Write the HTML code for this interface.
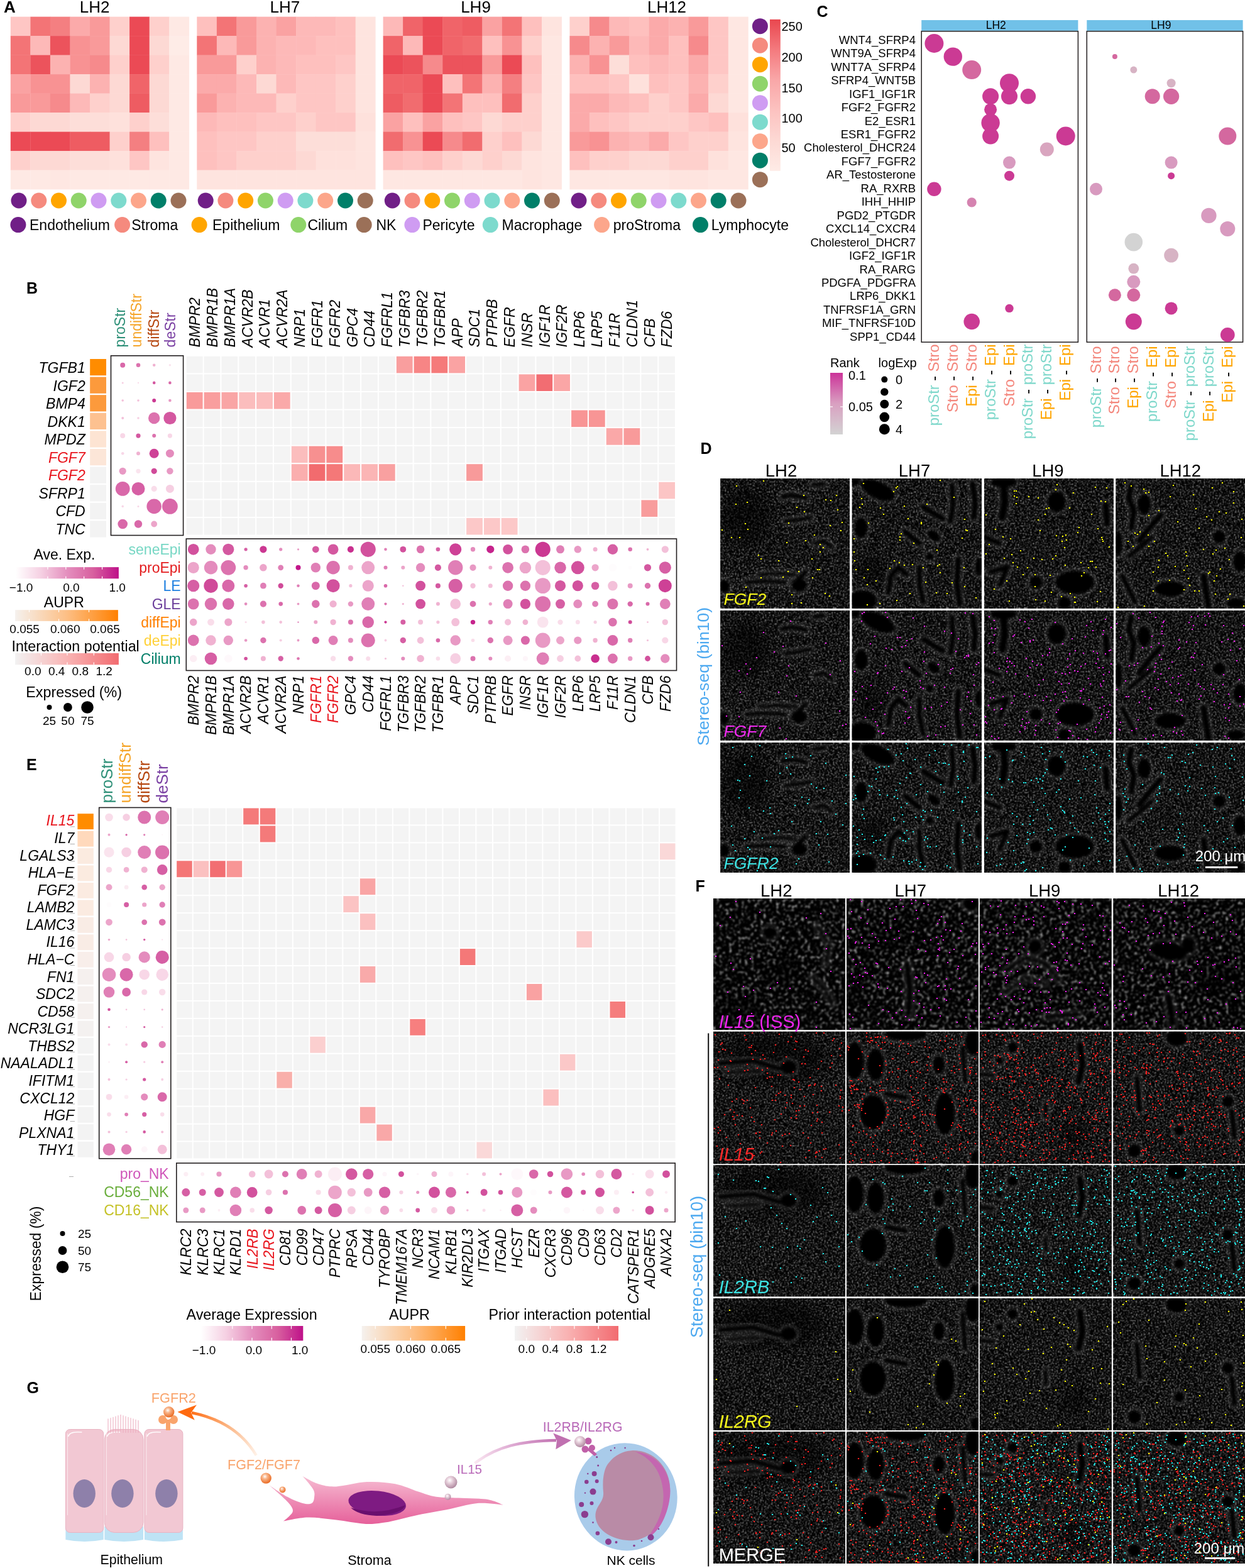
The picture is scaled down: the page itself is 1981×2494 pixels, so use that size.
<!DOCTYPE html><html><head><meta charset="utf-8"><title>Figure</title><style>html,body{margin:0;padding:0;background:#fff;}svg{display:block;}</style></head><body><svg width="1981" height="2494" viewBox="0 0 1981 2494" font-family='"Liberation Sans", Arial, sans-serif'><rect width="100%" height="100%" fill="#fff"/><text x="6" y="20" font-size="26" font-weight="bold">A</text>
<text x="150.7" y="20" font-size="26" text-anchor="middle">LH2</text>
<rect x="16.8" y="26.6" width="31.9" height="30.8" fill="#fec6c4"/>
<rect x="48.4" y="26.6" width="31.9" height="30.8" fill="#f37476"/>
<rect x="79.9" y="26.6" width="31.9" height="30.8" fill="#f47f81"/>
<rect x="111.5" y="26.6" width="31.9" height="30.8" fill="#fbaaaa"/>
<rect x="143" y="26.6" width="31.9" height="30.8" fill="#f99a9a"/>
<rect x="174.6" y="26.6" width="31.9" height="30.8" fill="#fed0cc"/>
<rect x="206.1" y="26.6" width="31.9" height="30.8" fill="#eb4a55"/>
<rect x="237.7" y="26.6" width="31.9" height="30.8" fill="#fed0cc"/>
<rect x="269.2" y="26.6" width="31.9" height="30.8" fill="#fee9e4"/>
<rect x="16.8" y="57.1" width="31.9" height="30.8" fill="#f37476"/>
<rect x="48.4" y="57.1" width="31.9" height="30.8" fill="#fdb9b8"/>
<rect x="79.9" y="57.1" width="31.9" height="30.8" fill="#ec535c"/>
<rect x="111.5" y="57.1" width="31.9" height="30.8" fill="#f89293"/>
<rect x="143" y="57.1" width="31.9" height="30.8" fill="#f99a9a"/>
<rect x="174.6" y="57.1" width="31.9" height="30.8" fill="#fdd9d4"/>
<rect x="206.1" y="57.1" width="31.9" height="30.8" fill="#eb4a55"/>
<rect x="237.7" y="57.1" width="31.9" height="30.8" fill="#fdd9d4"/>
<rect x="269.2" y="57.1" width="31.9" height="30.8" fill="#feece7"/>
<rect x="16.8" y="87.6" width="31.9" height="30.8" fill="#f37476"/>
<rect x="48.4" y="87.6" width="31.9" height="30.8" fill="#ec535c"/>
<rect x="79.9" y="87.6" width="31.9" height="30.8" fill="#fcb2b1"/>
<rect x="111.5" y="87.6" width="31.9" height="30.8" fill="#f89293"/>
<rect x="143" y="87.6" width="31.9" height="30.8" fill="#f68a8c"/>
<rect x="174.6" y="87.6" width="31.9" height="30.8" fill="#fed0cc"/>
<rect x="206.1" y="87.6" width="31.9" height="30.8" fill="#eb4a55"/>
<rect x="237.7" y="87.6" width="31.9" height="30.8" fill="#fed0cc"/>
<rect x="269.2" y="87.6" width="31.9" height="30.8" fill="#fee9e4"/>
<rect x="16.8" y="118.1" width="31.9" height="30.8" fill="#faa2a2"/>
<rect x="48.4" y="118.1" width="31.9" height="30.8" fill="#f89293"/>
<rect x="79.9" y="118.1" width="31.9" height="30.8" fill="#f89293"/>
<rect x="111.5" y="118.1" width="31.9" height="30.8" fill="#fdd9d4"/>
<rect x="143" y="118.1" width="31.9" height="30.8" fill="#fcb2b1"/>
<rect x="174.6" y="118.1" width="31.9" height="30.8" fill="#fdd9d4"/>
<rect x="206.1" y="118.1" width="31.9" height="30.8" fill="#f06469"/>
<rect x="237.7" y="118.1" width="31.9" height="30.8" fill="#fdd9d4"/>
<rect x="269.2" y="118.1" width="31.9" height="30.8" fill="#fee9e4"/>
<rect x="16.8" y="148.6" width="31.9" height="30.8" fill="#f99a9a"/>
<rect x="48.4" y="148.6" width="31.9" height="30.8" fill="#f99a9a"/>
<rect x="79.9" y="148.6" width="31.9" height="30.8" fill="#f68a8c"/>
<rect x="111.5" y="148.6" width="31.9" height="30.8" fill="#fdb9b8"/>
<rect x="143" y="148.6" width="31.9" height="30.8" fill="#fed0cc"/>
<rect x="174.6" y="148.6" width="31.9" height="30.8" fill="#fdd9d4"/>
<rect x="206.1" y="148.6" width="31.9" height="30.8" fill="#ee5c62"/>
<rect x="237.7" y="148.6" width="31.9" height="30.8" fill="#fdd9d4"/>
<rect x="269.2" y="148.6" width="31.9" height="30.8" fill="#fee9e4"/>
<rect x="16.8" y="179.1" width="31.9" height="30.8" fill="#fed0cc"/>
<rect x="48.4" y="179.1" width="31.9" height="30.8" fill="#fdd9d4"/>
<rect x="79.9" y="179.1" width="31.9" height="30.8" fill="#fdd9d4"/>
<rect x="111.5" y="179.1" width="31.9" height="30.8" fill="#fdded9"/>
<rect x="143" y="179.1" width="31.9" height="30.8" fill="#fdded9"/>
<rect x="174.6" y="179.1" width="31.9" height="30.8" fill="#fee1dc"/>
<rect x="206.1" y="179.1" width="31.9" height="30.8" fill="#fed0cc"/>
<rect x="237.7" y="179.1" width="31.9" height="30.8" fill="#fdded9"/>
<rect x="269.2" y="179.1" width="31.9" height="30.8" fill="#fee9e4"/>
<rect x="16.8" y="209.6" width="31.9" height="30.8" fill="#eb4a55"/>
<rect x="48.4" y="209.6" width="31.9" height="30.8" fill="#eb4a55"/>
<rect x="79.9" y="209.6" width="31.9" height="30.8" fill="#eb4a55"/>
<rect x="111.5" y="209.6" width="31.9" height="30.8" fill="#ee5c62"/>
<rect x="143" y="209.6" width="31.9" height="30.8" fill="#ee5c62"/>
<rect x="174.6" y="209.6" width="31.9" height="30.8" fill="#fed0cc"/>
<rect x="206.1" y="209.6" width="31.9" height="30.8" fill="#f47f81"/>
<rect x="237.7" y="209.6" width="31.9" height="30.8" fill="#fec0be"/>
<rect x="269.2" y="209.6" width="31.9" height="30.8" fill="#fee9e4"/>
<rect x="16.8" y="240.1" width="31.9" height="30.8" fill="#fed0cc"/>
<rect x="48.4" y="240.1" width="31.9" height="30.8" fill="#fdd9d4"/>
<rect x="79.9" y="240.1" width="31.9" height="30.8" fill="#fdd9d4"/>
<rect x="111.5" y="240.1" width="31.9" height="30.8" fill="#fdded9"/>
<rect x="143" y="240.1" width="31.9" height="30.8" fill="#fdded9"/>
<rect x="174.6" y="240.1" width="31.9" height="30.8" fill="#fee1dc"/>
<rect x="206.1" y="240.1" width="31.9" height="30.8" fill="#fec6c4"/>
<rect x="237.7" y="240.1" width="31.9" height="30.8" fill="#fee4df"/>
<rect x="269.2" y="240.1" width="31.9" height="30.8" fill="#fee9e4"/>
<rect x="16.8" y="270.6" width="31.9" height="30.8" fill="#fee9e4"/>
<rect x="48.4" y="270.6" width="31.9" height="30.8" fill="#fee9e4"/>
<rect x="79.9" y="270.6" width="31.9" height="30.8" fill="#fee7e2"/>
<rect x="111.5" y="270.6" width="31.9" height="30.8" fill="#fee9e4"/>
<rect x="143" y="270.6" width="31.9" height="30.8" fill="#fee9e4"/>
<rect x="174.6" y="270.6" width="31.9" height="30.8" fill="#fee9e4"/>
<rect x="206.1" y="270.6" width="31.9" height="30.8" fill="#fee9e4"/>
<rect x="237.7" y="270.6" width="31.9" height="30.8" fill="#fee9e4"/>
<rect x="269.2" y="270.6" width="31.9" height="30.8" fill="#fee9e4"/>
<circle cx="30" cy="319" r="12.5" fill="#701f87"/>
<circle cx="61.8" cy="319" r="12.5" fill="#f58a7e"/>
<circle cx="93.5" cy="319" r="12.5" fill="#ffa500"/>
<circle cx="125.2" cy="319" r="12.5" fill="#8fd46a"/>
<circle cx="157" cy="319" r="12.5" fill="#cf9cf2"/>
<circle cx="188.8" cy="319" r="12.5" fill="#7ddacd"/>
<circle cx="220.5" cy="319" r="12.5" fill="#fca68b"/>
<circle cx="252.2" cy="319" r="12.5" fill="#017f69"/>
<circle cx="284" cy="319" r="12.5" fill="#9b7058"/>
<text x="453.4" y="20" font-size="26" text-anchor="middle">LH7</text>
<rect x="313.3" y="26.6" width="31.9" height="30.8" fill="#fec0be"/>
<rect x="344.9" y="26.6" width="31.9" height="30.8" fill="#f37476"/>
<rect x="376.4" y="26.6" width="31.9" height="30.8" fill="#f99a9a"/>
<rect x="408" y="26.6" width="31.9" height="30.8" fill="#fcb2b1"/>
<rect x="439.5" y="26.6" width="31.9" height="30.8" fill="#faa2a2"/>
<rect x="471.1" y="26.6" width="31.9" height="30.8" fill="#fdb9b8"/>
<rect x="502.6" y="26.6" width="31.9" height="30.8" fill="#fdb9b8"/>
<rect x="534.1" y="26.6" width="31.9" height="30.8" fill="#fec0be"/>
<rect x="565.7" y="26.6" width="31.9" height="30.8" fill="#fee4df"/>
<rect x="313.3" y="57.1" width="31.9" height="30.8" fill="#f37476"/>
<rect x="344.9" y="57.1" width="31.9" height="30.8" fill="#fdb9b8"/>
<rect x="376.4" y="57.1" width="31.9" height="30.8" fill="#f99a9a"/>
<rect x="408" y="57.1" width="31.9" height="30.8" fill="#fcb2b1"/>
<rect x="439.5" y="57.1" width="31.9" height="30.8" fill="#fdb9b8"/>
<rect x="471.1" y="57.1" width="31.9" height="30.8" fill="#fdb9b8"/>
<rect x="502.6" y="57.1" width="31.9" height="30.8" fill="#fec0be"/>
<rect x="534.1" y="57.1" width="31.9" height="30.8" fill="#fec0be"/>
<rect x="565.7" y="57.1" width="31.9" height="30.8" fill="#fee4df"/>
<rect x="313.3" y="87.6" width="31.9" height="30.8" fill="#f99a9a"/>
<rect x="344.9" y="87.6" width="31.9" height="30.8" fill="#f99a9a"/>
<rect x="376.4" y="87.6" width="31.9" height="30.8" fill="#fed0cc"/>
<rect x="408" y="87.6" width="31.9" height="30.8" fill="#fcb2b1"/>
<rect x="439.5" y="87.6" width="31.9" height="30.8" fill="#fdb9b8"/>
<rect x="471.1" y="87.6" width="31.9" height="30.8" fill="#fec0be"/>
<rect x="502.6" y="87.6" width="31.9" height="30.8" fill="#fec0be"/>
<rect x="534.1" y="87.6" width="31.9" height="30.8" fill="#fec6c4"/>
<rect x="565.7" y="87.6" width="31.9" height="30.8" fill="#fee4df"/>
<rect x="313.3" y="118.1" width="31.9" height="30.8" fill="#fbaaaa"/>
<rect x="344.9" y="118.1" width="31.9" height="30.8" fill="#fbaaaa"/>
<rect x="376.4" y="118.1" width="31.9" height="30.8" fill="#fdb9b8"/>
<rect x="408" y="118.1" width="31.9" height="30.8" fill="#fdd9d4"/>
<rect x="439.5" y="118.1" width="31.9" height="30.8" fill="#fdb9b8"/>
<rect x="471.1" y="118.1" width="31.9" height="30.8" fill="#fec6c4"/>
<rect x="502.6" y="118.1" width="31.9" height="30.8" fill="#fec6c4"/>
<rect x="534.1" y="118.1" width="31.9" height="30.8" fill="#fed0cc"/>
<rect x="565.7" y="118.1" width="31.9" height="30.8" fill="#fee4df"/>
<rect x="313.3" y="148.6" width="31.9" height="30.8" fill="#f99a9a"/>
<rect x="344.9" y="148.6" width="31.9" height="30.8" fill="#fcb2b1"/>
<rect x="376.4" y="148.6" width="31.9" height="30.8" fill="#fdb9b8"/>
<rect x="408" y="148.6" width="31.9" height="30.8" fill="#fdb9b8"/>
<rect x="439.5" y="148.6" width="31.9" height="30.8" fill="#fed0cc"/>
<rect x="471.1" y="148.6" width="31.9" height="30.8" fill="#fec6c4"/>
<rect x="502.6" y="148.6" width="31.9" height="30.8" fill="#fec6c4"/>
<rect x="534.1" y="148.6" width="31.9" height="30.8" fill="#fed0cc"/>
<rect x="565.7" y="148.6" width="31.9" height="30.8" fill="#fee4df"/>
<rect x="313.3" y="179.1" width="31.9" height="30.8" fill="#fdb9b8"/>
<rect x="344.9" y="179.1" width="31.9" height="30.8" fill="#fec0be"/>
<rect x="376.4" y="179.1" width="31.9" height="30.8" fill="#fec0be"/>
<rect x="408" y="179.1" width="31.9" height="30.8" fill="#fec6c4"/>
<rect x="439.5" y="179.1" width="31.9" height="30.8" fill="#fec6c4"/>
<rect x="471.1" y="179.1" width="31.9" height="30.8" fill="#fed0cc"/>
<rect x="502.6" y="179.1" width="31.9" height="30.8" fill="#fec6c4"/>
<rect x="534.1" y="179.1" width="31.9" height="30.8" fill="#fec6c4"/>
<rect x="565.7" y="179.1" width="31.9" height="30.8" fill="#fee1dc"/>
<rect x="313.3" y="209.6" width="31.9" height="30.8" fill="#fec0be"/>
<rect x="344.9" y="209.6" width="31.9" height="30.8" fill="#fec6c4"/>
<rect x="376.4" y="209.6" width="31.9" height="30.8" fill="#fec6c4"/>
<rect x="408" y="209.6" width="31.9" height="30.8" fill="#fed0cc"/>
<rect x="439.5" y="209.6" width="31.9" height="30.8" fill="#fed0cc"/>
<rect x="471.1" y="209.6" width="31.9" height="30.8" fill="#fdded9"/>
<rect x="502.6" y="209.6" width="31.9" height="30.8" fill="#fdded9"/>
<rect x="534.1" y="209.6" width="31.9" height="30.8" fill="#fdded9"/>
<rect x="565.7" y="209.6" width="31.9" height="30.8" fill="#fee4df"/>
<rect x="313.3" y="240.1" width="31.9" height="30.8" fill="#fec0be"/>
<rect x="344.9" y="240.1" width="31.9" height="30.8" fill="#fec6c4"/>
<rect x="376.4" y="240.1" width="31.9" height="30.8" fill="#fed0cc"/>
<rect x="408" y="240.1" width="31.9" height="30.8" fill="#fed0cc"/>
<rect x="439.5" y="240.1" width="31.9" height="30.8" fill="#fed0cc"/>
<rect x="471.1" y="240.1" width="31.9" height="30.8" fill="#fdd9d4"/>
<rect x="502.6" y="240.1" width="31.9" height="30.8" fill="#fee1dc"/>
<rect x="534.1" y="240.1" width="31.9" height="30.8" fill="#fee1dc"/>
<rect x="565.7" y="240.1" width="31.9" height="30.8" fill="#fee4df"/>
<rect x="313.3" y="270.6" width="31.9" height="30.8" fill="#fee4df"/>
<rect x="344.9" y="270.6" width="31.9" height="30.8" fill="#fee4df"/>
<rect x="376.4" y="270.6" width="31.9" height="30.8" fill="#fee4df"/>
<rect x="408" y="270.6" width="31.9" height="30.8" fill="#fee4df"/>
<rect x="439.5" y="270.6" width="31.9" height="30.8" fill="#fee4df"/>
<rect x="471.1" y="270.6" width="31.9" height="30.8" fill="#fee4df"/>
<rect x="502.6" y="270.6" width="31.9" height="30.8" fill="#fee4df"/>
<rect x="534.1" y="270.6" width="31.9" height="30.8" fill="#fee4df"/>
<rect x="565.7" y="270.6" width="31.9" height="30.8" fill="#fee4df"/>
<circle cx="327.2" cy="319" r="12.5" fill="#701f87"/>
<circle cx="358.9" cy="319" r="12.5" fill="#f58a7e"/>
<circle cx="390.7" cy="319" r="12.5" fill="#ffa500"/>
<circle cx="422.4" cy="319" r="12.5" fill="#8fd46a"/>
<circle cx="454.2" cy="319" r="12.5" fill="#cf9cf2"/>
<circle cx="485.9" cy="319" r="12.5" fill="#7ddacd"/>
<circle cx="517.7" cy="319" r="12.5" fill="#fca68b"/>
<circle cx="549.5" cy="319" r="12.5" fill="#017f69"/>
<circle cx="581.2" cy="319" r="12.5" fill="#9b7058"/>
<text x="757" y="20" font-size="26" text-anchor="middle">LH9</text>
<rect x="609.6" y="26.6" width="31.9" height="30.8" fill="#fdb9b8"/>
<rect x="641.1" y="26.6" width="31.9" height="30.8" fill="#f06469"/>
<rect x="672.7" y="26.6" width="31.9" height="30.8" fill="#eb4a55"/>
<rect x="704.2" y="26.6" width="31.9" height="30.8" fill="#f06469"/>
<rect x="735.8" y="26.6" width="31.9" height="30.8" fill="#ee5c62"/>
<rect x="767.4" y="26.6" width="31.9" height="30.8" fill="#faa2a2"/>
<rect x="798.9" y="26.6" width="31.9" height="30.8" fill="#f37476"/>
<rect x="830.5" y="26.6" width="31.9" height="30.8" fill="#fec0be"/>
<rect x="862" y="26.6" width="31.9" height="30.8" fill="#fee4df"/>
<rect x="609.6" y="57.1" width="31.9" height="30.8" fill="#f06469"/>
<rect x="641.1" y="57.1" width="31.9" height="30.8" fill="#fdb9b8"/>
<rect x="672.7" y="57.1" width="31.9" height="30.8" fill="#eb4a55"/>
<rect x="704.2" y="57.1" width="31.9" height="30.8" fill="#f06469"/>
<rect x="735.8" y="57.1" width="31.9" height="30.8" fill="#f16c6f"/>
<rect x="767.4" y="57.1" width="31.9" height="30.8" fill="#fec0be"/>
<rect x="798.9" y="57.1" width="31.9" height="30.8" fill="#f89293"/>
<rect x="830.5" y="57.1" width="31.9" height="30.8" fill="#fed0cc"/>
<rect x="862" y="57.1" width="31.9" height="30.8" fill="#fee7e2"/>
<rect x="609.6" y="87.6" width="31.9" height="30.8" fill="#eb4a55"/>
<rect x="641.1" y="87.6" width="31.9" height="30.8" fill="#ec535c"/>
<rect x="672.7" y="87.6" width="31.9" height="30.8" fill="#f68a8c"/>
<rect x="704.2" y="87.6" width="31.9" height="30.8" fill="#ec535c"/>
<rect x="735.8" y="87.6" width="31.9" height="30.8" fill="#ec535c"/>
<rect x="767.4" y="87.6" width="31.9" height="30.8" fill="#f99a9a"/>
<rect x="798.9" y="87.6" width="31.9" height="30.8" fill="#eb4a55"/>
<rect x="830.5" y="87.6" width="31.9" height="30.8" fill="#fec0be"/>
<rect x="862" y="87.6" width="31.9" height="30.8" fill="#fee7e2"/>
<rect x="609.6" y="118.1" width="31.9" height="30.8" fill="#f06469"/>
<rect x="641.1" y="118.1" width="31.9" height="30.8" fill="#f06469"/>
<rect x="672.7" y="118.1" width="31.9" height="30.8" fill="#eb4a55"/>
<rect x="704.2" y="118.1" width="31.9" height="30.8" fill="#fec0be"/>
<rect x="735.8" y="118.1" width="31.9" height="30.8" fill="#f37476"/>
<rect x="767.4" y="118.1" width="31.9" height="30.8" fill="#fcb2b1"/>
<rect x="798.9" y="118.1" width="31.9" height="30.8" fill="#f47f81"/>
<rect x="830.5" y="118.1" width="31.9" height="30.8" fill="#fec6c4"/>
<rect x="862" y="118.1" width="31.9" height="30.8" fill="#fee7e2"/>
<rect x="609.6" y="148.6" width="31.9" height="30.8" fill="#ee5c62"/>
<rect x="641.1" y="148.6" width="31.9" height="30.8" fill="#f16c6f"/>
<rect x="672.7" y="148.6" width="31.9" height="30.8" fill="#eb4a55"/>
<rect x="704.2" y="148.6" width="31.9" height="30.8" fill="#f37476"/>
<rect x="735.8" y="148.6" width="31.9" height="30.8" fill="#fec0be"/>
<rect x="767.4" y="148.6" width="31.9" height="30.8" fill="#fec0be"/>
<rect x="798.9" y="148.6" width="31.9" height="30.8" fill="#f16c6f"/>
<rect x="830.5" y="148.6" width="31.9" height="30.8" fill="#fed0cc"/>
<rect x="862" y="148.6" width="31.9" height="30.8" fill="#fee7e2"/>
<rect x="609.6" y="179.1" width="31.9" height="30.8" fill="#faa2a2"/>
<rect x="641.1" y="179.1" width="31.9" height="30.8" fill="#fec0be"/>
<rect x="672.7" y="179.1" width="31.9" height="30.8" fill="#faa2a2"/>
<rect x="704.2" y="179.1" width="31.9" height="30.8" fill="#fec0be"/>
<rect x="735.8" y="179.1" width="31.9" height="30.8" fill="#fec6c4"/>
<rect x="767.4" y="179.1" width="31.9" height="30.8" fill="#fdd9d4"/>
<rect x="798.9" y="179.1" width="31.9" height="30.8" fill="#fed0cc"/>
<rect x="830.5" y="179.1" width="31.9" height="30.8" fill="#fed0cc"/>
<rect x="862" y="179.1" width="31.9" height="30.8" fill="#fee7e2"/>
<rect x="609.6" y="209.6" width="31.9" height="30.8" fill="#f16c6f"/>
<rect x="641.1" y="209.6" width="31.9" height="30.8" fill="#f89293"/>
<rect x="672.7" y="209.6" width="31.9" height="30.8" fill="#eb4a55"/>
<rect x="704.2" y="209.6" width="31.9" height="30.8" fill="#f68a8c"/>
<rect x="735.8" y="209.6" width="31.9" height="30.8" fill="#f16c6f"/>
<rect x="767.4" y="209.6" width="31.9" height="30.8" fill="#fed0cc"/>
<rect x="798.9" y="209.6" width="31.9" height="30.8" fill="#fec0be"/>
<rect x="830.5" y="209.6" width="31.9" height="30.8" fill="#fdd9d4"/>
<rect x="862" y="209.6" width="31.9" height="30.8" fill="#fee7e2"/>
<rect x="609.6" y="240.1" width="31.9" height="30.8" fill="#fec0be"/>
<rect x="641.1" y="240.1" width="31.9" height="30.8" fill="#fec6c4"/>
<rect x="672.7" y="240.1" width="31.9" height="30.8" fill="#fec0be"/>
<rect x="704.2" y="240.1" width="31.9" height="30.8" fill="#fed0cc"/>
<rect x="735.8" y="240.1" width="31.9" height="30.8" fill="#fdd9d4"/>
<rect x="767.4" y="240.1" width="31.9" height="30.8" fill="#fed0cc"/>
<rect x="798.9" y="240.1" width="31.9" height="30.8" fill="#fdd9d4"/>
<rect x="830.5" y="240.1" width="31.9" height="30.8" fill="#fee4df"/>
<rect x="862" y="240.1" width="31.9" height="30.8" fill="#fee7e2"/>
<rect x="609.6" y="270.6" width="31.9" height="30.8" fill="#fee7e2"/>
<rect x="641.1" y="270.6" width="31.9" height="30.8" fill="#fee7e2"/>
<rect x="672.7" y="270.6" width="31.9" height="30.8" fill="#fee7e2"/>
<rect x="704.2" y="270.6" width="31.9" height="30.8" fill="#fee7e2"/>
<rect x="735.8" y="270.6" width="31.9" height="30.8" fill="#fee7e2"/>
<rect x="767.4" y="270.6" width="31.9" height="30.8" fill="#fee7e2"/>
<rect x="798.9" y="270.6" width="31.9" height="30.8" fill="#fee7e2"/>
<rect x="830.5" y="270.6" width="31.9" height="30.8" fill="#fee4df"/>
<rect x="862" y="270.6" width="31.9" height="30.8" fill="#fee7e2"/>
<circle cx="624.3" cy="319" r="12.5" fill="#701f87"/>
<circle cx="656" cy="319" r="12.5" fill="#f58a7e"/>
<circle cx="687.8" cy="319" r="12.5" fill="#ffa500"/>
<circle cx="719.5" cy="319" r="12.5" fill="#8fd46a"/>
<circle cx="751.3" cy="319" r="12.5" fill="#cf9cf2"/>
<circle cx="783" cy="319" r="12.5" fill="#7ddacd"/>
<circle cx="814.8" cy="319" r="12.5" fill="#fca68b"/>
<circle cx="846.5" cy="319" r="12.5" fill="#017f69"/>
<circle cx="878.3" cy="319" r="12.5" fill="#9b7058"/>
<text x="1061" y="20" font-size="26" text-anchor="middle">LH12</text>
<rect x="906.4" y="26.6" width="31.9" height="30.8" fill="#fed0cc"/>
<rect x="937.9" y="26.6" width="31.9" height="30.8" fill="#f68a8c"/>
<rect x="969.5" y="26.6" width="31.9" height="30.8" fill="#fdb9b8"/>
<rect x="1001" y="26.6" width="31.9" height="30.8" fill="#fec0be"/>
<rect x="1032.6" y="26.6" width="31.9" height="30.8" fill="#fbaaaa"/>
<rect x="1064.2" y="26.6" width="31.9" height="30.8" fill="#fcb2b1"/>
<rect x="1095.7" y="26.6" width="31.9" height="30.8" fill="#f99a9a"/>
<rect x="1127.2" y="26.6" width="31.9" height="30.8" fill="#fec6c4"/>
<rect x="1158.8" y="26.6" width="31.9" height="30.8" fill="#fee7e2"/>
<rect x="906.4" y="57.1" width="31.9" height="30.8" fill="#f68a8c"/>
<rect x="937.9" y="57.1" width="31.9" height="30.8" fill="#fcb2b1"/>
<rect x="969.5" y="57.1" width="31.9" height="30.8" fill="#f99a9a"/>
<rect x="1001" y="57.1" width="31.9" height="30.8" fill="#fdb9b8"/>
<rect x="1032.6" y="57.1" width="31.9" height="30.8" fill="#fbaaaa"/>
<rect x="1064.2" y="57.1" width="31.9" height="30.8" fill="#fec0be"/>
<rect x="1095.7" y="57.1" width="31.9" height="30.8" fill="#f68a8c"/>
<rect x="1127.2" y="57.1" width="31.9" height="30.8" fill="#fec6c4"/>
<rect x="1158.8" y="57.1" width="31.9" height="30.8" fill="#fee7e2"/>
<rect x="906.4" y="87.6" width="31.9" height="30.8" fill="#fcb2b1"/>
<rect x="937.9" y="87.6" width="31.9" height="30.8" fill="#f89293"/>
<rect x="969.5" y="87.6" width="31.9" height="30.8" fill="#fdded9"/>
<rect x="1001" y="87.6" width="31.9" height="30.8" fill="#fec0be"/>
<rect x="1032.6" y="87.6" width="31.9" height="30.8" fill="#fdb9b8"/>
<rect x="1064.2" y="87.6" width="31.9" height="30.8" fill="#fec0be"/>
<rect x="1095.7" y="87.6" width="31.9" height="30.8" fill="#fbaaaa"/>
<rect x="1127.2" y="87.6" width="31.9" height="30.8" fill="#fec6c4"/>
<rect x="1158.8" y="87.6" width="31.9" height="30.8" fill="#fee7e2"/>
<rect x="906.4" y="118.1" width="31.9" height="30.8" fill="#fec0be"/>
<rect x="937.9" y="118.1" width="31.9" height="30.8" fill="#fec0be"/>
<rect x="969.5" y="118.1" width="31.9" height="30.8" fill="#fec6c4"/>
<rect x="1001" y="118.1" width="31.9" height="30.8" fill="#fee1dc"/>
<rect x="1032.6" y="118.1" width="31.9" height="30.8" fill="#fec0be"/>
<rect x="1064.2" y="118.1" width="31.9" height="30.8" fill="#fec6c4"/>
<rect x="1095.7" y="118.1" width="31.9" height="30.8" fill="#fcb2b1"/>
<rect x="1127.2" y="118.1" width="31.9" height="30.8" fill="#fed0cc"/>
<rect x="1158.8" y="118.1" width="31.9" height="30.8" fill="#fee7e2"/>
<rect x="906.4" y="148.6" width="31.9" height="30.8" fill="#fbaaaa"/>
<rect x="937.9" y="148.6" width="31.9" height="30.8" fill="#fbaaaa"/>
<rect x="969.5" y="148.6" width="31.9" height="30.8" fill="#fdb9b8"/>
<rect x="1001" y="148.6" width="31.9" height="30.8" fill="#fec0be"/>
<rect x="1032.6" y="148.6" width="31.9" height="30.8" fill="#fed0cc"/>
<rect x="1064.2" y="148.6" width="31.9" height="30.8" fill="#fec6c4"/>
<rect x="1095.7" y="148.6" width="31.9" height="30.8" fill="#fbaaaa"/>
<rect x="1127.2" y="148.6" width="31.9" height="30.8" fill="#fdd9d4"/>
<rect x="1158.8" y="148.6" width="31.9" height="30.8" fill="#fee7e2"/>
<rect x="906.4" y="179.1" width="31.9" height="30.8" fill="#fbaaaa"/>
<rect x="937.9" y="179.1" width="31.9" height="30.8" fill="#fec0be"/>
<rect x="969.5" y="179.1" width="31.9" height="30.8" fill="#fec6c4"/>
<rect x="1001" y="179.1" width="31.9" height="30.8" fill="#fed0cc"/>
<rect x="1032.6" y="179.1" width="31.9" height="30.8" fill="#fed0cc"/>
<rect x="1064.2" y="179.1" width="31.9" height="30.8" fill="#fed0cc"/>
<rect x="1095.7" y="179.1" width="31.9" height="30.8" fill="#fec6c4"/>
<rect x="1127.2" y="179.1" width="31.9" height="30.8" fill="#fec0be"/>
<rect x="1158.8" y="179.1" width="31.9" height="30.8" fill="#fee1dc"/>
<rect x="906.4" y="209.6" width="31.9" height="30.8" fill="#f99a9a"/>
<rect x="937.9" y="209.6" width="31.9" height="30.8" fill="#f89293"/>
<rect x="969.5" y="209.6" width="31.9" height="30.8" fill="#fcb2b1"/>
<rect x="1001" y="209.6" width="31.9" height="30.8" fill="#fdb9b8"/>
<rect x="1032.6" y="209.6" width="31.9" height="30.8" fill="#fbaaaa"/>
<rect x="1064.2" y="209.6" width="31.9" height="30.8" fill="#fec6c4"/>
<rect x="1095.7" y="209.6" width="31.9" height="30.8" fill="#fed0cc"/>
<rect x="1127.2" y="209.6" width="31.9" height="30.8" fill="#fed0cc"/>
<rect x="1158.8" y="209.6" width="31.9" height="30.8" fill="#fee4df"/>
<rect x="906.4" y="240.1" width="31.9" height="30.8" fill="#fec0be"/>
<rect x="937.9" y="240.1" width="31.9" height="30.8" fill="#fed0cc"/>
<rect x="969.5" y="240.1" width="31.9" height="30.8" fill="#fed0cc"/>
<rect x="1001" y="240.1" width="31.9" height="30.8" fill="#fdd9d4"/>
<rect x="1032.6" y="240.1" width="31.9" height="30.8" fill="#fdd9d4"/>
<rect x="1064.2" y="240.1" width="31.9" height="30.8" fill="#fed0cc"/>
<rect x="1095.7" y="240.1" width="31.9" height="30.8" fill="#fed0cc"/>
<rect x="1127.2" y="240.1" width="31.9" height="30.8" fill="#fee1dc"/>
<rect x="1158.8" y="240.1" width="31.9" height="30.8" fill="#fee7e2"/>
<rect x="906.4" y="270.6" width="31.9" height="30.8" fill="#fee7e2"/>
<rect x="937.9" y="270.6" width="31.9" height="30.8" fill="#fee7e2"/>
<rect x="969.5" y="270.6" width="31.9" height="30.8" fill="#fee7e2"/>
<rect x="1001" y="270.6" width="31.9" height="30.8" fill="#fee7e2"/>
<rect x="1032.6" y="270.6" width="31.9" height="30.8" fill="#fee7e2"/>
<rect x="1064.2" y="270.6" width="31.9" height="30.8" fill="#fee4df"/>
<rect x="1095.7" y="270.6" width="31.9" height="30.8" fill="#fee4df"/>
<rect x="1127.2" y="270.6" width="31.9" height="30.8" fill="#fee7e2"/>
<rect x="1158.8" y="270.6" width="31.9" height="30.8" fill="#fee7e2"/>
<circle cx="921" cy="319" r="12.5" fill="#701f87"/>
<circle cx="952.8" cy="319" r="12.5" fill="#f58a7e"/>
<circle cx="984.5" cy="319" r="12.5" fill="#ffa500"/>
<circle cx="1016.2" cy="319" r="12.5" fill="#8fd46a"/>
<circle cx="1048" cy="319" r="12.5" fill="#cf9cf2"/>
<circle cx="1079.8" cy="319" r="12.5" fill="#7ddacd"/>
<circle cx="1111.5" cy="319" r="12.5" fill="#fca68b"/>
<circle cx="1143.2" cy="319" r="12.5" fill="#017f69"/>
<circle cx="1175" cy="319" r="12.5" fill="#9b7058"/>
<circle cx="1209.4" cy="41.7" r="12.5" fill="#701f87"/>
<circle cx="1209.4" cy="72.2" r="12.5" fill="#f58a7e"/>
<circle cx="1209.4" cy="102.7" r="12.5" fill="#ffa500"/>
<circle cx="1209.4" cy="133.2" r="12.5" fill="#8fd46a"/>
<circle cx="1209.4" cy="163.7" r="12.5" fill="#cf9cf2"/>
<circle cx="1209.4" cy="194.2" r="12.5" fill="#7ddacd"/>
<circle cx="1209.4" cy="224.7" r="12.5" fill="#fca68b"/>
<circle cx="1209.4" cy="255.2" r="12.5" fill="#017f69"/>
<circle cx="1209.4" cy="285.7" r="12.5" fill="#9b7058"/>
<defs><linearGradient id="gA" x1="0" y1="1" x2="0" y2="0"><stop offset="0" stop-color="#feebe6"/><stop offset="0.2" stop-color="#fdd9d4"/><stop offset="0.4" stop-color="#fcc2c0"/><stop offset="0.6" stop-color="#f9a7a8"/><stop offset="0.8" stop-color="#f47a7e"/><stop offset="1" stop-color="#e9474f"/></linearGradient></defs>
<rect x="1225" y="30.9" width="16.8" height="240.9" fill="url(#gA)"/>
<text x="1243.5" y="48.9" font-size="20">250</text>
<text x="1243.5" y="97.5" font-size="20">200</text>
<text x="1243.5" y="146.8" font-size="20">150</text>
<text x="1243.5" y="194.6" font-size="20">100</text>
<text x="1243.5" y="242.2" font-size="20">50</text>
<circle cx="28.9" cy="357.6" r="12.5" fill="#701f87"/>
<text x="47" y="365.8" font-size="23">Endothelium</text>
<circle cx="194.6" cy="357.6" r="12.5" fill="#f58a7e"/>
<text x="209.2" y="365.8" font-size="23">Stroma</text>
<circle cx="317.1" cy="357.6" r="12.5" fill="#ffa500"/>
<text x="338" y="365.8" font-size="23">Epithelium</text>
<circle cx="474.8" cy="357.6" r="12.5" fill="#8fd46a"/>
<text x="489.4" y="365.8" font-size="23">Cilium</text>
<circle cx="579.2" cy="357.6" r="12.5" fill="#9b7058"/>
<text x="598.5" y="365.8" font-size="23">NK</text>
<circle cx="655.9" cy="357.6" r="12.5" fill="#cf9cf2"/>
<text x="672.4" y="365.8" font-size="23">Pericyte</text>
<circle cx="780.3" cy="357.6" r="12.5" fill="#7ddacd"/>
<text x="798.5" y="365.8" font-size="23">Macrophage</text>
<circle cx="957.6" cy="357.6" r="12.5" fill="#fca68b"/>
<text x="975.7" y="365.8" font-size="23">proStroma</text>
<circle cx="1114.5" cy="357.6" r="12.5" fill="#017f69"/>
<text x="1131.8" y="365.8" font-size="23">Lymphocyte</text>
<text x="1299.5" y="27.4" font-size="25" font-weight="bold">C</text>
<rect x="1466.2" y="32" width="249.2" height="16.8" fill="#71c1e8"/>
<text x="1584.8" y="46.3" font-size="17.5" text-anchor="middle">LH2</text>
<rect x="1466.2" y="49.7" width="249.2" height="494.5" fill="none" stroke="#231f20" stroke-width="1.5"/>
<rect x="1729.3" y="32" width="248.3" height="16.8" fill="#71c1e8"/>
<text x="1847.4" y="46.3" font-size="17.5" text-anchor="middle">LH9</text>
<rect x="1729.3" y="49.7" width="248.3" height="494.5" fill="none" stroke="#231f20" stroke-width="1.5"/>
<text x="1457" y="69.7" font-size="18.5" text-anchor="end">WNT4_SFRP4</text>
<text x="1457" y="91.2" font-size="18.5" text-anchor="end">WNT9A_SFRP4</text>
<text x="1457" y="112.6" font-size="18.5" text-anchor="end">WNT7A_SFRP4</text>
<text x="1457" y="134.1" font-size="18.5" text-anchor="end">SFRP4_WNT5B</text>
<text x="1457" y="155.5" font-size="18.5" text-anchor="end">IGF1_IGF1R</text>
<text x="1457" y="177" font-size="18.5" text-anchor="end">FGF2_FGFR2</text>
<text x="1457" y="198.5" font-size="18.5" text-anchor="end">E2_ESR1</text>
<text x="1457" y="219.9" font-size="18.5" text-anchor="end">ESR1_FGFR2</text>
<text x="1457" y="241.4" font-size="18.5" text-anchor="end">Cholesterol_DHCR24</text>
<text x="1457" y="262.8" font-size="18.5" text-anchor="end">FGF7_FGFR2</text>
<text x="1457" y="284.3" font-size="18.5" text-anchor="end">AR_Testosterone</text>
<text x="1457" y="305.8" font-size="18.5" text-anchor="end">RA_RXRB</text>
<text x="1457" y="327.2" font-size="18.5" text-anchor="end">IHH_HHIP</text>
<text x="1457" y="348.7" font-size="18.5" text-anchor="end">PGD2_PTGDR</text>
<text x="1457" y="370.1" font-size="18.5" text-anchor="end">CXCL14_CXCR4</text>
<text x="1457" y="391.6" font-size="18.5" text-anchor="end">Cholesterol_DHCR7</text>
<text x="1457" y="413.1" font-size="18.5" text-anchor="end">IGF2_IGF1R</text>
<text x="1457" y="434.5" font-size="18.5" text-anchor="end">RA_RARG</text>
<text x="1457" y="456" font-size="18.5" text-anchor="end">PDGFA_PDGFRA</text>
<text x="1457" y="477.4" font-size="18.5" text-anchor="end">LRP6_DKK1</text>
<text x="1457" y="498.9" font-size="18.5" text-anchor="end">TNFRSF1A_GRN</text>
<text x="1457" y="520.4" font-size="18.5" text-anchor="end">MIF_TNFRSF10D</text>
<text x="1457" y="541.8" font-size="18.5" text-anchor="end">SPP1_CD44</text>
<circle cx="1486.4" cy="69" r="15" fill="#cb3a94"/>
<circle cx="1516.3" cy="90.1" r="14.7" fill="#cb3a94"/>
<circle cx="1546.2" cy="111.1" r="15" fill="#d4689f"/>
<circle cx="1606" cy="132.2" r="15" fill="#cb3a94"/>
<circle cx="1576.1" cy="153.3" r="13" fill="#cb3a94"/>
<circle cx="1606" cy="153.3" r="13" fill="#cb3a94"/>
<circle cx="1635.9" cy="153.3" r="12.2" fill="#cb3a94"/>
<circle cx="1576.1" cy="174.3" r="10" fill="#cb3a94"/>
<circle cx="1576.1" cy="195.4" r="14.7" fill="#cb3a94"/>
<circle cx="1576.1" cy="216.5" r="13" fill="#cb3a94"/>
<circle cx="1695.7" cy="216.5" r="15" fill="#cb3a94"/>
<circle cx="1665.8" cy="237.6" r="11" fill="#d9a5bf"/>
<circle cx="1606" cy="258.6" r="10" fill="#d89abf"/>
<circle cx="1606" cy="279.7" r="8" fill="#cb3a94"/>
<circle cx="1486.4" cy="300.8" r="11.2" fill="#cb3a94"/>
<circle cx="1546.2" cy="321.8" r="7.6" fill="#d583b0"/>
<circle cx="1606" cy="490.4" r="6.7" fill="#cb3a94"/>
<circle cx="1546.2" cy="511.5" r="12.8" fill="#cb3a94"/>
<circle cx="1773.9" cy="90.1" r="4" fill="#d4689f"/>
<circle cx="1803.8" cy="111.1" r="5.5" fill="#d7b3c4"/>
<circle cx="1863.6" cy="132.2" r="7" fill="#d7b3c4"/>
<circle cx="1833.7" cy="153.3" r="12" fill="#d4689f"/>
<circle cx="1863.6" cy="153.3" r="12.6" fill="#d4689f"/>
<circle cx="1953.3" cy="216.5" r="14" fill="#d4689f"/>
<circle cx="1863.6" cy="258.6" r="10" fill="#d89abf"/>
<circle cx="1863.6" cy="279.7" r="5.5" fill="#cb3a94"/>
<circle cx="1744" cy="300.8" r="10" fill="#d89abf"/>
<circle cx="1923.4" cy="342.9" r="12.2" fill="#d89abf"/>
<circle cx="1953.3" cy="364" r="12" fill="#d89abf"/>
<circle cx="1803.8" cy="385.1" r="14.3" fill="#d3d3d3"/>
<circle cx="1863.6" cy="406.1" r="11.4" fill="#d7b3c4"/>
<circle cx="1803.8" cy="427.2" r="8.4" fill="#d7b3c4"/>
<circle cx="1803.8" cy="448.3" r="10.5" fill="#d89abf"/>
<circle cx="1773.9" cy="469.3" r="10" fill="#d4689f"/>
<circle cx="1803.8" cy="469.3" r="10.5" fill="#d4689f"/>
<circle cx="1863.6" cy="490.4" r="10" fill="#cb3a94"/>
<circle cx="1803.8" cy="511.5" r="13" fill="#cb3a94"/>
<circle cx="1953.3" cy="532.5" r="11.4" fill="#cb3a94"/>
<text transform="translate(1493.9 547.5) rotate(-90)" font-size="23.8" text-anchor="end"><tspan fill="#7fd8cb">proStr</tspan> - <tspan fill="#f4877d">Stro</tspan></text>
<text transform="translate(1523.8 547.5) rotate(-90)" font-size="23.8" text-anchor="end"><tspan fill="#f4877d">Stro</tspan> - <tspan fill="#f4877d">Stro</tspan></text>
<text transform="translate(1553.7 547.5) rotate(-90)" font-size="23.8" text-anchor="end"><tspan fill="#ffa500">Epi</tspan> - <tspan fill="#f4877d">Stro</tspan></text>
<text transform="translate(1583.6 547.5) rotate(-90)" font-size="23.8" text-anchor="end"><tspan fill="#7fd8cb">proStr</tspan> - <tspan fill="#ffa500">Epi</tspan></text>
<text transform="translate(1613.5 547.5) rotate(-90)" font-size="23.8" text-anchor="end"><tspan fill="#f4877d">Stro</tspan> - <tspan fill="#ffa500">Epi</tspan></text>
<text transform="translate(1643.4 547.5) rotate(-90)" font-size="23.8" text-anchor="end"><tspan fill="#7fd8cb">proStr</tspan> - <tspan fill="#7fd8cb">proStr</tspan></text>
<text transform="translate(1673.3 547.5) rotate(-90)" font-size="23.8" text-anchor="end"><tspan fill="#ffa500">Epi</tspan> - <tspan fill="#7fd8cb">proStr</tspan></text>
<text transform="translate(1703.2 547.5) rotate(-90)" font-size="23.8" text-anchor="end"><tspan fill="#ffa500">Epi</tspan> - <tspan fill="#ffa500">Epi</tspan></text>
<text transform="translate(1751.5 550.5) rotate(-90)" font-size="23.8" text-anchor="end"><tspan fill="#7fd8cb">proStr</tspan> - <tspan fill="#f4877d">Stro</tspan></text>
<text transform="translate(1781.4 550.5) rotate(-90)" font-size="23.8" text-anchor="end"><tspan fill="#f4877d">Stro</tspan> - <tspan fill="#f4877d">Stro</tspan></text>
<text transform="translate(1811.3 550.5) rotate(-90)" font-size="23.8" text-anchor="end"><tspan fill="#ffa500">Epi</tspan> - <tspan fill="#f4877d">Stro</tspan></text>
<text transform="translate(1841.2 550.5) rotate(-90)" font-size="23.8" text-anchor="end"><tspan fill="#7fd8cb">proStr</tspan> - <tspan fill="#ffa500">Epi</tspan></text>
<text transform="translate(1871.1 550.5) rotate(-90)" font-size="23.8" text-anchor="end"><tspan fill="#f4877d">Stro</tspan> - <tspan fill="#ffa500">Epi</tspan></text>
<text transform="translate(1901 550.5) rotate(-90)" font-size="23.8" text-anchor="end"><tspan fill="#7fd8cb">proStr</tspan> - <tspan fill="#7fd8cb">proStr</tspan></text>
<text transform="translate(1930.9 550.5) rotate(-90)" font-size="23.8" text-anchor="end"><tspan fill="#ffa500">Epi</tspan> - <tspan fill="#7fd8cb">proStr</tspan></text>
<text transform="translate(1960.8 550.5) rotate(-90)" font-size="23.8" text-anchor="end"><tspan fill="#ffa500">Epi</tspan> - <tspan fill="#ffa500">Epi</tspan></text>
<text x="1321" y="583.5" font-size="20">Rank</text>
<defs><linearGradient id="gR" x1="0" y1="0" x2="0" y2="1"><stop offset="0" stop-color="#cc3399"/><stop offset="0.5" stop-color="#d9a0c1"/><stop offset="1" stop-color="#d3d3d3"/></linearGradient></defs>
<rect x="1321" y="593" width="20" height="98" fill="url(#gR)"/>
<line x1="1321" y1="647" x2="1325" y2="647" stroke="#fff" stroke-width="1.2"/>
<line x1="1337" y1="647" x2="1341" y2="647" stroke="#fff" stroke-width="1.2"/>
<text x="1350" y="604" font-size="20">0.1</text>
<text x="1350" y="654" font-size="20">0.05</text>
<text x="1397.6" y="583.5" font-size="20">logExp</text>
<circle cx="1407.3" cy="603.6" r="5" fill="#000"/>
<circle cx="1407.3" cy="623.4" r="6.2" fill="#000"/>
<circle cx="1407.3" cy="642.8" r="7" fill="#000"/>
<circle cx="1407.3" cy="663.4" r="7.8" fill="#000"/>
<circle cx="1407.3" cy="682.8" r="8.5" fill="#000"/>
<text x="1425" y="610.6" font-size="20">0</text>
<text x="1425" y="649.8" font-size="20">2</text>
<text x="1425" y="689.8" font-size="20">4</text>
<text x="42" y="466.5" font-size="25" font-weight="bold">B</text>
<text transform="translate(199.2 552.4) rotate(-90)" font-size="23" fill="#2e9078">proStr</text>
<text transform="translate(225.4 552.4) rotate(-90)" font-size="23" fill="#f5a52a">undiffStr</text>
<text transform="translate(252.5 552.4) rotate(-90)" font-size="23" fill="#b5460f">diffStr</text>
<text transform="translate(279.3 552.4) rotate(-90)" font-size="23" fill="#7b41a3">deStr</text>
<text transform="translate(318 552.4) rotate(-90)" font-size="23" font-style="italic">BMPR2</text>
<text transform="translate(345.8 552.4) rotate(-90)" font-size="23" font-style="italic">BMPR1B</text>
<text transform="translate(373.7 552.4) rotate(-90)" font-size="23" font-style="italic">BMPR1A</text>
<text transform="translate(401.5 552.4) rotate(-90)" font-size="23" font-style="italic">ACVR2B</text>
<text transform="translate(429.3 552.4) rotate(-90)" font-size="23" font-style="italic">ACVR1</text>
<text transform="translate(457.2 552.4) rotate(-90)" font-size="23" font-style="italic">ACVR2A</text>
<text transform="translate(485 552.4) rotate(-90)" font-size="23" font-style="italic">NRP1</text>
<text transform="translate(512.8 552.4) rotate(-90)" font-size="23" font-style="italic">FGFR1</text>
<text transform="translate(540.7 552.4) rotate(-90)" font-size="23" font-style="italic">FGFR2</text>
<text transform="translate(568.5 552.4) rotate(-90)" font-size="23" font-style="italic">GPC4</text>
<text transform="translate(596.3 552.4) rotate(-90)" font-size="23" font-style="italic">CD44</text>
<text transform="translate(624.1 552.4) rotate(-90)" font-size="23" font-style="italic">FGFRL1</text>
<text transform="translate(652 552.4) rotate(-90)" font-size="23" font-style="italic">TGFBR3</text>
<text transform="translate(679.8 552.4) rotate(-90)" font-size="23" font-style="italic">TGFBR2</text>
<text transform="translate(707.6 552.4) rotate(-90)" font-size="23" font-style="italic">TGFBR1</text>
<text transform="translate(735.5 552.4) rotate(-90)" font-size="23" font-style="italic">APP</text>
<text transform="translate(763.3 552.4) rotate(-90)" font-size="23" font-style="italic">SDC1</text>
<text transform="translate(791.1 552.4) rotate(-90)" font-size="23" font-style="italic">PTPRB</text>
<text transform="translate(819 552.4) rotate(-90)" font-size="23" font-style="italic">EGFR</text>
<text transform="translate(846.8 552.4) rotate(-90)" font-size="23" font-style="italic">INSR</text>
<text transform="translate(874.6 552.4) rotate(-90)" font-size="23" font-style="italic">IGF1R</text>
<text transform="translate(902.4 552.4) rotate(-90)" font-size="23" font-style="italic">IGF2R</text>
<text transform="translate(930.3 552.4) rotate(-90)" font-size="23" font-style="italic">LRP6</text>
<text transform="translate(958.1 552.4) rotate(-90)" font-size="23" font-style="italic">LRP5</text>
<text transform="translate(985.9 552.4) rotate(-90)" font-size="23" font-style="italic">F11R</text>
<text transform="translate(1013.8 552.4) rotate(-90)" font-size="23" font-style="italic">CLDN1</text>
<text transform="translate(1041.6 552.4) rotate(-90)" font-size="23" font-style="italic">CFB</text>
<text transform="translate(1069.4 552.4) rotate(-90)" font-size="23" font-style="italic">FZD6</text>
<text x="135.7" y="593.3" font-size="23" text-anchor="end" font-style="italic">TGFB1</text>
<text x="135.7" y="621.8" font-size="23" text-anchor="end" font-style="italic">IGF2</text>
<text x="135.7" y="650.3" font-size="23" text-anchor="end" font-style="italic">BMP4</text>
<text x="135.7" y="678.8" font-size="23" text-anchor="end" font-style="italic">DKK1</text>
<text x="135.7" y="707.3" font-size="23" text-anchor="end" font-style="italic">MPDZ</text>
<text x="135.7" y="735.8" font-size="23" fill="#e8141c" text-anchor="end" font-style="italic">FGF7</text>
<text x="135.7" y="764.3" font-size="23" fill="#e8141c" text-anchor="end" font-style="italic">FGF2</text>
<text x="135.7" y="792.8" font-size="23" text-anchor="end" font-style="italic">SFRP1</text>
<text x="135.7" y="821.3" font-size="23" text-anchor="end" font-style="italic">CFD</text>
<text x="135.7" y="849.8" font-size="23" text-anchor="end" font-style="italic">TNC</text>
<rect x="143.2" y="571" width="25.8" height="26.2" fill="#ff8c00"/>
<rect x="143.2" y="599.6" width="25.8" height="26.2" fill="#fc9a3c"/>
<rect x="143.2" y="628.2" width="25.8" height="26.2" fill="#fc9a3c"/>
<rect x="143.2" y="656.8" width="25.8" height="26.2" fill="#fdc190"/>
<rect x="143.2" y="685.4" width="25.8" height="26.2" fill="#fde4d3"/>
<rect x="143.2" y="714" width="25.8" height="26.2" fill="#fce6d8"/>
<rect x="143.2" y="742.6" width="25.8" height="26.2" fill="#f3f3f3"/>
<rect x="143.2" y="771.2" width="25.8" height="26.2" fill="#f3f3f3"/>
<rect x="143.2" y="799.8" width="25.8" height="26.2" fill="#f3f3f3"/>
<rect x="143.2" y="828.4" width="25.8" height="26.2" fill="#f3f3f3"/>
<rect x="295.8" y="565.8" width="779.2" height="285.7" fill="#fff"/>
<rect x="296.8" y="566.8" width="25.8" height="26.6" fill="#f4f4f4"/>
<rect x="324.6" y="566.8" width="25.8" height="26.6" fill="#f4f4f4"/>
<rect x="352.5" y="566.8" width="25.8" height="26.6" fill="#f4f4f4"/>
<rect x="380.3" y="566.8" width="25.8" height="26.6" fill="#f4f4f4"/>
<rect x="408.1" y="566.8" width="25.8" height="26.6" fill="#f4f4f4"/>
<rect x="435.9" y="566.8" width="25.8" height="26.6" fill="#f4f4f4"/>
<rect x="463.8" y="566.8" width="25.8" height="26.6" fill="#f4f4f4"/>
<rect x="491.6" y="566.8" width="25.8" height="26.6" fill="#f4f4f4"/>
<rect x="519.4" y="566.8" width="25.8" height="26.6" fill="#f4f4f4"/>
<rect x="547.3" y="566.8" width="25.8" height="26.6" fill="#f4f4f4"/>
<rect x="575.1" y="566.8" width="25.8" height="26.6" fill="#f4f4f4"/>
<rect x="602.9" y="566.8" width="25.8" height="26.6" fill="#f4f4f4"/>
<rect x="630.8" y="566.8" width="25.8" height="26.6" fill="#f99e9e"/>
<rect x="658.6" y="566.8" width="25.8" height="26.6" fill="#f78585"/>
<rect x="686.4" y="566.8" width="25.8" height="26.6" fill="#f57a7a"/>
<rect x="714.2" y="566.8" width="25.8" height="26.6" fill="#faa3a3"/>
<rect x="742.1" y="566.8" width="25.8" height="26.6" fill="#f4f4f4"/>
<rect x="769.9" y="566.8" width="25.8" height="26.6" fill="#f4f4f4"/>
<rect x="797.7" y="566.8" width="25.8" height="26.6" fill="#f4f4f4"/>
<rect x="825.6" y="566.8" width="25.8" height="26.6" fill="#f4f4f4"/>
<rect x="853.4" y="566.8" width="25.8" height="26.6" fill="#f4f4f4"/>
<rect x="881.2" y="566.8" width="25.8" height="26.6" fill="#f4f4f4"/>
<rect x="909.1" y="566.8" width="25.8" height="26.6" fill="#f4f4f4"/>
<rect x="936.9" y="566.8" width="25.8" height="26.6" fill="#f4f4f4"/>
<rect x="964.7" y="566.8" width="25.8" height="26.6" fill="#f4f4f4"/>
<rect x="992.5" y="566.8" width="25.8" height="26.6" fill="#f4f4f4"/>
<rect x="1020.4" y="566.8" width="25.8" height="26.6" fill="#f4f4f4"/>
<rect x="1048.2" y="566.8" width="25.8" height="26.6" fill="#f4f4f4"/>
<rect x="296.8" y="595.4" width="25.8" height="26.6" fill="#f4f4f4"/>
<rect x="324.6" y="595.4" width="25.8" height="26.6" fill="#f4f4f4"/>
<rect x="352.5" y="595.4" width="25.8" height="26.6" fill="#f4f4f4"/>
<rect x="380.3" y="595.4" width="25.8" height="26.6" fill="#f4f4f4"/>
<rect x="408.1" y="595.4" width="25.8" height="26.6" fill="#f4f4f4"/>
<rect x="435.9" y="595.4" width="25.8" height="26.6" fill="#f4f4f4"/>
<rect x="463.8" y="595.4" width="25.8" height="26.6" fill="#f4f4f4"/>
<rect x="491.6" y="595.4" width="25.8" height="26.6" fill="#f4f4f4"/>
<rect x="519.4" y="595.4" width="25.8" height="26.6" fill="#f4f4f4"/>
<rect x="547.3" y="595.4" width="25.8" height="26.6" fill="#f4f4f4"/>
<rect x="575.1" y="595.4" width="25.8" height="26.6" fill="#f4f4f4"/>
<rect x="602.9" y="595.4" width="25.8" height="26.6" fill="#f4f4f4"/>
<rect x="630.8" y="595.4" width="25.8" height="26.6" fill="#f4f4f4"/>
<rect x="658.6" y="595.4" width="25.8" height="26.6" fill="#f4f4f4"/>
<rect x="686.4" y="595.4" width="25.8" height="26.6" fill="#f4f4f4"/>
<rect x="714.2" y="595.4" width="25.8" height="26.6" fill="#f4f4f4"/>
<rect x="742.1" y="595.4" width="25.8" height="26.6" fill="#f4f4f4"/>
<rect x="769.9" y="595.4" width="25.8" height="26.6" fill="#f4f4f4"/>
<rect x="797.7" y="595.4" width="25.8" height="26.6" fill="#f4f4f4"/>
<rect x="825.6" y="595.4" width="25.8" height="26.6" fill="#faa3a3"/>
<rect x="853.4" y="595.4" width="25.8" height="26.6" fill="#f26d72"/>
<rect x="881.2" y="595.4" width="25.8" height="26.6" fill="#faa6a6"/>
<rect x="909.1" y="595.4" width="25.8" height="26.6" fill="#f4f4f4"/>
<rect x="936.9" y="595.4" width="25.8" height="26.6" fill="#f4f4f4"/>
<rect x="964.7" y="595.4" width="25.8" height="26.6" fill="#f4f4f4"/>
<rect x="992.5" y="595.4" width="25.8" height="26.6" fill="#f4f4f4"/>
<rect x="1020.4" y="595.4" width="25.8" height="26.6" fill="#f4f4f4"/>
<rect x="1048.2" y="595.4" width="25.8" height="26.6" fill="#f4f4f4"/>
<rect x="296.8" y="623.9" width="25.8" height="26.6" fill="#f99a9a"/>
<rect x="324.6" y="623.9" width="25.8" height="26.6" fill="#f99e9e"/>
<rect x="352.5" y="623.9" width="25.8" height="26.6" fill="#f9a5a5"/>
<rect x="380.3" y="623.9" width="25.8" height="26.6" fill="#fbbdbd"/>
<rect x="408.1" y="623.9" width="25.8" height="26.6" fill="#fbbdbd"/>
<rect x="435.9" y="623.9" width="25.8" height="26.6" fill="#faa9a9"/>
<rect x="463.8" y="623.9" width="25.8" height="26.6" fill="#f4f4f4"/>
<rect x="491.6" y="623.9" width="25.8" height="26.6" fill="#f4f4f4"/>
<rect x="519.4" y="623.9" width="25.8" height="26.6" fill="#f4f4f4"/>
<rect x="547.3" y="623.9" width="25.8" height="26.6" fill="#f4f4f4"/>
<rect x="575.1" y="623.9" width="25.8" height="26.6" fill="#f4f4f4"/>
<rect x="602.9" y="623.9" width="25.8" height="26.6" fill="#f4f4f4"/>
<rect x="630.8" y="623.9" width="25.8" height="26.6" fill="#f4f4f4"/>
<rect x="658.6" y="623.9" width="25.8" height="26.6" fill="#f4f4f4"/>
<rect x="686.4" y="623.9" width="25.8" height="26.6" fill="#f4f4f4"/>
<rect x="714.2" y="623.9" width="25.8" height="26.6" fill="#f4f4f4"/>
<rect x="742.1" y="623.9" width="25.8" height="26.6" fill="#f4f4f4"/>
<rect x="769.9" y="623.9" width="25.8" height="26.6" fill="#f4f4f4"/>
<rect x="797.7" y="623.9" width="25.8" height="26.6" fill="#f4f4f4"/>
<rect x="825.6" y="623.9" width="25.8" height="26.6" fill="#f4f4f4"/>
<rect x="853.4" y="623.9" width="25.8" height="26.6" fill="#f4f4f4"/>
<rect x="881.2" y="623.9" width="25.8" height="26.6" fill="#f4f4f4"/>
<rect x="909.1" y="623.9" width="25.8" height="26.6" fill="#f4f4f4"/>
<rect x="936.9" y="623.9" width="25.8" height="26.6" fill="#f4f4f4"/>
<rect x="964.7" y="623.9" width="25.8" height="26.6" fill="#f4f4f4"/>
<rect x="992.5" y="623.9" width="25.8" height="26.6" fill="#f4f4f4"/>
<rect x="1020.4" y="623.9" width="25.8" height="26.6" fill="#f4f4f4"/>
<rect x="1048.2" y="623.9" width="25.8" height="26.6" fill="#f4f4f4"/>
<rect x="296.8" y="652.5" width="25.8" height="26.6" fill="#f4f4f4"/>
<rect x="324.6" y="652.5" width="25.8" height="26.6" fill="#f4f4f4"/>
<rect x="352.5" y="652.5" width="25.8" height="26.6" fill="#f4f4f4"/>
<rect x="380.3" y="652.5" width="25.8" height="26.6" fill="#f4f4f4"/>
<rect x="408.1" y="652.5" width="25.8" height="26.6" fill="#f4f4f4"/>
<rect x="435.9" y="652.5" width="25.8" height="26.6" fill="#f4f4f4"/>
<rect x="463.8" y="652.5" width="25.8" height="26.6" fill="#f4f4f4"/>
<rect x="491.6" y="652.5" width="25.8" height="26.6" fill="#f4f4f4"/>
<rect x="519.4" y="652.5" width="25.8" height="26.6" fill="#f4f4f4"/>
<rect x="547.3" y="652.5" width="25.8" height="26.6" fill="#f4f4f4"/>
<rect x="575.1" y="652.5" width="25.8" height="26.6" fill="#f4f4f4"/>
<rect x="602.9" y="652.5" width="25.8" height="26.6" fill="#f4f4f4"/>
<rect x="630.8" y="652.5" width="25.8" height="26.6" fill="#f4f4f4"/>
<rect x="658.6" y="652.5" width="25.8" height="26.6" fill="#f4f4f4"/>
<rect x="686.4" y="652.5" width="25.8" height="26.6" fill="#f4f4f4"/>
<rect x="714.2" y="652.5" width="25.8" height="26.6" fill="#f4f4f4"/>
<rect x="742.1" y="652.5" width="25.8" height="26.6" fill="#f4f4f4"/>
<rect x="769.9" y="652.5" width="25.8" height="26.6" fill="#f4f4f4"/>
<rect x="797.7" y="652.5" width="25.8" height="26.6" fill="#f4f4f4"/>
<rect x="825.6" y="652.5" width="25.8" height="26.6" fill="#f4f4f4"/>
<rect x="853.4" y="652.5" width="25.8" height="26.6" fill="#f4f4f4"/>
<rect x="881.2" y="652.5" width="25.8" height="26.6" fill="#f4f4f4"/>
<rect x="909.1" y="652.5" width="25.8" height="26.6" fill="#f89595"/>
<rect x="936.9" y="652.5" width="25.8" height="26.6" fill="#f89595"/>
<rect x="964.7" y="652.5" width="25.8" height="26.6" fill="#f4f4f4"/>
<rect x="992.5" y="652.5" width="25.8" height="26.6" fill="#f4f4f4"/>
<rect x="1020.4" y="652.5" width="25.8" height="26.6" fill="#f4f4f4"/>
<rect x="1048.2" y="652.5" width="25.8" height="26.6" fill="#f4f4f4"/>
<rect x="296.8" y="681.1" width="25.8" height="26.6" fill="#f4f4f4"/>
<rect x="324.6" y="681.1" width="25.8" height="26.6" fill="#f4f4f4"/>
<rect x="352.5" y="681.1" width="25.8" height="26.6" fill="#f4f4f4"/>
<rect x="380.3" y="681.1" width="25.8" height="26.6" fill="#f4f4f4"/>
<rect x="408.1" y="681.1" width="25.8" height="26.6" fill="#f4f4f4"/>
<rect x="435.9" y="681.1" width="25.8" height="26.6" fill="#f4f4f4"/>
<rect x="463.8" y="681.1" width="25.8" height="26.6" fill="#f4f4f4"/>
<rect x="491.6" y="681.1" width="25.8" height="26.6" fill="#f4f4f4"/>
<rect x="519.4" y="681.1" width="25.8" height="26.6" fill="#f4f4f4"/>
<rect x="547.3" y="681.1" width="25.8" height="26.6" fill="#f4f4f4"/>
<rect x="575.1" y="681.1" width="25.8" height="26.6" fill="#f4f4f4"/>
<rect x="602.9" y="681.1" width="25.8" height="26.6" fill="#f4f4f4"/>
<rect x="630.8" y="681.1" width="25.8" height="26.6" fill="#f4f4f4"/>
<rect x="658.6" y="681.1" width="25.8" height="26.6" fill="#f4f4f4"/>
<rect x="686.4" y="681.1" width="25.8" height="26.6" fill="#f4f4f4"/>
<rect x="714.2" y="681.1" width="25.8" height="26.6" fill="#f4f4f4"/>
<rect x="742.1" y="681.1" width="25.8" height="26.6" fill="#f4f4f4"/>
<rect x="769.9" y="681.1" width="25.8" height="26.6" fill="#f4f4f4"/>
<rect x="797.7" y="681.1" width="25.8" height="26.6" fill="#f4f4f4"/>
<rect x="825.6" y="681.1" width="25.8" height="26.6" fill="#f4f4f4"/>
<rect x="853.4" y="681.1" width="25.8" height="26.6" fill="#f4f4f4"/>
<rect x="881.2" y="681.1" width="25.8" height="26.6" fill="#f4f4f4"/>
<rect x="909.1" y="681.1" width="25.8" height="26.6" fill="#f4f4f4"/>
<rect x="936.9" y="681.1" width="25.8" height="26.6" fill="#f4f4f4"/>
<rect x="964.7" y="681.1" width="25.8" height="26.6" fill="#faa8a8"/>
<rect x="992.5" y="681.1" width="25.8" height="26.6" fill="#f89a9a"/>
<rect x="1020.4" y="681.1" width="25.8" height="26.6" fill="#f4f4f4"/>
<rect x="1048.2" y="681.1" width="25.8" height="26.6" fill="#f4f4f4"/>
<rect x="296.8" y="709.6" width="25.8" height="26.6" fill="#f4f4f4"/>
<rect x="324.6" y="709.6" width="25.8" height="26.6" fill="#f4f4f4"/>
<rect x="352.5" y="709.6" width="25.8" height="26.6" fill="#f4f4f4"/>
<rect x="380.3" y="709.6" width="25.8" height="26.6" fill="#f4f4f4"/>
<rect x="408.1" y="709.6" width="25.8" height="26.6" fill="#f4f4f4"/>
<rect x="435.9" y="709.6" width="25.8" height="26.6" fill="#f4f4f4"/>
<rect x="463.8" y="709.6" width="25.8" height="26.6" fill="#fbbdbd"/>
<rect x="491.6" y="709.6" width="25.8" height="26.6" fill="#f79090"/>
<rect x="519.4" y="709.6" width="25.8" height="26.6" fill="#f78c8c"/>
<rect x="547.3" y="709.6" width="25.8" height="26.6" fill="#f4f4f4"/>
<rect x="575.1" y="709.6" width="25.8" height="26.6" fill="#f4f4f4"/>
<rect x="602.9" y="709.6" width="25.8" height="26.6" fill="#f4f4f4"/>
<rect x="630.8" y="709.6" width="25.8" height="26.6" fill="#f4f4f4"/>
<rect x="658.6" y="709.6" width="25.8" height="26.6" fill="#f4f4f4"/>
<rect x="686.4" y="709.6" width="25.8" height="26.6" fill="#f4f4f4"/>
<rect x="714.2" y="709.6" width="25.8" height="26.6" fill="#f4f4f4"/>
<rect x="742.1" y="709.6" width="25.8" height="26.6" fill="#f4f4f4"/>
<rect x="769.9" y="709.6" width="25.8" height="26.6" fill="#f4f4f4"/>
<rect x="797.7" y="709.6" width="25.8" height="26.6" fill="#f4f4f4"/>
<rect x="825.6" y="709.6" width="25.8" height="26.6" fill="#f4f4f4"/>
<rect x="853.4" y="709.6" width="25.8" height="26.6" fill="#f4f4f4"/>
<rect x="881.2" y="709.6" width="25.8" height="26.6" fill="#f4f4f4"/>
<rect x="909.1" y="709.6" width="25.8" height="26.6" fill="#f4f4f4"/>
<rect x="936.9" y="709.6" width="25.8" height="26.6" fill="#f4f4f4"/>
<rect x="964.7" y="709.6" width="25.8" height="26.6" fill="#f4f4f4"/>
<rect x="992.5" y="709.6" width="25.8" height="26.6" fill="#f4f4f4"/>
<rect x="1020.4" y="709.6" width="25.8" height="26.6" fill="#f4f4f4"/>
<rect x="1048.2" y="709.6" width="25.8" height="26.6" fill="#f4f4f4"/>
<rect x="296.8" y="738.2" width="25.8" height="26.6" fill="#f4f4f4"/>
<rect x="324.6" y="738.2" width="25.8" height="26.6" fill="#f4f4f4"/>
<rect x="352.5" y="738.2" width="25.8" height="26.6" fill="#f4f4f4"/>
<rect x="380.3" y="738.2" width="25.8" height="26.6" fill="#f4f4f4"/>
<rect x="408.1" y="738.2" width="25.8" height="26.6" fill="#f4f4f4"/>
<rect x="435.9" y="738.2" width="25.8" height="26.6" fill="#f4f4f4"/>
<rect x="463.8" y="738.2" width="25.8" height="26.6" fill="#faaeae"/>
<rect x="491.6" y="738.2" width="25.8" height="26.6" fill="#f26b6e"/>
<rect x="519.4" y="738.2" width="25.8" height="26.6" fill="#f47878"/>
<rect x="547.3" y="738.2" width="25.8" height="26.6" fill="#fbb8b8"/>
<rect x="575.1" y="738.2" width="25.8" height="26.6" fill="#fbb5b5"/>
<rect x="602.9" y="738.2" width="25.8" height="26.6" fill="#f9a0a0"/>
<rect x="630.8" y="738.2" width="25.8" height="26.6" fill="#f4f4f4"/>
<rect x="658.6" y="738.2" width="25.8" height="26.6" fill="#f4f4f4"/>
<rect x="686.4" y="738.2" width="25.8" height="26.6" fill="#f4f4f4"/>
<rect x="714.2" y="738.2" width="25.8" height="26.6" fill="#f4f4f4"/>
<rect x="742.1" y="738.2" width="25.8" height="26.6" fill="#f89a9a"/>
<rect x="769.9" y="738.2" width="25.8" height="26.6" fill="#f4f4f4"/>
<rect x="797.7" y="738.2" width="25.8" height="26.6" fill="#f4f4f4"/>
<rect x="825.6" y="738.2" width="25.8" height="26.6" fill="#f4f4f4"/>
<rect x="853.4" y="738.2" width="25.8" height="26.6" fill="#f4f4f4"/>
<rect x="881.2" y="738.2" width="25.8" height="26.6" fill="#f4f4f4"/>
<rect x="909.1" y="738.2" width="25.8" height="26.6" fill="#f4f4f4"/>
<rect x="936.9" y="738.2" width="25.8" height="26.6" fill="#f4f4f4"/>
<rect x="964.7" y="738.2" width="25.8" height="26.6" fill="#f4f4f4"/>
<rect x="992.5" y="738.2" width="25.8" height="26.6" fill="#f4f4f4"/>
<rect x="1020.4" y="738.2" width="25.8" height="26.6" fill="#f4f4f4"/>
<rect x="1048.2" y="738.2" width="25.8" height="26.6" fill="#f4f4f4"/>
<rect x="296.8" y="766.8" width="25.8" height="26.6" fill="#f4f4f4"/>
<rect x="324.6" y="766.8" width="25.8" height="26.6" fill="#f4f4f4"/>
<rect x="352.5" y="766.8" width="25.8" height="26.6" fill="#f4f4f4"/>
<rect x="380.3" y="766.8" width="25.8" height="26.6" fill="#f4f4f4"/>
<rect x="408.1" y="766.8" width="25.8" height="26.6" fill="#f4f4f4"/>
<rect x="435.9" y="766.8" width="25.8" height="26.6" fill="#f4f4f4"/>
<rect x="463.8" y="766.8" width="25.8" height="26.6" fill="#f4f4f4"/>
<rect x="491.6" y="766.8" width="25.8" height="26.6" fill="#f4f4f4"/>
<rect x="519.4" y="766.8" width="25.8" height="26.6" fill="#f4f4f4"/>
<rect x="547.3" y="766.8" width="25.8" height="26.6" fill="#f4f4f4"/>
<rect x="575.1" y="766.8" width="25.8" height="26.6" fill="#f4f4f4"/>
<rect x="602.9" y="766.8" width="25.8" height="26.6" fill="#f4f4f4"/>
<rect x="630.8" y="766.8" width="25.8" height="26.6" fill="#f4f4f4"/>
<rect x="658.6" y="766.8" width="25.8" height="26.6" fill="#f4f4f4"/>
<rect x="686.4" y="766.8" width="25.8" height="26.6" fill="#f4f4f4"/>
<rect x="714.2" y="766.8" width="25.8" height="26.6" fill="#f4f4f4"/>
<rect x="742.1" y="766.8" width="25.8" height="26.6" fill="#f4f4f4"/>
<rect x="769.9" y="766.8" width="25.8" height="26.6" fill="#f4f4f4"/>
<rect x="797.7" y="766.8" width="25.8" height="26.6" fill="#f4f4f4"/>
<rect x="825.6" y="766.8" width="25.8" height="26.6" fill="#f4f4f4"/>
<rect x="853.4" y="766.8" width="25.8" height="26.6" fill="#f4f4f4"/>
<rect x="881.2" y="766.8" width="25.8" height="26.6" fill="#f4f4f4"/>
<rect x="909.1" y="766.8" width="25.8" height="26.6" fill="#f4f4f4"/>
<rect x="936.9" y="766.8" width="25.8" height="26.6" fill="#f4f4f4"/>
<rect x="964.7" y="766.8" width="25.8" height="26.6" fill="#f4f4f4"/>
<rect x="992.5" y="766.8" width="25.8" height="26.6" fill="#f4f4f4"/>
<rect x="1020.4" y="766.8" width="25.8" height="26.6" fill="#f4f4f4"/>
<rect x="1048.2" y="766.8" width="25.8" height="26.6" fill="#fcc5c5"/>
<rect x="296.8" y="795.4" width="25.8" height="26.6" fill="#f4f4f4"/>
<rect x="324.6" y="795.4" width="25.8" height="26.6" fill="#f4f4f4"/>
<rect x="352.5" y="795.4" width="25.8" height="26.6" fill="#f4f4f4"/>
<rect x="380.3" y="795.4" width="25.8" height="26.6" fill="#f4f4f4"/>
<rect x="408.1" y="795.4" width="25.8" height="26.6" fill="#f4f4f4"/>
<rect x="435.9" y="795.4" width="25.8" height="26.6" fill="#f4f4f4"/>
<rect x="463.8" y="795.4" width="25.8" height="26.6" fill="#f4f4f4"/>
<rect x="491.6" y="795.4" width="25.8" height="26.6" fill="#f4f4f4"/>
<rect x="519.4" y="795.4" width="25.8" height="26.6" fill="#f4f4f4"/>
<rect x="547.3" y="795.4" width="25.8" height="26.6" fill="#f4f4f4"/>
<rect x="575.1" y="795.4" width="25.8" height="26.6" fill="#f4f4f4"/>
<rect x="602.9" y="795.4" width="25.8" height="26.6" fill="#f4f4f4"/>
<rect x="630.8" y="795.4" width="25.8" height="26.6" fill="#f4f4f4"/>
<rect x="658.6" y="795.4" width="25.8" height="26.6" fill="#f4f4f4"/>
<rect x="686.4" y="795.4" width="25.8" height="26.6" fill="#f4f4f4"/>
<rect x="714.2" y="795.4" width="25.8" height="26.6" fill="#f4f4f4"/>
<rect x="742.1" y="795.4" width="25.8" height="26.6" fill="#f4f4f4"/>
<rect x="769.9" y="795.4" width="25.8" height="26.6" fill="#f4f4f4"/>
<rect x="797.7" y="795.4" width="25.8" height="26.6" fill="#f4f4f4"/>
<rect x="825.6" y="795.4" width="25.8" height="26.6" fill="#f4f4f4"/>
<rect x="853.4" y="795.4" width="25.8" height="26.6" fill="#f4f4f4"/>
<rect x="881.2" y="795.4" width="25.8" height="26.6" fill="#f4f4f4"/>
<rect x="909.1" y="795.4" width="25.8" height="26.6" fill="#f4f4f4"/>
<rect x="936.9" y="795.4" width="25.8" height="26.6" fill="#f4f4f4"/>
<rect x="964.7" y="795.4" width="25.8" height="26.6" fill="#f4f4f4"/>
<rect x="992.5" y="795.4" width="25.8" height="26.6" fill="#f4f4f4"/>
<rect x="1020.4" y="795.4" width="25.8" height="26.6" fill="#f89c9c"/>
<rect x="1048.2" y="795.4" width="25.8" height="26.6" fill="#f4f4f4"/>
<rect x="296.8" y="823.9" width="25.8" height="26.6" fill="#f4f4f4"/>
<rect x="324.6" y="823.9" width="25.8" height="26.6" fill="#f4f4f4"/>
<rect x="352.5" y="823.9" width="25.8" height="26.6" fill="#f4f4f4"/>
<rect x="380.3" y="823.9" width="25.8" height="26.6" fill="#f4f4f4"/>
<rect x="408.1" y="823.9" width="25.8" height="26.6" fill="#f4f4f4"/>
<rect x="435.9" y="823.9" width="25.8" height="26.6" fill="#f4f4f4"/>
<rect x="463.8" y="823.9" width="25.8" height="26.6" fill="#f4f4f4"/>
<rect x="491.6" y="823.9" width="25.8" height="26.6" fill="#f4f4f4"/>
<rect x="519.4" y="823.9" width="25.8" height="26.6" fill="#f4f4f4"/>
<rect x="547.3" y="823.9" width="25.8" height="26.6" fill="#f4f4f4"/>
<rect x="575.1" y="823.9" width="25.8" height="26.6" fill="#f4f4f4"/>
<rect x="602.9" y="823.9" width="25.8" height="26.6" fill="#f4f4f4"/>
<rect x="630.8" y="823.9" width="25.8" height="26.6" fill="#f4f4f4"/>
<rect x="658.6" y="823.9" width="25.8" height="26.6" fill="#f4f4f4"/>
<rect x="686.4" y="823.9" width="25.8" height="26.6" fill="#f4f4f4"/>
<rect x="714.2" y="823.9" width="25.8" height="26.6" fill="#f4f4f4"/>
<rect x="742.1" y="823.9" width="25.8" height="26.6" fill="#fcc8c8"/>
<rect x="769.9" y="823.9" width="25.8" height="26.6" fill="#fcc8c8"/>
<rect x="797.7" y="823.9" width="25.8" height="26.6" fill="#fcc8c8"/>
<rect x="825.6" y="823.9" width="25.8" height="26.6" fill="#f4f4f4"/>
<rect x="853.4" y="823.9" width="25.8" height="26.6" fill="#f4f4f4"/>
<rect x="881.2" y="823.9" width="25.8" height="26.6" fill="#f4f4f4"/>
<rect x="909.1" y="823.9" width="25.8" height="26.6" fill="#f4f4f4"/>
<rect x="936.9" y="823.9" width="25.8" height="26.6" fill="#f4f4f4"/>
<rect x="964.7" y="823.9" width="25.8" height="26.6" fill="#f4f4f4"/>
<rect x="992.5" y="823.9" width="25.8" height="26.6" fill="#f4f4f4"/>
<rect x="1020.4" y="823.9" width="25.8" height="26.6" fill="#f4f4f4"/>
<rect x="1048.2" y="823.9" width="25.8" height="26.6" fill="#f4f4f4"/>
<rect x="176.5" y="565.8" width="115.1" height="285.7" fill="none" stroke="#231f20" stroke-width="1.6"/>
<circle cx="195.2" cy="580.8" r="4" fill="#d968a9"/>
<circle cx="220" cy="580.8" r="3.3" fill="#dc72ae"/>
<circle cx="245.2" cy="580.8" r="2.3" fill="#f0b2d1"/>
<circle cx="270.4" cy="580.8" r="1.8" fill="#fae4ee"/>
<circle cx="195.2" cy="608.9" r="1.5" fill="#f6cfe2"/>
<circle cx="220" cy="608.9" r="1.2" fill="#f9ddea"/>
<circle cx="245.2" cy="608.9" r="2.3" fill="#d458a0"/>
<circle cx="270.4" cy="608.9" r="2.3" fill="#d968a9"/>
<circle cx="195.2" cy="637" r="1.8" fill="#f3c0d9"/>
<circle cx="220" cy="637" r="1.8" fill="#f3c0d9"/>
<circle cx="245.2" cy="637" r="3" fill="#cb3892"/>
<circle cx="270.4" cy="637" r="2.3" fill="#e899c4"/>
<circle cx="195.2" cy="665" r="2" fill="#f3c0d9"/>
<circle cx="220" cy="665" r="1.8" fill="#f6cfe2"/>
<circle cx="245.2" cy="665" r="9.2" fill="#dc72ae"/>
<circle cx="270.4" cy="665" r="10.1" fill="#d458a0"/>
<circle cx="195.2" cy="693.1" r="4" fill="#f8d7e7"/>
<circle cx="220" cy="693.1" r="3.6" fill="#d458a0"/>
<circle cx="245.2" cy="693.1" r="3" fill="#dc72ae"/>
<circle cx="270.4" cy="693.1" r="3.6" fill="#f8d7e7"/>
<circle cx="195.2" cy="721.2" r="2.3" fill="#f8d7e7"/>
<circle cx="220" cy="721.2" r="3" fill="#f0b2d1"/>
<circle cx="245.2" cy="721.2" r="7.5" fill="#ce4196"/>
<circle cx="270.4" cy="721.2" r="6.5" fill="#e48cbd"/>
<circle cx="195.2" cy="749.3" r="5.6" fill="#e899c4"/>
<circle cx="220" cy="749.3" r="3.6" fill="#fae4ee"/>
<circle cx="245.2" cy="749.3" r="4.6" fill="#d04a99"/>
<circle cx="270.4" cy="749.3" r="5.2" fill="#e899c4"/>
<circle cx="195.2" cy="777.4" r="11.4" fill="#d968a9"/>
<circle cx="220" cy="777.4" r="10.5" fill="#d65fa4"/>
<circle cx="245.2" cy="777.4" r="4.6" fill="#f9ddea"/>
<circle cx="270.4" cy="777.4" r="6.5" fill="#f6cfe2"/>
<circle cx="195.2" cy="805.4" r="1.8" fill="#f8d7e7"/>
<circle cx="220" cy="805.4" r="1.5" fill="#f8d7e7"/>
<circle cx="245.2" cy="805.4" r="11.8" fill="#d968a9"/>
<circle cx="270.4" cy="805.4" r="12.4" fill="#d968a9"/>
<circle cx="195.2" cy="833.5" r="7.8" fill="#d968a9"/>
<circle cx="220" cy="833.5" r="6.2" fill="#d968a9"/>
<circle cx="245.2" cy="833.5" r="4.9" fill="#eca5ca"/>
<rect x="296.3" y="857" width="780.2" height="209.5" fill="none" stroke="#231f20" stroke-width="1.6"/>
<text x="287.7" y="882.3" font-size="23" fill="#76d7c4" text-anchor="end">seneEpi</text>
<text x="287.7" y="911.3" font-size="23" fill="#e31a1c" text-anchor="end">proEpi</text>
<text x="287.7" y="940.3" font-size="23" fill="#1f80e0" text-anchor="end">LE</text>
<text x="287.7" y="969.3" font-size="23" fill="#6a3d9a" text-anchor="end">GLE</text>
<text x="287.7" y="998.3" font-size="23" fill="#ff7f00" text-anchor="end">diffEpi</text>
<text x="287.7" y="1027.3" font-size="23" fill="#ffd035" text-anchor="end">deEpi</text>
<text x="287.7" y="1056.3" font-size="23" fill="#007e68" text-anchor="end">Cilium</text>
<circle cx="307.7" cy="873.8" r="8.9" fill="#d2519d"/>
<circle cx="335.5" cy="873.8" r="8.2" fill="#e48cbd"/>
<circle cx="363.3" cy="873.8" r="9.1" fill="#d458a0"/>
<circle cx="391.1" cy="873.8" r="2.6" fill="#d65fa4"/>
<circle cx="418.9" cy="873.8" r="5.6" fill="#cb3892"/>
<circle cx="446.7" cy="873.8" r="2.6" fill="#e48cbd"/>
<circle cx="474.5" cy="873.8" r="1.6" fill="#e899c4"/>
<circle cx="502.3" cy="873.8" r="5.4" fill="#d458a0"/>
<circle cx="530.1" cy="873.8" r="8.4" fill="#d458a0"/>
<circle cx="557.9" cy="873.8" r="5.1" fill="#c92f8f"/>
<circle cx="585.7" cy="873.8" r="12.1" fill="#d2519d"/>
<circle cx="613.5" cy="873.8" r="2.3" fill="#e07fb6"/>
<circle cx="641.3" cy="873.8" r="4.9" fill="#d2519d"/>
<circle cx="669.1" cy="873.8" r="6.3" fill="#dc72ae"/>
<circle cx="696.9" cy="873.8" r="3.3" fill="#d65fa4"/>
<circle cx="724.7" cy="873.8" r="9.6" fill="#ce4196"/>
<circle cx="752.5" cy="873.8" r="3.7" fill="#e48cbd"/>
<circle cx="780.3" cy="873.8" r="6.1" fill="#c6238c"/>
<circle cx="808.1" cy="873.8" r="7.9" fill="#d2519d"/>
<circle cx="835.9" cy="873.8" r="6.3" fill="#dc72ae"/>
<circle cx="863.7" cy="873.8" r="12.1" fill="#cb3892"/>
<circle cx="891.5" cy="873.8" r="6.5" fill="#e07fb6"/>
<circle cx="919.3" cy="873.8" r="5.8" fill="#e899c4"/>
<circle cx="947.1" cy="873.8" r="3.5" fill="#f0b2d1"/>
<circle cx="974.9" cy="873.8" r="8.2" fill="#d65fa4"/>
<circle cx="1002.7" cy="873.8" r="3.3" fill="#dc72ae"/>
<circle cx="1030.5" cy="873.8" r="1.9" fill="#f0b2d1"/>
<circle cx="1058.3" cy="873.8" r="5.6" fill="#f3c0d9"/>
<circle cx="307.7" cy="902.8" r="9.1" fill="#eca5ca"/>
<circle cx="335.5" cy="902.8" r="10.7" fill="#e48cbd"/>
<circle cx="363.3" cy="902.8" r="11.9" fill="#dc72ae"/>
<circle cx="391.1" cy="902.8" r="3.7" fill="#e48cbd"/>
<circle cx="418.9" cy="902.8" r="5.8" fill="#eca5ca"/>
<circle cx="446.7" cy="902.8" r="4.4" fill="#e07fb6"/>
<circle cx="474.5" cy="902.8" r="4" fill="#c2168a"/>
<circle cx="502.3" cy="902.8" r="7.7" fill="#e07fb6"/>
<circle cx="530.1" cy="902.8" r="10.7" fill="#dc72ae"/>
<circle cx="557.9" cy="902.8" r="4" fill="#f0b2d1"/>
<circle cx="585.7" cy="902.8" r="10.5" fill="#eca5ca"/>
<circle cx="613.5" cy="902.8" r="3" fill="#e07fb6"/>
<circle cx="641.3" cy="902.8" r="3" fill="#eca5ca"/>
<circle cx="669.1" cy="902.8" r="7.2" fill="#e48cbd"/>
<circle cx="696.9" cy="902.8" r="5.1" fill="#d458a0"/>
<circle cx="724.7" cy="902.8" r="11.7" fill="#e07fb6"/>
<circle cx="752.5" cy="902.8" r="5.1" fill="#e899c4"/>
<circle cx="780.3" cy="902.8" r="3" fill="#f0b2d1"/>
<circle cx="808.1" cy="902.8" r="8.9" fill="#dc72ae"/>
<circle cx="835.9" cy="902.8" r="9.3" fill="#eca5ca"/>
<circle cx="863.7" cy="902.8" r="12.1" fill="#f3c0d9"/>
<circle cx="891.5" cy="902.8" r="9.3" fill="#d968a9"/>
<circle cx="919.3" cy="902.8" r="10.5" fill="#d2519d"/>
<circle cx="947.1" cy="902.8" r="5.6" fill="#eca5ca"/>
<circle cx="974.9" cy="902.8" r="6.3" fill="#fefcfd"/>
<circle cx="1002.7" cy="902.8" r="2.8" fill="#fefcfd"/>
<circle cx="1030.5" cy="902.8" r="5.6" fill="#d458a0"/>
<circle cx="1058.3" cy="902.8" r="9.6" fill="#d65fa4"/>
<circle cx="307.7" cy="931.7" r="9.6" fill="#d65fa4"/>
<circle cx="335.5" cy="931.7" r="11.2" fill="#d04a99"/>
<circle cx="363.3" cy="931.7" r="10" fill="#d968a9"/>
<circle cx="391.1" cy="931.7" r="2.8" fill="#d65fa4"/>
<circle cx="418.9" cy="931.7" r="4.9" fill="#e07fb6"/>
<circle cx="446.7" cy="931.7" r="4.2" fill="#d04a99"/>
<circle cx="474.5" cy="931.7" r="2.3" fill="#e07fb6"/>
<circle cx="502.3" cy="931.7" r="6.5" fill="#d968a9"/>
<circle cx="530.1" cy="931.7" r="10.5" fill="#d2519d"/>
<circle cx="557.9" cy="931.7" r="2.6" fill="#f3c0d9"/>
<circle cx="585.7" cy="931.7" r="9.1" fill="#eca5ca"/>
<circle cx="613.5" cy="931.7" r="2.8" fill="#d968a9"/>
<circle cx="641.3" cy="931.7" r="1.2" fill="#f3c0d9"/>
<circle cx="669.1" cy="931.7" r="7.9" fill="#d2519d"/>
<circle cx="696.9" cy="931.7" r="4" fill="#d458a0"/>
<circle cx="724.7" cy="931.7" r="11" fill="#d65fa4"/>
<circle cx="752.5" cy="931.7" r="4.2" fill="#f3c0d9"/>
<circle cx="780.3" cy="931.7" r="3.5" fill="#f3c0d9"/>
<circle cx="808.1" cy="931.7" r="8.2" fill="#dc72ae"/>
<circle cx="835.9" cy="931.7" r="8.2" fill="#dc72ae"/>
<circle cx="863.7" cy="931.7" r="12.4" fill="#e899c4"/>
<circle cx="891.5" cy="931.7" r="8.6" fill="#d458a0"/>
<circle cx="919.3" cy="931.7" r="8.6" fill="#d2519d"/>
<circle cx="947.1" cy="931.7" r="6.3" fill="#d65fa4"/>
<circle cx="974.9" cy="931.7" r="7.7" fill="#f3c0d9"/>
<circle cx="1002.7" cy="931.7" r="4" fill="#e899c4"/>
<circle cx="1030.5" cy="931.7" r="4.7" fill="#dc72ae"/>
<circle cx="1058.3" cy="931.7" r="10.5" fill="#ce4196"/>
<circle cx="307.7" cy="960.6" r="8.9" fill="#dc72ae"/>
<circle cx="335.5" cy="960.6" r="9.8" fill="#dc72ae"/>
<circle cx="363.3" cy="960.6" r="9.3" fill="#d968a9"/>
<circle cx="391.1" cy="960.6" r="2.3" fill="#e48cbd"/>
<circle cx="418.9" cy="960.6" r="5.1" fill="#dc72ae"/>
<circle cx="446.7" cy="960.6" r="3.3" fill="#d968a9"/>
<circle cx="474.5" cy="960.6" r="1.9" fill="#e899c4"/>
<circle cx="502.3" cy="960.6" r="6.3" fill="#dc72ae"/>
<circle cx="530.1" cy="960.6" r="5.6" fill="#f0b2d1"/>
<circle cx="557.9" cy="960.6" r="4.2" fill="#e899c4"/>
<circle cx="585.7" cy="960.6" r="10.5" fill="#e07fb6"/>
<circle cx="613.5" cy="960.6" r="2.1" fill="#dc72ae"/>
<circle cx="641.3" cy="960.6" r="1.6" fill="#f0b2d1"/>
<circle cx="669.1" cy="960.6" r="7.9" fill="#d2519d"/>
<circle cx="696.9" cy="960.6" r="3" fill="#f0b2d1"/>
<circle cx="724.7" cy="960.6" r="8.4" fill="#f3c0d9"/>
<circle cx="752.5" cy="960.6" r="4.9" fill="#dc72ae"/>
<circle cx="780.3" cy="960.6" r="2.6" fill="#eca5ca"/>
<circle cx="808.1" cy="960.6" r="7.5" fill="#e07fb6"/>
<circle cx="835.9" cy="960.6" r="8.2" fill="#d2519d"/>
<circle cx="863.7" cy="960.6" r="12.4" fill="#dc72ae"/>
<circle cx="891.5" cy="960.6" r="7.5" fill="#d65fa4"/>
<circle cx="919.3" cy="960.6" r="7" fill="#e48cbd"/>
<circle cx="947.1" cy="960.6" r="4.9" fill="#e07fb6"/>
<circle cx="974.9" cy="960.6" r="8.6" fill="#dc72ae"/>
<circle cx="1002.7" cy="960.6" r="4.2" fill="#d968a9"/>
<circle cx="1030.5" cy="960.6" r="3" fill="#d968a9"/>
<circle cx="1058.3" cy="960.6" r="8.4" fill="#e07fb6"/>
<circle cx="307.7" cy="989.6" r="5.8" fill="#eca5ca"/>
<circle cx="335.5" cy="989.6" r="5.4" fill="#f9ddea"/>
<circle cx="363.3" cy="989.6" r="6.1" fill="#eca5ca"/>
<circle cx="391.1" cy="989.6" r="1.6" fill="#f9ddea"/>
<circle cx="418.9" cy="989.6" r="2.8" fill="#f3c0d9"/>
<circle cx="446.7" cy="989.6" r="2.3" fill="#f3c0d9"/>
<circle cx="474.5" cy="989.6" r="1.2" fill="#e07fb6"/>
<circle cx="502.3" cy="989.6" r="3" fill="#eca5ca"/>
<circle cx="530.1" cy="989.6" r="4.7" fill="#f0b2d1"/>
<circle cx="557.9" cy="989.6" r="4" fill="#dc72ae"/>
<circle cx="585.7" cy="989.6" r="9.3" fill="#d968a9"/>
<circle cx="613.5" cy="989.6" r="2.1" fill="#cb3892"/>
<circle cx="641.3" cy="989.6" r="4" fill="#d65fa4"/>
<circle cx="669.1" cy="989.6" r="4" fill="#f3c0d9"/>
<circle cx="696.9" cy="989.6" r="2.6" fill="#f3c0d9"/>
<circle cx="724.7" cy="989.6" r="6.5" fill="#f3c0d9"/>
<circle cx="752.5" cy="989.6" r="3.7" fill="#c6238c"/>
<circle cx="780.3" cy="989.6" r="3.7" fill="#e07fb6"/>
<circle cx="808.1" cy="989.6" r="5.1" fill="#f3c0d9"/>
<circle cx="835.9" cy="989.6" r="4.4" fill="#f0b2d1"/>
<circle cx="863.7" cy="989.6" r="8.9" fill="#fae4ee"/>
<circle cx="891.5" cy="989.6" r="4.2" fill="#f9ddea"/>
<circle cx="919.3" cy="989.6" r="3.5" fill="#f9ddea"/>
<circle cx="947.1" cy="989.6" r="2.6" fill="#f6cfe2"/>
<circle cx="974.9" cy="989.6" r="6.8" fill="#dc72ae"/>
<circle cx="1002.7" cy="989.6" r="3" fill="#d04a99"/>
<circle cx="1030.5" cy="989.6" r="1.4" fill="#f3c0d9"/>
<circle cx="1058.3" cy="989.6" r="4.7" fill="#f3c0d9"/>
<circle cx="307.7" cy="1018.5" r="8.9" fill="#dc72ae"/>
<circle cx="335.5" cy="1018.5" r="8.2" fill="#f0b2d1"/>
<circle cx="363.3" cy="1018.5" r="7.7" fill="#e899c4"/>
<circle cx="391.1" cy="1018.5" r="2.3" fill="#e899c4"/>
<circle cx="418.9" cy="1018.5" r="4.7" fill="#dc72ae"/>
<circle cx="446.7" cy="1018.5" r="2.1" fill="#f6cfe2"/>
<circle cx="474.5" cy="1018.5" r="1.9" fill="#e899c4"/>
<circle cx="502.3" cy="1018.5" r="5.8" fill="#d968a9"/>
<circle cx="530.1" cy="1018.5" r="7.5" fill="#e07fb6"/>
<circle cx="557.9" cy="1018.5" r="4" fill="#e48cbd"/>
<circle cx="585.7" cy="1018.5" r="11" fill="#dc72ae"/>
<circle cx="613.5" cy="1018.5" r="1.9" fill="#f6cfe2"/>
<circle cx="641.3" cy="1018.5" r="4.7" fill="#d65fa4"/>
<circle cx="669.1" cy="1018.5" r="5.4" fill="#f3c0d9"/>
<circle cx="696.9" cy="1018.5" r="3.3" fill="#d968a9"/>
<circle cx="724.7" cy="1018.5" r="8.2" fill="#e899c4"/>
<circle cx="752.5" cy="1018.5" r="2.8" fill="#f9ddea"/>
<circle cx="780.3" cy="1018.5" r="4.7" fill="#dc72ae"/>
<circle cx="808.1" cy="1018.5" r="7.5" fill="#e899c4"/>
<circle cx="835.9" cy="1018.5" r="7" fill="#d968a9"/>
<circle cx="863.7" cy="1018.5" r="11.9" fill="#e899c4"/>
<circle cx="891.5" cy="1018.5" r="6.5" fill="#eca5ca"/>
<circle cx="919.3" cy="1018.5" r="6.1" fill="#e899c4"/>
<circle cx="947.1" cy="1018.5" r="3.7" fill="#f0b2d1"/>
<circle cx="974.9" cy="1018.5" r="8.4" fill="#d968a9"/>
<circle cx="1002.7" cy="1018.5" r="3.7" fill="#e07fb6"/>
<circle cx="1030.5" cy="1018.5" r="1.6" fill="#f3c0d9"/>
<circle cx="1058.3" cy="1018.5" r="5.1" fill="#f8d7e7"/>
<circle cx="307.7" cy="1047.5" r="5.8" fill="#fceef4"/>
<circle cx="335.5" cy="1047.5" r="9.8" fill="#d65fa4"/>
<circle cx="363.3" cy="1047.5" r="6.3" fill="#fef8fb"/>
<circle cx="391.1" cy="1047.5" r="2.8" fill="#d2519d"/>
<circle cx="418.9" cy="1047.5" r="4" fill="#f0b2d1"/>
<circle cx="446.7" cy="1047.5" r="4.2" fill="#d65fa4"/>
<circle cx="474.5" cy="1047.5" r="2.3" fill="#dc72ae"/>
<circle cx="530.1" cy="1047.5" r="4.2" fill="#f9ddea"/>
<circle cx="557.9" cy="1047.5" r="4.2" fill="#e48cbd"/>
<circle cx="585.7" cy="1047.5" r="3.5" fill="#f9ddea"/>
<circle cx="613.5" cy="1047.5" r="1.6" fill="#f3c0d9"/>
<circle cx="641.3" cy="1047.5" r="3" fill="#e48cbd"/>
<circle cx="669.1" cy="1047.5" r="5.8" fill="#f0b2d1"/>
<circle cx="696.9" cy="1047.5" r="3.3" fill="#f9ddea"/>
<circle cx="724.7" cy="1047.5" r="8.4" fill="#f6cfe2"/>
<circle cx="752.5" cy="1047.5" r="4" fill="#dc72ae"/>
<circle cx="780.3" cy="1047.5" r="3" fill="#e48cbd"/>
<circle cx="808.1" cy="1047.5" r="5.1" fill="#fceef4"/>
<circle cx="835.9" cy="1047.5" r="4" fill="#fdf5f9"/>
<circle cx="863.7" cy="1047.5" r="10" fill="#e07fb6"/>
<circle cx="891.5" cy="1047.5" r="5.4" fill="#f6cfe2"/>
<circle cx="919.3" cy="1047.5" r="4.9" fill="#f3c0d9"/>
<circle cx="947.1" cy="1047.5" r="6.8" fill="#c92f8f"/>
<circle cx="974.9" cy="1047.5" r="7.9" fill="#dc72ae"/>
<circle cx="1002.7" cy="1047.5" r="3.7" fill="#e899c4"/>
<circle cx="1030.5" cy="1047.5" r="4.4" fill="#d2519d"/>
<circle cx="1058.3" cy="1047.5" r="7.2" fill="#e48cbd"/>
<text transform="translate(316 1074.5) rotate(-90)" font-size="23" text-anchor="end" font-style="italic">BMPR2</text>
<text transform="translate(343.8 1074.5) rotate(-90)" font-size="23" text-anchor="end" font-style="italic">BMPR1B</text>
<text transform="translate(371.6 1074.5) rotate(-90)" font-size="23" text-anchor="end" font-style="italic">BMPR1A</text>
<text transform="translate(399.4 1074.5) rotate(-90)" font-size="23" text-anchor="end" font-style="italic">ACVR2B</text>
<text transform="translate(427.2 1074.5) rotate(-90)" font-size="23" text-anchor="end" font-style="italic">ACVR1</text>
<text transform="translate(455 1074.5) rotate(-90)" font-size="23" text-anchor="end" font-style="italic">ACVR2A</text>
<text transform="translate(482.8 1074.5) rotate(-90)" font-size="23" text-anchor="end" font-style="italic">NRP1</text>
<text transform="translate(510.6 1074.5) rotate(-90)" font-size="23" fill="#e8141c" text-anchor="end" font-style="italic">FGFR1</text>
<text transform="translate(538.4 1074.5) rotate(-90)" font-size="23" fill="#e8141c" text-anchor="end" font-style="italic">FGFR2</text>
<text transform="translate(566.2 1074.5) rotate(-90)" font-size="23" text-anchor="end" font-style="italic">GPC4</text>
<text transform="translate(594 1074.5) rotate(-90)" font-size="23" text-anchor="end" font-style="italic">CD44</text>
<text transform="translate(621.8 1074.5) rotate(-90)" font-size="23" text-anchor="end" font-style="italic">FGFRL1</text>
<text transform="translate(649.6 1074.5) rotate(-90)" font-size="23" text-anchor="end" font-style="italic">TGFBR3</text>
<text transform="translate(677.4 1074.5) rotate(-90)" font-size="23" text-anchor="end" font-style="italic">TGFBR2</text>
<text transform="translate(705.2 1074.5) rotate(-90)" font-size="23" text-anchor="end" font-style="italic">TGFBR1</text>
<text transform="translate(733 1074.5) rotate(-90)" font-size="23" text-anchor="end" font-style="italic">APP</text>
<text transform="translate(760.8 1074.5) rotate(-90)" font-size="23" text-anchor="end" font-style="italic">SDC1</text>
<text transform="translate(788.6 1074.5) rotate(-90)" font-size="23" text-anchor="end" font-style="italic">PTPRB</text>
<text transform="translate(816.4 1074.5) rotate(-90)" font-size="23" text-anchor="end" font-style="italic">EGFR</text>
<text transform="translate(844.2 1074.5) rotate(-90)" font-size="23" text-anchor="end" font-style="italic">INSR</text>
<text transform="translate(872 1074.5) rotate(-90)" font-size="23" text-anchor="end" font-style="italic">IGF1R</text>
<text transform="translate(899.8 1074.5) rotate(-90)" font-size="23" text-anchor="end" font-style="italic">IGF2R</text>
<text transform="translate(927.6 1074.5) rotate(-90)" font-size="23" text-anchor="end" font-style="italic">LRP6</text>
<text transform="translate(955.4 1074.5) rotate(-90)" font-size="23" text-anchor="end" font-style="italic">LRP5</text>
<text transform="translate(983.2 1074.5) rotate(-90)" font-size="23" text-anchor="end" font-style="italic">F11R</text>
<text transform="translate(1011 1074.5) rotate(-90)" font-size="23" text-anchor="end" font-style="italic">CLDN1</text>
<text transform="translate(1038.8 1074.5) rotate(-90)" font-size="23" text-anchor="end" font-style="italic">CFB</text>
<text transform="translate(1066.6 1074.5) rotate(-90)" font-size="23" text-anchor="end" font-style="italic">FZD6</text>
<text x="102.5" y="890" font-size="23" text-anchor="middle">Ave. Exp.</text>
<defs><linearGradient id="gB1" x1="0" y1="0" x2="1" y2="0"><stop offset="0" stop-color="#ffffff"/><stop offset="0.25" stop-color="#f5cfe2"/><stop offset="0.5" stop-color="#e48fbe"/><stop offset="0.75" stop-color="#d8609f"/><stop offset="1" stop-color="#be1189"/></linearGradient></defs>
<rect x="24.8" y="902.1" width="164.1" height="18.2" fill="url(#gB1)"/>
<line x1="75.9" y1="902.1" x2="75.9" y2="905.7" stroke="#fff" stroke-width="1.2"/>
<line x1="75.9" y1="916.7" x2="75.9" y2="920.3" stroke="#fff" stroke-width="1.2"/>
<line x1="104.8" y1="902.1" x2="104.8" y2="905.7" stroke="#fff" stroke-width="1.2"/>
<line x1="104.8" y1="916.7" x2="104.8" y2="920.3" stroke="#fff" stroke-width="1.2"/>
<line x1="133.6" y1="902.1" x2="133.6" y2="905.7" stroke="#fff" stroke-width="1.2"/>
<line x1="133.6" y1="916.7" x2="133.6" y2="920.3" stroke="#fff" stroke-width="1.2"/>
<line x1="162.6" y1="902.1" x2="162.6" y2="905.7" stroke="#fff" stroke-width="1.2"/>
<line x1="162.6" y1="916.7" x2="162.6" y2="920.3" stroke="#fff" stroke-width="1.2"/>
<text x="33.6" y="941.3" font-size="19" text-anchor="middle">−1.0</text>
<text x="113.4" y="941.3" font-size="19" text-anchor="middle">0.0</text>
<text x="186.6" y="941.3" font-size="19" text-anchor="middle">1.0</text>
<text x="101.8" y="966.3" font-size="23" text-anchor="middle">AUPR</text>
<defs><linearGradient id="gB2" x1="0" y1="0" x2="1" y2="0"><stop offset="0" stop-color="#f5f1ee"/><stop offset="0.5" stop-color="#fdbf85"/><stop offset="1" stop-color="#ff8000"/></linearGradient></defs>
<rect x="24.1" y="970.2" width="163.8" height="17.7" fill="url(#gB2)"/>
<line x1="46.5" y1="970.2" x2="46.5" y2="973.7" stroke="#fff" stroke-width="1.2"/>
<line x1="46.5" y1="984.4" x2="46.5" y2="987.9" stroke="#fff" stroke-width="1.2"/>
<line x1="93.5" y1="970.2" x2="93.5" y2="973.7" stroke="#fff" stroke-width="1.2"/>
<line x1="93.5" y1="984.4" x2="93.5" y2="987.9" stroke="#fff" stroke-width="1.2"/>
<line x1="141.5" y1="970.2" x2="141.5" y2="973.7" stroke="#fff" stroke-width="1.2"/>
<line x1="141.5" y1="984.4" x2="141.5" y2="987.9" stroke="#fff" stroke-width="1.2"/>
<text x="39.1" y="1007.4" font-size="19" text-anchor="middle">0.055</text>
<text x="103.7" y="1007.4" font-size="19" text-anchor="middle">0.060</text>
<text x="167" y="1007.4" font-size="19" text-anchor="middle">0.065</text>
<text x="120.1" y="1036.3" font-size="23.3" text-anchor="middle">Interaction potential</text>
<defs><linearGradient id="gB3" x1="0" y1="0" x2="1" y2="0"><stop offset="0" stop-color="#f2f2f2"/><stop offset="0.5" stop-color="#f9b4b4"/><stop offset="1" stop-color="#f26b70"/></linearGradient></defs>
<rect x="24.1" y="1038.9" width="164.8" height="18.4" fill="url(#gB3)"/>
<line x1="65.5" y1="1038.9" x2="65.5" y2="1042.6" stroke="#fff" stroke-width="1.2"/>
<line x1="65.5" y1="1053.6" x2="65.5" y2="1057.3" stroke="#fff" stroke-width="1.2"/>
<line x1="107" y1="1038.9" x2="107" y2="1042.6" stroke="#fff" stroke-width="1.2"/>
<line x1="107" y1="1053.6" x2="107" y2="1057.3" stroke="#fff" stroke-width="1.2"/>
<line x1="149.3" y1="1038.9" x2="149.3" y2="1042.6" stroke="#fff" stroke-width="1.2"/>
<line x1="149.3" y1="1053.6" x2="149.3" y2="1057.3" stroke="#fff" stroke-width="1.2"/>
<text x="52.3" y="1074.2" font-size="19" text-anchor="middle">0.0</text>
<text x="90.1" y="1074.2" font-size="19" text-anchor="middle">0.4</text>
<text x="127.8" y="1074.2" font-size="19" text-anchor="middle">0.8</text>
<text x="165.7" y="1074.2" font-size="19" text-anchor="middle">1.2</text>
<text x="117.7" y="1108.5" font-size="23.3" text-anchor="middle">Expressed (%)</text>
<circle cx="78.5" cy="1125" r="4" fill="#000"/>
<text x="78.5" y="1152.5" font-size="19" text-anchor="middle">25</text>
<circle cx="107.9" cy="1125" r="6.9" fill="#000"/>
<text x="107.9" y="1152.5" font-size="19" text-anchor="middle">50</text>
<circle cx="139" cy="1125" r="9.8" fill="#000"/>
<text x="139" y="1152.5" font-size="19" text-anchor="middle">75</text>
<text x="42" y="1225" font-size="25" font-weight="bold">E</text>
<text transform="translate(179 1277.4) rotate(-90)" font-size="26" fill="#2e9078">proStr</text>
<text transform="translate(208.4 1277.4) rotate(-90)" font-size="26" fill="#f5a52a">undiffStr</text>
<text transform="translate(237.8 1277.4) rotate(-90)" font-size="26" fill="#b5460f">diffStr</text>
<text transform="translate(266.6 1277.4) rotate(-90)" font-size="26" fill="#7b41a3">deStr</text>
<line x1="111.5" y1="1314.9" x2="119" y2="1314.9" stroke="#999" stroke-width="0.8"/>
<text x="118.3" y="1313.4" font-size="23" fill="#e8141c" text-anchor="end" font-style="italic">IL15</text>
<line x1="111.5" y1="1342.5" x2="119" y2="1342.5" stroke="#999" stroke-width="0.8"/>
<text x="118.3" y="1341" font-size="23" text-anchor="end" font-style="italic">IL7</text>
<line x1="111.5" y1="1370" x2="119" y2="1370" stroke="#999" stroke-width="0.8"/>
<text x="118.3" y="1368.5" font-size="23" text-anchor="end" font-style="italic">LGALS3</text>
<line x1="111.5" y1="1397.6" x2="119" y2="1397.6" stroke="#999" stroke-width="0.8"/>
<text x="118.3" y="1396.1" font-size="23" text-anchor="end" font-style="italic">HLA−E</text>
<line x1="111.5" y1="1425.2" x2="119" y2="1425.2" stroke="#999" stroke-width="0.8"/>
<text x="118.3" y="1423.7" font-size="23" text-anchor="end" font-style="italic">FGF2</text>
<line x1="111.5" y1="1452.8" x2="119" y2="1452.8" stroke="#999" stroke-width="0.8"/>
<text x="118.3" y="1451.2" font-size="23" text-anchor="end" font-style="italic">LAMB2</text>
<line x1="111.5" y1="1480.3" x2="119" y2="1480.3" stroke="#999" stroke-width="0.8"/>
<text x="118.3" y="1478.8" font-size="23" text-anchor="end" font-style="italic">LAMC3</text>
<line x1="111.5" y1="1507.9" x2="119" y2="1507.9" stroke="#999" stroke-width="0.8"/>
<text x="118.3" y="1506.4" font-size="23" text-anchor="end" font-style="italic">IL16</text>
<line x1="111.5" y1="1535.5" x2="119" y2="1535.5" stroke="#999" stroke-width="0.8"/>
<text x="118.3" y="1534" font-size="23" text-anchor="end" font-style="italic">HLA−C</text>
<line x1="111.5" y1="1563" x2="119" y2="1563" stroke="#999" stroke-width="0.8"/>
<text x="118.3" y="1561.5" font-size="23" text-anchor="end" font-style="italic">FN1</text>
<line x1="111.5" y1="1590.6" x2="119" y2="1590.6" stroke="#999" stroke-width="0.8"/>
<text x="118.3" y="1589.1" font-size="23" text-anchor="end" font-style="italic">SDC2</text>
<line x1="111.5" y1="1618.2" x2="119" y2="1618.2" stroke="#999" stroke-width="0.8"/>
<text x="118.3" y="1616.7" font-size="23" text-anchor="end" font-style="italic">CD58</text>
<line x1="111.5" y1="1645.7" x2="119" y2="1645.7" stroke="#999" stroke-width="0.8"/>
<text x="118.3" y="1644.2" font-size="23" text-anchor="end" font-style="italic">NCR3LG1</text>
<line x1="111.5" y1="1673.3" x2="119" y2="1673.3" stroke="#999" stroke-width="0.8"/>
<text x="118.3" y="1671.8" font-size="23" text-anchor="end" font-style="italic">THBS2</text>
<line x1="111.5" y1="1700.9" x2="119" y2="1700.9" stroke="#999" stroke-width="0.8"/>
<text x="118.3" y="1699.4" font-size="23" text-anchor="end" font-style="italic">NAALADL1</text>
<line x1="111.5" y1="1728.5" x2="119" y2="1728.5" stroke="#999" stroke-width="0.8"/>
<text x="118.3" y="1727" font-size="23" text-anchor="end" font-style="italic">IFITM1</text>
<line x1="111.5" y1="1756" x2="119" y2="1756" stroke="#999" stroke-width="0.8"/>
<text x="118.3" y="1754.5" font-size="23" text-anchor="end" font-style="italic">CXCL12</text>
<line x1="111.5" y1="1783.6" x2="119" y2="1783.6" stroke="#999" stroke-width="0.8"/>
<text x="118.3" y="1782.1" font-size="23" text-anchor="end" font-style="italic">HGF</text>
<line x1="111.5" y1="1811.2" x2="119" y2="1811.2" stroke="#999" stroke-width="0.8"/>
<text x="118.3" y="1809.7" font-size="23" text-anchor="end" font-style="italic">PLXNA1</text>
<line x1="111.5" y1="1838.7" x2="119" y2="1838.7" stroke="#999" stroke-width="0.8"/>
<text x="118.3" y="1837.2" font-size="23" text-anchor="end" font-style="italic">THY1</text>
<rect x="123.4" y="1294.2" width="25.4" height="24.9" fill="#ff8c00"/>
<rect x="123.4" y="1321.7" width="25.4" height="24.9" fill="#ffd9bc"/>
<rect x="123.4" y="1349.1" width="25.4" height="24.9" fill="#fbebe0"/>
<rect x="123.4" y="1376.5" width="25.4" height="24.9" fill="#fbebe0"/>
<rect x="123.4" y="1404" width="25.4" height="24.9" fill="#fbebe1"/>
<rect x="123.4" y="1431.5" width="25.4" height="24.9" fill="#fbebe1"/>
<rect x="123.4" y="1458.9" width="25.4" height="24.9" fill="#f9ece5"/>
<rect x="123.4" y="1486.4" width="25.4" height="24.9" fill="#f9ece5"/>
<rect x="123.4" y="1513.8" width="25.4" height="24.9" fill="#f8eeea"/>
<rect x="123.4" y="1541.2" width="25.4" height="24.9" fill="#f5f0ee"/>
<rect x="123.4" y="1568.7" width="25.4" height="24.9" fill="#f5f0ee"/>
<rect x="123.4" y="1596.2" width="25.4" height="24.9" fill="#f5f0ee"/>
<rect x="123.4" y="1623.6" width="25.4" height="24.9" fill="#f4f1f0"/>
<rect x="123.4" y="1651" width="25.4" height="24.9" fill="#f3f3f3"/>
<rect x="123.4" y="1678.5" width="25.4" height="24.9" fill="#f3f3f3"/>
<rect x="123.4" y="1706" width="25.4" height="24.9" fill="#f3f3f3"/>
<rect x="123.4" y="1733.4" width="25.4" height="24.9" fill="#f3f3f3"/>
<rect x="123.4" y="1760.8" width="25.4" height="24.9" fill="#f3f3f3"/>
<rect x="123.4" y="1788.3" width="25.4" height="24.9" fill="#f3f3f3"/>
<rect x="123.4" y="1815.8" width="25.4" height="24.9" fill="#f3f3f3"/>
<rect x="281.2" y="1285.5" width="24.5" height="25.9" fill="#f4f4f4"/>
<rect x="307.7" y="1285.5" width="24.5" height="25.9" fill="#f4f4f4"/>
<rect x="334.2" y="1285.5" width="24.5" height="25.9" fill="#f4f4f4"/>
<rect x="360.7" y="1285.5" width="24.5" height="25.9" fill="#f4f4f4"/>
<rect x="387.2" y="1285.5" width="24.5" height="25.9" fill="#f47a7a"/>
<rect x="413.8" y="1285.5" width="24.5" height="25.9" fill="#f47a7a"/>
<rect x="440.3" y="1285.5" width="24.5" height="25.9" fill="#f4f4f4"/>
<rect x="466.8" y="1285.5" width="24.5" height="25.9" fill="#f4f4f4"/>
<rect x="493.3" y="1285.5" width="24.5" height="25.9" fill="#f4f4f4"/>
<rect x="519.8" y="1285.5" width="24.5" height="25.9" fill="#f4f4f4"/>
<rect x="546.3" y="1285.5" width="24.5" height="25.9" fill="#f4f4f4"/>
<rect x="572.8" y="1285.5" width="24.5" height="25.9" fill="#f4f4f4"/>
<rect x="599.3" y="1285.5" width="24.5" height="25.9" fill="#f4f4f4"/>
<rect x="625.8" y="1285.5" width="24.5" height="25.9" fill="#f4f4f4"/>
<rect x="652.3" y="1285.5" width="24.5" height="25.9" fill="#f4f4f4"/>
<rect x="678.9" y="1285.5" width="24.5" height="25.9" fill="#f4f4f4"/>
<rect x="705.4" y="1285.5" width="24.5" height="25.9" fill="#f4f4f4"/>
<rect x="731.9" y="1285.5" width="24.5" height="25.9" fill="#f4f4f4"/>
<rect x="758.4" y="1285.5" width="24.5" height="25.9" fill="#f4f4f4"/>
<rect x="784.9" y="1285.5" width="24.5" height="25.9" fill="#f4f4f4"/>
<rect x="811.4" y="1285.5" width="24.5" height="25.9" fill="#f4f4f4"/>
<rect x="837.9" y="1285.5" width="24.5" height="25.9" fill="#f4f4f4"/>
<rect x="864.4" y="1285.5" width="24.5" height="25.9" fill="#f4f4f4"/>
<rect x="890.9" y="1285.5" width="24.5" height="25.9" fill="#f4f4f4"/>
<rect x="917.4" y="1285.5" width="24.5" height="25.9" fill="#f4f4f4"/>
<rect x="944" y="1285.5" width="24.5" height="25.9" fill="#f4f4f4"/>
<rect x="970.5" y="1285.5" width="24.5" height="25.9" fill="#f4f4f4"/>
<rect x="997" y="1285.5" width="24.5" height="25.9" fill="#f4f4f4"/>
<rect x="1023.5" y="1285.5" width="24.5" height="25.9" fill="#f4f4f4"/>
<rect x="1050" y="1285.5" width="24.5" height="25.9" fill="#f4f4f4"/>
<rect x="281.2" y="1313.5" width="24.5" height="25.9" fill="#f4f4f4"/>
<rect x="307.7" y="1313.5" width="24.5" height="25.9" fill="#f4f4f4"/>
<rect x="334.2" y="1313.5" width="24.5" height="25.9" fill="#f4f4f4"/>
<rect x="360.7" y="1313.5" width="24.5" height="25.9" fill="#f4f4f4"/>
<rect x="387.2" y="1313.5" width="24.5" height="25.9" fill="#f4f4f4"/>
<rect x="413.8" y="1313.5" width="24.5" height="25.9" fill="#f47a7a"/>
<rect x="440.3" y="1313.5" width="24.5" height="25.9" fill="#f4f4f4"/>
<rect x="466.8" y="1313.5" width="24.5" height="25.9" fill="#f4f4f4"/>
<rect x="493.3" y="1313.5" width="24.5" height="25.9" fill="#f4f4f4"/>
<rect x="519.8" y="1313.5" width="24.5" height="25.9" fill="#f4f4f4"/>
<rect x="546.3" y="1313.5" width="24.5" height="25.9" fill="#f4f4f4"/>
<rect x="572.8" y="1313.5" width="24.5" height="25.9" fill="#f4f4f4"/>
<rect x="599.3" y="1313.5" width="24.5" height="25.9" fill="#f4f4f4"/>
<rect x="625.8" y="1313.5" width="24.5" height="25.9" fill="#f4f4f4"/>
<rect x="652.3" y="1313.5" width="24.5" height="25.9" fill="#f4f4f4"/>
<rect x="678.9" y="1313.5" width="24.5" height="25.9" fill="#f4f4f4"/>
<rect x="705.4" y="1313.5" width="24.5" height="25.9" fill="#f4f4f4"/>
<rect x="731.9" y="1313.5" width="24.5" height="25.9" fill="#f4f4f4"/>
<rect x="758.4" y="1313.5" width="24.5" height="25.9" fill="#f4f4f4"/>
<rect x="784.9" y="1313.5" width="24.5" height="25.9" fill="#f4f4f4"/>
<rect x="811.4" y="1313.5" width="24.5" height="25.9" fill="#f4f4f4"/>
<rect x="837.9" y="1313.5" width="24.5" height="25.9" fill="#f4f4f4"/>
<rect x="864.4" y="1313.5" width="24.5" height="25.9" fill="#f4f4f4"/>
<rect x="890.9" y="1313.5" width="24.5" height="25.9" fill="#f4f4f4"/>
<rect x="917.4" y="1313.5" width="24.5" height="25.9" fill="#f4f4f4"/>
<rect x="944" y="1313.5" width="24.5" height="25.9" fill="#f4f4f4"/>
<rect x="970.5" y="1313.5" width="24.5" height="25.9" fill="#f4f4f4"/>
<rect x="997" y="1313.5" width="24.5" height="25.9" fill="#f4f4f4"/>
<rect x="1023.5" y="1313.5" width="24.5" height="25.9" fill="#f4f4f4"/>
<rect x="1050" y="1313.5" width="24.5" height="25.9" fill="#f4f4f4"/>
<rect x="281.2" y="1341.4" width="24.5" height="25.9" fill="#f4f4f4"/>
<rect x="307.7" y="1341.4" width="24.5" height="25.9" fill="#f4f4f4"/>
<rect x="334.2" y="1341.4" width="24.5" height="25.9" fill="#f4f4f4"/>
<rect x="360.7" y="1341.4" width="24.5" height="25.9" fill="#f4f4f4"/>
<rect x="387.2" y="1341.4" width="24.5" height="25.9" fill="#f4f4f4"/>
<rect x="413.8" y="1341.4" width="24.5" height="25.9" fill="#f4f4f4"/>
<rect x="440.3" y="1341.4" width="24.5" height="25.9" fill="#f4f4f4"/>
<rect x="466.8" y="1341.4" width="24.5" height="25.9" fill="#f4f4f4"/>
<rect x="493.3" y="1341.4" width="24.5" height="25.9" fill="#f4f4f4"/>
<rect x="519.8" y="1341.4" width="24.5" height="25.9" fill="#f4f4f4"/>
<rect x="546.3" y="1341.4" width="24.5" height="25.9" fill="#f4f4f4"/>
<rect x="572.8" y="1341.4" width="24.5" height="25.9" fill="#f4f4f4"/>
<rect x="599.3" y="1341.4" width="24.5" height="25.9" fill="#f4f4f4"/>
<rect x="625.8" y="1341.4" width="24.5" height="25.9" fill="#f4f4f4"/>
<rect x="652.3" y="1341.4" width="24.5" height="25.9" fill="#f4f4f4"/>
<rect x="678.9" y="1341.4" width="24.5" height="25.9" fill="#f4f4f4"/>
<rect x="705.4" y="1341.4" width="24.5" height="25.9" fill="#f4f4f4"/>
<rect x="731.9" y="1341.4" width="24.5" height="25.9" fill="#f4f4f4"/>
<rect x="758.4" y="1341.4" width="24.5" height="25.9" fill="#f4f4f4"/>
<rect x="784.9" y="1341.4" width="24.5" height="25.9" fill="#f4f4f4"/>
<rect x="811.4" y="1341.4" width="24.5" height="25.9" fill="#f4f4f4"/>
<rect x="837.9" y="1341.4" width="24.5" height="25.9" fill="#f4f4f4"/>
<rect x="864.4" y="1341.4" width="24.5" height="25.9" fill="#f4f4f4"/>
<rect x="890.9" y="1341.4" width="24.5" height="25.9" fill="#f4f4f4"/>
<rect x="917.4" y="1341.4" width="24.5" height="25.9" fill="#f4f4f4"/>
<rect x="944" y="1341.4" width="24.5" height="25.9" fill="#f4f4f4"/>
<rect x="970.5" y="1341.4" width="24.5" height="25.9" fill="#f4f4f4"/>
<rect x="997" y="1341.4" width="24.5" height="25.9" fill="#f4f4f4"/>
<rect x="1023.5" y="1341.4" width="24.5" height="25.9" fill="#f4f4f4"/>
<rect x="1050" y="1341.4" width="24.5" height="25.9" fill="#fad8d8"/>
<rect x="281.2" y="1369.3" width="24.5" height="25.9" fill="#f47676"/>
<rect x="307.7" y="1369.3" width="24.5" height="25.9" fill="#fbc0c0"/>
<rect x="334.2" y="1369.3" width="24.5" height="25.9" fill="#f26e72"/>
<rect x="360.7" y="1369.3" width="24.5" height="25.9" fill="#f89696"/>
<rect x="387.2" y="1369.3" width="24.5" height="25.9" fill="#f4f4f4"/>
<rect x="413.8" y="1369.3" width="24.5" height="25.9" fill="#f4f4f4"/>
<rect x="440.3" y="1369.3" width="24.5" height="25.9" fill="#f4f4f4"/>
<rect x="466.8" y="1369.3" width="24.5" height="25.9" fill="#f4f4f4"/>
<rect x="493.3" y="1369.3" width="24.5" height="25.9" fill="#f4f4f4"/>
<rect x="519.8" y="1369.3" width="24.5" height="25.9" fill="#f4f4f4"/>
<rect x="546.3" y="1369.3" width="24.5" height="25.9" fill="#f4f4f4"/>
<rect x="572.8" y="1369.3" width="24.5" height="25.9" fill="#f4f4f4"/>
<rect x="599.3" y="1369.3" width="24.5" height="25.9" fill="#f4f4f4"/>
<rect x="625.8" y="1369.3" width="24.5" height="25.9" fill="#f4f4f4"/>
<rect x="652.3" y="1369.3" width="24.5" height="25.9" fill="#f4f4f4"/>
<rect x="678.9" y="1369.3" width="24.5" height="25.9" fill="#f4f4f4"/>
<rect x="705.4" y="1369.3" width="24.5" height="25.9" fill="#f4f4f4"/>
<rect x="731.9" y="1369.3" width="24.5" height="25.9" fill="#f4f4f4"/>
<rect x="758.4" y="1369.3" width="24.5" height="25.9" fill="#f4f4f4"/>
<rect x="784.9" y="1369.3" width="24.5" height="25.9" fill="#f4f4f4"/>
<rect x="811.4" y="1369.3" width="24.5" height="25.9" fill="#f4f4f4"/>
<rect x="837.9" y="1369.3" width="24.5" height="25.9" fill="#f4f4f4"/>
<rect x="864.4" y="1369.3" width="24.5" height="25.9" fill="#f4f4f4"/>
<rect x="890.9" y="1369.3" width="24.5" height="25.9" fill="#f4f4f4"/>
<rect x="917.4" y="1369.3" width="24.5" height="25.9" fill="#f4f4f4"/>
<rect x="944" y="1369.3" width="24.5" height="25.9" fill="#f4f4f4"/>
<rect x="970.5" y="1369.3" width="24.5" height="25.9" fill="#f4f4f4"/>
<rect x="997" y="1369.3" width="24.5" height="25.9" fill="#f4f4f4"/>
<rect x="1023.5" y="1369.3" width="24.5" height="25.9" fill="#f4f4f4"/>
<rect x="1050" y="1369.3" width="24.5" height="25.9" fill="#f4f4f4"/>
<rect x="281.2" y="1397.3" width="24.5" height="25.9" fill="#f4f4f4"/>
<rect x="307.7" y="1397.3" width="24.5" height="25.9" fill="#f4f4f4"/>
<rect x="334.2" y="1397.3" width="24.5" height="25.9" fill="#f4f4f4"/>
<rect x="360.7" y="1397.3" width="24.5" height="25.9" fill="#f4f4f4"/>
<rect x="387.2" y="1397.3" width="24.5" height="25.9" fill="#f4f4f4"/>
<rect x="413.8" y="1397.3" width="24.5" height="25.9" fill="#f4f4f4"/>
<rect x="440.3" y="1397.3" width="24.5" height="25.9" fill="#f4f4f4"/>
<rect x="466.8" y="1397.3" width="24.5" height="25.9" fill="#f4f4f4"/>
<rect x="493.3" y="1397.3" width="24.5" height="25.9" fill="#f4f4f4"/>
<rect x="519.8" y="1397.3" width="24.5" height="25.9" fill="#f4f4f4"/>
<rect x="546.3" y="1397.3" width="24.5" height="25.9" fill="#f4f4f4"/>
<rect x="572.8" y="1397.3" width="24.5" height="25.9" fill="#f9a5a5"/>
<rect x="599.3" y="1397.3" width="24.5" height="25.9" fill="#f4f4f4"/>
<rect x="625.8" y="1397.3" width="24.5" height="25.9" fill="#f4f4f4"/>
<rect x="652.3" y="1397.3" width="24.5" height="25.9" fill="#f4f4f4"/>
<rect x="678.9" y="1397.3" width="24.5" height="25.9" fill="#f4f4f4"/>
<rect x="705.4" y="1397.3" width="24.5" height="25.9" fill="#f4f4f4"/>
<rect x="731.9" y="1397.3" width="24.5" height="25.9" fill="#f4f4f4"/>
<rect x="758.4" y="1397.3" width="24.5" height="25.9" fill="#f4f4f4"/>
<rect x="784.9" y="1397.3" width="24.5" height="25.9" fill="#f4f4f4"/>
<rect x="811.4" y="1397.3" width="24.5" height="25.9" fill="#f4f4f4"/>
<rect x="837.9" y="1397.3" width="24.5" height="25.9" fill="#f4f4f4"/>
<rect x="864.4" y="1397.3" width="24.5" height="25.9" fill="#f4f4f4"/>
<rect x="890.9" y="1397.3" width="24.5" height="25.9" fill="#f4f4f4"/>
<rect x="917.4" y="1397.3" width="24.5" height="25.9" fill="#f4f4f4"/>
<rect x="944" y="1397.3" width="24.5" height="25.9" fill="#f4f4f4"/>
<rect x="970.5" y="1397.3" width="24.5" height="25.9" fill="#f4f4f4"/>
<rect x="997" y="1397.3" width="24.5" height="25.9" fill="#f4f4f4"/>
<rect x="1023.5" y="1397.3" width="24.5" height="25.9" fill="#f4f4f4"/>
<rect x="1050" y="1397.3" width="24.5" height="25.9" fill="#f4f4f4"/>
<rect x="281.2" y="1425.2" width="24.5" height="25.9" fill="#f4f4f4"/>
<rect x="307.7" y="1425.2" width="24.5" height="25.9" fill="#f4f4f4"/>
<rect x="334.2" y="1425.2" width="24.5" height="25.9" fill="#f4f4f4"/>
<rect x="360.7" y="1425.2" width="24.5" height="25.9" fill="#f4f4f4"/>
<rect x="387.2" y="1425.2" width="24.5" height="25.9" fill="#f4f4f4"/>
<rect x="413.8" y="1425.2" width="24.5" height="25.9" fill="#f4f4f4"/>
<rect x="440.3" y="1425.2" width="24.5" height="25.9" fill="#f4f4f4"/>
<rect x="466.8" y="1425.2" width="24.5" height="25.9" fill="#f4f4f4"/>
<rect x="493.3" y="1425.2" width="24.5" height="25.9" fill="#f4f4f4"/>
<rect x="519.8" y="1425.2" width="24.5" height="25.9" fill="#f4f4f4"/>
<rect x="546.3" y="1425.2" width="24.5" height="25.9" fill="#fbc3c3"/>
<rect x="572.8" y="1425.2" width="24.5" height="25.9" fill="#f4f4f4"/>
<rect x="599.3" y="1425.2" width="24.5" height="25.9" fill="#f4f4f4"/>
<rect x="625.8" y="1425.2" width="24.5" height="25.9" fill="#f4f4f4"/>
<rect x="652.3" y="1425.2" width="24.5" height="25.9" fill="#f4f4f4"/>
<rect x="678.9" y="1425.2" width="24.5" height="25.9" fill="#f4f4f4"/>
<rect x="705.4" y="1425.2" width="24.5" height="25.9" fill="#f4f4f4"/>
<rect x="731.9" y="1425.2" width="24.5" height="25.9" fill="#f4f4f4"/>
<rect x="758.4" y="1425.2" width="24.5" height="25.9" fill="#f4f4f4"/>
<rect x="784.9" y="1425.2" width="24.5" height="25.9" fill="#f4f4f4"/>
<rect x="811.4" y="1425.2" width="24.5" height="25.9" fill="#f4f4f4"/>
<rect x="837.9" y="1425.2" width="24.5" height="25.9" fill="#f4f4f4"/>
<rect x="864.4" y="1425.2" width="24.5" height="25.9" fill="#f4f4f4"/>
<rect x="890.9" y="1425.2" width="24.5" height="25.9" fill="#f4f4f4"/>
<rect x="917.4" y="1425.2" width="24.5" height="25.9" fill="#f4f4f4"/>
<rect x="944" y="1425.2" width="24.5" height="25.9" fill="#f4f4f4"/>
<rect x="970.5" y="1425.2" width="24.5" height="25.9" fill="#f4f4f4"/>
<rect x="997" y="1425.2" width="24.5" height="25.9" fill="#f4f4f4"/>
<rect x="1023.5" y="1425.2" width="24.5" height="25.9" fill="#f4f4f4"/>
<rect x="1050" y="1425.2" width="24.5" height="25.9" fill="#f4f4f4"/>
<rect x="281.2" y="1453.2" width="24.5" height="25.9" fill="#f4f4f4"/>
<rect x="307.7" y="1453.2" width="24.5" height="25.9" fill="#f4f4f4"/>
<rect x="334.2" y="1453.2" width="24.5" height="25.9" fill="#f4f4f4"/>
<rect x="360.7" y="1453.2" width="24.5" height="25.9" fill="#f4f4f4"/>
<rect x="387.2" y="1453.2" width="24.5" height="25.9" fill="#f4f4f4"/>
<rect x="413.8" y="1453.2" width="24.5" height="25.9" fill="#f4f4f4"/>
<rect x="440.3" y="1453.2" width="24.5" height="25.9" fill="#f4f4f4"/>
<rect x="466.8" y="1453.2" width="24.5" height="25.9" fill="#f4f4f4"/>
<rect x="493.3" y="1453.2" width="24.5" height="25.9" fill="#f4f4f4"/>
<rect x="519.8" y="1453.2" width="24.5" height="25.9" fill="#f4f4f4"/>
<rect x="546.3" y="1453.2" width="24.5" height="25.9" fill="#f4f4f4"/>
<rect x="572.8" y="1453.2" width="24.5" height="25.9" fill="#fbc0c0"/>
<rect x="599.3" y="1453.2" width="24.5" height="25.9" fill="#f4f4f4"/>
<rect x="625.8" y="1453.2" width="24.5" height="25.9" fill="#f4f4f4"/>
<rect x="652.3" y="1453.2" width="24.5" height="25.9" fill="#f4f4f4"/>
<rect x="678.9" y="1453.2" width="24.5" height="25.9" fill="#f4f4f4"/>
<rect x="705.4" y="1453.2" width="24.5" height="25.9" fill="#f4f4f4"/>
<rect x="731.9" y="1453.2" width="24.5" height="25.9" fill="#f4f4f4"/>
<rect x="758.4" y="1453.2" width="24.5" height="25.9" fill="#f4f4f4"/>
<rect x="784.9" y="1453.2" width="24.5" height="25.9" fill="#f4f4f4"/>
<rect x="811.4" y="1453.2" width="24.5" height="25.9" fill="#f4f4f4"/>
<rect x="837.9" y="1453.2" width="24.5" height="25.9" fill="#f4f4f4"/>
<rect x="864.4" y="1453.2" width="24.5" height="25.9" fill="#f4f4f4"/>
<rect x="890.9" y="1453.2" width="24.5" height="25.9" fill="#f4f4f4"/>
<rect x="917.4" y="1453.2" width="24.5" height="25.9" fill="#f4f4f4"/>
<rect x="944" y="1453.2" width="24.5" height="25.9" fill="#f4f4f4"/>
<rect x="970.5" y="1453.2" width="24.5" height="25.9" fill="#f4f4f4"/>
<rect x="997" y="1453.2" width="24.5" height="25.9" fill="#f4f4f4"/>
<rect x="1023.5" y="1453.2" width="24.5" height="25.9" fill="#f4f4f4"/>
<rect x="1050" y="1453.2" width="24.5" height="25.9" fill="#f4f4f4"/>
<rect x="281.2" y="1481.2" width="24.5" height="25.9" fill="#f4f4f4"/>
<rect x="307.7" y="1481.2" width="24.5" height="25.9" fill="#f4f4f4"/>
<rect x="334.2" y="1481.2" width="24.5" height="25.9" fill="#f4f4f4"/>
<rect x="360.7" y="1481.2" width="24.5" height="25.9" fill="#f4f4f4"/>
<rect x="387.2" y="1481.2" width="24.5" height="25.9" fill="#f4f4f4"/>
<rect x="413.8" y="1481.2" width="24.5" height="25.9" fill="#f4f4f4"/>
<rect x="440.3" y="1481.2" width="24.5" height="25.9" fill="#f4f4f4"/>
<rect x="466.8" y="1481.2" width="24.5" height="25.9" fill="#f4f4f4"/>
<rect x="493.3" y="1481.2" width="24.5" height="25.9" fill="#f4f4f4"/>
<rect x="519.8" y="1481.2" width="24.5" height="25.9" fill="#f4f4f4"/>
<rect x="546.3" y="1481.2" width="24.5" height="25.9" fill="#f4f4f4"/>
<rect x="572.8" y="1481.2" width="24.5" height="25.9" fill="#f4f4f4"/>
<rect x="599.3" y="1481.2" width="24.5" height="25.9" fill="#f4f4f4"/>
<rect x="625.8" y="1481.2" width="24.5" height="25.9" fill="#f4f4f4"/>
<rect x="652.3" y="1481.2" width="24.5" height="25.9" fill="#f4f4f4"/>
<rect x="678.9" y="1481.2" width="24.5" height="25.9" fill="#f4f4f4"/>
<rect x="705.4" y="1481.2" width="24.5" height="25.9" fill="#f4f4f4"/>
<rect x="731.9" y="1481.2" width="24.5" height="25.9" fill="#f4f4f4"/>
<rect x="758.4" y="1481.2" width="24.5" height="25.9" fill="#f4f4f4"/>
<rect x="784.9" y="1481.2" width="24.5" height="25.9" fill="#f4f4f4"/>
<rect x="811.4" y="1481.2" width="24.5" height="25.9" fill="#f4f4f4"/>
<rect x="837.9" y="1481.2" width="24.5" height="25.9" fill="#f4f4f4"/>
<rect x="864.4" y="1481.2" width="24.5" height="25.9" fill="#f4f4f4"/>
<rect x="890.9" y="1481.2" width="24.5" height="25.9" fill="#f4f4f4"/>
<rect x="917.4" y="1481.2" width="24.5" height="25.9" fill="#fbcaca"/>
<rect x="944" y="1481.2" width="24.5" height="25.9" fill="#f4f4f4"/>
<rect x="970.5" y="1481.2" width="24.5" height="25.9" fill="#f4f4f4"/>
<rect x="997" y="1481.2" width="24.5" height="25.9" fill="#f4f4f4"/>
<rect x="1023.5" y="1481.2" width="24.5" height="25.9" fill="#f4f4f4"/>
<rect x="1050" y="1481.2" width="24.5" height="25.9" fill="#f4f4f4"/>
<rect x="281.2" y="1509.1" width="24.5" height="25.9" fill="#f4f4f4"/>
<rect x="307.7" y="1509.1" width="24.5" height="25.9" fill="#f4f4f4"/>
<rect x="334.2" y="1509.1" width="24.5" height="25.9" fill="#f4f4f4"/>
<rect x="360.7" y="1509.1" width="24.5" height="25.9" fill="#f4f4f4"/>
<rect x="387.2" y="1509.1" width="24.5" height="25.9" fill="#f4f4f4"/>
<rect x="413.8" y="1509.1" width="24.5" height="25.9" fill="#f4f4f4"/>
<rect x="440.3" y="1509.1" width="24.5" height="25.9" fill="#f4f4f4"/>
<rect x="466.8" y="1509.1" width="24.5" height="25.9" fill="#f4f4f4"/>
<rect x="493.3" y="1509.1" width="24.5" height="25.9" fill="#f4f4f4"/>
<rect x="519.8" y="1509.1" width="24.5" height="25.9" fill="#f4f4f4"/>
<rect x="546.3" y="1509.1" width="24.5" height="25.9" fill="#f4f4f4"/>
<rect x="572.8" y="1509.1" width="24.5" height="25.9" fill="#f4f4f4"/>
<rect x="599.3" y="1509.1" width="24.5" height="25.9" fill="#f4f4f4"/>
<rect x="625.8" y="1509.1" width="24.5" height="25.9" fill="#f4f4f4"/>
<rect x="652.3" y="1509.1" width="24.5" height="25.9" fill="#f4f4f4"/>
<rect x="678.9" y="1509.1" width="24.5" height="25.9" fill="#f4f4f4"/>
<rect x="705.4" y="1509.1" width="24.5" height="25.9" fill="#f4f4f4"/>
<rect x="731.9" y="1509.1" width="24.5" height="25.9" fill="#f47878"/>
<rect x="758.4" y="1509.1" width="24.5" height="25.9" fill="#f4f4f4"/>
<rect x="784.9" y="1509.1" width="24.5" height="25.9" fill="#f4f4f4"/>
<rect x="811.4" y="1509.1" width="24.5" height="25.9" fill="#f4f4f4"/>
<rect x="837.9" y="1509.1" width="24.5" height="25.9" fill="#f4f4f4"/>
<rect x="864.4" y="1509.1" width="24.5" height="25.9" fill="#f4f4f4"/>
<rect x="890.9" y="1509.1" width="24.5" height="25.9" fill="#f4f4f4"/>
<rect x="917.4" y="1509.1" width="24.5" height="25.9" fill="#f4f4f4"/>
<rect x="944" y="1509.1" width="24.5" height="25.9" fill="#f4f4f4"/>
<rect x="970.5" y="1509.1" width="24.5" height="25.9" fill="#f4f4f4"/>
<rect x="997" y="1509.1" width="24.5" height="25.9" fill="#f4f4f4"/>
<rect x="1023.5" y="1509.1" width="24.5" height="25.9" fill="#f4f4f4"/>
<rect x="1050" y="1509.1" width="24.5" height="25.9" fill="#f4f4f4"/>
<rect x="281.2" y="1537" width="24.5" height="25.9" fill="#f4f4f4"/>
<rect x="307.7" y="1537" width="24.5" height="25.9" fill="#f4f4f4"/>
<rect x="334.2" y="1537" width="24.5" height="25.9" fill="#f4f4f4"/>
<rect x="360.7" y="1537" width="24.5" height="25.9" fill="#f4f4f4"/>
<rect x="387.2" y="1537" width="24.5" height="25.9" fill="#f4f4f4"/>
<rect x="413.8" y="1537" width="24.5" height="25.9" fill="#f4f4f4"/>
<rect x="440.3" y="1537" width="24.5" height="25.9" fill="#f4f4f4"/>
<rect x="466.8" y="1537" width="24.5" height="25.9" fill="#f4f4f4"/>
<rect x="493.3" y="1537" width="24.5" height="25.9" fill="#f4f4f4"/>
<rect x="519.8" y="1537" width="24.5" height="25.9" fill="#f4f4f4"/>
<rect x="546.3" y="1537" width="24.5" height="25.9" fill="#f4f4f4"/>
<rect x="572.8" y="1537" width="24.5" height="25.9" fill="#f9aaaa"/>
<rect x="599.3" y="1537" width="24.5" height="25.9" fill="#f4f4f4"/>
<rect x="625.8" y="1537" width="24.5" height="25.9" fill="#f4f4f4"/>
<rect x="652.3" y="1537" width="24.5" height="25.9" fill="#f4f4f4"/>
<rect x="678.9" y="1537" width="24.5" height="25.9" fill="#f4f4f4"/>
<rect x="705.4" y="1537" width="24.5" height="25.9" fill="#f4f4f4"/>
<rect x="731.9" y="1537" width="24.5" height="25.9" fill="#f4f4f4"/>
<rect x="758.4" y="1537" width="24.5" height="25.9" fill="#f4f4f4"/>
<rect x="784.9" y="1537" width="24.5" height="25.9" fill="#f4f4f4"/>
<rect x="811.4" y="1537" width="24.5" height="25.9" fill="#f4f4f4"/>
<rect x="837.9" y="1537" width="24.5" height="25.9" fill="#f4f4f4"/>
<rect x="864.4" y="1537" width="24.5" height="25.9" fill="#f4f4f4"/>
<rect x="890.9" y="1537" width="24.5" height="25.9" fill="#f4f4f4"/>
<rect x="917.4" y="1537" width="24.5" height="25.9" fill="#f4f4f4"/>
<rect x="944" y="1537" width="24.5" height="25.9" fill="#f4f4f4"/>
<rect x="970.5" y="1537" width="24.5" height="25.9" fill="#f4f4f4"/>
<rect x="997" y="1537" width="24.5" height="25.9" fill="#f4f4f4"/>
<rect x="1023.5" y="1537" width="24.5" height="25.9" fill="#f4f4f4"/>
<rect x="1050" y="1537" width="24.5" height="25.9" fill="#f4f4f4"/>
<rect x="281.2" y="1565" width="24.5" height="25.9" fill="#f4f4f4"/>
<rect x="307.7" y="1565" width="24.5" height="25.9" fill="#f4f4f4"/>
<rect x="334.2" y="1565" width="24.5" height="25.9" fill="#f4f4f4"/>
<rect x="360.7" y="1565" width="24.5" height="25.9" fill="#f4f4f4"/>
<rect x="387.2" y="1565" width="24.5" height="25.9" fill="#f4f4f4"/>
<rect x="413.8" y="1565" width="24.5" height="25.9" fill="#f4f4f4"/>
<rect x="440.3" y="1565" width="24.5" height="25.9" fill="#f4f4f4"/>
<rect x="466.8" y="1565" width="24.5" height="25.9" fill="#f4f4f4"/>
<rect x="493.3" y="1565" width="24.5" height="25.9" fill="#f4f4f4"/>
<rect x="519.8" y="1565" width="24.5" height="25.9" fill="#f4f4f4"/>
<rect x="546.3" y="1565" width="24.5" height="25.9" fill="#f4f4f4"/>
<rect x="572.8" y="1565" width="24.5" height="25.9" fill="#f4f4f4"/>
<rect x="599.3" y="1565" width="24.5" height="25.9" fill="#f4f4f4"/>
<rect x="625.8" y="1565" width="24.5" height="25.9" fill="#f4f4f4"/>
<rect x="652.3" y="1565" width="24.5" height="25.9" fill="#f4f4f4"/>
<rect x="678.9" y="1565" width="24.5" height="25.9" fill="#f4f4f4"/>
<rect x="705.4" y="1565" width="24.5" height="25.9" fill="#f4f4f4"/>
<rect x="731.9" y="1565" width="24.5" height="25.9" fill="#f4f4f4"/>
<rect x="758.4" y="1565" width="24.5" height="25.9" fill="#f4f4f4"/>
<rect x="784.9" y="1565" width="24.5" height="25.9" fill="#f4f4f4"/>
<rect x="811.4" y="1565" width="24.5" height="25.9" fill="#f4f4f4"/>
<rect x="837.9" y="1565" width="24.5" height="25.9" fill="#f9a2a2"/>
<rect x="864.4" y="1565" width="24.5" height="25.9" fill="#f4f4f4"/>
<rect x="890.9" y="1565" width="24.5" height="25.9" fill="#f4f4f4"/>
<rect x="917.4" y="1565" width="24.5" height="25.9" fill="#f4f4f4"/>
<rect x="944" y="1565" width="24.5" height="25.9" fill="#f4f4f4"/>
<rect x="970.5" y="1565" width="24.5" height="25.9" fill="#f4f4f4"/>
<rect x="997" y="1565" width="24.5" height="25.9" fill="#f4f4f4"/>
<rect x="1023.5" y="1565" width="24.5" height="25.9" fill="#f4f4f4"/>
<rect x="1050" y="1565" width="24.5" height="25.9" fill="#f4f4f4"/>
<rect x="281.2" y="1593" width="24.5" height="25.9" fill="#f4f4f4"/>
<rect x="307.7" y="1593" width="24.5" height="25.9" fill="#f4f4f4"/>
<rect x="334.2" y="1593" width="24.5" height="25.9" fill="#f4f4f4"/>
<rect x="360.7" y="1593" width="24.5" height="25.9" fill="#f4f4f4"/>
<rect x="387.2" y="1593" width="24.5" height="25.9" fill="#f4f4f4"/>
<rect x="413.8" y="1593" width="24.5" height="25.9" fill="#f4f4f4"/>
<rect x="440.3" y="1593" width="24.5" height="25.9" fill="#f4f4f4"/>
<rect x="466.8" y="1593" width="24.5" height="25.9" fill="#f4f4f4"/>
<rect x="493.3" y="1593" width="24.5" height="25.9" fill="#f4f4f4"/>
<rect x="519.8" y="1593" width="24.5" height="25.9" fill="#f4f4f4"/>
<rect x="546.3" y="1593" width="24.5" height="25.9" fill="#f4f4f4"/>
<rect x="572.8" y="1593" width="24.5" height="25.9" fill="#f4f4f4"/>
<rect x="599.3" y="1593" width="24.5" height="25.9" fill="#f4f4f4"/>
<rect x="625.8" y="1593" width="24.5" height="25.9" fill="#f4f4f4"/>
<rect x="652.3" y="1593" width="24.5" height="25.9" fill="#f4f4f4"/>
<rect x="678.9" y="1593" width="24.5" height="25.9" fill="#f4f4f4"/>
<rect x="705.4" y="1593" width="24.5" height="25.9" fill="#f4f4f4"/>
<rect x="731.9" y="1593" width="24.5" height="25.9" fill="#f4f4f4"/>
<rect x="758.4" y="1593" width="24.5" height="25.9" fill="#f4f4f4"/>
<rect x="784.9" y="1593" width="24.5" height="25.9" fill="#f4f4f4"/>
<rect x="811.4" y="1593" width="24.5" height="25.9" fill="#f4f4f4"/>
<rect x="837.9" y="1593" width="24.5" height="25.9" fill="#f4f4f4"/>
<rect x="864.4" y="1593" width="24.5" height="25.9" fill="#f4f4f4"/>
<rect x="890.9" y="1593" width="24.5" height="25.9" fill="#f4f4f4"/>
<rect x="917.4" y="1593" width="24.5" height="25.9" fill="#f4f4f4"/>
<rect x="944" y="1593" width="24.5" height="25.9" fill="#f4f4f4"/>
<rect x="970.5" y="1593" width="24.5" height="25.9" fill="#f57d7d"/>
<rect x="997" y="1593" width="24.5" height="25.9" fill="#f4f4f4"/>
<rect x="1023.5" y="1593" width="24.5" height="25.9" fill="#f4f4f4"/>
<rect x="1050" y="1593" width="24.5" height="25.9" fill="#f4f4f4"/>
<rect x="281.2" y="1620.9" width="24.5" height="25.9" fill="#f4f4f4"/>
<rect x="307.7" y="1620.9" width="24.5" height="25.9" fill="#f4f4f4"/>
<rect x="334.2" y="1620.9" width="24.5" height="25.9" fill="#f4f4f4"/>
<rect x="360.7" y="1620.9" width="24.5" height="25.9" fill="#f4f4f4"/>
<rect x="387.2" y="1620.9" width="24.5" height="25.9" fill="#f4f4f4"/>
<rect x="413.8" y="1620.9" width="24.5" height="25.9" fill="#f4f4f4"/>
<rect x="440.3" y="1620.9" width="24.5" height="25.9" fill="#f4f4f4"/>
<rect x="466.8" y="1620.9" width="24.5" height="25.9" fill="#f4f4f4"/>
<rect x="493.3" y="1620.9" width="24.5" height="25.9" fill="#f4f4f4"/>
<rect x="519.8" y="1620.9" width="24.5" height="25.9" fill="#f4f4f4"/>
<rect x="546.3" y="1620.9" width="24.5" height="25.9" fill="#f4f4f4"/>
<rect x="572.8" y="1620.9" width="24.5" height="25.9" fill="#f4f4f4"/>
<rect x="599.3" y="1620.9" width="24.5" height="25.9" fill="#f4f4f4"/>
<rect x="625.8" y="1620.9" width="24.5" height="25.9" fill="#f4f4f4"/>
<rect x="652.3" y="1620.9" width="24.5" height="25.9" fill="#f77f7f"/>
<rect x="678.9" y="1620.9" width="24.5" height="25.9" fill="#f4f4f4"/>
<rect x="705.4" y="1620.9" width="24.5" height="25.9" fill="#f4f4f4"/>
<rect x="731.9" y="1620.9" width="24.5" height="25.9" fill="#f4f4f4"/>
<rect x="758.4" y="1620.9" width="24.5" height="25.9" fill="#f4f4f4"/>
<rect x="784.9" y="1620.9" width="24.5" height="25.9" fill="#f4f4f4"/>
<rect x="811.4" y="1620.9" width="24.5" height="25.9" fill="#f4f4f4"/>
<rect x="837.9" y="1620.9" width="24.5" height="25.9" fill="#f4f4f4"/>
<rect x="864.4" y="1620.9" width="24.5" height="25.9" fill="#f4f4f4"/>
<rect x="890.9" y="1620.9" width="24.5" height="25.9" fill="#f4f4f4"/>
<rect x="917.4" y="1620.9" width="24.5" height="25.9" fill="#f4f4f4"/>
<rect x="944" y="1620.9" width="24.5" height="25.9" fill="#f4f4f4"/>
<rect x="970.5" y="1620.9" width="24.5" height="25.9" fill="#f4f4f4"/>
<rect x="997" y="1620.9" width="24.5" height="25.9" fill="#f4f4f4"/>
<rect x="1023.5" y="1620.9" width="24.5" height="25.9" fill="#f4f4f4"/>
<rect x="1050" y="1620.9" width="24.5" height="25.9" fill="#f4f4f4"/>
<rect x="281.2" y="1648.8" width="24.5" height="25.9" fill="#f4f4f4"/>
<rect x="307.7" y="1648.8" width="24.5" height="25.9" fill="#f4f4f4"/>
<rect x="334.2" y="1648.8" width="24.5" height="25.9" fill="#f4f4f4"/>
<rect x="360.7" y="1648.8" width="24.5" height="25.9" fill="#f4f4f4"/>
<rect x="387.2" y="1648.8" width="24.5" height="25.9" fill="#f4f4f4"/>
<rect x="413.8" y="1648.8" width="24.5" height="25.9" fill="#f4f4f4"/>
<rect x="440.3" y="1648.8" width="24.5" height="25.9" fill="#f4f4f4"/>
<rect x="466.8" y="1648.8" width="24.5" height="25.9" fill="#f4f4f4"/>
<rect x="493.3" y="1648.8" width="24.5" height="25.9" fill="#fbcfcf"/>
<rect x="519.8" y="1648.8" width="24.5" height="25.9" fill="#f4f4f4"/>
<rect x="546.3" y="1648.8" width="24.5" height="25.9" fill="#f4f4f4"/>
<rect x="572.8" y="1648.8" width="24.5" height="25.9" fill="#f4f4f4"/>
<rect x="599.3" y="1648.8" width="24.5" height="25.9" fill="#f4f4f4"/>
<rect x="625.8" y="1648.8" width="24.5" height="25.9" fill="#f4f4f4"/>
<rect x="652.3" y="1648.8" width="24.5" height="25.9" fill="#f4f4f4"/>
<rect x="678.9" y="1648.8" width="24.5" height="25.9" fill="#f4f4f4"/>
<rect x="705.4" y="1648.8" width="24.5" height="25.9" fill="#f4f4f4"/>
<rect x="731.9" y="1648.8" width="24.5" height="25.9" fill="#f4f4f4"/>
<rect x="758.4" y="1648.8" width="24.5" height="25.9" fill="#f4f4f4"/>
<rect x="784.9" y="1648.8" width="24.5" height="25.9" fill="#f4f4f4"/>
<rect x="811.4" y="1648.8" width="24.5" height="25.9" fill="#f4f4f4"/>
<rect x="837.9" y="1648.8" width="24.5" height="25.9" fill="#f4f4f4"/>
<rect x="864.4" y="1648.8" width="24.5" height="25.9" fill="#f4f4f4"/>
<rect x="890.9" y="1648.8" width="24.5" height="25.9" fill="#f4f4f4"/>
<rect x="917.4" y="1648.8" width="24.5" height="25.9" fill="#f4f4f4"/>
<rect x="944" y="1648.8" width="24.5" height="25.9" fill="#f4f4f4"/>
<rect x="970.5" y="1648.8" width="24.5" height="25.9" fill="#f4f4f4"/>
<rect x="997" y="1648.8" width="24.5" height="25.9" fill="#f4f4f4"/>
<rect x="1023.5" y="1648.8" width="24.5" height="25.9" fill="#f4f4f4"/>
<rect x="1050" y="1648.8" width="24.5" height="25.9" fill="#f4f4f4"/>
<rect x="281.2" y="1676.8" width="24.5" height="25.9" fill="#f4f4f4"/>
<rect x="307.7" y="1676.8" width="24.5" height="25.9" fill="#f4f4f4"/>
<rect x="334.2" y="1676.8" width="24.5" height="25.9" fill="#f4f4f4"/>
<rect x="360.7" y="1676.8" width="24.5" height="25.9" fill="#f4f4f4"/>
<rect x="387.2" y="1676.8" width="24.5" height="25.9" fill="#f4f4f4"/>
<rect x="413.8" y="1676.8" width="24.5" height="25.9" fill="#f4f4f4"/>
<rect x="440.3" y="1676.8" width="24.5" height="25.9" fill="#f4f4f4"/>
<rect x="466.8" y="1676.8" width="24.5" height="25.9" fill="#f4f4f4"/>
<rect x="493.3" y="1676.8" width="24.5" height="25.9" fill="#f4f4f4"/>
<rect x="519.8" y="1676.8" width="24.5" height="25.9" fill="#f4f4f4"/>
<rect x="546.3" y="1676.8" width="24.5" height="25.9" fill="#f4f4f4"/>
<rect x="572.8" y="1676.8" width="24.5" height="25.9" fill="#f4f4f4"/>
<rect x="599.3" y="1676.8" width="24.5" height="25.9" fill="#f4f4f4"/>
<rect x="625.8" y="1676.8" width="24.5" height="25.9" fill="#f4f4f4"/>
<rect x="652.3" y="1676.8" width="24.5" height="25.9" fill="#f4f4f4"/>
<rect x="678.9" y="1676.8" width="24.5" height="25.9" fill="#f4f4f4"/>
<rect x="705.4" y="1676.8" width="24.5" height="25.9" fill="#f4f4f4"/>
<rect x="731.9" y="1676.8" width="24.5" height="25.9" fill="#f4f4f4"/>
<rect x="758.4" y="1676.8" width="24.5" height="25.9" fill="#f4f4f4"/>
<rect x="784.9" y="1676.8" width="24.5" height="25.9" fill="#f4f4f4"/>
<rect x="811.4" y="1676.8" width="24.5" height="25.9" fill="#f4f4f4"/>
<rect x="837.9" y="1676.8" width="24.5" height="25.9" fill="#f4f4f4"/>
<rect x="864.4" y="1676.8" width="24.5" height="25.9" fill="#f4f4f4"/>
<rect x="890.9" y="1676.8" width="24.5" height="25.9" fill="#fbc8c8"/>
<rect x="917.4" y="1676.8" width="24.5" height="25.9" fill="#f4f4f4"/>
<rect x="944" y="1676.8" width="24.5" height="25.9" fill="#f4f4f4"/>
<rect x="970.5" y="1676.8" width="24.5" height="25.9" fill="#f4f4f4"/>
<rect x="997" y="1676.8" width="24.5" height="25.9" fill="#f4f4f4"/>
<rect x="1023.5" y="1676.8" width="24.5" height="25.9" fill="#f4f4f4"/>
<rect x="1050" y="1676.8" width="24.5" height="25.9" fill="#f4f4f4"/>
<rect x="281.2" y="1704.8" width="24.5" height="25.9" fill="#f4f4f4"/>
<rect x="307.7" y="1704.8" width="24.5" height="25.9" fill="#f4f4f4"/>
<rect x="334.2" y="1704.8" width="24.5" height="25.9" fill="#f4f4f4"/>
<rect x="360.7" y="1704.8" width="24.5" height="25.9" fill="#f4f4f4"/>
<rect x="387.2" y="1704.8" width="24.5" height="25.9" fill="#f4f4f4"/>
<rect x="413.8" y="1704.8" width="24.5" height="25.9" fill="#f4f4f4"/>
<rect x="440.3" y="1704.8" width="24.5" height="25.9" fill="#f9afaa"/>
<rect x="466.8" y="1704.8" width="24.5" height="25.9" fill="#f4f4f4"/>
<rect x="493.3" y="1704.8" width="24.5" height="25.9" fill="#f4f4f4"/>
<rect x="519.8" y="1704.8" width="24.5" height="25.9" fill="#f4f4f4"/>
<rect x="546.3" y="1704.8" width="24.5" height="25.9" fill="#f4f4f4"/>
<rect x="572.8" y="1704.8" width="24.5" height="25.9" fill="#f4f4f4"/>
<rect x="599.3" y="1704.8" width="24.5" height="25.9" fill="#f4f4f4"/>
<rect x="625.8" y="1704.8" width="24.5" height="25.9" fill="#f4f4f4"/>
<rect x="652.3" y="1704.8" width="24.5" height="25.9" fill="#f4f4f4"/>
<rect x="678.9" y="1704.8" width="24.5" height="25.9" fill="#f4f4f4"/>
<rect x="705.4" y="1704.8" width="24.5" height="25.9" fill="#f4f4f4"/>
<rect x="731.9" y="1704.8" width="24.5" height="25.9" fill="#f4f4f4"/>
<rect x="758.4" y="1704.8" width="24.5" height="25.9" fill="#f4f4f4"/>
<rect x="784.9" y="1704.8" width="24.5" height="25.9" fill="#f4f4f4"/>
<rect x="811.4" y="1704.8" width="24.5" height="25.9" fill="#f4f4f4"/>
<rect x="837.9" y="1704.8" width="24.5" height="25.9" fill="#f4f4f4"/>
<rect x="864.4" y="1704.8" width="24.5" height="25.9" fill="#f4f4f4"/>
<rect x="890.9" y="1704.8" width="24.5" height="25.9" fill="#f4f4f4"/>
<rect x="917.4" y="1704.8" width="24.5" height="25.9" fill="#f4f4f4"/>
<rect x="944" y="1704.8" width="24.5" height="25.9" fill="#f4f4f4"/>
<rect x="970.5" y="1704.8" width="24.5" height="25.9" fill="#f4f4f4"/>
<rect x="997" y="1704.8" width="24.5" height="25.9" fill="#f4f4f4"/>
<rect x="1023.5" y="1704.8" width="24.5" height="25.9" fill="#f4f4f4"/>
<rect x="1050" y="1704.8" width="24.5" height="25.9" fill="#f4f4f4"/>
<rect x="281.2" y="1732.7" width="24.5" height="25.9" fill="#f4f4f4"/>
<rect x="307.7" y="1732.7" width="24.5" height="25.9" fill="#f4f4f4"/>
<rect x="334.2" y="1732.7" width="24.5" height="25.9" fill="#f4f4f4"/>
<rect x="360.7" y="1732.7" width="24.5" height="25.9" fill="#f4f4f4"/>
<rect x="387.2" y="1732.7" width="24.5" height="25.9" fill="#f4f4f4"/>
<rect x="413.8" y="1732.7" width="24.5" height="25.9" fill="#f4f4f4"/>
<rect x="440.3" y="1732.7" width="24.5" height="25.9" fill="#f4f4f4"/>
<rect x="466.8" y="1732.7" width="24.5" height="25.9" fill="#f4f4f4"/>
<rect x="493.3" y="1732.7" width="24.5" height="25.9" fill="#f4f4f4"/>
<rect x="519.8" y="1732.7" width="24.5" height="25.9" fill="#f4f4f4"/>
<rect x="546.3" y="1732.7" width="24.5" height="25.9" fill="#f4f4f4"/>
<rect x="572.8" y="1732.7" width="24.5" height="25.9" fill="#f4f4f4"/>
<rect x="599.3" y="1732.7" width="24.5" height="25.9" fill="#f4f4f4"/>
<rect x="625.8" y="1732.7" width="24.5" height="25.9" fill="#f4f4f4"/>
<rect x="652.3" y="1732.7" width="24.5" height="25.9" fill="#f4f4f4"/>
<rect x="678.9" y="1732.7" width="24.5" height="25.9" fill="#f4f4f4"/>
<rect x="705.4" y="1732.7" width="24.5" height="25.9" fill="#f4f4f4"/>
<rect x="731.9" y="1732.7" width="24.5" height="25.9" fill="#f4f4f4"/>
<rect x="758.4" y="1732.7" width="24.5" height="25.9" fill="#f4f4f4"/>
<rect x="784.9" y="1732.7" width="24.5" height="25.9" fill="#f4f4f4"/>
<rect x="811.4" y="1732.7" width="24.5" height="25.9" fill="#f4f4f4"/>
<rect x="837.9" y="1732.7" width="24.5" height="25.9" fill="#f4f4f4"/>
<rect x="864.4" y="1732.7" width="24.5" height="25.9" fill="#fbbfbf"/>
<rect x="890.9" y="1732.7" width="24.5" height="25.9" fill="#f4f4f4"/>
<rect x="917.4" y="1732.7" width="24.5" height="25.9" fill="#f4f4f4"/>
<rect x="944" y="1732.7" width="24.5" height="25.9" fill="#f4f4f4"/>
<rect x="970.5" y="1732.7" width="24.5" height="25.9" fill="#f4f4f4"/>
<rect x="997" y="1732.7" width="24.5" height="25.9" fill="#f4f4f4"/>
<rect x="1023.5" y="1732.7" width="24.5" height="25.9" fill="#f4f4f4"/>
<rect x="1050" y="1732.7" width="24.5" height="25.9" fill="#f4f4f4"/>
<rect x="281.2" y="1760.7" width="24.5" height="25.9" fill="#f4f4f4"/>
<rect x="307.7" y="1760.7" width="24.5" height="25.9" fill="#f4f4f4"/>
<rect x="334.2" y="1760.7" width="24.5" height="25.9" fill="#f4f4f4"/>
<rect x="360.7" y="1760.7" width="24.5" height="25.9" fill="#f4f4f4"/>
<rect x="387.2" y="1760.7" width="24.5" height="25.9" fill="#f4f4f4"/>
<rect x="413.8" y="1760.7" width="24.5" height="25.9" fill="#f4f4f4"/>
<rect x="440.3" y="1760.7" width="24.5" height="25.9" fill="#f4f4f4"/>
<rect x="466.8" y="1760.7" width="24.5" height="25.9" fill="#f4f4f4"/>
<rect x="493.3" y="1760.7" width="24.5" height="25.9" fill="#f4f4f4"/>
<rect x="519.8" y="1760.7" width="24.5" height="25.9" fill="#f4f4f4"/>
<rect x="546.3" y="1760.7" width="24.5" height="25.9" fill="#f4f4f4"/>
<rect x="572.8" y="1760.7" width="24.5" height="25.9" fill="#f9a8a8"/>
<rect x="599.3" y="1760.7" width="24.5" height="25.9" fill="#f4f4f4"/>
<rect x="625.8" y="1760.7" width="24.5" height="25.9" fill="#f4f4f4"/>
<rect x="652.3" y="1760.7" width="24.5" height="25.9" fill="#f4f4f4"/>
<rect x="678.9" y="1760.7" width="24.5" height="25.9" fill="#f4f4f4"/>
<rect x="705.4" y="1760.7" width="24.5" height="25.9" fill="#f4f4f4"/>
<rect x="731.9" y="1760.7" width="24.5" height="25.9" fill="#f4f4f4"/>
<rect x="758.4" y="1760.7" width="24.5" height="25.9" fill="#f4f4f4"/>
<rect x="784.9" y="1760.7" width="24.5" height="25.9" fill="#f4f4f4"/>
<rect x="811.4" y="1760.7" width="24.5" height="25.9" fill="#f4f4f4"/>
<rect x="837.9" y="1760.7" width="24.5" height="25.9" fill="#f4f4f4"/>
<rect x="864.4" y="1760.7" width="24.5" height="25.9" fill="#f4f4f4"/>
<rect x="890.9" y="1760.7" width="24.5" height="25.9" fill="#f4f4f4"/>
<rect x="917.4" y="1760.7" width="24.5" height="25.9" fill="#f4f4f4"/>
<rect x="944" y="1760.7" width="24.5" height="25.9" fill="#f4f4f4"/>
<rect x="970.5" y="1760.7" width="24.5" height="25.9" fill="#f4f4f4"/>
<rect x="997" y="1760.7" width="24.5" height="25.9" fill="#f4f4f4"/>
<rect x="1023.5" y="1760.7" width="24.5" height="25.9" fill="#f4f4f4"/>
<rect x="1050" y="1760.7" width="24.5" height="25.9" fill="#f4f4f4"/>
<rect x="281.2" y="1788.6" width="24.5" height="25.9" fill="#f4f4f4"/>
<rect x="307.7" y="1788.6" width="24.5" height="25.9" fill="#f4f4f4"/>
<rect x="334.2" y="1788.6" width="24.5" height="25.9" fill="#f4f4f4"/>
<rect x="360.7" y="1788.6" width="24.5" height="25.9" fill="#f4f4f4"/>
<rect x="387.2" y="1788.6" width="24.5" height="25.9" fill="#f4f4f4"/>
<rect x="413.8" y="1788.6" width="24.5" height="25.9" fill="#f4f4f4"/>
<rect x="440.3" y="1788.6" width="24.5" height="25.9" fill="#f4f4f4"/>
<rect x="466.8" y="1788.6" width="24.5" height="25.9" fill="#f4f4f4"/>
<rect x="493.3" y="1788.6" width="24.5" height="25.9" fill="#f4f4f4"/>
<rect x="519.8" y="1788.6" width="24.5" height="25.9" fill="#f4f4f4"/>
<rect x="546.3" y="1788.6" width="24.5" height="25.9" fill="#f4f4f4"/>
<rect x="572.8" y="1788.6" width="24.5" height="25.9" fill="#f4f4f4"/>
<rect x="599.3" y="1788.6" width="24.5" height="25.9" fill="#f9a8a8"/>
<rect x="625.8" y="1788.6" width="24.5" height="25.9" fill="#f4f4f4"/>
<rect x="652.3" y="1788.6" width="24.5" height="25.9" fill="#f4f4f4"/>
<rect x="678.9" y="1788.6" width="24.5" height="25.9" fill="#f4f4f4"/>
<rect x="705.4" y="1788.6" width="24.5" height="25.9" fill="#f4f4f4"/>
<rect x="731.9" y="1788.6" width="24.5" height="25.9" fill="#f4f4f4"/>
<rect x="758.4" y="1788.6" width="24.5" height="25.9" fill="#f4f4f4"/>
<rect x="784.9" y="1788.6" width="24.5" height="25.9" fill="#f4f4f4"/>
<rect x="811.4" y="1788.6" width="24.5" height="25.9" fill="#f4f4f4"/>
<rect x="837.9" y="1788.6" width="24.5" height="25.9" fill="#f4f4f4"/>
<rect x="864.4" y="1788.6" width="24.5" height="25.9" fill="#f4f4f4"/>
<rect x="890.9" y="1788.6" width="24.5" height="25.9" fill="#f4f4f4"/>
<rect x="917.4" y="1788.6" width="24.5" height="25.9" fill="#f4f4f4"/>
<rect x="944" y="1788.6" width="24.5" height="25.9" fill="#f4f4f4"/>
<rect x="970.5" y="1788.6" width="24.5" height="25.9" fill="#f4f4f4"/>
<rect x="997" y="1788.6" width="24.5" height="25.9" fill="#f4f4f4"/>
<rect x="1023.5" y="1788.6" width="24.5" height="25.9" fill="#f4f4f4"/>
<rect x="1050" y="1788.6" width="24.5" height="25.9" fill="#f4f4f4"/>
<rect x="281.2" y="1816.5" width="24.5" height="25.9" fill="#f4f4f4"/>
<rect x="307.7" y="1816.5" width="24.5" height="25.9" fill="#f4f4f4"/>
<rect x="334.2" y="1816.5" width="24.5" height="25.9" fill="#f4f4f4"/>
<rect x="360.7" y="1816.5" width="24.5" height="25.9" fill="#f4f4f4"/>
<rect x="387.2" y="1816.5" width="24.5" height="25.9" fill="#f4f4f4"/>
<rect x="413.8" y="1816.5" width="24.5" height="25.9" fill="#f4f4f4"/>
<rect x="440.3" y="1816.5" width="24.5" height="25.9" fill="#f4f4f4"/>
<rect x="466.8" y="1816.5" width="24.5" height="25.9" fill="#f4f4f4"/>
<rect x="493.3" y="1816.5" width="24.5" height="25.9" fill="#f4f4f4"/>
<rect x="519.8" y="1816.5" width="24.5" height="25.9" fill="#f4f4f4"/>
<rect x="546.3" y="1816.5" width="24.5" height="25.9" fill="#f4f4f4"/>
<rect x="572.8" y="1816.5" width="24.5" height="25.9" fill="#f4f4f4"/>
<rect x="599.3" y="1816.5" width="24.5" height="25.9" fill="#f4f4f4"/>
<rect x="625.8" y="1816.5" width="24.5" height="25.9" fill="#f4f4f4"/>
<rect x="652.3" y="1816.5" width="24.5" height="25.9" fill="#f4f4f4"/>
<rect x="678.9" y="1816.5" width="24.5" height="25.9" fill="#f4f4f4"/>
<rect x="705.4" y="1816.5" width="24.5" height="25.9" fill="#f4f4f4"/>
<rect x="731.9" y="1816.5" width="24.5" height="25.9" fill="#f4f4f4"/>
<rect x="758.4" y="1816.5" width="24.5" height="25.9" fill="#fad8d8"/>
<rect x="784.9" y="1816.5" width="24.5" height="25.9" fill="#f4f4f4"/>
<rect x="811.4" y="1816.5" width="24.5" height="25.9" fill="#f4f4f4"/>
<rect x="837.9" y="1816.5" width="24.5" height="25.9" fill="#f4f4f4"/>
<rect x="864.4" y="1816.5" width="24.5" height="25.9" fill="#f4f4f4"/>
<rect x="890.9" y="1816.5" width="24.5" height="25.9" fill="#f4f4f4"/>
<rect x="917.4" y="1816.5" width="24.5" height="25.9" fill="#f4f4f4"/>
<rect x="944" y="1816.5" width="24.5" height="25.9" fill="#f4f4f4"/>
<rect x="970.5" y="1816.5" width="24.5" height="25.9" fill="#f4f4f4"/>
<rect x="997" y="1816.5" width="24.5" height="25.9" fill="#f4f4f4"/>
<rect x="1023.5" y="1816.5" width="24.5" height="25.9" fill="#f4f4f4"/>
<rect x="1050" y="1816.5" width="24.5" height="25.9" fill="#f4f4f4"/>
<rect x="157.7" y="1284.5" width="114.1" height="558.3" fill="none" stroke="#231f20" stroke-width="1.6"/>
<circle cx="173.5" cy="1300" r="6.3" fill="#f9ddea"/>
<circle cx="201.1" cy="1300" r="5.8" fill="#f6cfe2"/>
<circle cx="229.7" cy="1300" r="10.5" fill="#dc72ae"/>
<circle cx="258.2" cy="1300" r="11" fill="#e07fb6"/>
<circle cx="173.5" cy="1327.8" r="2" fill="#eca5ca"/>
<circle cx="201.1" cy="1327.8" r="1.6" fill="#d65fa4"/>
<circle cx="229.7" cy="1327.8" r="1.6" fill="#e07fb6"/>
<circle cx="258.2" cy="1327.8" r="0.8" fill="#fceef4"/>
<circle cx="173.5" cy="1355.6" r="8.1" fill="#fae4ee"/>
<circle cx="201.1" cy="1355.6" r="7.8" fill="#f6cfe2"/>
<circle cx="229.7" cy="1355.6" r="10.5" fill="#e07fb6"/>
<circle cx="258.2" cy="1355.6" r="11.2" fill="#dc72ae"/>
<circle cx="173.5" cy="1383.4" r="4.7" fill="#f8d7e7"/>
<circle cx="201.1" cy="1383.4" r="4.4" fill="#f0b2d1"/>
<circle cx="229.7" cy="1383.4" r="5" fill="#f0b2d1"/>
<circle cx="258.2" cy="1383.4" r="8.3" fill="#d65fa4"/>
<circle cx="173.5" cy="1411.2" r="5" fill="#eca5ca"/>
<circle cx="201.1" cy="1411.2" r="3.4" fill="#fbebf2"/>
<circle cx="229.7" cy="1411.2" r="4.3" fill="#d65fa4"/>
<circle cx="258.2" cy="1411.2" r="4.7" fill="#eca5ca"/>
<circle cx="173.5" cy="1439" r="4" fill="#fefcfd"/>
<circle cx="201.1" cy="1439" r="4" fill="#d65fa4"/>
<circle cx="229.7" cy="1439" r="3.6" fill="#eca5ca"/>
<circle cx="258.2" cy="1439" r="4.7" fill="#e07fb6"/>
<circle cx="173.5" cy="1466.8" r="5.4" fill="#eca5ca"/>
<circle cx="229.7" cy="1466.8" r="4.4" fill="#dc72ae"/>
<circle cx="258.2" cy="1466.8" r="5.4" fill="#dc72ae"/>
<circle cx="173.5" cy="1494.6" r="1.7" fill="#eca5ca"/>
<circle cx="201.1" cy="1494.6" r="1.3" fill="#f3c0d9"/>
<circle cx="229.7" cy="1494.6" r="1.7" fill="#d458a0"/>
<circle cx="258.2" cy="1494.6" r="1.1" fill="#f9ddea"/>
<circle cx="173.5" cy="1522.4" r="7.8" fill="#f8d7e7"/>
<circle cx="201.1" cy="1522.4" r="6.7" fill="#f6cfe2"/>
<circle cx="229.7" cy="1522.4" r="9.1" fill="#e48cbd"/>
<circle cx="258.2" cy="1522.4" r="10.5" fill="#d65fa4"/>
<circle cx="173.5" cy="1550.2" r="10.8" fill="#e48cbd"/>
<circle cx="201.1" cy="1550.2" r="10.5" fill="#d968a9"/>
<circle cx="229.7" cy="1550.2" r="8.3" fill="#f8d7e7"/>
<circle cx="258.2" cy="1550.2" r="9.7" fill="#f8d7e7"/>
<circle cx="173.5" cy="1578" r="8.8" fill="#e07fb6"/>
<circle cx="201.1" cy="1578" r="6.9" fill="#d968a9"/>
<circle cx="229.7" cy="1578" r="4.6" fill="#f8d7e7"/>
<circle cx="258.2" cy="1578" r="5.2" fill="#f9ddea"/>
<circle cx="173.5" cy="1605.8" r="2.3" fill="#d2519d"/>
<circle cx="201.1" cy="1605.8" r="1.3" fill="#f3c0d9"/>
<circle cx="229.7" cy="1605.8" r="1.3" fill="#f3c0d9"/>
<circle cx="258.2" cy="1605.8" r="1.6" fill="#f0b2d1"/>
<circle cx="173.5" cy="1633.6" r="1.6" fill="#e899c4"/>
<circle cx="201.1" cy="1633.6" r="1" fill="#f3c0d9"/>
<circle cx="229.7" cy="1633.6" r="1.6" fill="#d65fa4"/>
<circle cx="258.2" cy="1633.6" r="1.3" fill="#f6cfe2"/>
<circle cx="173.5" cy="1661.4" r="2" fill="#f9ddea"/>
<circle cx="201.1" cy="1661.4" r="2" fill="#f9ddea"/>
<circle cx="229.7" cy="1661.4" r="5.2" fill="#d968a9"/>
<circle cx="258.2" cy="1661.4" r="5.6" fill="#e07fb6"/>
<circle cx="173.5" cy="1689.2" r="1.3" fill="#fceef4"/>
<circle cx="201.1" cy="1689.2" r="2" fill="#d65fa4"/>
<circle cx="229.7" cy="1689.2" r="1.6" fill="#f6cfe2"/>
<circle cx="258.2" cy="1689.2" r="2" fill="#e07fb6"/>
<circle cx="173.5" cy="1717" r="2" fill="#f3c0d9"/>
<circle cx="201.1" cy="1717" r="1.6" fill="#f6cfe2"/>
<circle cx="229.7" cy="1717" r="2.6" fill="#d458a0"/>
<circle cx="258.2" cy="1717" r="2" fill="#f6cfe2"/>
<circle cx="173.5" cy="1744.8" r="4.9" fill="#f9ddea"/>
<circle cx="201.1" cy="1744.8" r="3.3" fill="#fceef4"/>
<circle cx="229.7" cy="1744.8" r="5.6" fill="#e48cbd"/>
<circle cx="258.2" cy="1744.8" r="7.5" fill="#d968a9"/>
<circle cx="173.5" cy="1772.6" r="3.3" fill="#f9ddea"/>
<circle cx="201.1" cy="1772.6" r="2.9" fill="#e07fb6"/>
<circle cx="229.7" cy="1772.6" r="3.6" fill="#d65fa4"/>
<circle cx="258.2" cy="1772.6" r="3.3" fill="#f9ddea"/>
<circle cx="173.5" cy="1800.4" r="2" fill="#f3c0d9"/>
<circle cx="201.1" cy="1800.4" r="1.6" fill="#f6cfe2"/>
<circle cx="229.7" cy="1800.4" r="2.3" fill="#d458a0"/>
<circle cx="258.2" cy="1800.4" r="2" fill="#f3c0d9"/>
<circle cx="173.5" cy="1828.2" r="9.8" fill="#e07fb6"/>
<circle cx="201.1" cy="1828.2" r="8.2" fill="#e07fb6"/>
<circle cx="229.7" cy="1828.2" r="4.9" fill="#fdf5f9"/>
<circle cx="258.2" cy="1828.2" r="7.5" fill="#f3c0d9"/>
<rect x="280.8" y="1850" width="793.4" height="93.6" fill="none" stroke="#231f20" stroke-width="1.6"/>
<text x="268.7" y="1875.3" font-size="23" fill="#cf55b9" text-anchor="end">pro_NK</text>
<text x="268.7" y="1904" font-size="23" fill="#6aae3c" text-anchor="end">CD56_NK</text>
<text x="268.7" y="1933.1" font-size="23" fill="#c5c228" text-anchor="end">CD16_NK</text>
<line x1="110" y1="1871.5" x2="117" y2="1871.5" stroke="#999" stroke-width="0.8"/>
<circle cx="295.8" cy="1867.5" r="3.6" fill="#fceef4"/>
<circle cx="322.2" cy="1867.5" r="2.9" fill="#fceef4"/>
<circle cx="348.5" cy="1867.5" r="4.1" fill="#e899c4"/>
<circle cx="401.2" cy="1867.5" r="5.3" fill="#f3c0d9"/>
<circle cx="427.6" cy="1867.5" r="6.9" fill="#f3c0d9"/>
<circle cx="453.9" cy="1867.5" r="5" fill="#dc72ae"/>
<circle cx="480.2" cy="1867.5" r="8.4" fill="#e07fb6"/>
<circle cx="506.6" cy="1867.5" r="6" fill="#f0b2d1"/>
<circle cx="533" cy="1867.5" r="11" fill="#fceef4"/>
<circle cx="559.3" cy="1867.5" r="9.3" fill="#d458a0"/>
<circle cx="585.7" cy="1867.5" r="8.6" fill="#d65fa4"/>
<circle cx="612" cy="1867.5" r="3.6" fill="#fdf5f9"/>
<circle cx="638.4" cy="1867.5" r="4.5" fill="#d2519d"/>
<circle cx="664.7" cy="1867.5" r="1.8" fill="#fdf5f9"/>
<circle cx="691" cy="1867.5" r="4.5" fill="#f0b2d1"/>
<circle cx="717.4" cy="1867.5" r="4" fill="#fdf5f9"/>
<circle cx="743.8" cy="1867.5" r="1.8" fill="#f9ddea"/>
<circle cx="770.1" cy="1867.5" r="3" fill="#f3c0d9"/>
<circle cx="796.5" cy="1867.5" r="2" fill="#eca5ca"/>
<circle cx="822.8" cy="1867.5" r="9.5" fill="#fef8fb"/>
<circle cx="849.2" cy="1867.5" r="7.3" fill="#d968a9"/>
<circle cx="875.5" cy="1867.5" r="4.8" fill="#d2519d"/>
<circle cx="901.9" cy="1867.5" r="9.3" fill="#e899c4"/>
<circle cx="928.2" cy="1867.5" r="2.8" fill="#e48cbd"/>
<circle cx="954.5" cy="1867.5" r="6.8" fill="#f3c0d9"/>
<circle cx="980.9" cy="1867.5" r="8.5" fill="#d458a0"/>
<circle cx="1007.2" cy="1867.5" r="1.8" fill="#fceef4"/>
<circle cx="1033.6" cy="1867.5" r="7" fill="#f9ddea"/>
<circle cx="1060" cy="1867.5" r="6" fill="#d2519d"/>
<circle cx="295.8" cy="1896.5" r="6.5" fill="#d65fa4"/>
<circle cx="322.2" cy="1896.5" r="5.5" fill="#d65fa4"/>
<circle cx="348.5" cy="1896.5" r="7.4" fill="#d458a0"/>
<circle cx="374.9" cy="1896.5" r="8.9" fill="#e07fb6"/>
<circle cx="401.2" cy="1896.5" r="8.4" fill="#d2519d"/>
<circle cx="427.6" cy="1896.5" r="4.8" fill="#f6cfe2"/>
<circle cx="453.9" cy="1896.5" r="4.1" fill="#dc72ae"/>
<circle cx="506.6" cy="1896.5" r="4.1" fill="#f9ddea"/>
<circle cx="533" cy="1896.5" r="10.8" fill="#eca5ca"/>
<circle cx="559.3" cy="1896.5" r="6.7" fill="#f3c0d9"/>
<circle cx="585.7" cy="1896.5" r="6.9" fill="#e899c4"/>
<circle cx="612" cy="1896.5" r="9.1" fill="#d65fa4"/>
<circle cx="638.4" cy="1896.5" r="3.1" fill="#f6cfe2"/>
<circle cx="664.7" cy="1896.5" r="2.5" fill="#e899c4"/>
<circle cx="691" cy="1896.5" r="9" fill="#d2519d"/>
<circle cx="717.4" cy="1896.5" r="8.5" fill="#d968a9"/>
<circle cx="743.8" cy="1896.5" r="2" fill="#d2519d"/>
<circle cx="770.1" cy="1896.5" r="5.5" fill="#d2519d"/>
<circle cx="796.5" cy="1896.5" r="3.8" fill="#d2519d"/>
<circle cx="822.8" cy="1896.5" r="8.5" fill="#e899c4"/>
<circle cx="849.2" cy="1896.5" r="5" fill="#fefcfd"/>
<circle cx="875.5" cy="1896.5" r="3" fill="#e899c4"/>
<circle cx="901.9" cy="1896.5" r="9" fill="#d458a0"/>
<circle cx="928.2" cy="1896.5" r="4" fill="#d2519d"/>
<circle cx="954.5" cy="1896.5" r="7.5" fill="#d2519d"/>
<circle cx="980.9" cy="1896.5" r="4" fill="#fceef4"/>
<circle cx="1007.2" cy="1896.5" r="1.8" fill="#ce4196"/>
<circle cx="1033.6" cy="1896.5" r="6.5" fill="#f3c0d9"/>
<circle cx="1060" cy="1896.5" r="2.3" fill="#fceef4"/>
<circle cx="295.8" cy="1925" r="4.5" fill="#e899c4"/>
<circle cx="322.2" cy="1925" r="4.5" fill="#e899c4"/>
<circle cx="348.5" cy="1925" r="1.9" fill="#fceef4"/>
<circle cx="374.9" cy="1925" r="9.3" fill="#e07fb6"/>
<circle cx="401.2" cy="1925" r="3.8" fill="#f9ddea"/>
<circle cx="427.6" cy="1925" r="6.2" fill="#d458a0"/>
<circle cx="480.2" cy="1925" r="6.9" fill="#dc72ae"/>
<circle cx="506.6" cy="1925" r="6" fill="#d458a0"/>
<circle cx="533" cy="1925" r="11" fill="#d65fa4"/>
<circle cx="559.3" cy="1925" r="6.5" fill="#f6cfe2"/>
<circle cx="585.7" cy="1925" r="6" fill="#fdf5f9"/>
<circle cx="612" cy="1925" r="7.2" fill="#e899c4"/>
<circle cx="638.4" cy="1925" r="2.9" fill="#f9ddea"/>
<circle cx="664.7" cy="1925" r="3.4" fill="#d458a0"/>
<circle cx="691" cy="1925" r="5" fill="#f9ddea"/>
<circle cx="717.4" cy="1925" r="6.8" fill="#e899c4"/>
<circle cx="743.8" cy="1925" r="1.8" fill="#f3c0d9"/>
<circle cx="770.1" cy="1925" r="2.5" fill="#f9ddea"/>
<circle cx="796.5" cy="1925" r="1.3" fill="#fceef4"/>
<circle cx="822.8" cy="1925" r="9.5" fill="#d65fa4"/>
<circle cx="849.2" cy="1925" r="5.5" fill="#e48cbd"/>
<circle cx="875.5" cy="1925" r="1.3" fill="#fefcfd"/>
<circle cx="901.9" cy="1925" r="5.3" fill="#fdf5f9"/>
<circle cx="928.2" cy="1925" r="1" fill="#fdf5f9"/>
<circle cx="954.5" cy="1925" r="6.5" fill="#f9ddea"/>
<circle cx="980.9" cy="1925" r="5.5" fill="#eca5ca"/>
<circle cx="1007.2" cy="1925" r="1.8" fill="#f9ddea"/>
<circle cx="1033.6" cy="1925" r="7" fill="#d2519d"/>
<circle cx="1060" cy="1925" r="3.5" fill="#eca5ca"/>
<text transform="translate(304.1 1954.4) rotate(-90)" font-size="23" text-anchor="end" font-style="italic">KLRC2</text>
<text transform="translate(330.5 1954.4) rotate(-90)" font-size="23" text-anchor="end" font-style="italic">KLRC3</text>
<text transform="translate(356.8 1954.4) rotate(-90)" font-size="23" text-anchor="end" font-style="italic">KLRC1</text>
<text transform="translate(383.2 1954.4) rotate(-90)" font-size="23" text-anchor="end" font-style="italic">KLRD1</text>
<text transform="translate(409.5 1954.4) rotate(-90)" font-size="23" fill="#e8141c" text-anchor="end" font-style="italic">IL2RB</text>
<text transform="translate(435.9 1954.4) rotate(-90)" font-size="23" fill="#e8141c" text-anchor="end" font-style="italic">IL2RG</text>
<text transform="translate(462.2 1954.4) rotate(-90)" font-size="23" text-anchor="end" font-style="italic">CD81</text>
<text transform="translate(488.6 1954.4) rotate(-90)" font-size="23" text-anchor="end" font-style="italic">CD99</text>
<text transform="translate(514.9 1954.4) rotate(-90)" font-size="23" text-anchor="end" font-style="italic">CD47</text>
<text transform="translate(541.2 1954.4) rotate(-90)" font-size="23" text-anchor="end" font-style="italic">PTPRC</text>
<text transform="translate(567.6 1954.4) rotate(-90)" font-size="23" text-anchor="end" font-style="italic">RPSA</text>
<text transform="translate(594 1954.4) rotate(-90)" font-size="23" text-anchor="end" font-style="italic">CD44</text>
<text transform="translate(620.3 1954.4) rotate(-90)" font-size="23" text-anchor="end" font-style="italic">TYROBP</text>
<text transform="translate(646.6 1954.4) rotate(-90)" font-size="23" text-anchor="end" font-style="italic">TMEM167A</text>
<text transform="translate(673 1954.4) rotate(-90)" font-size="23" text-anchor="end" font-style="italic">NCR3</text>
<text transform="translate(699.3 1954.4) rotate(-90)" font-size="23" text-anchor="end" font-style="italic">NCAM1</text>
<text transform="translate(725.7 1954.4) rotate(-90)" font-size="23" text-anchor="end" font-style="italic">KLRB1</text>
<text transform="translate(752 1954.4) rotate(-90)" font-size="23" text-anchor="end" font-style="italic">KIR2DL3</text>
<text transform="translate(778.4 1954.4) rotate(-90)" font-size="23" text-anchor="end" font-style="italic">ITGAX</text>
<text transform="translate(804.8 1954.4) rotate(-90)" font-size="23" text-anchor="end" font-style="italic">ITGAD</text>
<text transform="translate(831.1 1954.4) rotate(-90)" font-size="23" text-anchor="end" font-style="italic">HCST</text>
<text transform="translate(857.5 1954.4) rotate(-90)" font-size="23" text-anchor="end" font-style="italic">EZR</text>
<text transform="translate(883.8 1954.4) rotate(-90)" font-size="23" text-anchor="end" font-style="italic">CXCR3</text>
<text transform="translate(910.2 1954.4) rotate(-90)" font-size="23" text-anchor="end" font-style="italic">CD96</text>
<text transform="translate(936.5 1954.4) rotate(-90)" font-size="23" text-anchor="end" font-style="italic">CD9</text>
<text transform="translate(962.8 1954.4) rotate(-90)" font-size="23" text-anchor="end" font-style="italic">CD63</text>
<text transform="translate(989.2 1954.4) rotate(-90)" font-size="23" text-anchor="end" font-style="italic">CD2</text>
<text transform="translate(1015.5 1954.4) rotate(-90)" font-size="23" text-anchor="end" font-style="italic">CATSPER1</text>
<text transform="translate(1041.9 1954.4) rotate(-90)" font-size="23" text-anchor="end" font-style="italic">ADGRE5</text>
<text transform="translate(1068.2 1954.4) rotate(-90)" font-size="23" text-anchor="end" font-style="italic">ANXA2</text>
<text transform="translate(65 1994) rotate(-90)" font-size="23" text-anchor="middle">Expressed (%)</text>
<circle cx="99.5" cy="1962" r="4" fill="#000"/>
<text x="124" y="1969" font-size="19">25</text>
<circle cx="99.5" cy="1989" r="6.9" fill="#000"/>
<text x="124" y="1996" font-size="19">50</text>
<circle cx="99.5" cy="2015.3" r="9.8" fill="#000"/>
<text x="124" y="2022.3" font-size="19">75</text>
<text x="400.6" y="2099.2" font-size="23.3" text-anchor="middle">Average Expression</text>
<defs><linearGradient id="gE1" x1="0" y1="0" x2="1" y2="0"><stop offset="0" stop-color="#ffffff"/><stop offset="0.25" stop-color="#f5cfe2"/><stop offset="0.5" stop-color="#e48fbe"/><stop offset="0.75" stop-color="#d8609f"/><stop offset="1" stop-color="#be1189"/></linearGradient></defs>
<rect x="319.8" y="2109" width="162.5" height="23.4" fill="url(#gE1)"/>
<line x1="369.8" y1="2109" x2="369.8" y2="2113.7" stroke="#fff" stroke-width="1.2"/>
<line x1="369.8" y1="2127.7" x2="369.8" y2="2132.4" stroke="#fff" stroke-width="1.2"/>
<line x1="401" y1="2109" x2="401" y2="2113.7" stroke="#fff" stroke-width="1.2"/>
<line x1="401" y1="2127.7" x2="401" y2="2132.4" stroke="#fff" stroke-width="1.2"/>
<line x1="432.3" y1="2109" x2="432.3" y2="2113.7" stroke="#fff" stroke-width="1.2"/>
<line x1="432.3" y1="2127.7" x2="432.3" y2="2132.4" stroke="#fff" stroke-width="1.2"/>
<line x1="463.5" y1="2109" x2="463.5" y2="2113.7" stroke="#fff" stroke-width="1.2"/>
<line x1="463.5" y1="2127.7" x2="463.5" y2="2132.4" stroke="#fff" stroke-width="1.2"/>
<text x="324.5" y="2153.8" font-size="19" text-anchor="middle">−1.0</text>
<text x="403.9" y="2153.8" font-size="19" text-anchor="middle">0.0</text>
<text x="477.2" y="2153.8" font-size="19" text-anchor="middle">1.0</text>
<text x="651.4" y="2099.2" font-size="23.3" text-anchor="middle">AUPR</text>
<defs><linearGradient id="gE2" x1="0" y1="0" x2="1" y2="0"><stop offset="0" stop-color="#f5f1ee"/><stop offset="0.5" stop-color="#fdbf85"/><stop offset="1" stop-color="#ff8000"/></linearGradient></defs>
<rect x="575.7" y="2109" width="164.4" height="23.4" fill="url(#gE2)"/>
<line x1="597.2" y1="2109" x2="597.2" y2="2113.7" stroke="#fff" stroke-width="1.2"/>
<line x1="597.2" y1="2127.7" x2="597.2" y2="2132.4" stroke="#fff" stroke-width="1.2"/>
<line x1="653.3" y1="2109" x2="653.3" y2="2113.7" stroke="#fff" stroke-width="1.2"/>
<line x1="653.3" y1="2127.7" x2="653.3" y2="2132.4" stroke="#fff" stroke-width="1.2"/>
<line x1="709.3" y1="2109" x2="709.3" y2="2113.7" stroke="#fff" stroke-width="1.2"/>
<line x1="709.3" y1="2127.7" x2="709.3" y2="2132.4" stroke="#fff" stroke-width="1.2"/>
<text x="597.2" y="2152" font-size="19" text-anchor="middle">0.055</text>
<text x="653.3" y="2152" font-size="19" text-anchor="middle">0.060</text>
<text x="709.3" y="2152" font-size="19" text-anchor="middle">0.065</text>
<text x="906.4" y="2099.2" font-size="23.3" text-anchor="middle">Prior interaction potential</text>
<defs><linearGradient id="gE3" x1="0" y1="0" x2="1" y2="0"><stop offset="0" stop-color="#f2f2f2"/><stop offset="0.5" stop-color="#f9b4b4"/><stop offset="1" stop-color="#f26b70"/></linearGradient></defs>
<rect x="819" y="2109" width="165" height="23.4" fill="url(#gE3)"/>
<line x1="837.8" y1="2109" x2="837.8" y2="2113.7" stroke="#fff" stroke-width="1.2"/>
<line x1="837.8" y1="2127.7" x2="837.8" y2="2132.4" stroke="#fff" stroke-width="1.2"/>
<line x1="875.6" y1="2109" x2="875.6" y2="2113.7" stroke="#fff" stroke-width="1.2"/>
<line x1="875.6" y1="2127.7" x2="875.6" y2="2132.4" stroke="#fff" stroke-width="1.2"/>
<line x1="913.9" y1="2109" x2="913.9" y2="2113.7" stroke="#fff" stroke-width="1.2"/>
<line x1="913.9" y1="2127.7" x2="913.9" y2="2132.4" stroke="#fff" stroke-width="1.2"/>
<line x1="952.2" y1="2109" x2="952.2" y2="2113.7" stroke="#fff" stroke-width="1.2"/>
<line x1="952.2" y1="2127.7" x2="952.2" y2="2132.4" stroke="#fff" stroke-width="1.2"/>
<text x="837.8" y="2152" font-size="19" text-anchor="middle">0.0</text>
<text x="875.6" y="2152" font-size="19" text-anchor="middle">0.4</text>
<text x="913.9" y="2152" font-size="19" text-anchor="middle">0.8</text>
<text x="952.2" y="2152" font-size="19" text-anchor="middle">1.2</text>
<defs><filter id="tex" x="0" y="0" width="1" height="1" color-interpolation-filters="sRGB"><feTurbulence type="fractalNoise" baseFrequency="0.5" numOctaves="1" seed="4"/><feColorMatrix type="matrix" values="2.6 0 0 0 -1.3 2.6 0 0 0 -1.3 2.6 0 0 0 -1.3 0 0 0 0 1"/><feConvolveMatrix order="3" kernelMatrix="1 2 1 2 4 2 1 2 1" divisor="16" edgeMode="duplicate"/></filter><filter id="tex2" x="0" y="0" width="1" height="1" color-interpolation-filters="sRGB"><feTurbulence type="fractalNoise" baseFrequency="0.2" numOctaves="2" seed="9"/><feColorMatrix type="matrix" values="2.4 0 0 0 -1.29 2.4 0 0 0 -1.29 2.4 0 0 0 -1.29 0 0 0 0 1"/><feGaussianBlur stdDeviation="1.0"/></filter><filter id="vb" x="-20%" y="-20%" width="140%" height="140%"><feGaussianBlur stdDeviation="2.2"/></filter><filter id="vb2" x="-50%" y="-50%" width="200%" height="200%"><feGaussianBlur stdDeviation="9"/></filter></defs>
<text x="1114.5" y="722" font-size="25" font-weight="bold">D</text>
<text x="1243" y="757.8" font-size="27.5" text-anchor="middle">LH2</text>
<text x="1455" y="757.8" font-size="27.5" text-anchor="middle">LH7</text>
<text x="1667.4" y="757.8" font-size="27.5" text-anchor="middle">LH9</text>
<text x="1878.3" y="757.8" font-size="27.5" text-anchor="middle">LH12</text>
<clipPath id="c1"><rect x="1146.3" y="761" width="205.7" height="206.8"/></clipPath>
<g clip-path="url(#c1)">
<rect x="1146.3" y="761" width="205.7" height="206.8" fill="#000"/>
<rect x="1146.3" y="761" width="205.7" height="206.8" filter="url(#tex)"/>
<g fill="#000" opacity="0.5" filter="url(#vb2)"><ellipse cx="1187.4" cy="823" rx="37" ry="45.5"/></g><g stroke="#fff" opacity="0.12" filter="url(#vb)"><path d="M1245 790 L1261.5 787.9 L1282.1 792" fill="none" stroke-width="16.2" stroke-linecap="round" stroke-linejoin="round"/><path d="M1294.4 771.3 L1310.9 769.3" fill="none" stroke-width="15.2" stroke-linecap="round" stroke-linejoin="round"/><path d="M1249.2 829.2 L1269.7 827.2 L1290.3 823" fill="none" stroke-width="15.2" stroke-linecap="round" stroke-linejoin="round"/><path d="M1296.5 864.4 L1310.9 860.3 L1323.2 870.6" fill="none" stroke-width="15.2" stroke-linecap="round" stroke-linejoin="round"/><path d="M1187.4 926.4 L1218.3 924.4 L1249.2 926.4" fill="none" stroke-width="15.2" stroke-linecap="round" stroke-linejoin="round"/><path d="M1208 914 L1238.9 912 L1265.6 914" fill="none" stroke-width="14.1" stroke-linecap="round" stroke-linejoin="round"/><ellipse cx="1271.8" cy="930.6" rx="14.3" ry="12.3" fill="none" stroke-width="6"/><path d="M1269.7 922.3 L1282.1 909.9" fill="none" stroke-width="16.2" stroke-linecap="round" stroke-linejoin="round"/><ellipse cx="1152.5" cy="932.6" rx="10.2" ry="12.3" fill="none" stroke-width="6"/></g><g fill="#000" filter="url(#vb)"><path d="M1245 790 L1261.5 787.9 L1282.1 792" fill="none" stroke="#000" stroke-width="7.2" stroke-linecap="round" stroke-linejoin="round"/><path d="M1294.4 771.3 L1310.9 769.3" fill="none" stroke="#000" stroke-width="6.2" stroke-linecap="round" stroke-linejoin="round"/><path d="M1249.2 829.2 L1269.7 827.2 L1290.3 823" fill="none" stroke="#000" stroke-width="6.2" stroke-linecap="round" stroke-linejoin="round"/><path d="M1296.5 864.4 L1310.9 860.3 L1323.2 870.6" fill="none" stroke="#000" stroke-width="6.2" stroke-linecap="round" stroke-linejoin="round"/><path d="M1187.4 926.4 L1218.3 924.4 L1249.2 926.4" fill="none" stroke="#000" stroke-width="6.2" stroke-linecap="round" stroke-linejoin="round"/><path d="M1208 914 L1238.9 912 L1265.6 914" fill="none" stroke="#000" stroke-width="5.1" stroke-linecap="round" stroke-linejoin="round"/><ellipse cx="1271.8" cy="930.6" rx="12.3" ry="10.3"/><path d="M1269.7 922.3 L1282.1 909.9" fill="none" stroke="#000" stroke-width="7.2" stroke-linecap="round" stroke-linejoin="round"/><ellipse cx="1152.5" cy="932.6" rx="8.2" ry="10.3"/></g>
<path d="M1177 855h0M1304 906h0M1296 851h0M1310 871h0M1164 855h0M1158 953h0M1340 831h0M1211 919h0M1189 799h0M1186 833h0M1275 959h0M1191 957h0M1260 946h0M1314 795h0M1279 788h0M1149 843h0M1305 878h0M1187 934h0M1333 811h0M1239 892h0M1331 788h0M1260 960h0M1271 909h0M1305 866h0M1207 883h0M1255 832h0M1321 836h0M1246 918h0M1313 944h0M1280 814h0M1320 948h0M1293 919h0M1252 863h0M1322 796h0M1301 906h0M1172 773h0M1268 807h0M1211 889h0M1215 765h0M1171 802h0M1254 909h0M1190 842h0M1338 844h0M1292 889h0M1282 860h0" stroke="#ffff00" stroke-width="2.2" stroke-linecap="square"/>
</g>
<clipPath id="c2"><rect x="1355.7" y="761" width="206.3" height="206.8"/></clipPath>
<g clip-path="url(#c2)">
<rect x="1355.7" y="761" width="206.3" height="206.8" fill="#000"/>
<rect x="1355.7" y="761" width="206.3" height="206.8" filter="url(#tex)"/>
<g fill="#000" opacity="0.5" filter="url(#vb2)"><ellipse cx="1386.6" cy="905.8" rx="20.6" ry="24.8"/></g><g stroke="#fff" opacity="0.12" filter="url(#vb)"><ellipse cx="1397" cy="779.6" rx="30.9" ry="15.4" transform="rotate(25 1397 779.6)" fill="none" stroke-width="6"/><ellipse cx="1359.8" cy="765.1" rx="10.3" ry="10.3" fill="none" stroke-width="6"/><path d="M1440.3 845.8 L1452.7 856.1 L1463 864.4" fill="none" stroke-width="18.3" stroke-linecap="round" stroke-linejoin="round"/><ellipse cx="1485.7" cy="852" rx="13.3" ry="9.2" transform="rotate(40 1485.7 852)" fill="none" stroke-width="6"/><path d="M1469.2 806.5 L1485.7 816.8 L1500.1 825.1" fill="none" stroke-width="18.3" stroke-linecap="round" stroke-linejoin="round"/><path d="M1514.6 771.3 L1516.6 802.4 L1512.5 829.2" fill="none" stroke-width="17.3" stroke-linecap="round" stroke-linejoin="round"/><path d="M1547.6 769.3 L1551.7 798.2 L1549.6 823" fill="none" stroke-width="18.3" stroke-linecap="round" stroke-linejoin="round"/><ellipse cx="1370.1" cy="839.6" rx="12.3" ry="18.5" fill="none" stroke-width="6"/><ellipse cx="1372.2" cy="955.4" rx="24.7" ry="18.5" fill="none" stroke-width="6"/><path d="M1413.5 943 L1417.6 916.1 L1430 901.6 L1442.3 914" fill="none" stroke-width="17.3" stroke-linecap="round" stroke-linejoin="round"/><path d="M1463 901.6 L1463 930.6 L1469.2 957.5" fill="none" stroke-width="17.3" stroke-linecap="round" stroke-linejoin="round"/><path d="M1524.9 889.2 L1522.8 926.4 L1526.9 961.6" fill="none" stroke-width="18.3" stroke-linecap="round" stroke-linejoin="round"/><ellipse cx="1557.9" cy="901.6" rx="8.2" ry="16.5" fill="none" stroke-width="6"/><ellipse cx="1479.5" cy="885.1" rx="8.2" ry="8.2" fill="none" stroke-width="6"/></g><g fill="#000" filter="url(#vb)"><ellipse cx="1397" cy="779.6" rx="28.9" ry="13.4" transform="rotate(25 1397 779.6)"/><ellipse cx="1359.8" cy="765.1" rx="8.3" ry="8.3"/><path d="M1440.3 845.8 L1452.7 856.1 L1463 864.4" fill="none" stroke="#000" stroke-width="9.3" stroke-linecap="round" stroke-linejoin="round"/><ellipse cx="1485.7" cy="852" rx="11.3" ry="7.2" transform="rotate(40 1485.7 852)"/><path d="M1469.2 806.5 L1485.7 816.8 L1500.1 825.1" fill="none" stroke="#000" stroke-width="9.3" stroke-linecap="round" stroke-linejoin="round"/><path d="M1514.6 771.3 L1516.6 802.4 L1512.5 829.2" fill="none" stroke="#000" stroke-width="8.3" stroke-linecap="round" stroke-linejoin="round"/><path d="M1547.6 769.3 L1551.7 798.2 L1549.6 823" fill="none" stroke="#000" stroke-width="9.3" stroke-linecap="round" stroke-linejoin="round"/><ellipse cx="1370.1" cy="839.6" rx="10.3" ry="16.5"/><ellipse cx="1372.2" cy="955.4" rx="22.7" ry="16.5"/><path d="M1413.5 943 L1417.6 916.1 L1430 901.6 L1442.3 914" fill="none" stroke="#000" stroke-width="8.3" stroke-linecap="round" stroke-linejoin="round"/><path d="M1463 901.6 L1463 930.6 L1469.2 957.5" fill="none" stroke="#000" stroke-width="8.3" stroke-linecap="round" stroke-linejoin="round"/><path d="M1524.9 889.2 L1522.8 926.4 L1526.9 961.6" fill="none" stroke="#000" stroke-width="9.3" stroke-linecap="round" stroke-linejoin="round"/><ellipse cx="1557.9" cy="901.6" rx="6.2" ry="14.5"/><ellipse cx="1479.5" cy="885.1" rx="6.2" ry="6.2"/></g>
<path d="M1475 802h0M1553 951h0M1452 898h0M1401 808h0M1416 904h0M1400 960h0M1372 802h0M1375 919h0M1432 859h0M1423 892h0M1439 805h0M1445 825h0M1380 930h0M1495 898h0M1537 843h0M1434 849h0M1439 899h0M1359 857h0M1466 833h0M1362 906h0M1359 878h0M1371 793h0M1496 911h0M1431 895h0M1454 864h0M1535 826h0M1534 903h0M1496 764h0M1374 769h0M1427 955h0M1535 933h0M1381 906h0M1515 927h0M1518 791h0M1394 924h0M1507 944h0M1448 944h0M1426 776h0M1469 903h0M1428 774h0M1380 962h0M1422 782h0M1490 943h0M1360 892h0M1531 856h0M1473 926h0M1406 818h0M1491 875h0M1466 831h0M1539 844h0M1368 807h0M1371 793h0M1382 832h0M1432 854h0M1492 900h0" stroke="#ffff00" stroke-width="2.2" stroke-linecap="square"/>
</g>
<clipPath id="c3"><rect x="1566" y="761" width="205.8" height="206.8"/></clipPath>
<g clip-path="url(#c3)">
<rect x="1566" y="761" width="205.8" height="206.8" fill="#000"/>
<rect x="1566" y="761" width="205.8" height="206.8" filter="url(#tex)"/>
<g fill="#000" opacity="0.5" filter="url(#vb2)"></g><g stroke="#fff" opacity="0.12" filter="url(#vb)"><path d="M1596.9 771.3 L1598.9 798.2 L1594.8 823" fill="none" stroke-width="21.3" stroke-linecap="round" stroke-linejoin="round"/><ellipse cx="1596.9" cy="767.2" rx="22.6" ry="10.3" fill="none" stroke-width="6"/><ellipse cx="1681.2" cy="798.2" rx="16.4" ry="18.5" fill="none" stroke-width="6"/><path d="M1759.5 802.4 L1761.5 833.4" fill="none" stroke-width="19.3" stroke-linecap="round" stroke-linejoin="round"/><path d="M1566 854.1 L1590.7 864.4" fill="none" stroke-width="17.2" stroke-linecap="round" stroke-linejoin="round"/><path d="M1576.3 909.9 L1603 901.6 L1590.7 930.6" fill="none" stroke-width="17.2" stroke-linecap="round" stroke-linejoin="round"/><ellipse cx="1710.1" cy="926.4" rx="32.9" ry="20.6" fill="none" stroke-width="6"/><ellipse cx="1693.6" cy="959.5" rx="12.3" ry="12.3" fill="none" stroke-width="6"/><ellipse cx="1648.3" cy="926.4" rx="12.3" ry="12.3" fill="none" stroke-width="6"/></g><g fill="#000" filter="url(#vb)"><path d="M1596.9 771.3 L1598.9 798.2 L1594.8 823" fill="none" stroke="#000" stroke-width="12.3" stroke-linecap="round" stroke-linejoin="round"/><ellipse cx="1596.9" cy="767.2" rx="20.6" ry="8.3"/><ellipse cx="1681.2" cy="798.2" rx="14.4" ry="16.5"/><path d="M1759.5 802.4 L1761.5 833.4" fill="none" stroke="#000" stroke-width="10.3" stroke-linecap="round" stroke-linejoin="round"/><path d="M1566 854.1 L1590.7 864.4" fill="none" stroke="#000" stroke-width="8.2" stroke-linecap="round" stroke-linejoin="round"/><path d="M1576.3 909.9 L1603 901.6 L1590.7 930.6" fill="none" stroke="#000" stroke-width="8.2" stroke-linecap="round" stroke-linejoin="round"/><ellipse cx="1710.1" cy="926.4" rx="30.9" ry="18.6"/><ellipse cx="1693.6" cy="959.5" rx="10.3" ry="10.3"/><ellipse cx="1648.3" cy="926.4" rx="10.3" ry="10.3"/></g>
<path d="M1598 888h0M1645 888h0M1682 771h0M1675 889h0M1673 942h0M1717 839h0M1614 789h0M1732 903h0M1691 853h0M1669 808h0M1695 899h0M1617 781h0M1635 903h0M1671 915h0M1655 844h0M1752 797h0M1610 882h0M1696 851h0M1681 852h0M1703 944h0M1735 893h0M1663 956h0M1658 890h0M1744 902h0M1647 914h0M1689 949h0M1694 871h0M1765 870h0M1648 954h0M1759 798h0M1582 937h0M1747 841h0M1619 902h0M1702 808h0M1652 792h0M1665 809h0M1584 842h0M1652 827h0M1715 847h0M1617 801h0M1628 914h0M1608 857h0M1738 893h0M1614 781h0M1602 924h0M1647 933h0M1754 858h0M1569 819h0M1612 895h0M1710 950h0M1711 958h0M1697 859h0M1737 818h0M1725 911h0M1743 775h0M1606 956h0M1596 854h0M1690 861h0M1746 957h0M1637 790h0M1753 855h0M1618 791h0M1569 881h0M1624 876h0M1755 861h0M1761 776h0M1721 916h0M1574 866h0M1680 884h0M1663 818h0M1751 941h0M1710 958h0M1680 779h0M1708 784h0M1720 895h0" stroke="#ffff00" stroke-width="2.2" stroke-linecap="square"/>
</g>
<clipPath id="c4"><rect x="1775.4" y="761" width="205.6" height="206.8"/></clipPath>
<g clip-path="url(#c4)">
<rect x="1775.4" y="761" width="205.6" height="206.8" fill="#000"/>
<rect x="1775.4" y="761" width="205.6" height="206.8" filter="url(#tex)"/>
<g fill="#000" opacity="0.5" filter="url(#vb2)"></g><g stroke="#fff" opacity="0.12" filter="url(#vb)"><path d="M1800.1 771.3 L1796 792 L1804.2 812.7 L1800.1 839.6" fill="none" stroke-width="18.3" stroke-linecap="round" stroke-linejoin="round"/><ellipse cx="1820.6" cy="802.4" rx="12.3" ry="18.5" fill="none" stroke-width="6"/><path d="M1812.4 860.3 L1828.9 839.6 L1847.4 818.9" fill="none" stroke-width="18.3" stroke-linecap="round" stroke-linejoin="round"/><path d="M1796 885.1 L1816.5 868.5 L1833 854.1" fill="none" stroke-width="16.2" stroke-linecap="round" stroke-linejoin="round"/><ellipse cx="1779.5" cy="864.4" rx="8.2" ry="22.7" fill="none" stroke-width="6"/><ellipse cx="1939.9" cy="854.1" rx="12.3" ry="12.3" fill="none" stroke-width="6"/><ellipse cx="1972.8" cy="893.4" rx="12.3" ry="18.5" fill="none" stroke-width="6"/><ellipse cx="1861.8" cy="936.8" rx="26.7" ry="14.4" fill="none" stroke-width="6"/><path d="M1785.7 916.1 L1796 936.8 L1806.2 957.5" fill="none" stroke-width="17.2" stroke-linecap="round" stroke-linejoin="round"/><path d="M1915.2 916.1 L1919.3 943 L1923.4 967.8" fill="none" stroke-width="19.3" stroke-linecap="round" stroke-linejoin="round"/><ellipse cx="1966.6" cy="959.5" rx="16.4" ry="10.3" fill="none" stroke-width="6"/></g><g fill="#000" filter="url(#vb)"><path d="M1800.1 771.3 L1796 792 L1804.2 812.7 L1800.1 839.6" fill="none" stroke="#000" stroke-width="9.3" stroke-linecap="round" stroke-linejoin="round"/><ellipse cx="1820.6" cy="802.4" rx="10.3" ry="16.5"/><path d="M1812.4 860.3 L1828.9 839.6 L1847.4 818.9" fill="none" stroke="#000" stroke-width="9.3" stroke-linecap="round" stroke-linejoin="round"/><path d="M1796 885.1 L1816.5 868.5 L1833 854.1" fill="none" stroke="#000" stroke-width="7.2" stroke-linecap="round" stroke-linejoin="round"/><ellipse cx="1779.5" cy="864.4" rx="6.2" ry="20.7"/><ellipse cx="1939.9" cy="854.1" rx="10.3" ry="10.3"/><ellipse cx="1972.8" cy="893.4" rx="10.3" ry="16.5"/><ellipse cx="1861.8" cy="936.8" rx="24.7" ry="12.4"/><path d="M1785.7 916.1 L1796 936.8 L1806.2 957.5" fill="none" stroke="#000" stroke-width="8.2" stroke-linecap="round" stroke-linejoin="round"/><path d="M1915.2 916.1 L1919.3 943 L1923.4 967.8" fill="none" stroke="#000" stroke-width="10.3" stroke-linecap="round" stroke-linejoin="round"/><ellipse cx="1966.6" cy="959.5" rx="14.4" ry="8.3"/></g>
<path d="M1975 855h0M1923 912h0M1820 778h0M1899 787h0M1945 768h0M1823 784h0M1803 869h0M1814 846h0M1925 910h0M1861 923h0M1893 931h0M1828 820h0M1821 964h0M1957 945h0M1884 907h0M1837 861h0M1806 848h0M1828 783h0M1963 782h0M1942 905h0M1795 861h0M1979 964h0M1891 920h0M1920 822h0M1888 884h0M1929 776h0M1867 772h0M1908 940h0M1887 878h0M1903 809h0M1855 880h0M1908 840h0M1874 830h0M1889 900h0M1843 902h0M1949 872h0M1976 826h0M1963 800h0M1901 940h0M1844 891h0M1790 768h0M1956 890h0M1810 850h0M1835 940h0M1835 910h0M1928 827h0M1828 869h0M1858 884h0M1843 924h0M1862 790h0M1934 945h0M1915 874h0M1954 953h0M1844 812h0M1870 901h0M1951 816h0M1779 966h0M1935 875h0M1800 773h0M1884 938h0M1936 916h0M1940 814h0M1827 851h0M1932 924h0M1930 881h0" stroke="#ffff00" stroke-width="2.2" stroke-linecap="square"/>
</g>
<clipPath id="c5"><rect x="1146.3" y="970.9" width="205.7" height="206.8"/></clipPath>
<g clip-path="url(#c5)">
<rect x="1146.3" y="970.9" width="205.7" height="206.8" fill="#000"/>
<rect x="1146.3" y="970.9" width="205.7" height="206.8" filter="url(#tex)"/>
<g fill="#000" opacity="0.5" filter="url(#vb2)"><ellipse cx="1187.4" cy="1032.9" rx="37" ry="45.5"/></g><g stroke="#fff" opacity="0.12" filter="url(#vb)"><path d="M1245 999.9 L1261.5 997.8 L1282.1 1001.9" fill="none" stroke-width="16.2" stroke-linecap="round" stroke-linejoin="round"/><path d="M1294.4 981.2 L1310.9 979.2" fill="none" stroke-width="15.2" stroke-linecap="round" stroke-linejoin="round"/><path d="M1249.2 1039.1 L1269.7 1037.1 L1290.3 1032.9" fill="none" stroke-width="15.2" stroke-linecap="round" stroke-linejoin="round"/><path d="M1296.5 1074.3 L1310.9 1070.2 L1323.2 1080.5" fill="none" stroke-width="15.2" stroke-linecap="round" stroke-linejoin="round"/><path d="M1187.4 1136.3 L1218.3 1134.3 L1249.2 1136.3" fill="none" stroke-width="15.2" stroke-linecap="round" stroke-linejoin="round"/><path d="M1208 1123.9 L1238.9 1121.9 L1265.6 1123.9" fill="none" stroke-width="14.1" stroke-linecap="round" stroke-linejoin="round"/><ellipse cx="1271.8" cy="1140.5" rx="14.3" ry="12.3" fill="none" stroke-width="6"/><path d="M1269.7 1132.2 L1282.1 1119.8" fill="none" stroke-width="16.2" stroke-linecap="round" stroke-linejoin="round"/><ellipse cx="1152.5" cy="1142.5" rx="10.2" ry="12.3" fill="none" stroke-width="6"/></g><g fill="#000" filter="url(#vb)"><path d="M1245 999.9 L1261.5 997.8 L1282.1 1001.9" fill="none" stroke="#000" stroke-width="7.2" stroke-linecap="round" stroke-linejoin="round"/><path d="M1294.4 981.2 L1310.9 979.2" fill="none" stroke="#000" stroke-width="6.2" stroke-linecap="round" stroke-linejoin="round"/><path d="M1249.2 1039.1 L1269.7 1037.1 L1290.3 1032.9" fill="none" stroke="#000" stroke-width="6.2" stroke-linecap="round" stroke-linejoin="round"/><path d="M1296.5 1074.3 L1310.9 1070.2 L1323.2 1080.5" fill="none" stroke="#000" stroke-width="6.2" stroke-linecap="round" stroke-linejoin="round"/><path d="M1187.4 1136.3 L1218.3 1134.3 L1249.2 1136.3" fill="none" stroke="#000" stroke-width="6.2" stroke-linecap="round" stroke-linejoin="round"/><path d="M1208 1123.9 L1238.9 1121.9 L1265.6 1123.9" fill="none" stroke="#000" stroke-width="5.1" stroke-linecap="round" stroke-linejoin="round"/><ellipse cx="1271.8" cy="1140.5" rx="12.3" ry="10.3"/><path d="M1269.7 1132.2 L1282.1 1119.8" fill="none" stroke="#000" stroke-width="7.2" stroke-linecap="round" stroke-linejoin="round"/><ellipse cx="1152.5" cy="1142.5" rx="8.2" ry="10.3"/></g>
<path d="M1337 1051h0M1314 1023h0M1246 1028h0M1258 988h0M1232 1037h0M1156 1139h0M1178 1101h0M1255 1059h0M1267 1107h0M1204 1046h0M1251 1175h0M1336 1131h0M1241 1158h0M1346 1152h0M1187 1056h0M1194 1064h0M1321 1073h0M1215 1006h0M1176 1140h0M1341 1154h0M1149 1027h0M1176 1067h0M1189 1072h0M1239 1101h0M1252 1075h0" stroke="#f020f0" stroke-width="2.2" stroke-linecap="square"/>
</g>
<clipPath id="c6"><rect x="1355.7" y="970.9" width="206.3" height="206.8"/></clipPath>
<g clip-path="url(#c6)">
<rect x="1355.7" y="970.9" width="206.3" height="206.8" fill="#000"/>
<rect x="1355.7" y="970.9" width="206.3" height="206.8" filter="url(#tex)"/>
<g fill="#000" opacity="0.5" filter="url(#vb2)"><ellipse cx="1386.6" cy="1115.7" rx="20.6" ry="24.8"/></g><g stroke="#fff" opacity="0.12" filter="url(#vb)"><ellipse cx="1397" cy="989.5" rx="30.9" ry="15.4" transform="rotate(25 1397 989.5)" fill="none" stroke-width="6"/><ellipse cx="1359.8" cy="975" rx="10.3" ry="10.3" fill="none" stroke-width="6"/><path d="M1440.3 1055.7 L1452.7 1066 L1463 1074.3" fill="none" stroke-width="18.3" stroke-linecap="round" stroke-linejoin="round"/><ellipse cx="1485.7" cy="1061.9" rx="13.3" ry="9.2" transform="rotate(40 1485.7 1061.9)" fill="none" stroke-width="6"/><path d="M1469.2 1016.4 L1485.7 1026.7 L1500.1 1035" fill="none" stroke-width="18.3" stroke-linecap="round" stroke-linejoin="round"/><path d="M1514.6 981.2 L1516.6 1012.3 L1512.5 1039.1" fill="none" stroke-width="17.3" stroke-linecap="round" stroke-linejoin="round"/><path d="M1547.6 979.2 L1551.7 1008.1 L1549.6 1032.9" fill="none" stroke-width="18.3" stroke-linecap="round" stroke-linejoin="round"/><ellipse cx="1370.1" cy="1049.5" rx="12.3" ry="18.5" fill="none" stroke-width="6"/><ellipse cx="1372.2" cy="1165.3" rx="24.7" ry="18.5" fill="none" stroke-width="6"/><path d="M1413.5 1152.9 L1417.6 1126 L1430 1111.5 L1442.3 1123.9" fill="none" stroke-width="17.3" stroke-linecap="round" stroke-linejoin="round"/><path d="M1463 1111.5 L1463 1140.5 L1469.2 1167.4" fill="none" stroke-width="17.3" stroke-linecap="round" stroke-linejoin="round"/><path d="M1524.9 1099.1 L1522.8 1136.3 L1526.9 1171.5" fill="none" stroke-width="18.3" stroke-linecap="round" stroke-linejoin="round"/><ellipse cx="1557.9" cy="1111.5" rx="8.2" ry="16.5" fill="none" stroke-width="6"/><ellipse cx="1479.5" cy="1095" rx="8.2" ry="8.2" fill="none" stroke-width="6"/></g><g fill="#000" filter="url(#vb)"><ellipse cx="1397" cy="989.5" rx="28.9" ry="13.4" transform="rotate(25 1397 989.5)"/><ellipse cx="1359.8" cy="975" rx="8.3" ry="8.3"/><path d="M1440.3 1055.7 L1452.7 1066 L1463 1074.3" fill="none" stroke="#000" stroke-width="9.3" stroke-linecap="round" stroke-linejoin="round"/><ellipse cx="1485.7" cy="1061.9" rx="11.3" ry="7.2" transform="rotate(40 1485.7 1061.9)"/><path d="M1469.2 1016.4 L1485.7 1026.7 L1500.1 1035" fill="none" stroke="#000" stroke-width="9.3" stroke-linecap="round" stroke-linejoin="round"/><path d="M1514.6 981.2 L1516.6 1012.3 L1512.5 1039.1" fill="none" stroke="#000" stroke-width="8.3" stroke-linecap="round" stroke-linejoin="round"/><path d="M1547.6 979.2 L1551.7 1008.1 L1549.6 1032.9" fill="none" stroke="#000" stroke-width="9.3" stroke-linecap="round" stroke-linejoin="round"/><ellipse cx="1370.1" cy="1049.5" rx="10.3" ry="16.5"/><ellipse cx="1372.2" cy="1165.3" rx="22.7" ry="16.5"/><path d="M1413.5 1152.9 L1417.6 1126 L1430 1111.5 L1442.3 1123.9" fill="none" stroke="#000" stroke-width="8.3" stroke-linecap="round" stroke-linejoin="round"/><path d="M1463 1111.5 L1463 1140.5 L1469.2 1167.4" fill="none" stroke="#000" stroke-width="8.3" stroke-linecap="round" stroke-linejoin="round"/><path d="M1524.9 1099.1 L1522.8 1136.3 L1526.9 1171.5" fill="none" stroke="#000" stroke-width="9.3" stroke-linecap="round" stroke-linejoin="round"/><ellipse cx="1557.9" cy="1111.5" rx="6.2" ry="14.5"/><ellipse cx="1479.5" cy="1095" rx="6.2" ry="6.2"/></g>
<path d="M1525 1016h0M1549 1073h0M1438 1098h0M1392 1012h0M1443 1019h0M1493 1057h0M1435 1029h0M1402 1118h0M1541 1044h0M1521 1036h0M1440 1150h0M1451 1016h0M1406 1166h0M1548 976h0M1362 1100h0M1550 1153h0M1498 1123h0M1379 1111h0M1503 1004h0M1514 1007h0M1513 1065h0M1476 1171h0M1432 1014h0M1497 1156h0M1389 1128h0M1550 1090h0M1554 1169h0M1386 1090h0M1412 982h0M1372 1092h0M1535 1046h0M1503 1093h0M1512 1071h0M1557 1054h0M1528 1129h0M1453 983h0M1398 1163h0M1441 1132h0M1428 1014h0M1487 1090h0M1471 1037h0M1441 1027h0M1470 1052h0M1489 1169h0M1423 1093h0M1377 1141h0M1465 1093h0M1471 996h0M1536 975h0M1396 1071h0M1545 1115h0M1541 1042h0M1469 1095h0M1375 974h0M1393 1148h0M1482 1125h0M1474 1071h0M1538 1043h0M1410 1031h0M1372 976h0M1412 1102h0M1397 1070h0M1449 1125h0M1504 1155h0M1360 1068h0M1396 1154h0M1408 1136h0M1532 1153h0M1439 1110h0M1544 1135h0M1447 1141h0M1516 1063h0M1447 1062h0M1404 1167h0M1385 1024h0M1507 1117h0M1419 1033h0M1472 1127h0M1435 1068h0M1445 1142h0M1541 1101h0M1409 1059h0M1442 1100h0M1421 1096h0M1464 1083h0M1554 1057h0M1409 974h0M1359 1113h0M1539 1108h0M1371 988h0" stroke="#f020f0" stroke-width="2.2" stroke-linecap="square"/>
</g>
<clipPath id="c7"><rect x="1566" y="970.9" width="205.8" height="206.8"/></clipPath>
<g clip-path="url(#c7)">
<rect x="1566" y="970.9" width="205.8" height="206.8" fill="#000"/>
<rect x="1566" y="970.9" width="205.8" height="206.8" filter="url(#tex)"/>
<g fill="#000" opacity="0.5" filter="url(#vb2)"></g><g stroke="#fff" opacity="0.12" filter="url(#vb)"><path d="M1596.9 981.2 L1598.9 1008.1 L1594.8 1032.9" fill="none" stroke-width="21.3" stroke-linecap="round" stroke-linejoin="round"/><ellipse cx="1596.9" cy="977.1" rx="22.6" ry="10.3" fill="none" stroke-width="6"/><ellipse cx="1681.2" cy="1008.1" rx="16.4" ry="18.5" fill="none" stroke-width="6"/><path d="M1759.5 1012.3 L1761.5 1043.3" fill="none" stroke-width="19.3" stroke-linecap="round" stroke-linejoin="round"/><path d="M1566 1064 L1590.7 1074.3" fill="none" stroke-width="17.2" stroke-linecap="round" stroke-linejoin="round"/><path d="M1576.3 1119.8 L1603 1111.5 L1590.7 1140.5" fill="none" stroke-width="17.2" stroke-linecap="round" stroke-linejoin="round"/><ellipse cx="1710.1" cy="1136.3" rx="32.9" ry="20.6" fill="none" stroke-width="6"/><ellipse cx="1693.6" cy="1169.4" rx="12.3" ry="12.3" fill="none" stroke-width="6"/><ellipse cx="1648.3" cy="1136.3" rx="12.3" ry="12.3" fill="none" stroke-width="6"/></g><g fill="#000" filter="url(#vb)"><path d="M1596.9 981.2 L1598.9 1008.1 L1594.8 1032.9" fill="none" stroke="#000" stroke-width="12.3" stroke-linecap="round" stroke-linejoin="round"/><ellipse cx="1596.9" cy="977.1" rx="20.6" ry="8.3"/><ellipse cx="1681.2" cy="1008.1" rx="14.4" ry="16.5"/><path d="M1759.5 1012.3 L1761.5 1043.3" fill="none" stroke="#000" stroke-width="10.3" stroke-linecap="round" stroke-linejoin="round"/><path d="M1566 1064 L1590.7 1074.3" fill="none" stroke="#000" stroke-width="8.2" stroke-linecap="round" stroke-linejoin="round"/><path d="M1576.3 1119.8 L1603 1111.5 L1590.7 1140.5" fill="none" stroke="#000" stroke-width="8.2" stroke-linecap="round" stroke-linejoin="round"/><ellipse cx="1710.1" cy="1136.3" rx="30.9" ry="18.6"/><ellipse cx="1693.6" cy="1169.4" rx="10.3" ry="10.3"/><ellipse cx="1648.3" cy="1136.3" rx="10.3" ry="10.3"/></g>
<path d="M1665 1108h0M1693 1115h0M1750 1126h0M1647 1169h0M1715 1068h0M1639 1019h0M1659 1043h0M1691 1024h0M1581 1110h0M1630 1104h0M1752 1091h0M1753 1136h0M1580 1022h0M1702 1070h0M1568 1140h0M1699 1061h0M1596 1108h0M1684 1151h0M1602 1052h0M1719 1099h0M1685 1084h0M1672 1114h0M1703 1163h0M1643 1052h0M1635 1075h0M1684 1129h0M1720 1060h0M1582 1038h0M1633 1047h0M1578 1171h0M1639 1062h0M1764 1132h0M1623 1164h0M1735 1088h0M1657 1145h0M1754 1109h0M1633 1150h0M1701 1162h0M1733 1113h0M1749 1062h0M1660 1081h0M1627 1144h0M1625 1022h0M1695 1072h0M1631 989h0M1657 1057h0M1679 1104h0M1623 986h0M1580 1085h0M1757 1123h0M1756 1003h0M1610 1118h0M1650 1058h0M1736 989h0M1701 1087h0M1711 1035h0M1614 1107h0M1759 985h0M1589 1174h0M1578 999h0M1670 1038h0M1710 1067h0M1729 995h0M1612 1012h0M1730 1176h0M1644 1018h0M1582 1010h0M1767 1166h0M1755 1009h0M1583 1175h0M1714 1152h0M1749 1150h0M1570 1150h0M1683 1173h0M1607 1052h0M1593 1128h0M1687 1149h0M1681 1133h0M1642 985h0M1582 987h0M1573 1122h0M1716 1174h0M1727 1013h0M1603 1047h0M1637 999h0M1724 1120h0M1653 1089h0M1689 1088h0M1691 1101h0M1767 1034h0M1584 1000h0M1690 1071h0M1756 1083h0M1752 1144h0M1639 1021h0M1703 1057h0M1766 1121h0M1648 1162h0M1660 1114h0M1574 981h0M1721 1099h0M1747 1048h0M1680 1069h0M1724 1096h0M1739 1003h0M1699 1048h0M1727 1056h0M1594 1127h0M1746 1039h0M1719 1110h0M1679 990h0M1765 1035h0M1582 1129h0M1761 1137h0M1702 1040h0M1765 1069h0M1768 1056h0M1706 1016h0M1616 1072h0M1631 1156h0M1743 1164h0M1724 1039h0M1634 1132h0M1680 1161h0M1755 1062h0M1599 1153h0M1732 1079h0M1697 1109h0M1670 1032h0M1648 1154h0M1744 1157h0M1756 1073h0M1637 1149h0M1568 1148h0M1576 1110h0M1582 1038h0M1744 1055h0M1729 1160h0M1759 1040h0M1614 1059h0M1751 1088h0M1610 1055h0M1631 1159h0M1707 1170h0M1700 1174h0M1604 1061h0M1602 1068h0M1670 1151h0M1695 1100h0M1684 1151h0M1740 1036h0M1667 1042h0M1574 1023h0M1625 1154h0M1768 998h0M1638 1108h0M1590 1063h0M1647 1106h0M1762 1141h0M1614 1010h0" stroke="#f020f0" stroke-width="2.2" stroke-linecap="square"/>
</g>
<clipPath id="c8"><rect x="1775.4" y="970.9" width="205.6" height="206.8"/></clipPath>
<g clip-path="url(#c8)">
<rect x="1775.4" y="970.9" width="205.6" height="206.8" fill="#000"/>
<rect x="1775.4" y="970.9" width="205.6" height="206.8" filter="url(#tex)"/>
<g fill="#000" opacity="0.5" filter="url(#vb2)"></g><g stroke="#fff" opacity="0.12" filter="url(#vb)"><path d="M1800.1 981.2 L1796 1001.9 L1804.2 1022.6 L1800.1 1049.5" fill="none" stroke-width="18.3" stroke-linecap="round" stroke-linejoin="round"/><ellipse cx="1820.6" cy="1012.3" rx="12.3" ry="18.5" fill="none" stroke-width="6"/><path d="M1812.4 1070.2 L1828.9 1049.5 L1847.4 1028.8" fill="none" stroke-width="18.3" stroke-linecap="round" stroke-linejoin="round"/><path d="M1796 1095 L1816.5 1078.4 L1833 1064" fill="none" stroke-width="16.2" stroke-linecap="round" stroke-linejoin="round"/><ellipse cx="1779.5" cy="1074.3" rx="8.2" ry="22.7" fill="none" stroke-width="6"/><ellipse cx="1939.9" cy="1064" rx="12.3" ry="12.3" fill="none" stroke-width="6"/><ellipse cx="1972.8" cy="1103.3" rx="12.3" ry="18.5" fill="none" stroke-width="6"/><ellipse cx="1861.8" cy="1146.7" rx="26.7" ry="14.4" fill="none" stroke-width="6"/><path d="M1785.7 1126 L1796 1146.7 L1806.2 1167.4" fill="none" stroke-width="17.2" stroke-linecap="round" stroke-linejoin="round"/><path d="M1915.2 1126 L1919.3 1152.9 L1923.4 1177.7" fill="none" stroke-width="19.3" stroke-linecap="round" stroke-linejoin="round"/><ellipse cx="1966.6" cy="1169.4" rx="16.4" ry="10.3" fill="none" stroke-width="6"/></g><g fill="#000" filter="url(#vb)"><path d="M1800.1 981.2 L1796 1001.9 L1804.2 1022.6 L1800.1 1049.5" fill="none" stroke="#000" stroke-width="9.3" stroke-linecap="round" stroke-linejoin="round"/><ellipse cx="1820.6" cy="1012.3" rx="10.3" ry="16.5"/><path d="M1812.4 1070.2 L1828.9 1049.5 L1847.4 1028.8" fill="none" stroke="#000" stroke-width="9.3" stroke-linecap="round" stroke-linejoin="round"/><path d="M1796 1095 L1816.5 1078.4 L1833 1064" fill="none" stroke="#000" stroke-width="7.2" stroke-linecap="round" stroke-linejoin="round"/><ellipse cx="1779.5" cy="1074.3" rx="6.2" ry="20.7"/><ellipse cx="1939.9" cy="1064" rx="10.3" ry="10.3"/><ellipse cx="1972.8" cy="1103.3" rx="10.3" ry="16.5"/><ellipse cx="1861.8" cy="1146.7" rx="24.7" ry="12.4"/><path d="M1785.7 1126 L1796 1146.7 L1806.2 1167.4" fill="none" stroke="#000" stroke-width="8.2" stroke-linecap="round" stroke-linejoin="round"/><path d="M1915.2 1126 L1919.3 1152.9 L1923.4 1177.7" fill="none" stroke="#000" stroke-width="10.3" stroke-linecap="round" stroke-linejoin="round"/><ellipse cx="1966.6" cy="1169.4" rx="14.4" ry="8.3"/></g>
<path d="M1783 1149h0M1923 976h0M1888 1021h0M1956 1146h0M1838 1094h0M1877 1030h0M1865 1053h0M1872 1166h0M1925 980h0M1848 1170h0M1931 1096h0M1908 1112h0M1810 1055h0M1833 1012h0M1917 980h0M1813 1117h0M1958 1034h0M1950 1142h0M1808 1159h0M1796 1108h0M1947 995h0M1843 1097h0M1897 1001h0M1918 994h0M1964 1020h0M1818 1100h0M1899 1046h0M1937 1102h0M1955 1126h0M1876 1104h0M1818 1030h0M1932 1116h0M1783 1014h0M1862 1089h0M1848 1049h0M1968 1051h0M1867 1164h0M1843 1080h0M1811 1145h0M1944 1021h0M1903 1022h0M1947 1073h0M1835 1170h0M1875 1087h0M1973 1032h0M1869 1157h0M1876 1018h0M1847 1072h0M1901 1066h0M1851 1027h0M1880 1113h0M1906 980h0M1829 1110h0M1875 1032h0M1896 981h0M1880 1163h0M1849 1004h0M1916 1096h0M1844 1023h0M1777 992h0M1973 1123h0M1849 996h0M1961 1007h0M1805 1058h0M1832 1029h0M1812 983h0M1782 1161h0M1797 1059h0M1907 1088h0M1864 1102h0M1849 1008h0M1875 1076h0M1826 1065h0M1852 988h0M1972 1081h0M1892 990h0M1839 982h0M1955 1104h0M1879 1114h0M1866 1078h0M1979 995h0M1913 1057h0M1838 1061h0M1860 1063h0M1839 1055h0M1830 1126h0M1896 1045h0M1845 1042h0M1973 1108h0M1957 1120h0M1901 1039h0M1899 995h0M1873 1115h0M1879 1074h0M1910 1092h0M1891 1088h0M1856 1084h0M1777 1097h0M1822 1108h0M1791 1083h0M1837 1068h0M1948 1121h0M1946 1089h0M1955 1174h0M1954 1017h0M1823 1175h0M1882 1169h0M1803 976h0M1881 1138h0M1835 1169h0M1801 1162h0M1979 1120h0M1911 1107h0M1830 974h0M1851 990h0M1781 1160h0M1927 1089h0M1949 1171h0M1792 1108h0M1832 1128h0" stroke="#f020f0" stroke-width="2.2" stroke-linecap="square"/>
</g>
<clipPath id="c9"><rect x="1146.3" y="1181.3" width="205.7" height="206.7"/></clipPath>
<g clip-path="url(#c9)">
<rect x="1146.3" y="1181.3" width="205.7" height="206.7" fill="#000"/>
<rect x="1146.3" y="1181.3" width="205.7" height="206.7" filter="url(#tex)"/>
<g fill="#000" opacity="0.5" filter="url(#vb2)"><ellipse cx="1187.4" cy="1243.3" rx="37" ry="45.5"/></g><g stroke="#fff" opacity="0.12" filter="url(#vb)"><path d="M1245 1210.2 L1261.5 1208.2 L1282.1 1212.3" fill="none" stroke-width="16.2" stroke-linecap="round" stroke-linejoin="round"/><path d="M1294.4 1191.6 L1310.9 1189.6" fill="none" stroke-width="15.2" stroke-linecap="round" stroke-linejoin="round"/><path d="M1249.2 1249.5 L1269.7 1247.4 L1290.3 1243.3" fill="none" stroke-width="15.2" stroke-linecap="round" stroke-linejoin="round"/><path d="M1296.5 1284.7 L1310.9 1280.5 L1323.2 1290.9" fill="none" stroke-width="15.2" stroke-linecap="round" stroke-linejoin="round"/><path d="M1187.4 1346.7 L1218.3 1344.6 L1249.2 1346.7" fill="none" stroke-width="15.2" stroke-linecap="round" stroke-linejoin="round"/><path d="M1208 1334.3 L1238.9 1332.2 L1265.6 1334.3" fill="none" stroke-width="14.1" stroke-linecap="round" stroke-linejoin="round"/><ellipse cx="1271.8" cy="1350.8" rx="14.3" ry="12.3" fill="none" stroke-width="6"/><path d="M1269.7 1342.5 L1282.1 1330.1" fill="none" stroke-width="16.2" stroke-linecap="round" stroke-linejoin="round"/><ellipse cx="1152.5" cy="1352.9" rx="10.2" ry="12.3" fill="none" stroke-width="6"/></g><g fill="#000" filter="url(#vb)"><path d="M1245 1210.2 L1261.5 1208.2 L1282.1 1212.3" fill="none" stroke="#000" stroke-width="7.2" stroke-linecap="round" stroke-linejoin="round"/><path d="M1294.4 1191.6 L1310.9 1189.6" fill="none" stroke="#000" stroke-width="6.2" stroke-linecap="round" stroke-linejoin="round"/><path d="M1249.2 1249.5 L1269.7 1247.4 L1290.3 1243.3" fill="none" stroke="#000" stroke-width="6.2" stroke-linecap="round" stroke-linejoin="round"/><path d="M1296.5 1284.7 L1310.9 1280.5 L1323.2 1290.9" fill="none" stroke="#000" stroke-width="6.2" stroke-linecap="round" stroke-linejoin="round"/><path d="M1187.4 1346.7 L1218.3 1344.6 L1249.2 1346.7" fill="none" stroke="#000" stroke-width="6.2" stroke-linecap="round" stroke-linejoin="round"/><path d="M1208 1334.3 L1238.9 1332.2 L1265.6 1334.3" fill="none" stroke="#000" stroke-width="5.1" stroke-linecap="round" stroke-linejoin="round"/><ellipse cx="1271.8" cy="1350.8" rx="12.3" ry="10.3"/><path d="M1269.7 1342.5 L1282.1 1330.1" fill="none" stroke="#000" stroke-width="7.2" stroke-linecap="round" stroke-linejoin="round"/><ellipse cx="1152.5" cy="1352.9" rx="8.2" ry="10.3"/></g>
<path d="M1252 1221h0M1341 1312h0M1267 1374h0M1166 1344h0M1193 1234h0M1213 1333h0M1291 1247h0M1174 1241h0M1192 1285h0M1251 1206h0M1190 1362h0M1290 1202h0M1324 1274h0M1226 1347h0M1287 1272h0M1226 1294h0M1317 1327h0M1166 1189h0M1220 1242h0M1306 1307h0M1176 1269h0M1265 1281h0M1200 1323h0M1205 1385h0M1225 1285h0M1311 1254h0M1330 1295h0M1258 1231h0M1215 1290h0M1314 1214h0M1319 1371h0M1164 1314h0M1196 1203h0M1346 1233h0M1232 1326h0M1271 1366h0M1346 1278h0M1170 1353h0M1178 1257h0M1193 1351h0M1190 1348h0M1260 1307h0M1299 1253h0M1185 1334h0M1276 1268h0M1185 1216h0M1239 1321h0M1209 1186h0M1241 1230h0M1299 1326h0M1250 1199h0M1285 1278h0M1303 1344h0M1177 1242h0M1261 1204h0" stroke="#20ecec" stroke-width="2.2" stroke-linecap="square"/>
</g>
<clipPath id="c10"><rect x="1355.7" y="1181.3" width="206.3" height="206.7"/></clipPath>
<g clip-path="url(#c10)">
<rect x="1355.7" y="1181.3" width="206.3" height="206.7" fill="#000"/>
<rect x="1355.7" y="1181.3" width="206.3" height="206.7" filter="url(#tex)"/>
<g fill="#000" opacity="0.5" filter="url(#vb2)"><ellipse cx="1386.6" cy="1326" rx="20.6" ry="24.8"/></g><g stroke="#fff" opacity="0.12" filter="url(#vb)"><ellipse cx="1397" cy="1199.9" rx="30.9" ry="15.4" transform="rotate(25 1397 1199.9)" fill="none" stroke-width="6"/><ellipse cx="1359.8" cy="1185.4" rx="10.3" ry="10.3" fill="none" stroke-width="6"/><path d="M1440.3 1266 L1452.7 1276.4 L1463 1284.7" fill="none" stroke-width="18.3" stroke-linecap="round" stroke-linejoin="round"/><ellipse cx="1485.7" cy="1272.2" rx="13.3" ry="9.2" transform="rotate(40 1485.7 1272.2)" fill="none" stroke-width="6"/><path d="M1469.2 1226.8 L1485.7 1237.1 L1500.1 1245.4" fill="none" stroke-width="18.3" stroke-linecap="round" stroke-linejoin="round"/><path d="M1514.6 1191.6 L1516.6 1222.6 L1512.5 1249.5" fill="none" stroke-width="17.3" stroke-linecap="round" stroke-linejoin="round"/><path d="M1547.6 1189.6 L1551.7 1218.5 L1549.6 1243.3" fill="none" stroke-width="18.3" stroke-linecap="round" stroke-linejoin="round"/><ellipse cx="1370.1" cy="1259.8" rx="12.3" ry="18.5" fill="none" stroke-width="6"/><ellipse cx="1372.2" cy="1375.6" rx="24.7" ry="18.5" fill="none" stroke-width="6"/><path d="M1413.5 1363.2 L1417.6 1336.3 L1430 1321.9 L1442.3 1334.3" fill="none" stroke-width="17.3" stroke-linecap="round" stroke-linejoin="round"/><path d="M1463 1321.9 L1463 1350.8 L1469.2 1377.7" fill="none" stroke-width="17.3" stroke-linecap="round" stroke-linejoin="round"/><path d="M1524.9 1309.5 L1522.8 1346.7 L1526.9 1381.8" fill="none" stroke-width="18.3" stroke-linecap="round" stroke-linejoin="round"/><ellipse cx="1557.9" cy="1321.9" rx="8.2" ry="16.5" fill="none" stroke-width="6"/><ellipse cx="1479.5" cy="1305.3" rx="8.2" ry="8.2" fill="none" stroke-width="6"/></g><g fill="#000" filter="url(#vb)"><ellipse cx="1397" cy="1199.9" rx="28.9" ry="13.4" transform="rotate(25 1397 1199.9)"/><ellipse cx="1359.8" cy="1185.4" rx="8.3" ry="8.3"/><path d="M1440.3 1266 L1452.7 1276.4 L1463 1284.7" fill="none" stroke="#000" stroke-width="9.3" stroke-linecap="round" stroke-linejoin="round"/><ellipse cx="1485.7" cy="1272.2" rx="11.3" ry="7.2" transform="rotate(40 1485.7 1272.2)"/><path d="M1469.2 1226.8 L1485.7 1237.1 L1500.1 1245.4" fill="none" stroke="#000" stroke-width="9.3" stroke-linecap="round" stroke-linejoin="round"/><path d="M1514.6 1191.6 L1516.6 1222.6 L1512.5 1249.5" fill="none" stroke="#000" stroke-width="8.3" stroke-linecap="round" stroke-linejoin="round"/><path d="M1547.6 1189.6 L1551.7 1218.5 L1549.6 1243.3" fill="none" stroke="#000" stroke-width="9.3" stroke-linecap="round" stroke-linejoin="round"/><ellipse cx="1370.1" cy="1259.8" rx="10.3" ry="16.5"/><ellipse cx="1372.2" cy="1375.6" rx="22.7" ry="16.5"/><path d="M1413.5 1363.2 L1417.6 1336.3 L1430 1321.9 L1442.3 1334.3" fill="none" stroke="#000" stroke-width="8.3" stroke-linecap="round" stroke-linejoin="round"/><path d="M1463 1321.9 L1463 1350.8 L1469.2 1377.7" fill="none" stroke="#000" stroke-width="8.3" stroke-linecap="round" stroke-linejoin="round"/><path d="M1524.9 1309.5 L1522.8 1346.7 L1526.9 1381.8" fill="none" stroke="#000" stroke-width="9.3" stroke-linecap="round" stroke-linejoin="round"/><ellipse cx="1557.9" cy="1321.9" rx="6.2" ry="14.5"/><ellipse cx="1479.5" cy="1305.3" rx="6.2" ry="6.2"/></g>
<path d="M1375 1302h0M1438 1369h0M1482 1289h0M1443 1321h0M1554 1347h0M1480 1347h0M1362 1270h0M1532 1336h0M1449 1230h0M1428 1270h0M1465 1220h0M1423 1267h0M1387 1251h0M1432 1333h0M1542 1185h0M1385 1357h0M1359 1235h0M1472 1291h0M1401 1336h0M1502 1184h0M1502 1260h0M1457 1300h0M1490 1346h0M1394 1222h0M1399 1220h0M1518 1358h0M1532 1340h0M1476 1346h0M1423 1304h0M1412 1265h0M1434 1284h0M1358 1272h0M1458 1368h0M1501 1214h0M1437 1337h0M1374 1359h0M1367 1320h0M1472 1378h0M1432 1246h0M1394 1239h0M1422 1301h0M1414 1219h0M1533 1197h0M1507 1377h0M1514 1185h0M1512 1380h0M1517 1289h0M1504 1214h0M1471 1336h0M1473 1331h0M1492 1300h0M1524 1235h0M1390 1340h0M1476 1259h0M1426 1201h0M1466 1299h0M1510 1216h0M1437 1210h0M1381 1259h0M1465 1248h0M1436 1296h0M1363 1357h0M1361 1265h0M1502 1184h0M1476 1334h0M1554 1291h0M1536 1268h0M1464 1378h0M1447 1374h0M1446 1370h0M1494 1213h0M1556 1189h0M1497 1248h0M1407 1220h0M1409 1328h0M1438 1307h0M1543 1328h0M1525 1239h0M1374 1287h0M1394 1337h0M1469 1304h0M1400 1264h0M1469 1289h0M1530 1313h0M1525 1260h0M1358 1314h0M1448 1230h0M1372 1327h0M1465 1372h0M1399 1257h0M1408 1329h0M1442 1183h0M1451 1371h0M1458 1264h0M1434 1199h0M1534 1211h0M1443 1278h0M1413 1192h0M1367 1362h0M1468 1383h0M1534 1322h0M1397 1228h0M1364 1332h0M1531 1276h0M1531 1274h0M1421 1363h0M1364 1343h0M1479 1201h0M1533 1195h0M1540 1253h0M1556 1374h0M1383 1250h0M1372 1296h0M1376 1335h0M1408 1366h0M1442 1237h0M1401 1360h0M1446 1334h0M1441 1338h0M1388 1330h0M1488 1194h0M1365 1354h0M1554 1189h0M1426 1257h0M1439 1325h0M1444 1190h0M1489 1227h0M1453 1323h0M1364 1375h0M1456 1208h0" stroke="#20ecec" stroke-width="2.2" stroke-linecap="square"/>
</g>
<clipPath id="c11"><rect x="1566" y="1181.3" width="205.8" height="206.7"/></clipPath>
<g clip-path="url(#c11)">
<rect x="1566" y="1181.3" width="205.8" height="206.7" fill="#000"/>
<rect x="1566" y="1181.3" width="205.8" height="206.7" filter="url(#tex)"/>
<g fill="#000" opacity="0.5" filter="url(#vb2)"></g><g stroke="#fff" opacity="0.12" filter="url(#vb)"><path d="M1596.9 1191.6 L1598.9 1218.5 L1594.8 1243.3" fill="none" stroke-width="21.3" stroke-linecap="round" stroke-linejoin="round"/><ellipse cx="1596.9" cy="1187.5" rx="22.6" ry="10.3" fill="none" stroke-width="6"/><ellipse cx="1681.2" cy="1218.5" rx="16.4" ry="18.5" fill="none" stroke-width="6"/><path d="M1759.5 1222.6 L1761.5 1253.6" fill="none" stroke-width="19.3" stroke-linecap="round" stroke-linejoin="round"/><path d="M1566 1274.3 L1590.7 1284.7" fill="none" stroke-width="17.2" stroke-linecap="round" stroke-linejoin="round"/><path d="M1576.3 1330.1 L1603 1321.9 L1590.7 1350.8" fill="none" stroke-width="17.2" stroke-linecap="round" stroke-linejoin="round"/><ellipse cx="1710.1" cy="1346.7" rx="32.9" ry="20.6" fill="none" stroke-width="6"/><ellipse cx="1693.6" cy="1379.7" rx="12.3" ry="12.3" fill="none" stroke-width="6"/><ellipse cx="1648.3" cy="1346.7" rx="12.3" ry="12.3" fill="none" stroke-width="6"/></g><g fill="#000" filter="url(#vb)"><path d="M1596.9 1191.6 L1598.9 1218.5 L1594.8 1243.3" fill="none" stroke="#000" stroke-width="12.3" stroke-linecap="round" stroke-linejoin="round"/><ellipse cx="1596.9" cy="1187.5" rx="20.6" ry="8.3"/><ellipse cx="1681.2" cy="1218.5" rx="14.4" ry="16.5"/><path d="M1759.5 1222.6 L1761.5 1253.6" fill="none" stroke="#000" stroke-width="10.3" stroke-linecap="round" stroke-linejoin="round"/><path d="M1566 1274.3 L1590.7 1284.7" fill="none" stroke="#000" stroke-width="8.2" stroke-linecap="round" stroke-linejoin="round"/><path d="M1576.3 1330.1 L1603 1321.9 L1590.7 1350.8" fill="none" stroke="#000" stroke-width="8.2" stroke-linecap="round" stroke-linejoin="round"/><ellipse cx="1710.1" cy="1346.7" rx="30.9" ry="18.6"/><ellipse cx="1693.6" cy="1379.7" rx="10.3" ry="10.3"/><ellipse cx="1648.3" cy="1346.7" rx="10.3" ry="10.3"/></g>
<path d="M1671 1304h0M1629 1372h0M1737 1332h0M1688 1204h0M1659 1380h0M1681 1260h0M1695 1212h0M1634 1342h0M1663 1262h0M1765 1289h0M1659 1199h0M1688 1283h0M1625 1373h0M1694 1293h0M1742 1264h0M1766 1323h0M1645 1276h0M1764 1307h0M1570 1356h0M1652 1244h0M1666 1224h0M1703 1309h0M1661 1281h0M1635 1324h0M1737 1193h0M1695 1347h0M1725 1377h0M1618 1329h0M1693 1291h0M1616 1375h0M1636 1335h0M1648 1385h0M1578 1264h0M1745 1285h0M1602 1193h0M1651 1288h0M1691 1352h0M1740 1197h0M1674 1318h0M1748 1293h0M1659 1242h0M1613 1353h0M1571 1333h0M1765 1194h0M1605 1240h0M1733 1349h0M1691 1289h0M1667 1296h0M1716 1242h0M1751 1221h0M1766 1278h0M1575 1203h0M1703 1368h0M1727 1223h0M1649 1238h0M1568 1205h0M1639 1311h0M1710 1317h0M1751 1303h0M1697 1328h0M1631 1385h0M1594 1366h0M1663 1229h0M1639 1298h0M1763 1338h0M1639 1326h0M1612 1209h0M1658 1254h0M1765 1202h0M1724 1203h0M1759 1335h0M1762 1316h0M1592 1375h0M1758 1325h0M1716 1323h0M1655 1239h0M1618 1299h0M1627 1311h0M1625 1197h0M1739 1309h0M1679 1328h0M1759 1295h0M1633 1383h0M1611 1243h0M1766 1369h0M1604 1340h0M1758 1307h0M1741 1217h0M1630 1203h0M1668 1320h0M1632 1245h0M1670 1195h0M1664 1208h0M1730 1204h0M1745 1200h0M1644 1305h0M1685 1256h0M1571 1261h0M1702 1271h0M1759 1311h0M1657 1189h0M1591 1239h0M1748 1370h0M1660 1234h0M1611 1294h0M1688 1239h0M1720 1269h0M1611 1210h0M1707 1332h0M1641 1241h0M1743 1242h0M1645 1324h0M1594 1252h0M1586 1377h0M1707 1298h0M1672 1317h0M1613 1311h0M1690 1196h0M1629 1245h0M1628 1371h0" stroke="#20ecec" stroke-width="2.2" stroke-linecap="square"/>
</g>
<clipPath id="c12"><rect x="1775.4" y="1181.3" width="205.6" height="206.7"/></clipPath>
<g clip-path="url(#c12)">
<rect x="1775.4" y="1181.3" width="205.6" height="206.7" fill="#000"/>
<rect x="1775.4" y="1181.3" width="205.6" height="206.7" filter="url(#tex)"/>
<g fill="#000" opacity="0.5" filter="url(#vb2)"></g><g stroke="#fff" opacity="0.12" filter="url(#vb)"><path d="M1800.1 1191.6 L1796 1212.3 L1804.2 1233 L1800.1 1259.8" fill="none" stroke-width="18.3" stroke-linecap="round" stroke-linejoin="round"/><ellipse cx="1820.6" cy="1222.6" rx="12.3" ry="18.5" fill="none" stroke-width="6"/><path d="M1812.4 1280.5 L1828.9 1259.8 L1847.4 1239.2" fill="none" stroke-width="18.3" stroke-linecap="round" stroke-linejoin="round"/><path d="M1796 1305.3 L1816.5 1288.8 L1833 1274.3" fill="none" stroke-width="16.2" stroke-linecap="round" stroke-linejoin="round"/><ellipse cx="1779.5" cy="1284.7" rx="8.2" ry="22.7" fill="none" stroke-width="6"/><ellipse cx="1939.9" cy="1274.3" rx="12.3" ry="12.3" fill="none" stroke-width="6"/><ellipse cx="1972.8" cy="1313.6" rx="12.3" ry="18.5" fill="none" stroke-width="6"/><ellipse cx="1861.8" cy="1357" rx="26.7" ry="14.4" fill="none" stroke-width="6"/><path d="M1785.7 1336.3 L1796 1357 L1806.2 1377.7" fill="none" stroke-width="17.2" stroke-linecap="round" stroke-linejoin="round"/><path d="M1915.2 1336.3 L1919.3 1363.2 L1923.4 1388" fill="none" stroke-width="19.3" stroke-linecap="round" stroke-linejoin="round"/><ellipse cx="1966.6" cy="1379.7" rx="16.4" ry="10.3" fill="none" stroke-width="6"/></g><g fill="#000" filter="url(#vb)"><path d="M1800.1 1191.6 L1796 1212.3 L1804.2 1233 L1800.1 1259.8" fill="none" stroke="#000" stroke-width="9.3" stroke-linecap="round" stroke-linejoin="round"/><ellipse cx="1820.6" cy="1222.6" rx="10.3" ry="16.5"/><path d="M1812.4 1280.5 L1828.9 1259.8 L1847.4 1239.2" fill="none" stroke="#000" stroke-width="9.3" stroke-linecap="round" stroke-linejoin="round"/><path d="M1796 1305.3 L1816.5 1288.8 L1833 1274.3" fill="none" stroke="#000" stroke-width="7.2" stroke-linecap="round" stroke-linejoin="round"/><ellipse cx="1779.5" cy="1284.7" rx="6.2" ry="20.7"/><ellipse cx="1939.9" cy="1274.3" rx="10.3" ry="10.3"/><ellipse cx="1972.8" cy="1313.6" rx="10.3" ry="16.5"/><ellipse cx="1861.8" cy="1357" rx="24.7" ry="12.4"/><path d="M1785.7 1336.3 L1796 1357 L1806.2 1377.7" fill="none" stroke="#000" stroke-width="8.2" stroke-linecap="round" stroke-linejoin="round"/><path d="M1915.2 1336.3 L1919.3 1363.2 L1923.4 1388" fill="none" stroke="#000" stroke-width="10.3" stroke-linecap="round" stroke-linejoin="round"/><ellipse cx="1966.6" cy="1379.7" rx="14.4" ry="8.3"/></g>
<path d="M1788 1201h0M1859 1205h0M1959 1191h0M1886 1250h0M1950 1215h0M1845 1251h0M1827 1183h0M1865 1201h0M1898 1197h0M1841 1274h0M1960 1202h0M1806 1344h0M1781 1368h0M1893 1237h0M1947 1339h0M1846 1346h0M1819 1307h0M1884 1348h0M1841 1264h0M1933 1287h0M1916 1313h0M1912 1364h0M1875 1319h0M1853 1189h0M1930 1220h0M1943 1369h0M1910 1217h0M1845 1262h0M1792 1276h0M1893 1251h0M1815 1201h0M1904 1185h0M1848 1229h0M1885 1330h0M1961 1313h0M1978 1273h0M1929 1192h0M1862 1205h0M1790 1255h0M1795 1271h0M1918 1265h0M1977 1236h0M1873 1336h0M1845 1254h0M1906 1380h0M1956 1268h0M1922 1321h0M1852 1231h0M1793 1362h0M1788 1288h0M1886 1213h0M1910 1369h0M1934 1262h0M1803 1381h0M1882 1311h0M1939 1261h0M1789 1211h0M1912 1254h0M1953 1334h0M1937 1189h0M1883 1360h0M1881 1211h0M1878 1294h0M1832 1286h0M1818 1248h0M1858 1374h0M1793 1223h0M1817 1386h0M1957 1222h0M1891 1200h0M1965 1348h0M1885 1343h0M1875 1332h0M1934 1235h0M1946 1301h0M1875 1263h0M1906 1366h0M1937 1307h0M1877 1325h0M1850 1319h0M1862 1256h0M1933 1253h0M1930 1350h0M1814 1382h0M1790 1267h0M1890 1258h0M1964 1208h0M1831 1350h0M1842 1375h0M1787 1262h0" stroke="#20ecec" stroke-width="2.2" stroke-linecap="square"/>
</g>
<text x="1151.4" y="961.6" font-size="26.6" fill="#f5f51a" font-style="italic">FGF2</text>
<text x="1151.4" y="1171.5" font-size="26.6" fill="#ee2aee" font-style="italic">FGF7</text>
<text x="1151.4" y="1381.5" font-size="26.6" fill="#3ce2e2" font-style="italic">FGFR2</text>
<text x="1942" y="1370" font-size="24" fill="#fff" text-anchor="middle">200 μm</text>
<line x1="1918" y1="1379.5" x2="1969.3" y2="1379.5" stroke="#fff" stroke-width="3.2"/>
<text transform="translate(1127.5 1076) rotate(-90)" font-size="26.6" fill="#4da9f0" text-anchor="middle">Stereo-seq (bin10)</text>
<text x="1106.5" y="1417.5" font-size="25" font-weight="bold">F</text>
<text x="1235.3" y="1426.2" font-size="27.5" text-anchor="middle">LH2</text>
<text x="1448.8" y="1426.2" font-size="27.5" text-anchor="middle">LH7</text>
<text x="1662.2" y="1426.2" font-size="27.5" text-anchor="middle">LH9</text>
<text x="1875.2" y="1426.2" font-size="27.5" text-anchor="middle">LH12</text>
<clipPath id="c13"><rect x="1135" y="1428.9" width="209.9" height="209.3"/></clipPath>
<g clip-path="url(#c13)">
<rect x="1135" y="1428.9" width="209.9" height="209.3" fill="#000"/>
<rect x="1135" y="1428.9" width="209.9" height="209.3" filter="url(#tex2)"/>
<g fill="#000" opacity="0.5" filter="url(#vb2)"><ellipse cx="1177" cy="1606.8" rx="29.4" ry="25.1"/><ellipse cx="1250.4" cy="1544" rx="25.2" ry="25.1"/></g><g stroke="#fff" opacity="0.12" filter="url(#vb)"><ellipse cx="1225.3" cy="1483.3" rx="12.5" ry="11.4" fill="none" stroke-width="6"/><path d="M1298.7 1470.8 L1319.7 1502.2 L1313.4 1533.6" fill="none" stroke-width="13.2" stroke-linecap="round" stroke-linejoin="round"/><path d="M1292.4 1554.5 L1313.4 1575.4 L1323.9 1596.3" fill="none" stroke-width="14.2" stroke-linecap="round" stroke-linejoin="round"/></g><g fill="#000" filter="url(#vb)"><ellipse cx="1225.3" cy="1483.3" rx="10.5" ry="9.4"/><path d="M1298.7 1470.8 L1319.7 1502.2 L1313.4 1533.6" fill="none" stroke="#000" stroke-width="4.2" stroke-linecap="round" stroke-linejoin="round"/><path d="M1292.4 1554.5 L1313.4 1575.4 L1323.9 1596.3" fill="none" stroke="#000" stroke-width="5.2" stroke-linecap="round" stroke-linejoin="round"/></g>
<path d="M1146 1472h0M1283 1460h0M1314 1485h0M1139 1521h0M1171 1434h0M1194 1525h0M1176 1606h0M1199 1575h0M1209 1451h0M1226 1572h0M1237 1563h0M1162 1459h0M1163 1532h0M1315 1509h0M1306 1453h0M1183 1569h0M1299 1594h0M1167 1542h0M1186 1585h0M1257 1572h0M1299 1634h0M1233 1636h0M1196 1612h0M1158 1578h0M1322 1545h0" stroke="#f020f0" stroke-width="2.2" stroke-linecap="square"/>
</g>
<clipPath id="c14"><rect x="1347" y="1428.9" width="209.8" height="209.3"/></clipPath>
<g clip-path="url(#c14)">
<rect x="1347" y="1428.9" width="209.8" height="209.3" fill="#000"/>
<rect x="1347" y="1428.9" width="209.8" height="209.3" filter="url(#tex2)"/>
<g fill="#000" opacity="0.5" filter="url(#vb2)"><ellipse cx="1363.8" cy="1564.9" rx="16.8" ry="31.4"/><ellipse cx="1409.9" cy="1491.7" rx="25.2" ry="20.9"/></g><g stroke="#fff" opacity="0.12" filter="url(#vb)"><path d="M1443.5 1533.6 L1447.7 1575.4 L1445.6 1613.1" fill="none" stroke-width="17.4" stroke-linecap="round" stroke-linejoin="round"/><ellipse cx="1546.3" cy="1437.3" rx="14.6" ry="12.5" fill="none" stroke-width="6"/></g><g fill="#000" filter="url(#vb)"><path d="M1443.5 1533.6 L1447.7 1575.4 L1445.6 1613.1" fill="none" stroke="#000" stroke-width="8.4" stroke-linecap="round" stroke-linejoin="round"/><ellipse cx="1546.3" cy="1437.3" rx="12.6" ry="10.5"/></g>
<path d="M1362 1498h0M1349 1489h0M1504 1574h0M1527 1556h0M1377 1547h0M1492 1469h0M1410 1480h0M1404 1468h0M1504 1568h0M1355 1549h0M1365 1563h0M1433 1542h0M1506 1591h0M1490 1491h0M1368 1551h0M1459 1615h0M1531 1469h0M1434 1577h0M1435 1630h0M1351 1516h0M1523 1626h0M1453 1482h0M1471 1496h0M1493 1501h0M1388 1552h0M1508 1531h0M1471 1548h0M1457 1432h0M1426 1611h0M1454 1592h0M1450 1431h0M1394 1532h0M1511 1515h0M1544 1632h0M1382 1599h0M1372 1500h0M1532 1520h0M1353 1431h0M1553 1608h0M1548 1501h0M1412 1572h0M1359 1554h0M1380 1469h0M1505 1479h0M1553 1568h0M1473 1563h0M1398 1628h0M1357 1618h0M1459 1555h0M1461 1510h0M1383 1503h0M1481 1495h0M1513 1573h0M1355 1450h0M1524 1541h0M1376 1540h0M1462 1576h0M1447 1622h0M1352 1613h0M1495 1508h0M1370 1460h0M1494 1568h0M1458 1448h0M1369 1531h0M1371 1491h0M1354 1477h0M1463 1596h0M1351 1492h0M1417 1476h0M1433 1431h0M1388 1485h0M1526 1492h0M1491 1588h0M1492 1520h0M1414 1539h0M1423 1494h0M1426 1442h0M1473 1513h0M1361 1500h0M1362 1534h0M1462 1631h0M1380 1548h0M1512 1480h0M1441 1617h0M1537 1618h0M1351 1568h0M1501 1495h0M1398 1570h0M1420 1619h0M1414 1609h0M1493 1510h0M1496 1616h0M1498 1489h0M1373 1553h0M1506 1557h0M1397 1565h0M1495 1511h0M1492 1569h0M1547 1434h0M1498 1458h0M1383 1507h0M1476 1551h0M1435 1607h0M1457 1554h0M1494 1603h0M1381 1447h0M1460 1461h0M1481 1606h0M1504 1467h0M1358 1526h0M1398 1497h0M1503 1589h0M1467 1619h0M1495 1463h0M1431 1492h0M1552 1518h0M1405 1606h0M1546 1505h0M1409 1496h0M1358 1564h0M1353 1636h0M1518 1510h0M1470 1602h0M1373 1570h0M1525 1537h0M1529 1481h0M1349 1478h0M1554 1500h0M1416 1445h0M1430 1481h0M1451 1437h0M1371 1434h0M1541 1590h0M1393 1491h0M1396 1533h0M1454 1580h0M1477 1439h0M1470 1437h0M1437 1442h0M1424 1462h0" stroke="#f020f0" stroke-width="2.2" stroke-linecap="square"/>
</g>
<clipPath id="c15"><rect x="1558.8" y="1428.9" width="209.9" height="209.3"/></clipPath>
<g clip-path="url(#c15)">
<rect x="1558.8" y="1428.9" width="209.9" height="209.3" fill="#000"/>
<rect x="1558.8" y="1428.9" width="209.9" height="209.3" filter="url(#tex2)"/>
<g fill="#000" opacity="0.5" filter="url(#vb2)"></g><g stroke="#fff" opacity="0.12" filter="url(#vb)"><ellipse cx="1647" cy="1506.3" rx="12.5" ry="12.5" fill="none" stroke-width="6"/><path d="M1600.8 1544 L1632.3 1523.1 L1663.8 1533.6 L1684.7 1558.7" fill="none" stroke-width="14.2" stroke-linecap="round" stroke-linejoin="round"/><path d="M1596.6 1579.6 L1632.3 1554.5 L1663.8 1564.9" fill="none" stroke-width="13.2" stroke-linecap="round" stroke-linejoin="round"/><path d="M1663.8 1617.3 L1716.2 1613.1" fill="none" stroke-width="15.3" stroke-linecap="round" stroke-linejoin="round"/></g><g fill="#000" filter="url(#vb)"><ellipse cx="1647" cy="1506.3" rx="10.5" ry="10.5"/><path d="M1600.8 1544 L1632.3 1523.1 L1663.8 1533.6 L1684.7 1558.7" fill="none" stroke="#000" stroke-width="5.2" stroke-linecap="round" stroke-linejoin="round"/><path d="M1596.6 1579.6 L1632.3 1554.5 L1663.8 1564.9" fill="none" stroke="#000" stroke-width="4.2" stroke-linecap="round" stroke-linejoin="round"/><path d="M1663.8 1617.3 L1716.2 1613.1" fill="none" stroke="#000" stroke-width="6.3" stroke-linecap="round" stroke-linejoin="round"/></g>
<path d="M1718 1563h0M1645 1471h0M1700 1630h0M1649 1606h0M1568 1539h0M1602 1532h0M1687 1607h0M1669 1610h0M1628 1457h0M1656 1578h0M1707 1438h0M1612 1483h0M1658 1608h0M1616 1440h0M1746 1610h0M1720 1438h0M1614 1467h0M1750 1456h0M1587 1476h0M1724 1471h0M1764 1494h0M1695 1470h0M1621 1609h0M1767 1480h0M1633 1442h0M1601 1510h0M1668 1549h0M1633 1463h0M1675 1502h0M1632 1631h0M1682 1434h0M1758 1630h0M1641 1632h0M1582 1620h0M1595 1609h0M1700 1628h0M1623 1565h0M1755 1457h0M1599 1545h0M1588 1442h0M1564 1502h0M1695 1527h0M1685 1436h0M1581 1547h0M1593 1433h0M1573 1565h0M1759 1533h0M1562 1471h0M1701 1594h0M1603 1527h0M1568 1542h0M1717 1533h0M1723 1479h0M1698 1528h0M1685 1445h0M1654 1558h0M1609 1545h0M1564 1517h0M1755 1564h0M1665 1610h0M1704 1535h0M1638 1611h0M1677 1531h0M1637 1462h0M1600 1555h0M1671 1590h0M1612 1629h0M1692 1492h0M1662 1604h0M1757 1575h0M1742 1597h0M1636 1517h0M1657 1441h0M1683 1544h0M1723 1501h0M1762 1583h0M1680 1477h0M1754 1571h0M1691 1470h0M1601 1471h0M1750 1522h0M1705 1573h0M1728 1490h0M1602 1629h0M1589 1637h0M1642 1435h0M1623 1589h0M1644 1459h0M1576 1441h0M1679 1506h0M1701 1456h0M1619 1545h0M1628 1574h0M1614 1585h0M1698 1516h0M1706 1502h0M1751 1583h0M1619 1606h0M1690 1609h0M1707 1619h0M1673 1501h0M1712 1622h0M1669 1578h0M1685 1499h0M1602 1559h0M1595 1523h0M1721 1509h0M1650 1630h0M1682 1542h0M1600 1585h0M1637 1578h0M1758 1602h0M1606 1622h0M1698 1467h0M1569 1482h0M1681 1530h0M1561 1626h0M1574 1603h0M1663 1595h0M1728 1574h0M1638 1537h0M1602 1485h0M1565 1506h0M1747 1579h0M1573 1501h0M1651 1538h0M1666 1603h0M1601 1563h0M1694 1434h0M1592 1455h0M1688 1608h0M1743 1603h0M1674 1558h0M1698 1492h0M1661 1458h0M1629 1506h0M1758 1474h0M1661 1443h0M1573 1537h0M1683 1539h0M1765 1529h0M1690 1611h0M1587 1589h0M1588 1612h0M1718 1592h0M1738 1440h0M1578 1517h0M1574 1618h0M1597 1478h0M1710 1453h0M1738 1503h0M1671 1603h0M1575 1483h0M1639 1576h0M1621 1517h0M1603 1552h0M1647 1564h0M1562 1546h0M1756 1480h0M1609 1590h0M1591 1536h0M1645 1465h0M1629 1595h0M1691 1482h0M1683 1636h0M1593 1581h0M1588 1484h0M1585 1550h0M1696 1577h0M1615 1458h0" stroke="#f020f0" stroke-width="2.2" stroke-linecap="square"/>
</g>
<clipPath id="c16"><rect x="1771.3" y="1428.9" width="209.7" height="209.3"/></clipPath>
<g clip-path="url(#c16)">
<rect x="1771.3" y="1428.9" width="209.7" height="209.3" fill="#000"/>
<rect x="1771.3" y="1428.9" width="209.7" height="209.3" filter="url(#tex2)"/>
<g fill="#000" opacity="0.5" filter="url(#vb2)"><ellipse cx="1939.1" cy="1554.5" rx="25.2" ry="31.4"/></g><g stroke="#fff" opacity="0.12" filter="url(#vb)"><ellipse cx="1859.4" cy="1512.6" rx="31.4" ry="15.6" transform="rotate(10 1859.4 1512.6)" fill="none" stroke-width="6"/><ellipse cx="1890.8" cy="1504.2" rx="12.5" ry="14.6" fill="none" stroke-width="6"/><path d="M1859.4 1585.9 L1865.7 1627.7" fill="none" stroke-width="19.5" stroke-linecap="round" stroke-linejoin="round"/></g><g fill="#000" filter="url(#vb)"><ellipse cx="1859.4" cy="1512.6" rx="29.4" ry="13.6" transform="rotate(10 1859.4 1512.6)"/><ellipse cx="1890.8" cy="1504.2" rx="10.5" ry="12.6"/><path d="M1859.4 1585.9 L1865.7 1627.7" fill="none" stroke="#000" stroke-width="10.5" stroke-linecap="round" stroke-linejoin="round"/></g>
<path d="M1792 1604h0M1897 1474h0M1934 1553h0M1944 1557h0M1922 1590h0M1844 1450h0M1958 1455h0M1888 1635h0M1845 1484h0M1852 1472h0M1928 1492h0M1788 1553h0M1826 1467h0M1776 1603h0M1851 1554h0M1872 1610h0M1787 1561h0M1944 1489h0M1862 1500h0M1840 1625h0M1820 1583h0M1782 1592h0M1789 1593h0M1786 1475h0M1827 1488h0M1933 1534h0M1782 1468h0M1859 1577h0M1905 1529h0M1940 1626h0M1969 1635h0M1963 1634h0M1921 1573h0M1852 1617h0M1864 1435h0M1948 1530h0M1774 1599h0M1937 1611h0M1869 1465h0M1818 1541h0M1912 1545h0M1823 1461h0M1974 1636h0M1967 1538h0M1789 1476h0M1887 1610h0M1917 1453h0M1962 1563h0M1884 1436h0M1789 1622h0M1854 1453h0M1958 1482h0M1931 1467h0M1836 1449h0M1917 1620h0M1902 1563h0M1824 1627h0M1796 1482h0M1890 1562h0M1832 1552h0M1797 1440h0M1861 1549h0M1955 1527h0M1966 1589h0M1974 1577h0M1860 1562h0M1915 1483h0M1808 1497h0M1885 1441h0M1847 1460h0M1966 1524h0M1890 1459h0M1961 1464h0M1951 1597h0M1851 1501h0M1835 1485h0M1906 1534h0M1922 1523h0M1967 1486h0M1830 1511h0M1773 1535h0M1871 1486h0M1866 1529h0M1893 1543h0M1787 1614h0M1801 1466h0M1862 1634h0M1819 1441h0M1930 1535h0M1800 1614h0" stroke="#f020f0" stroke-width="2.2" stroke-linecap="square"/>
</g>
<clipPath id="c17"><rect x="1135" y="1640.8" width="209.9" height="210.4"/></clipPath>
<g clip-path="url(#c17)">
<rect x="1135" y="1640.8" width="209.9" height="210.4" fill="#000"/>
<rect x="1135" y="1640.8" width="209.9" height="210.4" filter="url(#tex)"/>
<g fill="#000" opacity="0.5" filter="url(#vb2)"><ellipse cx="1229.5" cy="1682.9" rx="84" ry="37.9"/></g><g stroke="#fff" opacity="0.12" filter="url(#vb)"><path d="M1145.5 1691.3 L1198 1687.1 L1240 1699.7" fill="none" stroke-width="16.3" stroke-linecap="round" stroke-linejoin="round"/><ellipse cx="1254.6" cy="1697.6" rx="14.6" ry="12.5" fill="none" stroke-width="6"/><path d="M1156 1706 L1208.5 1703.9" fill="none" stroke-width="13.2" stroke-linecap="round" stroke-linejoin="round"/></g><g fill="#000" filter="url(#vb)"><path d="M1145.5 1691.3 L1198 1687.1 L1240 1699.7" fill="none" stroke="#000" stroke-width="7.3" stroke-linecap="round" stroke-linejoin="round"/><ellipse cx="1254.6" cy="1697.6" rx="12.6" ry="10.5"/><path d="M1156 1706 L1208.5 1703.9" fill="none" stroke="#000" stroke-width="4.2" stroke-linecap="round" stroke-linejoin="round"/></g>
<path d="M1251 1681h0M1190 1702h0M1258 1822h0M1245 1806h0M1202 1730h0M1290 1818h0M1181 1775h0M1170 1789h0M1308 1841h0M1273 1759h0M1200 1784h0M1213 1702h0M1234 1662h0M1147 1661h0M1300 1833h0M1235 1799h0M1287 1727h0M1302 1700h0M1259 1746h0M1239 1739h0M1271 1766h0M1210 1834h0M1286 1672h0M1280 1744h0M1337 1747h0M1156 1809h0M1287 1830h0M1249 1804h0M1264 1718h0M1145 1716h0M1259 1742h0M1267 1779h0M1196 1777h0M1308 1802h0M1307 1688h0M1289 1726h0M1162 1687h0M1203 1802h0M1143 1686h0M1242 1737h0M1149 1659h0M1314 1827h0M1281 1692h0M1291 1790h0M1221 1707h0M1271 1721h0M1231 1674h0M1189 1750h0M1229 1750h0M1168 1769h0M1162 1765h0M1194 1762h0M1196 1663h0M1143 1802h0M1184 1751h0M1197 1643h0M1293 1770h0M1154 1670h0M1301 1780h0M1338 1734h0M1323 1679h0M1321 1698h0M1173 1774h0M1181 1749h0M1336 1668h0M1209 1810h0M1142 1698h0M1240 1645h0M1146 1798h0M1153 1773h0M1242 1710h0M1137 1698h0M1141 1823h0M1183 1755h0M1304 1831h0M1233 1781h0M1325 1655h0M1262 1705h0M1203 1803h0M1192 1666h0M1187 1654h0M1175 1805h0M1276 1692h0M1221 1818h0M1229 1802h0M1282 1841h0M1228 1805h0M1268 1657h0M1278 1802h0M1286 1810h0M1252 1754h0M1234 1750h0M1178 1819h0M1210 1685h0M1185 1647h0M1212 1832h0M1337 1744h0M1335 1759h0M1143 1793h0M1311 1828h0M1311 1643h0M1266 1656h0M1212 1789h0M1195 1666h0M1245 1823h0M1297 1724h0M1171 1832h0M1320 1769h0M1324 1691h0M1273 1733h0M1327 1652h0M1196 1676h0M1235 1742h0M1165 1752h0M1339 1659h0M1340 1767h0M1308 1785h0M1144 1673h0M1229 1713h0M1214 1678h0M1209 1801h0M1249 1742h0M1259 1778h0M1168 1780h0M1282 1670h0M1217 1684h0M1289 1714h0M1307 1728h0M1138 1646h0M1280 1759h0M1254 1657h0M1330 1726h0M1200 1838h0M1250 1762h0M1150 1669h0M1225 1713h0M1247 1691h0M1341 1761h0M1265 1669h0M1261 1755h0M1264 1730h0M1301 1769h0M1298 1840h0M1238 1710h0M1337 1679h0M1198 1685h0M1262 1717h0M1159 1726h0M1279 1681h0M1337 1842h0M1221 1715h0M1307 1735h0M1288 1830h0M1243 1772h0M1300 1758h0M1185 1703h0M1299 1832h0M1335 1821h0M1259 1649h0M1221 1699h0M1159 1704h0M1242 1849h0M1172 1748h0M1300 1783h0M1296 1726h0M1137 1795h0M1256 1803h0M1164 1675h0M1294 1741h0M1202 1671h0M1189 1693h0M1166 1776h0M1154 1697h0M1205 1699h0M1163 1688h0M1299 1643h0M1267 1767h0M1228 1728h0M1298 1834h0M1267 1774h0" stroke="#ff2020" stroke-width="2.2" stroke-linecap="square"/>
</g>
<clipPath id="c18"><rect x="1347" y="1640.8" width="209.8" height="210.4"/></clipPath>
<g clip-path="url(#c18)">
<rect x="1347" y="1640.8" width="209.8" height="210.4" fill="#000"/>
<rect x="1347" y="1640.8" width="209.8" height="210.4" filter="url(#tex)"/>
<g fill="#000" opacity="0.5" filter="url(#vb2)"></g><g stroke="#fff" opacity="0.12" filter="url(#vb)"><ellipse cx="1359.6" cy="1687.1" rx="16.7" ry="31.5" fill="none" stroke-width="6"/><ellipse cx="1393.2" cy="1693.4" rx="15.6" ry="27.2" fill="none" stroke-width="6"/><ellipse cx="1441.4" cy="1645" rx="35.6" ry="12.5" fill="none" stroke-width="6"/><ellipse cx="1548.4" cy="1657.6" rx="14.6" ry="23" fill="none" stroke-width="6"/><ellipse cx="1389" cy="1769.1" rx="23" ry="29.4" fill="none" stroke-width="6"/><ellipse cx="1503.3" cy="1771.2" rx="17.7" ry="35.7" fill="none" stroke-width="6"/><ellipse cx="1493.9" cy="1693.4" rx="11.4" ry="16.7" fill="none" stroke-width="6"/><path d="M1409.9 1739.7 L1441.4 1746" fill="none" stroke-width="17.4" stroke-linecap="round" stroke-linejoin="round"/><ellipse cx="1552.6" cy="1840.7" rx="10.4" ry="12.5" fill="none" stroke-width="6"/><path d="M1531.6 1666 L1535.8 1720.8" fill="none" stroke-width="16.3" stroke-linecap="round" stroke-linejoin="round"/></g><g fill="#000" filter="url(#vb)"><ellipse cx="1359.6" cy="1687.1" rx="14.7" ry="29.5"/><ellipse cx="1393.2" cy="1693.4" rx="13.6" ry="25.2"/><ellipse cx="1441.4" cy="1645" rx="33.6" ry="10.5"/><ellipse cx="1548.4" cy="1657.6" rx="12.6" ry="21"/><ellipse cx="1389" cy="1769.1" rx="21" ry="27.4"/><ellipse cx="1503.3" cy="1771.2" rx="15.7" ry="33.7"/><ellipse cx="1493.9" cy="1693.4" rx="9.4" ry="14.7"/><path d="M1409.9 1739.7 L1441.4 1746" fill="none" stroke="#000" stroke-width="8.4" stroke-linecap="round" stroke-linejoin="round"/><ellipse cx="1552.6" cy="1840.7" rx="8.4" ry="10.5"/><path d="M1531.6 1666 L1535.8 1720.8" fill="none" stroke="#000" stroke-width="7.3" stroke-linecap="round" stroke-linejoin="round"/></g>
<path d="M1518 1696h0M1363 1733h0M1459 1689h0M1415 1706h0M1467 1768h0M1403 1706h0M1509 1832h0M1402 1668h0M1540 1848h0M1360 1733h0M1367 1762h0M1476 1702h0M1413 1834h0M1536 1825h0M1420 1705h0M1514 1805h0M1466 1823h0M1372 1748h0M1412 1773h0M1460 1850h0M1488 1774h0M1502 1834h0M1525 1789h0M1413 1767h0M1465 1821h0M1420 1684h0M1406 1734h0M1357 1846h0M1498 1731h0M1395 1738h0M1458 1714h0M1429 1700h0M1431 1664h0M1464 1807h0M1527 1827h0M1390 1835h0M1553 1708h0M1367 1656h0M1475 1694h0M1451 1690h0M1484 1773h0M1454 1775h0M1353 1730h0M1440 1764h0M1493 1816h0M1473 1722h0M1433 1785h0M1358 1790h0M1449 1663h0M1384 1794h0M1433 1779h0M1486 1843h0M1352 1848h0M1530 1649h0M1504 1656h0M1513 1732h0M1504 1669h0M1403 1734h0M1454 1816h0M1516 1786h0M1454 1778h0M1478 1750h0M1429 1713h0M1434 1799h0M1370 1844h0M1429 1731h0M1472 1665h0M1445 1676h0M1459 1844h0M1529 1798h0M1455 1814h0M1393 1650h0M1354 1735h0M1414 1773h0M1410 1777h0M1540 1817h0M1451 1752h0M1379 1649h0M1481 1695h0M1393 1806h0M1396 1650h0M1550 1766h0M1543 1735h0M1527 1829h0M1514 1827h0M1430 1848h0M1454 1830h0M1460 1704h0M1359 1726h0M1546 1723h0M1471 1657h0M1433 1655h0M1537 1799h0M1451 1800h0M1360 1837h0M1371 1766h0M1413 1829h0M1454 1819h0M1549 1762h0M1430 1700h0M1373 1700h0M1543 1698h0M1399 1795h0M1551 1684h0M1490 1731h0M1460 1848h0M1526 1678h0M1550 1801h0M1537 1747h0M1410 1754h0M1452 1753h0M1551 1751h0M1355 1739h0M1469 1731h0M1400 1695h0M1541 1721h0M1418 1839h0M1472 1848h0M1503 1764h0M1480 1772h0M1418 1660h0M1424 1737h0M1385 1736h0M1487 1785h0M1534 1772h0M1404 1832h0M1521 1662h0M1435 1835h0M1536 1700h0M1468 1785h0M1366 1717h0M1400 1735h0M1504 1828h0M1452 1758h0M1442 1843h0M1384 1658h0M1516 1726h0M1372 1673h0M1461 1750h0M1392 1847h0M1468 1773h0M1428 1835h0M1461 1762h0M1434 1790h0M1375 1740h0M1388 1655h0M1514 1703h0M1385 1730h0M1362 1817h0M1421 1684h0M1424 1751h0M1396 1828h0M1453 1745h0M1470 1787h0M1490 1841h0M1354 1815h0M1523 1768h0M1502 1721h0M1357 1728h0M1386 1655h0M1527 1759h0M1379 1804h0M1543 1803h0M1534 1782h0M1523 1793h0M1357 1821h0M1360 1758h0M1515 1653h0M1464 1831h0M1539 1750h0M1355 1719h0M1505 1821h0M1473 1743h0M1509 1842h0M1385 1848h0M1449 1711h0M1381 1680h0M1445 1660h0M1371 1849h0M1544 1835h0M1455 1757h0M1550 1769h0M1381 1656h0M1355 1727h0M1402 1846h0M1442 1787h0M1501 1716h0M1364 1757h0M1506 1648h0M1389 1823h0M1464 1706h0M1526 1701h0M1365 1733h0M1349 1664h0M1350 1670h0M1375 1829h0M1507 1689h0M1544 1706h0M1433 1753h0M1514 1790h0M1367 1757h0M1472 1773h0M1546 1766h0M1357 1791h0M1527 1791h0M1501 1737h0M1505 1732h0M1412 1717h0M1455 1749h0M1541 1848h0M1533 1751h0M1456 1777h0M1414 1798h0M1529 1793h0M1388 1849h0M1454 1689h0M1450 1828h0M1446 1794h0M1374 1799h0M1404 1658h0M1404 1786h0M1496 1655h0M1493 1701h0M1457 1849h0M1543 1708h0M1373 1756h0M1363 1732h0M1400 1727h0M1553 1751h0M1534 1662h0M1550 1765h0M1528 1691h0M1477 1681h0M1544 1703h0M1422 1790h0M1367 1801h0M1540 1816h0M1365 1760h0M1415 1849h0M1454 1803h0M1546 1698h0M1354 1835h0M1539 1759h0M1408 1658h0M1462 1849h0M1500 1672h0M1435 1798h0M1458 1838h0M1390 1817h0M1412 1761h0M1527 1684h0M1398 1663h0M1371 1763h0M1371 1720h0M1381 1837h0M1437 1660h0M1411 1649h0M1397 1649h0M1402 1721h0M1366 1684h0M1545 1749h0M1377 1771h0M1394 1658h0M1351 1666h0M1470 1835h0M1448 1735h0M1409 1688h0M1519 1706h0M1501 1734h0M1420 1834h0M1515 1753h0M1404 1785h0M1385 1809h0M1553 1772h0M1407 1651h0M1506 1721h0M1410 1694h0M1527 1821h0M1386 1651h0M1351 1766h0M1512 1666h0M1479 1666h0M1529 1819h0M1396 1792h0M1379 1643h0M1503 1738h0M1445 1762h0M1353 1719h0M1552 1819h0M1450 1729h0M1401 1649h0M1475 1798h0M1442 1703h0M1452 1844h0M1369 1783h0M1477 1790h0M1525 1748h0M1416 1817h0M1555 1674h0M1461 1738h0" stroke="#ff2020" stroke-width="2.2" stroke-linecap="square"/>
</g>
<clipPath id="c19"><rect x="1558.8" y="1640.8" width="209.9" height="210.4"/></clipPath>
<g clip-path="url(#c19)">
<rect x="1558.8" y="1640.8" width="209.9" height="210.4" fill="#000"/>
<rect x="1558.8" y="1640.8" width="209.9" height="210.4" filter="url(#tex)"/>
<g fill="#000" opacity="0.5" filter="url(#vb2)"><ellipse cx="1709.9" cy="1804.9" rx="16.8" ry="25.2"/></g><g stroke="#fff" opacity="0.12" filter="url(#vb)"><path d="M1718.3 1661.8 L1722.5 1693.4 L1716.2 1720.8" fill="none" stroke-width="19.5" stroke-linecap="round" stroke-linejoin="round"/><ellipse cx="1611.3" cy="1666" rx="10.4" ry="10.4" fill="none" stroke-width="6"/><ellipse cx="1590.3" cy="1687.1" rx="8.3" ry="8.3" fill="none" stroke-width="6"/><path d="M1663.8 1756.5 L1663.8 1777.6" fill="none" stroke-width="15.3" stroke-linecap="round" stroke-linejoin="round"/><path d="M1558.8 1708.1 L1579.8 1710.2" fill="none" stroke-width="15.3" stroke-linecap="round" stroke-linejoin="round"/></g><g fill="#000" filter="url(#vb)"><path d="M1718.3 1661.8 L1722.5 1693.4 L1716.2 1720.8" fill="none" stroke="#000" stroke-width="10.5" stroke-linecap="round" stroke-linejoin="round"/><ellipse cx="1611.3" cy="1666" rx="8.4" ry="8.4"/><ellipse cx="1590.3" cy="1687.1" rx="6.3" ry="6.3"/><path d="M1663.8 1756.5 L1663.8 1777.6" fill="none" stroke="#000" stroke-width="6.3" stroke-linecap="round" stroke-linejoin="round"/><path d="M1558.8 1708.1 L1579.8 1710.2" fill="none" stroke="#000" stroke-width="6.3" stroke-linecap="round" stroke-linejoin="round"/></g>
<path d="M1695 1778h0M1567 1673h0M1761 1682h0M1703 1734h0M1760 1785h0M1629 1674h0M1626 1820h0M1766 1801h0M1594 1791h0M1613 1808h0M1617 1685h0M1598 1832h0M1624 1735h0M1600 1774h0M1766 1814h0M1703 1677h0M1693 1766h0M1601 1819h0M1601 1795h0M1704 1783h0M1750 1687h0M1624 1789h0M1719 1747h0M1690 1717h0M1733 1804h0M1561 1833h0M1744 1658h0M1716 1834h0M1622 1711h0M1750 1783h0M1746 1799h0M1620 1789h0M1755 1662h0M1626 1683h0M1602 1813h0M1593 1825h0M1647 1802h0M1588 1761h0M1651 1651h0M1679 1844h0M1614 1823h0M1712 1699h0M1744 1687h0M1618 1772h0M1669 1750h0M1679 1752h0M1744 1777h0M1755 1702h0M1610 1748h0M1604 1847h0M1630 1814h0M1630 1786h0M1659 1735h0M1632 1837h0M1591 1716h0M1634 1795h0M1660 1829h0M1641 1697h0M1644 1785h0M1566 1849h0M1743 1645h0M1586 1809h0M1709 1701h0M1627 1737h0M1637 1805h0M1637 1765h0M1687 1727h0M1618 1648h0M1678 1754h0M1630 1742h0M1652 1707h0M1600 1714h0M1734 1785h0M1740 1827h0M1686 1824h0M1609 1682h0M1746 1770h0M1687 1797h0M1587 1818h0M1702 1743h0M1639 1729h0M1617 1783h0M1642 1823h0M1716 1687h0M1654 1683h0M1678 1808h0M1642 1729h0M1743 1679h0M1767 1804h0M1720 1749h0M1700 1726h0M1705 1729h0M1577 1757h0M1762 1768h0M1692 1689h0M1664 1771h0M1641 1785h0M1633 1785h0M1575 1824h0M1595 1646h0M1714 1702h0M1667 1719h0M1613 1735h0M1702 1764h0M1625 1736h0M1586 1717h0M1566 1837h0M1564 1788h0M1579 1720h0M1568 1796h0M1757 1837h0M1740 1840h0M1757 1756h0M1644 1845h0M1759 1844h0M1621 1766h0M1683 1808h0M1661 1845h0M1563 1819h0M1669 1718h0M1694 1671h0M1655 1841h0M1624 1839h0M1762 1774h0M1738 1777h0M1725 1780h0M1618 1699h0M1679 1715h0M1714 1820h0M1626 1801h0M1615 1802h0M1657 1648h0M1742 1748h0M1640 1789h0M1580 1754h0M1758 1764h0M1653 1819h0M1614 1721h0M1588 1712h0M1616 1762h0M1614 1746h0M1712 1787h0M1646 1789h0M1624 1838h0M1759 1712h0M1586 1646h0M1666 1693h0M1609 1713h0M1710 1674h0M1692 1688h0M1622 1707h0M1593 1837h0M1675 1815h0M1676 1796h0M1733 1772h0M1741 1708h0M1636 1655h0M1692 1736h0M1767 1704h0M1619 1672h0M1737 1839h0M1719 1679h0M1611 1704h0M1620 1771h0M1606 1805h0M1631 1824h0M1676 1829h0M1571 1814h0M1580 1777h0M1743 1661h0M1615 1787h0M1730 1842h0M1689 1683h0M1744 1766h0M1612 1785h0M1643 1771h0M1629 1823h0M1591 1803h0M1617 1797h0M1696 1771h0M1587 1691h0M1731 1769h0M1726 1721h0M1570 1772h0M1644 1694h0M1611 1648h0M1754 1813h0M1669 1750h0M1748 1822h0M1712 1844h0M1568 1740h0M1717 1801h0M1745 1781h0M1582 1810h0M1682 1722h0M1598 1785h0M1742 1780h0M1614 1848h0M1663 1720h0M1588 1846h0M1653 1818h0M1620 1698h0M1586 1812h0M1758 1688h0M1639 1817h0M1625 1777h0M1735 1709h0M1569 1754h0M1666 1756h0M1581 1695h0M1598 1676h0M1711 1775h0M1642 1745h0M1754 1707h0M1620 1658h0M1630 1803h0M1692 1768h0M1614 1686h0M1625 1808h0M1609 1816h0M1743 1681h0M1571 1779h0M1628 1817h0M1734 1703h0M1724 1804h0M1694 1828h0M1647 1683h0M1765 1847h0M1606 1727h0M1693 1684h0M1727 1808h0M1751 1700h0M1614 1643h0M1645 1645h0M1670 1836h0M1725 1662h0M1632 1710h0M1633 1838h0M1747 1713h0M1699 1650h0M1610 1777h0M1675 1750h0M1710 1686h0M1619 1647h0M1652 1708h0M1702 1723h0M1758 1747h0M1608 1833h0M1605 1678h0M1709 1843h0M1729 1650h0M1582 1706h0M1648 1825h0M1583 1849h0M1761 1763h0M1657 1845h0M1760 1825h0M1753 1747h0M1754 1746h0M1736 1722h0M1657 1726h0M1618 1825h0M1735 1729h0M1732 1717h0M1732 1849h0M1740 1676h0M1633 1797h0M1638 1738h0M1631 1708h0M1581 1766h0M1702 1818h0M1674 1743h0M1723 1777h0M1614 1764h0M1583 1679h0M1689 1650h0M1743 1774h0M1578 1734h0M1663 1805h0M1627 1822h0M1739 1817h0M1657 1680h0M1715 1831h0M1676 1778h0M1721 1750h0M1688 1791h0M1736 1707h0M1636 1758h0M1640 1789h0M1750 1756h0M1703 1761h0M1714 1686h0M1755 1725h0M1564 1748h0M1616 1815h0M1639 1827h0M1732 1744h0M1578 1761h0M1690 1825h0M1624 1795h0M1738 1668h0M1640 1791h0M1674 1713h0M1708 1837h0M1566 1790h0M1649 1706h0M1603 1677h0M1765 1685h0M1618 1744h0M1562 1776h0M1683 1642h0M1740 1780h0M1688 1671h0M1714 1740h0M1754 1768h0M1760 1714h0M1596 1741h0M1751 1672h0M1694 1811h0M1654 1770h0M1751 1829h0M1614 1719h0M1564 1647h0M1654 1743h0M1665 1781h0M1748 1740h0M1568 1646h0M1695 1767h0M1726 1676h0M1726 1834h0M1704 1646h0M1712 1800h0M1739 1683h0M1607 1684h0M1755 1847h0M1618 1679h0M1746 1675h0M1695 1820h0M1697 1730h0M1638 1777h0M1751 1830h0M1709 1738h0M1749 1645h0M1711 1731h0M1721 1754h0M1730 1737h0M1706 1780h0M1576 1804h0M1613 1769h0M1714 1803h0M1689 1717h0M1686 1776h0M1678 1669h0M1671 1802h0M1632 1784h0M1685 1728h0M1737 1841h0M1633 1698h0M1715 1814h0M1724 1659h0M1741 1794h0M1684 1686h0M1742 1799h0M1759 1721h0M1665 1676h0M1761 1769h0M1654 1742h0M1568 1678h0M1670 1833h0M1631 1723h0M1681 1659h0M1701 1722h0M1756 1684h0M1753 1819h0M1602 1689h0M1733 1693h0M1606 1737h0M1590 1765h0M1731 1726h0M1648 1701h0M1611 1816h0M1638 1707h0M1651 1717h0M1745 1678h0M1706 1823h0M1588 1679h0M1573 1655h0M1620 1691h0M1700 1761h0M1759 1837h0M1730 1848h0M1667 1775h0M1574 1794h0M1728 1812h0M1570 1821h0M1702 1786h0M1602 1700h0M1591 1801h0M1654 1682h0M1620 1668h0M1638 1750h0M1595 1715h0M1565 1734h0M1706 1680h0M1580 1801h0M1685 1695h0M1710 1729h0M1627 1703h0M1665 1715h0M1675 1728h0M1659 1765h0M1695 1823h0M1607 1712h0M1698 1803h0M1562 1684h0M1564 1698h0M1575 1689h0M1667 1788h0M1665 1829h0M1666 1842h0M1606 1681h0M1685 1728h0M1627 1831h0M1675 1738h0M1736 1831h0M1647 1703h0M1657 1727h0M1745 1724h0M1650 1788h0M1600 1655h0M1666 1816h0M1599 1653h0M1591 1681h0M1595 1828h0M1674 1674h0M1595 1815h0M1666 1810h0M1762 1738h0M1654 1809h0M1701 1843h0M1747 1796h0M1724 1843h0M1759 1655h0M1694 1696h0M1658 1643h0M1573 1656h0M1680 1842h0M1629 1747h0M1661 1834h0M1610 1719h0" stroke="#ff2020" stroke-width="2.2" stroke-linecap="square"/>
</g>
<clipPath id="c20"><rect x="1771.3" y="1640.8" width="209.7" height="210.4"/></clipPath>
<g clip-path="url(#c20)">
<rect x="1771.3" y="1640.8" width="209.7" height="210.4" fill="#000"/>
<rect x="1771.3" y="1640.8" width="209.7" height="210.4" filter="url(#tex)"/>
<g fill="#000" opacity="0.5" filter="url(#vb2)"></g><g stroke="#fff" opacity="0.12" filter="url(#vb)"><ellipse cx="1872" cy="1651.3" rx="18.8" ry="14.6" fill="none" stroke-width="6"/><ellipse cx="1953.7" cy="1752.3" rx="11.4" ry="11.5" fill="none" stroke-width="6"/><path d="M1960 1767 L1964.2 1809.1" fill="none" stroke-width="17.4" stroke-linecap="round" stroke-linejoin="round"/><path d="M1809 1714.4 L1813.2 1767" fill="none" stroke-width="17.4" stroke-linecap="round" stroke-linejoin="round"/><ellipse cx="1804.9" cy="1830.2" rx="12.5" ry="12.5" fill="none" stroke-width="6"/><ellipse cx="1876.2" cy="1798.6" rx="10.4" ry="10.4" fill="none" stroke-width="6"/></g><g fill="#000" filter="url(#vb)"><ellipse cx="1872" cy="1651.3" rx="16.8" ry="12.6"/><ellipse cx="1953.7" cy="1752.3" rx="9.4" ry="9.5"/><path d="M1960 1767 L1964.2 1809.1" fill="none" stroke="#000" stroke-width="8.4" stroke-linecap="round" stroke-linejoin="round"/><path d="M1809 1714.4 L1813.2 1767" fill="none" stroke="#000" stroke-width="8.4" stroke-linecap="round" stroke-linejoin="round"/><ellipse cx="1804.9" cy="1830.2" rx="10.5" ry="10.5"/><ellipse cx="1876.2" cy="1798.6" rx="8.4" ry="8.4"/></g>
<path d="M1890 1843h0M1861 1823h0M1813 1671h0M1845 1646h0M1865 1726h0M1892 1829h0M1799 1688h0M1877 1773h0M1842 1681h0M1832 1745h0M1929 1797h0M1957 1643h0M1789 1744h0M1820 1849h0M1879 1839h0M1945 1824h0M1782 1822h0M1931 1652h0M1934 1650h0M1940 1769h0M1893 1657h0M1946 1744h0M1962 1678h0M1860 1742h0M1812 1800h0M1971 1651h0M1901 1759h0M1901 1781h0M1918 1821h0M1896 1734h0M1891 1773h0M1797 1846h0M1890 1751h0M1896 1684h0M1823 1719h0M1884 1743h0M1928 1703h0M1960 1724h0M1790 1695h0M1971 1837h0M1829 1824h0M1977 1715h0M1773 1705h0M1874 1707h0M1943 1671h0M1978 1801h0M1825 1643h0M1784 1741h0M1843 1743h0M1841 1736h0M1948 1688h0M1792 1811h0M1974 1812h0M1965 1835h0M1940 1658h0M1792 1710h0M1879 1849h0M1904 1678h0M1838 1765h0M1823 1830h0M1919 1767h0M1918 1759h0M1879 1773h0M1879 1752h0M1872 1760h0M1829 1743h0M1828 1775h0M1918 1822h0M1874 1734h0M1787 1745h0M1872 1746h0M1877 1731h0M1940 1706h0M1788 1758h0M1955 1694h0M1933 1846h0M1927 1780h0M1806 1750h0M1978 1779h0M1830 1698h0M1977 1801h0M1781 1714h0M1968 1673h0M1968 1697h0M1825 1700h0M1861 1673h0M1973 1821h0M1843 1751h0M1819 1835h0M1954 1672h0M1933 1701h0M1925 1663h0M1816 1831h0M1949 1835h0M1858 1683h0M1851 1833h0M1878 1761h0M1786 1803h0M1941 1712h0M1834 1661h0M1843 1701h0M1853 1819h0M1820 1692h0M1914 1654h0M1942 1654h0M1913 1778h0M1928 1827h0M1876 1789h0M1841 1674h0M1850 1766h0M1888 1722h0M1927 1814h0M1888 1817h0M1846 1806h0M1853 1742h0M1930 1769h0M1941 1654h0M1789 1657h0M1842 1648h0M1890 1779h0M1841 1797h0M1884 1728h0M1790 1736h0M1867 1830h0M1952 1728h0M1899 1672h0M1818 1829h0M1801 1849h0M1940 1774h0M1820 1830h0M1777 1655h0M1942 1791h0M1968 1651h0M1782 1645h0M1909 1676h0M1895 1712h0M1782 1706h0M1878 1787h0M1943 1683h0M1868 1683h0M1877 1691h0M1824 1766h0M1976 1752h0M1882 1677h0M1922 1743h0M1914 1809h0M1954 1795h0M1938 1731h0M1909 1693h0M1900 1673h0M1809 1768h0M1849 1751h0M1904 1690h0M1852 1688h0M1819 1747h0M1823 1847h0M1972 1814h0M1930 1733h0M1795 1784h0M1891 1823h0M1922 1774h0M1839 1778h0M1795 1667h0M1931 1791h0M1906 1672h0M1829 1643h0M1808 1805h0M1809 1847h0M1925 1761h0M1805 1735h0M1862 1792h0M1836 1841h0M1798 1807h0M1858 1699h0M1836 1661h0M1883 1720h0M1922 1733h0M1864 1688h0M1863 1790h0M1948 1817h0M1887 1816h0M1873 1734h0M1900 1767h0M1936 1729h0M1937 1760h0M1803 1745h0M1847 1757h0M1886 1820h0M1848 1674h0M1943 1717h0M1835 1761h0M1949 1777h0M1853 1744h0M1825 1798h0M1934 1819h0M1887 1829h0M1806 1742h0M1834 1817h0M1864 1807h0M1820 1667h0M1884 1744h0M1970 1848h0M1806 1698h0M1806 1810h0M1908 1824h0M1918 1721h0M1917 1807h0M1885 1792h0M1927 1714h0M1934 1792h0M1929 1769h0M1892 1709h0M1921 1809h0M1956 1644h0M1884 1708h0M1781 1698h0M1886 1780h0M1953 1732h0M1781 1764h0M1880 1780h0M1830 1724h0M1894 1792h0M1909 1766h0M1949 1773h0M1964 1707h0M1797 1650h0M1903 1720h0M1897 1724h0M1783 1828h0M1915 1777h0M1902 1768h0M1837 1778h0M1908 1811h0M1874 1774h0M1965 1646h0M1918 1685h0M1842 1809h0M1840 1848h0M1886 1644h0M1802 1724h0M1969 1688h0M1832 1694h0M1812 1773h0M1803 1762h0M1952 1658h0M1949 1669h0M1913 1839h0M1776 1670h0M1886 1798h0M1785 1645h0M1900 1774h0M1828 1837h0M1820 1699h0M1955 1799h0M1865 1838h0M1961 1723h0M1793 1750h0M1779 1845h0M1844 1687h0M1930 1743h0M1835 1845h0M1782 1827h0M1831 1745h0M1805 1675h0M1863 1830h0M1788 1681h0M1915 1776h0M1922 1785h0M1784 1772h0M1824 1704h0M1828 1799h0M1842 1667h0M1966 1767h0M1947 1836h0M1935 1745h0M1777 1744h0M1979 1681h0M1967 1667h0M1924 1740h0M1779 1807h0M1883 1843h0M1897 1805h0M1809 1701h0M1847 1805h0M1824 1706h0M1789 1793h0M1905 1817h0M1913 1704h0M1931 1680h0M1824 1698h0M1824 1708h0M1828 1707h0M1964 1728h0M1946 1725h0M1943 1772h0M1898 1763h0M1889 1657h0M1874 1704h0M1825 1782h0M1863 1749h0M1876 1810h0M1954 1819h0M1865 1782h0M1911 1724h0M1901 1699h0M1773 1702h0M1830 1660h0M1943 1760h0M1839 1762h0M1910 1821h0M1817 1698h0M1973 1702h0M1899 1763h0M1973 1722h0M1884 1682h0M1778 1689h0M1834 1756h0M1806 1676h0M1788 1700h0M1853 1683h0M1797 1790h0M1802 1665h0M1824 1827h0M1852 1689h0M1884 1760h0M1943 1656h0M1972 1774h0M1932 1849h0M1827 1781h0M1885 1811h0M1893 1796h0M1820 1849h0M1952 1644h0M1921 1771h0M1836 1801h0M1922 1730h0M1825 1802h0M1861 1728h0M1801 1745h0M1825 1694h0M1945 1719h0M1807 1746h0M1875 1711h0M1777 1791h0M1827 1806h0M1915 1756h0M1786 1730h0M1796 1823h0M1797 1776h0M1905 1849h0M1866 1732h0M1884 1725h0M1929 1701h0M1893 1776h0M1971 1723h0M1968 1832h0M1928 1788h0M1897 1789h0M1963 1670h0M1781 1694h0M1829 1675h0M1850 1812h0M1890 1735h0M1840 1720h0M1878 1816h0M1783 1725h0M1920 1793h0M1938 1808h0M1844 1807h0M1796 1704h0M1910 1660h0M1923 1741h0M1845 1755h0M1866 1784h0M1939 1818h0M1926 1686h0M1872 1705h0M1973 1710h0M1920 1693h0M1877 1716h0" stroke="#ff2020" stroke-width="2.2" stroke-linecap="square"/>
</g>
<clipPath id="c21"><rect x="1135" y="1853.3" width="209.9" height="209"/></clipPath>
<g clip-path="url(#c21)">
<rect x="1135" y="1853.3" width="209.9" height="209" fill="#000"/>
<rect x="1135" y="1853.3" width="209.9" height="209" filter="url(#tex)"/>
<g fill="#000" opacity="0.5" filter="url(#vb2)"><ellipse cx="1229.5" cy="1895.1" rx="84" ry="37.6"/></g><g stroke="#fff" opacity="0.12" filter="url(#vb)"><path d="M1145.5 1903.5 L1198 1899.3 L1240 1911.8" fill="none" stroke-width="16.3" stroke-linecap="round" stroke-linejoin="round"/><ellipse cx="1254.6" cy="1909.7" rx="14.6" ry="12.5" fill="none" stroke-width="6"/><path d="M1156 1918.1 L1208.5 1916" fill="none" stroke-width="13.2" stroke-linecap="round" stroke-linejoin="round"/></g><g fill="#000" filter="url(#vb)"><path d="M1145.5 1903.5 L1198 1899.3 L1240 1911.8" fill="none" stroke="#000" stroke-width="7.3" stroke-linecap="round" stroke-linejoin="round"/><ellipse cx="1254.6" cy="1909.7" rx="12.6" ry="10.5"/><path d="M1156 1918.1 L1208.5 1916" fill="none" stroke="#000" stroke-width="4.2" stroke-linecap="round" stroke-linejoin="round"/></g>
<path d="M1229 1984h0M1227 1921h0M1223 1873h0M1242 2017h0M1210 1983h0M1252 1954h0M1172 1954h0M1239 1860h0M1314 2007h0M1266 1907h0M1267 2031h0M1230 2039h0M1309 1889h0M1221 1872h0M1253 1984h0M1236 1933h0M1230 1895h0M1335 1983h0M1323 1933h0M1218 1890h0M1203 1878h0M1187 1942h0M1294 1943h0M1244 1946h0M1335 2014h0M1276 2033h0M1188 2036h0M1207 1879h0M1258 1900h0M1310 1994h0M1317 1897h0M1167 1877h0M1300 1936h0M1290 1917h0M1273 1986h0M1216 1890h0M1331 1943h0M1269 1982h0M1143 1977h0M1280 1972h0M1181 2032h0M1143 1868h0M1154 1935h0M1259 2040h0M1145 2028h0" stroke="#20ecec" stroke-width="2.2" stroke-linecap="square"/>
</g>
<clipPath id="c22"><rect x="1347" y="1853.3" width="209.8" height="209"/></clipPath>
<g clip-path="url(#c22)">
<rect x="1347" y="1853.3" width="209.8" height="209" fill="#000"/>
<rect x="1347" y="1853.3" width="209.8" height="209" filter="url(#tex)"/>
<g fill="#000" opacity="0.5" filter="url(#vb2)"></g><g stroke="#fff" opacity="0.12" filter="url(#vb)"><ellipse cx="1359.6" cy="1899.3" rx="16.7" ry="31.3" fill="none" stroke-width="6"/><ellipse cx="1393.2" cy="1905.5" rx="15.6" ry="27.1" fill="none" stroke-width="6"/><ellipse cx="1441.4" cy="1857.5" rx="35.6" ry="12.5" fill="none" stroke-width="6"/><ellipse cx="1548.4" cy="1870" rx="14.6" ry="22.9" fill="none" stroke-width="6"/><ellipse cx="1389" cy="1980.8" rx="23" ry="29.2" fill="none" stroke-width="6"/><ellipse cx="1503.3" cy="1982.9" rx="17.7" ry="35.4" fill="none" stroke-width="6"/><ellipse cx="1493.9" cy="1905.5" rx="11.4" ry="16.6" fill="none" stroke-width="6"/><path d="M1409.9 1951.5 L1441.4 1957.8" fill="none" stroke-width="17.4" stroke-linecap="round" stroke-linejoin="round"/><ellipse cx="1552.6" cy="2051.9" rx="10.4" ry="12.5" fill="none" stroke-width="6"/><path d="M1531.6 1878.4 L1535.8 1932.7" fill="none" stroke-width="16.3" stroke-linecap="round" stroke-linejoin="round"/></g><g fill="#000" filter="url(#vb)"><ellipse cx="1359.6" cy="1899.3" rx="14.7" ry="29.3"/><ellipse cx="1393.2" cy="1905.5" rx="13.6" ry="25.1"/><ellipse cx="1441.4" cy="1857.5" rx="33.6" ry="10.5"/><ellipse cx="1548.4" cy="1870" rx="12.6" ry="20.9"/><ellipse cx="1389" cy="1980.8" rx="21" ry="27.2"/><ellipse cx="1503.3" cy="1982.9" rx="15.7" ry="33.4"/><ellipse cx="1493.9" cy="1905.5" rx="9.4" ry="14.6"/><path d="M1409.9 1951.5 L1441.4 1957.8" fill="none" stroke="#000" stroke-width="8.4" stroke-linecap="round" stroke-linejoin="round"/><ellipse cx="1552.6" cy="2051.9" rx="8.4" ry="10.5"/><path d="M1531.6 1878.4 L1535.8 1932.7" fill="none" stroke="#000" stroke-width="7.3" stroke-linecap="round" stroke-linejoin="round"/></g>
<path d="M1405 1881h0M1465 1946h0M1548 2057h0M1443 2013h0M1486 1942h0M1395 2012h0M1536 2054h0M1539 2044h0M1355 1975h0M1549 1956h0M1549 1900h0M1546 2003h0M1554 2021h0M1419 1907h0M1499 2047h0M1522 1893h0M1539 1935h0M1460 2047h0M1508 1894h0M1492 2042h0M1510 1953h0M1408 1883h0M1380 2044h0M1436 1871h0M1552 1892h0M1508 1861h0M1367 1968h0M1529 1950h0M1526 2058h0M1456 2047h0M1448 1919h0M1471 1940h0M1408 1946h0M1372 1990h0M1483 1972h0M1460 1881h0M1467 1928h0M1490 2001h0M1539 2038h0M1475 2033h0M1389 1876h0M1486 2030h0M1414 1920h0M1472 1858h0M1532 1942h0M1545 1920h0M1421 1915h0M1476 1996h0M1537 1993h0M1524 1930h0M1505 2054h0M1488 1956h0M1417 2031h0M1432 2029h0M1495 2049h0M1516 1914h0M1378 1916h0M1508 1882h0M1475 1894h0M1542 1983h0M1424 2018h0M1405 1939h0M1404 1962h0M1349 1964h0M1472 1894h0M1487 1938h0M1421 1925h0M1494 1927h0M1529 1895h0M1479 1881h0" stroke="#20ecec" stroke-width="2.2" stroke-linecap="square"/>
</g>
<clipPath id="c23"><rect x="1558.8" y="1853.3" width="209.9" height="209"/></clipPath>
<g clip-path="url(#c23)">
<rect x="1558.8" y="1853.3" width="209.9" height="209" fill="#000"/>
<rect x="1558.8" y="1853.3" width="209.9" height="209" filter="url(#tex)"/>
<g fill="#000" opacity="0.5" filter="url(#vb2)"><ellipse cx="1709.9" cy="2016.3" rx="16.8" ry="25.1"/></g><g stroke="#fff" opacity="0.12" filter="url(#vb)"><path d="M1718.3 1874.2 L1722.5 1905.5 L1716.2 1932.7" fill="none" stroke-width="19.5" stroke-linecap="round" stroke-linejoin="round"/><ellipse cx="1611.3" cy="1878.4" rx="10.4" ry="10.4" fill="none" stroke-width="6"/><ellipse cx="1590.3" cy="1899.3" rx="8.3" ry="8.3" fill="none" stroke-width="6"/><path d="M1663.8 1968.2 L1663.8 1989.2" fill="none" stroke-width="15.3" stroke-linecap="round" stroke-linejoin="round"/><path d="M1558.8 1920.2 L1579.8 1922.3" fill="none" stroke-width="15.3" stroke-linecap="round" stroke-linejoin="round"/></g><g fill="#000" filter="url(#vb)"><path d="M1718.3 1874.2 L1722.5 1905.5 L1716.2 1932.7" fill="none" stroke="#000" stroke-width="10.5" stroke-linecap="round" stroke-linejoin="round"/><ellipse cx="1611.3" cy="1878.4" rx="8.4" ry="8.4"/><ellipse cx="1590.3" cy="1899.3" rx="6.3" ry="6.3"/><path d="M1663.8 1968.2 L1663.8 1989.2" fill="none" stroke="#000" stroke-width="6.3" stroke-linecap="round" stroke-linejoin="round"/><path d="M1558.8 1920.2 L1579.8 1922.3" fill="none" stroke="#000" stroke-width="6.3" stroke-linecap="round" stroke-linejoin="round"/></g>
<path d="M1741 2022h0M1647 1868h0M1619 2059h0M1592 1893h0M1673 2021h0M1607 1903h0M1603 2027h0M1634 2030h0M1658 1986h0M1742 2039h0M1654 2021h0M1621 2010h0M1726 2019h0M1725 2015h0M1758 2019h0M1684 1881h0M1607 2007h0M1757 1860h0M1618 2004h0M1649 1961h0M1741 1966h0M1626 1991h0M1563 1906h0M1755 1992h0M1597 1882h0M1765 1866h0M1745 2017h0M1691 1878h0M1590 2010h0M1641 2057h0M1739 1945h0M1677 1994h0M1614 1968h0M1700 1969h0M1605 2044h0M1753 1983h0M1610 2015h0M1679 1952h0M1619 1900h0M1762 1869h0M1751 1992h0M1739 2045h0M1764 2057h0M1767 1994h0M1646 2038h0M1616 1933h0M1699 1898h0M1593 1922h0M1745 2049h0M1762 1990h0M1629 1923h0M1737 1947h0M1735 1987h0M1659 2023h0M1583 1874h0M1759 1875h0M1766 2023h0M1765 1915h0M1570 1862h0M1595 1957h0M1717 1986h0M1672 1932h0M1578 1938h0M1744 1892h0M1664 1885h0M1570 2044h0M1735 1963h0M1737 1984h0M1594 1952h0M1638 1944h0M1633 2008h0M1731 1874h0M1715 2053h0M1641 2053h0M1745 1947h0M1752 2042h0M1637 1954h0M1605 1984h0M1614 1857h0M1605 1958h0M1693 1873h0M1758 1904h0M1690 1933h0M1563 2005h0M1677 1900h0M1615 2011h0M1568 1963h0M1707 1959h0M1637 1970h0M1630 1956h0M1577 1881h0M1629 1908h0M1592 2027h0M1593 2043h0M1710 1964h0M1638 1933h0M1745 2050h0M1564 1880h0M1691 1856h0M1620 1911h0M1719 2004h0M1651 1872h0M1746 1915h0M1765 1909h0M1695 2010h0M1736 1876h0M1645 1900h0M1709 1991h0M1659 2028h0M1612 1868h0M1725 2056h0M1625 1965h0M1611 2038h0M1713 1917h0M1620 1897h0M1623 1961h0M1598 2041h0M1680 1883h0M1764 2038h0M1622 2056h0M1724 1891h0M1644 1992h0M1698 2000h0M1592 1879h0M1709 1931h0M1592 1985h0M1690 2040h0M1631 2027h0M1748 1977h0M1650 1998h0M1624 2042h0M1745 2038h0M1634 1947h0M1757 2003h0M1653 2020h0M1569 2059h0M1711 2012h0M1633 1937h0M1742 1904h0M1730 1961h0M1581 1998h0M1571 1862h0M1693 1948h0M1697 1873h0M1625 2051h0M1739 2021h0M1679 1964h0M1604 2003h0M1733 2032h0M1609 1866h0M1719 2030h0M1609 1990h0M1739 1980h0M1591 1996h0M1663 1874h0M1621 1953h0M1697 1999h0M1679 1879h0M1602 2005h0M1748 2005h0M1711 1896h0M1651 1985h0M1584 1956h0M1642 1978h0M1711 1910h0M1687 1986h0M1597 1999h0M1741 1991h0M1651 1881h0M1610 1922h0M1709 2049h0M1717 2021h0M1662 2028h0M1635 1945h0M1631 1954h0M1741 1956h0M1650 2017h0M1643 1893h0M1600 1905h0M1569 1870h0M1626 1864h0M1752 1916h0M1762 1944h0M1657 1874h0M1651 2049h0M1650 1883h0M1736 2002h0M1697 1960h0M1564 2044h0M1749 2027h0M1565 1983h0M1711 2024h0M1633 1959h0M1654 2010h0M1653 1994h0M1721 1991h0M1580 1889h0M1611 2028h0M1603 1905h0M1760 1879h0M1618 1874h0M1685 1950h0M1672 1929h0M1674 1888h0M1695 2033h0M1563 1928h0M1728 1923h0M1607 2054h0M1601 2011h0M1612 1861h0M1628 2036h0M1709 1917h0M1621 1982h0M1572 1897h0M1623 1939h0M1737 1943h0M1572 1937h0M1749 1877h0M1709 2059h0M1670 1936h0M1717 2049h0M1737 1878h0M1699 2038h0M1631 1957h0M1721 2008h0M1588 2020h0M1661 1861h0M1598 1941h0M1691 1959h0M1716 2022h0M1684 1992h0M1645 2038h0M1743 1960h0M1613 1916h0M1587 1950h0M1698 2038h0M1728 1998h0M1749 2003h0M1572 1896h0M1561 1978h0M1761 2010h0M1731 1985h0M1639 1932h0M1614 1944h0M1579 1865h0M1663 2052h0M1584 1896h0M1761 1909h0M1685 2009h0M1661 2038h0M1597 1932h0M1762 1888h0M1563 2029h0M1641 1894h0M1715 1929h0M1612 1958h0M1663 1925h0M1680 1884h0M1621 2034h0M1632 2026h0M1716 2023h0M1761 1862h0M1727 1985h0M1562 1891h0M1695 1861h0M1656 1891h0M1757 1902h0M1722 1966h0M1723 2057h0M1741 1906h0M1621 1936h0M1567 1931h0M1676 1915h0M1594 1892h0M1642 1959h0M1634 1930h0M1652 2047h0M1692 1861h0M1679 2001h0M1563 1961h0M1586 1975h0M1669 1890h0M1657 2002h0M1609 2047h0M1754 1977h0M1702 1906h0M1577 2046h0M1724 1954h0M1626 2058h0M1644 1906h0M1669 1887h0M1765 1941h0M1606 1921h0M1586 2056h0M1731 1911h0M1753 1870h0M1579 1991h0M1609 2054h0M1659 1929h0M1574 2018h0M1690 2050h0M1610 2028h0M1567 2027h0M1582 2015h0M1681 1964h0M1605 2010h0M1660 2050h0M1648 1957h0M1712 1943h0M1714 1978h0M1600 1990h0M1580 1965h0M1594 1966h0M1660 1906h0M1604 2055h0M1668 1993h0M1567 1964h0M1631 1903h0M1681 1873h0M1636 1897h0M1637 1862h0M1610 1927h0M1644 1884h0M1704 1987h0M1618 2016h0M1692 1967h0M1634 1966h0M1649 2034h0M1595 1955h0M1622 1976h0M1583 2045h0M1760 1882h0M1676 2038h0M1579 1959h0M1662 1929h0M1730 1944h0M1706 1917h0M1735 1942h0M1565 2026h0M1756 1970h0M1732 1888h0M1595 1930h0M1717 2013h0M1592 1890h0M1745 1991h0M1562 1951h0M1616 1869h0M1611 1963h0M1682 1940h0M1664 1861h0" stroke="#20ecec" stroke-width="2.2" stroke-linecap="square"/>
</g>
<clipPath id="c24"><rect x="1771.3" y="1853.3" width="209.7" height="209"/></clipPath>
<g clip-path="url(#c24)">
<rect x="1771.3" y="1853.3" width="209.7" height="209" fill="#000"/>
<rect x="1771.3" y="1853.3" width="209.7" height="209" filter="url(#tex)"/>
<g fill="#000" opacity="0.5" filter="url(#vb2)"></g><g stroke="#fff" opacity="0.12" filter="url(#vb)"><ellipse cx="1872" cy="1863.8" rx="18.8" ry="14.5" fill="none" stroke-width="6"/><ellipse cx="1953.7" cy="1964.1" rx="11.4" ry="11.4" fill="none" stroke-width="6"/><path d="M1960 1978.7 L1964.2 2020.5" fill="none" stroke-width="17.4" stroke-linecap="round" stroke-linejoin="round"/><path d="M1809 1926.5 L1813.2 1978.7" fill="none" stroke-width="17.4" stroke-linecap="round" stroke-linejoin="round"/><ellipse cx="1804.9" cy="2041.4" rx="12.5" ry="12.5" fill="none" stroke-width="6"/><ellipse cx="1876.2" cy="2010.1" rx="10.4" ry="10.4" fill="none" stroke-width="6"/></g><g fill="#000" filter="url(#vb)"><ellipse cx="1872" cy="1863.8" rx="16.8" ry="12.5"/><ellipse cx="1953.7" cy="1964.1" rx="9.4" ry="9.4"/><path d="M1960 1978.7 L1964.2 2020.5" fill="none" stroke="#000" stroke-width="8.4" stroke-linecap="round" stroke-linejoin="round"/><path d="M1809 1926.5 L1813.2 1978.7" fill="none" stroke="#000" stroke-width="8.4" stroke-linecap="round" stroke-linejoin="round"/><ellipse cx="1804.9" cy="2041.4" rx="10.5" ry="10.5"/><ellipse cx="1876.2" cy="2010.1" rx="8.4" ry="8.4"/></g>
<path d="M1924 2004h0M1801 1918h0M1885 1992h0M1958 2054h0M1839 2020h0M1859 1897h0M1779 1908h0M1925 1868h0M1859 1912h0M1804 1859h0M1808 1965h0M1896 1894h0M1928 2060h0M1978 1876h0M1829 1872h0M1934 1948h0M1848 1881h0M1975 1968h0M1807 1899h0M1968 2031h0M1816 1929h0M1775 2039h0M1827 1878h0M1891 1969h0M1896 1924h0M1849 2046h0M1855 1981h0M1935 1906h0M1823 1870h0M1835 1993h0M1975 1993h0M1805 1935h0M1833 1930h0M1900 1865h0M1793 1949h0M1933 2054h0M1972 2014h0M1966 1979h0M1885 2019h0M1832 1963h0M1973 2017h0M1922 1897h0M1911 1969h0M1802 1950h0M1854 1982h0M1793 1888h0M1957 1975h0M1847 1875h0M1813 1906h0M1809 1897h0M1776 2043h0M1783 2034h0M1868 2056h0M1828 1922h0M1887 2032h0M1902 2020h0M1825 1940h0M1912 1875h0M1819 1900h0M1806 2015h0M1915 1900h0M1876 1976h0M1968 1926h0M1883 1995h0M1826 1909h0M1862 2020h0M1891 1901h0M1850 1896h0M1788 2055h0M1800 1894h0M1926 2013h0M1913 1929h0M1934 2036h0M1776 1904h0M1789 1973h0M1791 1944h0M1811 1961h0M1925 1962h0M1799 1899h0M1842 1862h0M1937 1883h0M1902 1902h0M1972 2019h0M1884 1875h0M1895 1997h0M1844 2048h0M1915 2049h0M1927 1867h0M1914 1875h0M1976 1988h0M1914 1988h0M1955 1879h0M1912 1988h0M1943 2028h0M1917 1975h0M1867 1997h0M1945 1862h0M1854 1892h0M1907 1934h0M1873 1910h0M1967 1907h0M1822 1900h0M1920 2016h0M1919 1929h0M1847 1955h0M1908 1899h0M1826 2004h0M1955 2001h0M1966 1960h0M1801 1987h0M1779 1933h0M1938 1929h0M1966 1871h0M1816 1923h0M1847 2060h0M1939 1991h0M1829 1992h0M1968 1893h0M1785 1950h0M1949 2058h0M1843 1866h0M1880 1948h0M1863 1974h0M1950 2040h0M1831 2011h0M1928 1910h0M1785 1910h0M1949 1913h0M1935 1963h0M1790 2045h0M1910 2013h0M1877 1928h0M1871 2046h0M1800 1906h0M1790 1984h0M1833 1905h0M1901 1925h0M1802 1878h0M1832 2024h0M1950 2056h0M1775 1875h0M1890 2045h0M1953 1902h0M1929 1975h0M1801 1880h0M1848 1970h0M1946 1953h0M1974 1923h0M1804 1893h0M1804 1994h0M1883 1892h0M1971 1912h0M1978 2048h0M1775 1855h0M1852 1928h0M1883 1991h0M1876 1982h0M1784 1939h0M1954 1974h0M1843 1921h0M1943 2029h0M1880 2046h0M1871 1990h0M1923 2018h0M1795 2027h0M1892 1944h0M1903 2028h0M1971 2042h0M1972 1947h0M1827 1953h0M1866 1888h0M1956 2060h0M1785 2025h0M1812 2049h0M1887 1926h0M1923 2044h0M1866 1908h0M1951 1976h0M1914 1856h0M1781 1898h0M1774 2035h0M1802 1894h0M1873 2057h0M1895 1924h0M1926 1984h0M1961 2053h0M1798 1864h0M1897 1994h0M1822 1943h0M1928 1972h0M1862 1886h0M1945 1969h0M1817 2058h0M1881 2034h0M1806 1896h0M1973 1940h0M1851 2052h0M1789 1900h0M1790 2025h0M1956 1894h0M1963 2026h0M1805 1876h0M1934 1945h0M1857 1924h0M1846 2030h0M1975 1936h0M1948 1923h0M1905 1909h0M1932 1991h0M1856 2018h0M1978 2009h0M1972 1916h0M1871 1866h0M1878 1916h0M1963 1861h0M1970 1911h0M1789 2059h0M1789 1951h0M1922 2053h0M1973 2035h0M1820 1868h0M1893 1988h0M1963 1964h0M1973 1976h0M1955 1907h0M1778 1977h0M1938 2049h0M1850 2043h0M1933 1987h0M1822 2006h0M1962 1857h0M1903 1941h0M1785 2013h0M1947 2056h0M1933 1868h0M1965 1878h0M1834 2058h0M1972 1928h0M1827 2026h0M1959 2039h0M1798 1973h0M1850 1974h0M1861 1968h0M1846 1891h0M1893 2005h0M1918 2029h0M1943 2031h0M1943 2057h0M1886 1862h0M1956 2047h0M1932 2026h0M1938 1964h0M1972 1949h0M1859 1904h0M1857 1859h0M1957 2046h0M1902 1927h0M1790 2003h0M1849 2032h0M1861 1950h0M1915 2015h0M1968 1961h0M1795 1939h0M1824 1981h0M1967 2028h0M1965 1977h0M1824 2014h0M1868 1985h0M1969 1974h0M1802 2030h0M1775 2050h0M1886 2037h0M1830 2031h0M1914 1979h0M1967 1952h0M1822 2038h0M1893 1959h0M1893 1950h0M1926 1914h0M1847 1911h0M1889 2021h0M1970 2020h0M1859 1944h0M1807 1944h0M1976 1980h0M1871 1952h0M1810 2027h0M1845 1917h0M1969 1885h0M1948 1910h0M1806 1948h0M1863 2058h0M1919 1871h0M1933 1868h0M1808 1920h0M1783 2004h0M1856 1865h0M1876 1941h0M1782 1970h0M1905 1870h0M1809 1872h0M1874 1903h0M1975 2032h0M1900 1904h0M1826 2039h0M1948 1922h0M1938 1880h0M1857 1936h0M1836 2008h0M1891 1913h0M1910 1892h0M1837 1896h0M1881 1921h0M1780 1879h0M1837 2034h0M1865 1903h0M1975 1928h0M1908 2007h0M1807 1964h0M1840 2005h0M1831 1882h0M1831 1965h0M1801 1912h0M1888 2053h0M1921 1998h0M1948 1867h0M1826 1929h0M1913 2008h0M1899 1881h0M1851 1972h0M1854 1870h0M1854 2015h0M1887 1860h0M1825 2017h0M1783 2003h0M1790 2057h0M1889 1991h0M1865 1967h0M1900 2007h0M1916 2041h0M1885 1873h0M1780 1871h0M1839 1871h0M1813 1904h0M1881 1897h0M1802 1930h0M1952 2037h0M1897 2034h0M1905 1968h0M1834 1896h0" stroke="#20ecec" stroke-width="2.2" stroke-linecap="square"/>
</g>
<clipPath id="c25"><rect x="1135" y="2064.9" width="209.9" height="209.9"/></clipPath>
<g clip-path="url(#c25)">
<rect x="1135" y="2064.9" width="209.9" height="209.9" fill="#000"/>
<rect x="1135" y="2064.9" width="209.9" height="209.9" filter="url(#tex)"/>
<g fill="#000" opacity="0.5" filter="url(#vb2)"><ellipse cx="1229.5" cy="2106.9" rx="84" ry="37.8"/></g><g stroke="#fff" opacity="0.12" filter="url(#vb)"><path d="M1145.5 2115.3 L1198 2111.1 L1240 2123.7" fill="none" stroke-width="16.3" stroke-linecap="round" stroke-linejoin="round"/><ellipse cx="1254.6" cy="2121.6" rx="14.6" ry="12.5" fill="none" stroke-width="6"/><path d="M1156 2130 L1208.5 2127.9" fill="none" stroke-width="13.2" stroke-linecap="round" stroke-linejoin="round"/></g><g fill="#000" filter="url(#vb)"><path d="M1145.5 2115.3 L1198 2111.1 L1240 2123.7" fill="none" stroke="#000" stroke-width="7.3" stroke-linecap="round" stroke-linejoin="round"/><ellipse cx="1254.6" cy="2121.6" rx="12.6" ry="10.5"/><path d="M1156 2130 L1208.5 2127.9" fill="none" stroke="#000" stroke-width="4.2" stroke-linecap="round" stroke-linejoin="round"/></g>
<path d="M1333 2194h0M1330 2150h0M1140 2194h0M1206 2249h0M1268 2237h0M1161 2084h0" stroke="#ffff00" stroke-width="2.2" stroke-linecap="square"/>
</g>
<clipPath id="c26"><rect x="1347" y="2064.9" width="209.8" height="209.9"/></clipPath>
<g clip-path="url(#c26)">
<rect x="1347" y="2064.9" width="209.8" height="209.9" fill="#000"/>
<rect x="1347" y="2064.9" width="209.8" height="209.9" filter="url(#tex)"/>
<g fill="#000" opacity="0.5" filter="url(#vb2)"></g><g stroke="#fff" opacity="0.12" filter="url(#vb)"><ellipse cx="1359.6" cy="2111.1" rx="16.7" ry="31.4" fill="none" stroke-width="6"/><ellipse cx="1393.2" cy="2117.4" rx="15.6" ry="27.2" fill="none" stroke-width="6"/><ellipse cx="1441.4" cy="2069.1" rx="35.6" ry="12.5" fill="none" stroke-width="6"/><ellipse cx="1548.4" cy="2081.7" rx="14.6" ry="23" fill="none" stroke-width="6"/><ellipse cx="1389" cy="2192.9" rx="23" ry="29.3" fill="none" stroke-width="6"/><ellipse cx="1503.3" cy="2195" rx="17.7" ry="35.6" fill="none" stroke-width="6"/><ellipse cx="1493.9" cy="2117.4" rx="11.4" ry="16.7" fill="none" stroke-width="6"/><path d="M1409.9 2163.6 L1441.4 2169.9" fill="none" stroke-width="17.4" stroke-linecap="round" stroke-linejoin="round"/><ellipse cx="1552.6" cy="2264.3" rx="10.4" ry="12.5" fill="none" stroke-width="6"/><path d="M1531.6 2090.1 L1535.8 2144.7" fill="none" stroke-width="16.3" stroke-linecap="round" stroke-linejoin="round"/></g><g fill="#000" filter="url(#vb)"><ellipse cx="1359.6" cy="2111.1" rx="14.7" ry="29.4"/><ellipse cx="1393.2" cy="2117.4" rx="13.6" ry="25.2"/><ellipse cx="1441.4" cy="2069.1" rx="33.6" ry="10.5"/><ellipse cx="1548.4" cy="2081.7" rx="12.6" ry="21"/><ellipse cx="1389" cy="2192.9" rx="21" ry="27.3"/><ellipse cx="1503.3" cy="2195" rx="15.7" ry="33.6"/><ellipse cx="1493.9" cy="2117.4" rx="9.4" ry="14.7"/><path d="M1409.9 2163.6 L1441.4 2169.9" fill="none" stroke="#000" stroke-width="8.4" stroke-linecap="round" stroke-linejoin="round"/><ellipse cx="1552.6" cy="2264.3" rx="8.4" ry="10.5"/><path d="M1531.6 2090.1 L1535.8 2144.7" fill="none" stroke="#000" stroke-width="7.3" stroke-linecap="round" stroke-linejoin="round"/></g>
<path d="M1521 2133h0M1384 2246h0M1479 2201h0M1445 2266h0M1486 2187h0M1528 2221h0M1528 2236h0M1357 2179h0M1535 2217h0M1507 2232h0M1460 2237h0M1396 2096h0M1469 2265h0M1493 2171h0M1353 2213h0M1458 2271h0M1514 2130h0M1490 2166h0" stroke="#ffff00" stroke-width="2.2" stroke-linecap="square"/>
</g>
<clipPath id="c27"><rect x="1558.8" y="2064.9" width="209.9" height="209.9"/></clipPath>
<g clip-path="url(#c27)">
<rect x="1558.8" y="2064.9" width="209.9" height="209.9" fill="#000"/>
<rect x="1558.8" y="2064.9" width="209.9" height="209.9" filter="url(#tex)"/>
<g fill="#000" opacity="0.5" filter="url(#vb2)"><ellipse cx="1709.9" cy="2228.6" rx="16.8" ry="25.2"/></g><g stroke="#fff" opacity="0.12" filter="url(#vb)"><path d="M1718.3 2085.9 L1722.5 2117.4 L1716.2 2144.7" fill="none" stroke-width="19.5" stroke-linecap="round" stroke-linejoin="round"/><ellipse cx="1611.3" cy="2090.1" rx="10.4" ry="10.4" fill="none" stroke-width="6"/><ellipse cx="1590.3" cy="2111.1" rx="8.3" ry="8.3" fill="none" stroke-width="6"/><path d="M1663.8 2180.3 L1663.8 2201.3" fill="none" stroke-width="15.3" stroke-linecap="round" stroke-linejoin="round"/><path d="M1558.8 2132.1 L1579.8 2134.2" fill="none" stroke-width="15.3" stroke-linecap="round" stroke-linejoin="round"/></g><g fill="#000" filter="url(#vb)"><path d="M1718.3 2085.9 L1722.5 2117.4 L1716.2 2144.7" fill="none" stroke="#000" stroke-width="10.5" stroke-linecap="round" stroke-linejoin="round"/><ellipse cx="1611.3" cy="2090.1" rx="8.4" ry="8.4"/><ellipse cx="1590.3" cy="2111.1" rx="6.3" ry="6.3"/><path d="M1663.8 2180.3 L1663.8 2201.3" fill="none" stroke="#000" stroke-width="6.3" stroke-linecap="round" stroke-linejoin="round"/><path d="M1558.8 2132.1 L1579.8 2134.2" fill="none" stroke="#000" stroke-width="6.3" stroke-linecap="round" stroke-linejoin="round"/></g>
<path d="M1612 2176h0M1680 2211h0M1642 2066h0M1709 2116h0M1686 2104h0M1602 2228h0M1739 2176h0M1639 2216h0M1763 2273h0M1673 2143h0M1751 2200h0M1579 2169h0M1677 2096h0M1700 2112h0M1689 2179h0M1618 2186h0M1753 2177h0M1687 2266h0M1703 2142h0M1697 2163h0M1654 2212h0M1567 2197h0M1585 2144h0M1743 2225h0M1732 2245h0M1629 2227h0M1563 2115h0M1636 2146h0M1762 2110h0M1565 2213h0M1641 2087h0M1584 2255h0M1738 2147h0M1661 2114h0M1699 2138h0M1583 2186h0M1587 2248h0M1632 2193h0M1748 2133h0M1660 2153h0M1567 2070h0M1583 2250h0M1646 2086h0M1695 2197h0M1693 2107h0M1637 2181h0M1683 2268h0M1597 2125h0M1665 2240h0M1703 2067h0M1623 2107h0M1630 2074h0M1706 2204h0M1651 2099h0M1765 2201h0" stroke="#ffff00" stroke-width="2.2" stroke-linecap="square"/>
</g>
<clipPath id="c28"><rect x="1771.3" y="2064.9" width="209.7" height="209.9"/></clipPath>
<g clip-path="url(#c28)">
<rect x="1771.3" y="2064.9" width="209.7" height="209.9" fill="#000"/>
<rect x="1771.3" y="2064.9" width="209.7" height="209.9" filter="url(#tex)"/>
<g fill="#000" opacity="0.5" filter="url(#vb2)"></g><g stroke="#fff" opacity="0.12" filter="url(#vb)"><ellipse cx="1872" cy="2075.4" rx="18.8" ry="14.6" fill="none" stroke-width="6"/><ellipse cx="1953.7" cy="2176.1" rx="11.4" ry="11.4" fill="none" stroke-width="6"/><path d="M1960 2190.8 L1964.2 2232.8" fill="none" stroke-width="17.4" stroke-linecap="round" stroke-linejoin="round"/><path d="M1809 2138.4 L1813.2 2190.8" fill="none" stroke-width="17.4" stroke-linecap="round" stroke-linejoin="round"/><ellipse cx="1804.9" cy="2253.8" rx="12.5" ry="12.5" fill="none" stroke-width="6"/><ellipse cx="1876.2" cy="2222.3" rx="10.4" ry="10.4" fill="none" stroke-width="6"/></g><g fill="#000" filter="url(#vb)"><ellipse cx="1872" cy="2075.4" rx="16.8" ry="12.6"/><ellipse cx="1953.7" cy="2176.1" rx="9.4" ry="9.4"/><path d="M1960 2190.8 L1964.2 2232.8" fill="none" stroke="#000" stroke-width="8.4" stroke-linecap="round" stroke-linejoin="round"/><path d="M1809 2138.4 L1813.2 2190.8" fill="none" stroke="#000" stroke-width="8.4" stroke-linecap="round" stroke-linejoin="round"/><ellipse cx="1804.9" cy="2253.8" rx="10.5" ry="10.5"/><ellipse cx="1876.2" cy="2222.3" rx="8.4" ry="8.4"/></g>
<path d="M1887 2139h0M1976 2083h0M1884 2137h0M1825 2265h0M1841 2231h0M1955 2086h0M1783 2120h0M1853 2166h0M1959 2267h0M1825 2161h0M1872 2266h0M1780 2103h0M1787 2202h0M1975 2071h0M1978 2124h0M1909 2257h0M1804 2066h0M1823 2141h0M1870 2142h0M1885 2262h0M1787 2075h0M1977 2235h0M1928 2263h0M1979 2168h0M1886 2084h0M1918 2071h0M1895 2174h0M1853 2195h0M1899 2128h0M1828 2100h0M1944 2210h0M1871 2125h0M1977 2200h0M1908 2106h0M1792 2070h0M1950 2250h0M1976 2205h0M1887 2074h0M1909 2220h0M1918 2165h0M1878 2163h0M1974 2226h0M1905 2144h0M1886 2211h0M1935 2154h0" stroke="#ffff00" stroke-width="2.2" stroke-linecap="square"/>
</g>
<clipPath id="c29"><rect x="1135" y="2277.3" width="209.9" height="209.4"/></clipPath>
<g clip-path="url(#c29)">
<rect x="1135" y="2277.3" width="209.9" height="209.4" fill="#000"/>
<rect x="1135" y="2277.3" width="209.9" height="209.4" filter="url(#tex)"/>
<g fill="#000" opacity="0.5" filter="url(#vb2)"><ellipse cx="1229.5" cy="2319.2" rx="84" ry="37.7"/></g><g stroke="#fff" opacity="0.12" filter="url(#vb)"><path d="M1145.5 2327.6 L1198 2323.4 L1240 2335.9" fill="none" stroke-width="16.3" stroke-linecap="round" stroke-linejoin="round"/><ellipse cx="1254.6" cy="2333.8" rx="14.6" ry="12.5" fill="none" stroke-width="6"/><path d="M1156 2342.2 L1208.5 2340.1" fill="none" stroke-width="13.2" stroke-linecap="round" stroke-linejoin="round"/></g><g fill="#000" filter="url(#vb)"><path d="M1145.5 2327.6 L1198 2323.4 L1240 2335.9" fill="none" stroke="#000" stroke-width="7.3" stroke-linecap="round" stroke-linejoin="round"/><ellipse cx="1254.6" cy="2333.8" rx="12.6" ry="10.5"/><path d="M1156 2342.2 L1208.5 2340.1" fill="none" stroke="#000" stroke-width="4.2" stroke-linecap="round" stroke-linejoin="round"/></g>
<path d="M1251 2318h0M1190 2338h0M1258 2458h0M1245 2442h0M1202 2366h0M1290 2454h0M1181 2411h0M1170 2425h0M1308 2477h0M1273 2395h0M1200 2420h0M1213 2339h0M1234 2298h0M1147 2298h0M1300 2469h0M1235 2435h0M1287 2364h0M1302 2336h0M1259 2382h0M1239 2375h0M1271 2402h0M1210 2470h0M1286 2309h0M1280 2380h0M1337 2383h0M1156 2445h0M1287 2466h0M1249 2440h0M1264 2355h0M1145 2352h0M1259 2378h0M1267 2415h0M1196 2413h0M1308 2437h0M1307 2324h0M1289 2362h0M1162 2323h0M1203 2438h0M1143 2322h0M1242 2373h0M1149 2295h0M1314 2463h0M1281 2328h0M1291 2425h0M1221 2343h0M1271 2357h0M1231 2311h0M1189 2386h0M1229 2386h0M1168 2405h0M1162 2401h0M1194 2398h0M1196 2299h0M1143 2438h0M1184 2387h0M1197 2279h0M1293 2406h0M1154 2307h0M1301 2416h0M1338 2370h0M1323 2315h0M1321 2334h0M1173 2410h0M1181 2385h0M1336 2304h0M1209 2446h0M1142 2334h0M1240 2281h0M1146 2433h0M1153 2409h0M1242 2347h0M1137 2335h0M1141 2459h0M1183 2391h0M1304 2466h0M1233 2417h0M1325 2291h0M1262 2341h0M1203 2439h0M1192 2303h0M1187 2291h0M1175 2441h0M1276 2329h0M1221 2453h0M1229 2438h0M1282 2477h0M1228 2440h0M1268 2293h0M1278 2438h0M1286 2445h0M1252 2390h0M1234 2386h0M1178 2455h0M1210 2321h0M1185 2284h0M1212 2467h0M1337 2380h0M1335 2394h0M1143 2429h0M1311 2464h0M1311 2279h0M1266 2293h0M1212 2425h0M1195 2303h0M1245 2459h0M1297 2361h0M1171 2468h0M1320 2405h0M1324 2328h0M1273 2369h0M1327 2289h0M1196 2313h0M1235 2378h0M1165 2388h0M1339 2296h0M1340 2403h0M1308 2420h0M1144 2309h0M1229 2349h0M1214 2314h0M1209 2437h0M1249 2378h0M1259 2413h0M1168 2415h0M1282 2306h0M1217 2320h0M1289 2350h0M1307 2365h0M1138 2282h0M1280 2395h0M1254 2293h0M1330 2362h0M1200 2474h0M1250 2398h0M1150 2305h0M1225 2349h0M1247 2327h0M1341 2397h0M1265 2305h0M1261 2391h0M1264 2366h0M1301 2405h0M1298 2476h0M1238 2346h0M1337 2315h0M1198 2321h0M1262 2353h0M1159 2363h0M1279 2318h0M1337 2478h0M1221 2351h0M1307 2371h0M1288 2465h0M1243 2408h0M1300 2394h0M1185 2340h0M1299 2467h0M1335 2456h0M1259 2285h0M1221 2335h0M1159 2341h0M1242 2485h0M1172 2384h0M1300 2419h0M1296 2362h0M1137 2431h0M1256 2439h0M1164 2311h0M1294 2377h0M1202 2308h0M1189 2329h0M1166 2412h0M1154 2333h0M1205 2335h0M1163 2324h0M1299 2280h0M1267 2403h0M1228 2364h0M1298 2469h0M1267 2410h0" stroke="#ff2020" stroke-width="2.2" stroke-linecap="square"/>
<path d="M1229 2409h0M1227 2345h0M1223 2297h0M1242 2441h0M1210 2408h0M1252 2378h0M1172 2378h0M1239 2284h0M1314 2431h0M1266 2331h0M1267 2455h0M1230 2463h0M1309 2314h0M1221 2296h0M1253 2408h0M1236 2357h0M1230 2319h0M1335 2407h0M1323 2357h0M1218 2314h0M1203 2302h0M1187 2366h0M1294 2367h0M1244 2370h0M1335 2438h0M1276 2458h0M1188 2460h0M1207 2303h0M1258 2324h0M1310 2419h0M1317 2321h0M1167 2301h0M1300 2360h0M1290 2341h0M1273 2410h0M1216 2314h0M1331 2367h0M1269 2406h0M1143 2401h0M1280 2396h0M1181 2456h0M1143 2292h0M1154 2359h0M1259 2464h0M1145 2452h0" stroke="#20ecec" stroke-width="2.2" stroke-linecap="square"/>
<path d="M1333 2406h0M1330 2362h0M1140 2406h0M1206 2461h0M1268 2449h0M1161 2296h0" stroke="#ffff00" stroke-width="2.2" stroke-linecap="square"/>
</g>
<clipPath id="c30"><rect x="1347" y="2277.3" width="209.8" height="209.4"/></clipPath>
<g clip-path="url(#c30)">
<rect x="1347" y="2277.3" width="209.8" height="209.4" fill="#000"/>
<rect x="1347" y="2277.3" width="209.8" height="209.4" filter="url(#tex)"/>
<g fill="#000" opacity="0.5" filter="url(#vb2)"></g><g stroke="#fff" opacity="0.12" filter="url(#vb)"><ellipse cx="1359.6" cy="2323.4" rx="16.7" ry="31.3" fill="none" stroke-width="6"/><ellipse cx="1393.2" cy="2329.7" rx="15.6" ry="27.1" fill="none" stroke-width="6"/><ellipse cx="1441.4" cy="2281.5" rx="35.6" ry="12.5" fill="none" stroke-width="6"/><ellipse cx="1548.4" cy="2294.1" rx="14.6" ry="22.9" fill="none" stroke-width="6"/><ellipse cx="1389" cy="2405" rx="23" ry="29.2" fill="none" stroke-width="6"/><ellipse cx="1503.3" cy="2407.1" rx="17.7" ry="35.5" fill="none" stroke-width="6"/><ellipse cx="1493.9" cy="2329.7" rx="11.4" ry="16.7" fill="none" stroke-width="6"/><path d="M1409.9 2375.7 L1441.4 2382" fill="none" stroke-width="17.4" stroke-linecap="round" stroke-linejoin="round"/><ellipse cx="1552.6" cy="2476.2" rx="10.4" ry="12.5" fill="none" stroke-width="6"/><path d="M1531.6 2302.4 L1535.8 2356.9" fill="none" stroke-width="16.3" stroke-linecap="round" stroke-linejoin="round"/></g><g fill="#000" filter="url(#vb)"><ellipse cx="1359.6" cy="2323.4" rx="14.7" ry="29.3"/><ellipse cx="1393.2" cy="2329.7" rx="13.6" ry="25.1"/><ellipse cx="1441.4" cy="2281.5" rx="33.6" ry="10.5"/><ellipse cx="1548.4" cy="2294.1" rx="12.6" ry="20.9"/><ellipse cx="1389" cy="2405" rx="21" ry="27.2"/><ellipse cx="1503.3" cy="2407.1" rx="15.7" ry="33.5"/><ellipse cx="1493.9" cy="2329.7" rx="9.4" ry="14.7"/><path d="M1409.9 2375.7 L1441.4 2382" fill="none" stroke="#000" stroke-width="8.4" stroke-linecap="round" stroke-linejoin="round"/><ellipse cx="1552.6" cy="2476.2" rx="8.4" ry="10.5"/><path d="M1531.6 2302.4 L1535.8 2356.9" fill="none" stroke="#000" stroke-width="7.3" stroke-linecap="round" stroke-linejoin="round"/></g>
<path d="M1518 2332h0M1363 2369h0M1459 2326h0M1415 2342h0M1467 2404h0M1403 2343h0M1509 2468h0M1402 2304h0M1540 2484h0M1360 2369h0M1367 2398h0M1476 2338h0M1413 2469h0M1536 2460h0M1420 2341h0M1514 2440h0M1466 2459h0M1372 2384h0M1412 2409h0M1460 2485h0M1488 2409h0M1502 2470h0M1525 2425h0M1413 2403h0M1465 2457h0M1420 2320h0M1406 2370h0M1357 2482h0M1498 2367h0M1395 2374h0M1458 2350h0M1429 2336h0M1431 2301h0M1464 2443h0M1527 2463h0M1390 2471h0M1553 2345h0M1367 2293h0M1475 2330h0M1451 2326h0M1484 2409h0M1454 2411h0M1353 2366h0M1440 2399h0M1493 2452h0M1473 2358h0M1433 2421h0M1358 2425h0M1449 2299h0M1384 2429h0M1433 2415h0M1486 2479h0M1352 2484h0M1530 2285h0M1504 2292h0M1513 2368h0M1504 2305h0M1403 2370h0M1454 2452h0M1516 2422h0M1454 2414h0M1478 2386h0M1429 2349h0M1434 2435h0M1370 2479h0M1429 2367h0M1472 2301h0M1445 2312h0M1459 2480h0M1529 2434h0M1455 2450h0M1393 2287h0M1354 2371h0M1414 2409h0M1410 2412h0M1540 2453h0M1451 2388h0M1379 2285h0M1481 2331h0M1393 2441h0M1396 2286h0M1550 2402h0M1543 2371h0M1527 2465h0M1514 2463h0M1430 2483h0M1454 2466h0M1460 2340h0M1359 2362h0M1546 2359h0M1471 2293h0M1433 2292h0M1537 2434h0M1451 2436h0M1360 2473h0M1371 2402h0M1413 2464h0M1454 2455h0M1549 2398h0M1430 2336h0M1373 2336h0M1543 2335h0M1399 2431h0M1551 2320h0M1490 2367h0M1460 2484h0M1526 2314h0M1550 2437h0M1537 2383h0M1410 2390h0M1452 2389h0M1551 2387h0M1355 2375h0M1469 2367h0M1400 2331h0M1541 2357h0M1418 2474h0M1472 2484h0M1503 2400h0M1480 2407h0M1418 2297h0M1424 2373h0M1385 2372h0M1487 2420h0M1534 2408h0M1404 2468h0M1521 2298h0M1435 2471h0M1536 2336h0M1468 2421h0M1366 2353h0M1400 2371h0M1504 2464h0M1452 2393h0M1442 2479h0M1384 2295h0M1516 2362h0M1372 2309h0M1461 2386h0M1392 2483h0M1468 2409h0M1428 2471h0M1461 2398h0M1434 2426h0M1375 2376h0M1388 2291h0M1514 2339h0M1385 2366h0M1362 2453h0M1421 2320h0M1424 2387h0M1396 2464h0M1453 2381h0M1470 2423h0M1490 2477h0M1354 2450h0M1523 2403h0M1502 2358h0M1357 2365h0M1386 2291h0M1527 2395h0M1379 2439h0M1543 2438h0M1534 2417h0M1523 2429h0M1357 2457h0M1360 2394h0M1515 2290h0M1464 2467h0M1539 2386h0M1355 2355h0M1505 2456h0M1473 2379h0M1509 2478h0M1385 2483h0M1449 2347h0M1381 2316h0M1445 2297h0M1371 2485h0M1544 2470h0M1455 2393h0M1550 2405h0M1381 2293h0M1355 2363h0M1402 2482h0M1442 2422h0M1501 2352h0M1364 2393h0M1506 2284h0M1389 2458h0M1464 2342h0M1526 2337h0M1365 2369h0M1349 2300h0M1350 2306h0M1375 2465h0M1507 2325h0M1544 2342h0M1433 2389h0M1514 2426h0M1367 2393h0M1472 2409h0M1546 2402h0M1357 2427h0M1527 2427h0M1501 2374h0M1505 2368h0M1412 2354h0M1455 2385h0M1541 2484h0M1533 2387h0M1456 2413h0M1414 2434h0M1529 2429h0M1388 2485h0M1454 2325h0M1450 2464h0M1446 2430h0M1374 2434h0M1404 2295h0M1404 2422h0M1496 2292h0M1493 2338h0M1457 2484h0M1543 2344h0M1373 2392h0M1363 2368h0M1400 2363h0M1553 2387h0M1534 2298h0M1550 2401h0M1528 2327h0M1477 2318h0M1544 2340h0M1422 2426h0M1367 2436h0M1540 2452h0M1365 2396h0M1415 2484h0M1454 2439h0M1546 2335h0M1354 2470h0M1539 2395h0M1408 2295h0M1462 2485h0M1500 2309h0M1435 2434h0M1458 2474h0M1390 2452h0M1412 2397h0M1527 2320h0M1398 2300h0M1371 2399h0M1371 2356h0M1381 2473h0M1437 2296h0M1411 2286h0M1397 2286h0M1402 2357h0M1366 2320h0M1545 2385h0M1377 2407h0M1394 2294h0M1351 2302h0M1470 2470h0M1448 2371h0M1409 2324h0M1519 2342h0M1501 2370h0M1420 2469h0M1515 2389h0M1404 2421h0M1385 2445h0M1553 2408h0M1407 2287h0M1506 2357h0M1410 2331h0M1527 2456h0M1386 2288h0M1351 2402h0M1512 2302h0M1479 2302h0M1529 2454h0M1396 2428h0M1379 2279h0M1503 2374h0M1445 2398h0M1353 2355h0M1552 2455h0M1450 2365h0M1401 2286h0M1475 2434h0M1442 2340h0M1452 2480h0M1369 2419h0M1477 2426h0M1525 2384h0M1416 2453h0M1555 2310h0M1461 2374h0" stroke="#ff2020" stroke-width="2.2" stroke-linecap="square"/>
<path d="M1405 2305h0M1465 2370h0M1548 2481h0M1443 2438h0M1486 2366h0M1395 2436h0M1536 2478h0M1539 2468h0M1355 2399h0M1549 2380h0M1549 2324h0M1546 2427h0M1554 2445h0M1419 2331h0M1499 2471h0M1522 2318h0M1539 2360h0M1460 2471h0M1508 2318h0M1492 2466h0M1510 2377h0M1408 2308h0M1380 2468h0M1436 2295h0M1552 2316h0M1508 2285h0M1367 2392h0M1529 2374h0M1526 2483h0M1456 2472h0M1448 2343h0M1471 2364h0M1408 2370h0M1372 2414h0M1483 2397h0M1460 2306h0M1467 2352h0M1490 2425h0M1539 2463h0M1475 2457h0M1389 2300h0M1486 2454h0M1414 2344h0M1472 2282h0M1532 2366h0M1545 2344h0M1421 2339h0M1476 2420h0M1537 2418h0M1524 2354h0M1505 2478h0M1488 2380h0M1417 2456h0M1432 2453h0M1495 2473h0M1516 2338h0M1378 2340h0M1508 2306h0M1475 2318h0M1542 2407h0M1424 2442h0M1405 2363h0M1404 2386h0M1349 2388h0M1472 2318h0M1487 2362h0M1421 2349h0M1494 2352h0M1529 2319h0M1479 2305h0" stroke="#20ecec" stroke-width="2.2" stroke-linecap="square"/>
<path d="M1521 2345h0M1384 2458h0M1479 2413h0M1445 2478h0M1486 2399h0M1528 2433h0M1528 2448h0M1357 2391h0M1535 2429h0M1507 2444h0M1460 2449h0M1396 2309h0M1469 2477h0M1493 2383h0M1353 2425h0M1458 2483h0M1514 2343h0M1490 2378h0" stroke="#ffff00" stroke-width="2.2" stroke-linecap="square"/>
</g>
<clipPath id="c31"><rect x="1558.8" y="2277.3" width="209.9" height="209.4"/></clipPath>
<g clip-path="url(#c31)">
<rect x="1558.8" y="2277.3" width="209.9" height="209.4" fill="#000"/>
<rect x="1558.8" y="2277.3" width="209.9" height="209.4" filter="url(#tex)"/>
<g fill="#000" opacity="0.5" filter="url(#vb2)"><ellipse cx="1709.9" cy="2440.6" rx="16.8" ry="25.1"/></g><g stroke="#fff" opacity="0.12" filter="url(#vb)"><path d="M1718.3 2298.2 L1722.5 2329.7 L1716.2 2356.9" fill="none" stroke-width="19.5" stroke-linecap="round" stroke-linejoin="round"/><ellipse cx="1611.3" cy="2302.4" rx="10.4" ry="10.4" fill="none" stroke-width="6"/><ellipse cx="1590.3" cy="2323.4" rx="8.3" ry="8.3" fill="none" stroke-width="6"/><path d="M1663.8 2392.5 L1663.8 2413.4" fill="none" stroke-width="15.3" stroke-linecap="round" stroke-linejoin="round"/><path d="M1558.8 2344.3 L1579.8 2346.4" fill="none" stroke-width="15.3" stroke-linecap="round" stroke-linejoin="round"/></g><g fill="#000" filter="url(#vb)"><path d="M1718.3 2298.2 L1722.5 2329.7 L1716.2 2356.9" fill="none" stroke="#000" stroke-width="10.5" stroke-linecap="round" stroke-linejoin="round"/><ellipse cx="1611.3" cy="2302.4" rx="8.4" ry="8.4"/><ellipse cx="1590.3" cy="2323.4" rx="6.3" ry="6.3"/><path d="M1663.8 2392.5 L1663.8 2413.4" fill="none" stroke="#000" stroke-width="6.3" stroke-linecap="round" stroke-linejoin="round"/><path d="M1558.8 2344.3 L1579.8 2346.4" fill="none" stroke="#000" stroke-width="6.3" stroke-linecap="round" stroke-linejoin="round"/></g>
<path d="M1695 2414h0M1567 2309h0M1761 2319h0M1703 2370h0M1760 2421h0M1629 2311h0M1626 2455h0M1766 2437h0M1594 2427h0M1613 2444h0M1617 2321h0M1598 2467h0M1624 2371h0M1600 2410h0M1766 2449h0M1703 2313h0M1693 2402h0M1601 2454h0M1601 2430h0M1704 2418h0M1750 2323h0M1624 2425h0M1719 2383h0M1690 2353h0M1733 2440h0M1561 2469h0M1744 2294h0M1716 2470h0M1622 2348h0M1750 2419h0M1746 2435h0M1620 2425h0M1755 2298h0M1626 2319h0M1602 2448h0M1593 2460h0M1647 2437h0M1588 2397h0M1651 2288h0M1679 2480h0M1614 2459h0M1712 2335h0M1744 2324h0M1618 2408h0M1669 2386h0M1679 2388h0M1744 2413h0M1755 2338h0M1610 2384h0M1604 2483h0M1630 2449h0M1630 2422h0M1659 2371h0M1632 2473h0M1591 2352h0M1634 2431h0M1660 2464h0M1641 2333h0M1644 2420h0M1566 2484h0M1743 2282h0M1586 2444h0M1709 2337h0M1627 2373h0M1637 2441h0M1637 2400h0M1687 2363h0M1618 2284h0M1678 2390h0M1630 2378h0M1652 2344h0M1600 2350h0M1734 2420h0M1740 2462h0M1686 2460h0M1609 2318h0M1746 2406h0M1687 2433h0M1587 2454h0M1702 2379h0M1639 2366h0M1617 2419h0M1642 2459h0M1716 2323h0M1654 2319h0M1678 2444h0M1642 2365h0M1743 2316h0M1767 2440h0M1720 2385h0M1700 2363h0M1705 2365h0M1577 2393h0M1762 2404h0M1692 2325h0M1664 2407h0M1641 2421h0M1633 2421h0M1575 2460h0M1595 2283h0M1714 2338h0M1667 2355h0M1613 2371h0M1702 2399h0M1625 2372h0M1586 2353h0M1566 2472h0M1564 2423h0M1579 2357h0M1568 2432h0M1757 2473h0M1740 2476h0M1757 2392h0M1644 2480h0M1759 2479h0M1621 2401h0M1683 2443h0M1661 2480h0M1563 2454h0M1669 2354h0M1694 2308h0M1655 2476h0M1624 2475h0M1762 2410h0M1738 2413h0M1725 2416h0M1618 2335h0M1679 2351h0M1714 2455h0M1626 2437h0M1615 2438h0M1657 2284h0M1742 2384h0M1640 2425h0M1580 2390h0M1758 2400h0M1653 2455h0M1614 2357h0M1588 2349h0M1616 2398h0M1614 2382h0M1712 2422h0M1646 2425h0M1624 2474h0M1759 2348h0M1586 2283h0M1666 2329h0M1609 2349h0M1710 2310h0M1692 2325h0M1622 2343h0M1593 2473h0M1675 2451h0M1676 2432h0M1733 2408h0M1741 2345h0M1636 2291h0M1692 2372h0M1767 2340h0M1619 2308h0M1737 2475h0M1719 2315h0M1611 2340h0M1620 2407h0M1606 2441h0M1631 2460h0M1676 2465h0M1571 2450h0M1580 2412h0M1743 2298h0M1615 2422h0M1730 2478h0M1689 2319h0M1744 2402h0M1612 2421h0M1643 2407h0M1629 2459h0M1591 2438h0M1617 2433h0M1696 2406h0M1587 2327h0M1731 2405h0M1726 2357h0M1570 2408h0M1644 2330h0M1611 2285h0M1754 2449h0M1669 2386h0M1748 2458h0M1712 2480h0M1568 2376h0M1717 2437h0M1745 2417h0M1582 2446h0M1682 2358h0M1598 2421h0M1742 2416h0M1614 2483h0M1663 2356h0M1588 2481h0M1653 2454h0M1620 2334h0M1586 2448h0M1758 2325h0M1639 2452h0M1625 2413h0M1735 2345h0M1569 2390h0M1666 2391h0M1581 2331h0M1598 2312h0M1711 2410h0M1642 2381h0M1754 2343h0M1620 2295h0M1630 2439h0M1692 2404h0M1614 2322h0M1625 2444h0M1609 2452h0M1743 2317h0M1571 2415h0M1628 2453h0M1734 2340h0M1724 2440h0M1694 2464h0M1647 2319h0M1765 2482h0M1606 2363h0M1693 2320h0M1727 2444h0M1751 2336h0M1614 2279h0M1645 2282h0M1670 2472h0M1725 2298h0M1632 2346h0M1633 2473h0M1747 2349h0M1699 2287h0M1610 2413h0M1675 2386h0M1710 2323h0M1619 2284h0M1652 2345h0M1702 2359h0M1758 2383h0M1608 2468h0M1605 2315h0M1709 2478h0M1729 2286h0M1582 2342h0M1648 2461h0M1583 2485h0M1761 2399h0M1657 2480h0M1760 2461h0M1753 2383h0M1754 2382h0M1736 2358h0M1657 2362h0M1618 2461h0M1735 2365h0M1732 2353h0M1732 2484h0M1740 2312h0M1633 2433h0M1638 2374h0M1631 2344h0M1581 2402h0M1702 2454h0M1674 2379h0M1723 2412h0M1614 2400h0M1583 2315h0M1689 2287h0M1743 2409h0M1578 2370h0M1663 2441h0M1627 2458h0M1739 2452h0M1657 2316h0M1715 2467h0M1676 2413h0M1721 2386h0M1688 2427h0M1736 2343h0M1636 2393h0M1640 2425h0M1750 2392h0M1703 2397h0M1714 2322h0M1755 2361h0M1564 2384h0M1616 2451h0M1639 2463h0M1732 2380h0M1578 2397h0M1690 2461h0M1624 2431h0M1738 2304h0M1640 2427h0M1674 2349h0M1708 2473h0M1566 2426h0M1649 2343h0M1603 2313h0M1765 2321h0M1618 2380h0M1562 2412h0M1683 2279h0M1740 2416h0M1688 2308h0M1714 2376h0M1754 2404h0M1760 2350h0M1596 2377h0M1751 2308h0M1694 2447h0M1654 2406h0M1751 2465h0M1614 2355h0M1564 2284h0M1654 2379h0M1665 2417h0M1748 2376h0M1568 2282h0M1695 2403h0M1726 2313h0M1726 2470h0M1704 2283h0M1712 2435h0M1739 2319h0M1607 2321h0M1755 2482h0M1618 2315h0M1746 2312h0M1695 2455h0M1697 2366h0M1638 2413h0M1751 2466h0M1709 2374h0M1749 2282h0M1711 2367h0M1721 2390h0M1730 2373h0M1706 2416h0M1576 2440h0M1613 2404h0M1714 2439h0M1689 2353h0M1686 2412h0M1678 2305h0M1671 2438h0M1632 2420h0M1685 2365h0M1737 2477h0M1633 2334h0M1715 2450h0M1724 2296h0M1741 2430h0M1684 2322h0M1742 2434h0M1759 2357h0M1665 2312h0M1761 2404h0M1654 2378h0M1568 2314h0M1670 2468h0M1631 2359h0M1681 2295h0M1701 2358h0M1756 2320h0M1753 2454h0M1602 2325h0M1733 2329h0M1606 2373h0M1590 2401h0M1731 2362h0M1648 2337h0M1611 2451h0M1638 2344h0M1651 2353h0M1745 2314h0M1706 2458h0M1588 2316h0M1573 2292h0M1620 2327h0M1700 2397h0M1759 2472h0M1730 2484h0M1667 2411h0M1574 2429h0M1728 2447h0M1570 2457h0M1702 2422h0M1602 2336h0M1591 2437h0M1654 2319h0M1620 2304h0M1638 2386h0M1595 2351h0M1565 2370h0M1706 2316h0M1580 2437h0M1685 2331h0M1710 2365h0M1627 2340h0M1665 2351h0M1675 2364h0M1659 2401h0M1695 2459h0M1607 2348h0M1698 2439h0M1562 2321h0M1564 2334h0M1575 2325h0M1667 2424h0M1665 2464h0M1666 2477h0M1606 2317h0M1685 2364h0M1627 2467h0M1675 2374h0M1736 2467h0M1647 2339h0M1657 2363h0M1745 2360h0M1650 2424h0M1600 2292h0M1666 2452h0M1599 2290h0M1591 2317h0M1595 2464h0M1674 2311h0M1595 2451h0M1666 2446h0M1762 2374h0M1654 2444h0M1701 2479h0M1747 2432h0M1724 2479h0M1759 2292h0M1694 2332h0M1658 2279h0M1573 2293h0M1680 2477h0M1629 2383h0M1661 2470h0M1610 2355h0" stroke="#ff2020" stroke-width="2.2" stroke-linecap="square"/>
<path d="M1741 2447h0M1647 2292h0M1619 2483h0M1592 2317h0M1673 2445h0M1607 2327h0M1603 2451h0M1634 2454h0M1658 2410h0M1742 2463h0M1654 2445h0M1621 2435h0M1726 2443h0M1725 2439h0M1758 2444h0M1684 2306h0M1607 2431h0M1757 2284h0M1618 2428h0M1649 2385h0M1741 2390h0M1626 2415h0M1563 2330h0M1755 2416h0M1597 2306h0M1765 2290h0M1745 2442h0M1691 2302h0M1590 2434h0M1641 2482h0M1739 2369h0M1677 2418h0M1614 2392h0M1700 2394h0M1605 2469h0M1753 2407h0M1610 2440h0M1679 2376h0M1619 2324h0M1762 2293h0M1751 2416h0M1739 2470h0M1764 2482h0M1767 2418h0M1646 2462h0M1616 2357h0M1699 2322h0M1593 2346h0M1745 2473h0M1762 2414h0M1629 2347h0M1737 2372h0M1735 2411h0M1659 2447h0M1583 2298h0M1759 2299h0M1766 2448h0M1765 2339h0M1570 2286h0M1595 2381h0M1717 2410h0M1672 2357h0M1578 2362h0M1744 2316h0M1664 2309h0M1570 2469h0M1735 2387h0M1737 2408h0M1594 2376h0M1638 2368h0M1633 2432h0M1731 2298h0M1715 2478h0M1641 2478h0M1745 2371h0M1752 2467h0M1637 2378h0M1605 2408h0M1614 2281h0M1605 2383h0M1693 2297h0M1758 2328h0M1690 2357h0M1563 2429h0M1677 2324h0M1615 2435h0M1568 2387h0M1707 2383h0M1637 2394h0M1630 2380h0M1577 2305h0M1629 2332h0M1592 2451h0M1593 2467h0M1710 2388h0M1638 2357h0M1745 2474h0M1564 2304h0M1691 2280h0M1620 2336h0M1719 2429h0M1651 2296h0M1746 2339h0M1765 2333h0M1695 2434h0M1736 2300h0M1645 2324h0M1709 2415h0M1659 2452h0M1612 2292h0M1725 2480h0M1625 2389h0M1611 2462h0M1713 2341h0M1620 2321h0M1623 2385h0M1598 2465h0M1680 2307h0M1764 2462h0M1622 2480h0M1724 2315h0M1644 2416h0M1698 2424h0M1592 2303h0M1709 2355h0M1592 2409h0M1690 2464h0M1631 2451h0M1748 2401h0M1650 2422h0M1624 2467h0M1745 2462h0M1634 2372h0M1757 2427h0M1653 2445h0M1569 2483h0M1711 2436h0M1633 2361h0M1742 2328h0M1730 2385h0M1581 2422h0M1571 2286h0M1693 2372h0M1697 2297h0M1625 2476h0M1739 2445h0M1679 2388h0M1604 2427h0M1733 2457h0M1609 2290h0M1719 2454h0M1609 2414h0M1739 2404h0M1591 2420h0M1663 2298h0M1621 2377h0M1697 2423h0M1679 2303h0M1602 2429h0M1748 2429h0M1711 2320h0M1651 2409h0M1584 2380h0M1642 2402h0M1711 2334h0M1687 2411h0M1597 2423h0M1741 2416h0M1651 2306h0M1610 2346h0M1709 2474h0M1717 2445h0M1662 2452h0M1635 2369h0M1631 2378h0M1741 2380h0M1650 2441h0M1643 2317h0M1600 2329h0M1569 2294h0M1626 2288h0M1752 2340h0M1762 2368h0M1657 2298h0M1651 2473h0M1650 2307h0M1736 2427h0M1697 2384h0M1564 2469h0M1749 2452h0M1565 2407h0M1711 2449h0M1633 2384h0M1654 2435h0M1653 2419h0M1721 2416h0M1580 2313h0M1611 2453h0M1603 2329h0M1760 2304h0M1618 2298h0M1685 2374h0M1672 2353h0M1674 2312h0M1695 2457h0M1563 2352h0M1728 2347h0M1607 2478h0M1601 2435h0M1612 2285h0M1628 2460h0M1709 2341h0M1621 2406h0M1572 2321h0M1623 2363h0M1737 2367h0M1572 2362h0M1749 2301h0M1709 2483h0M1670 2360h0M1717 2473h0M1737 2302h0M1699 2462h0M1631 2381h0M1721 2432h0M1588 2444h0M1661 2285h0M1598 2365h0M1691 2383h0M1716 2447h0M1684 2416h0M1645 2463h0M1743 2384h0M1613 2340h0M1587 2374h0M1698 2463h0M1728 2422h0M1749 2428h0M1572 2320h0M1561 2402h0M1761 2435h0M1731 2410h0M1639 2356h0M1614 2368h0M1579 2290h0M1663 2477h0M1584 2321h0M1761 2333h0M1685 2433h0M1661 2462h0M1597 2356h0M1762 2312h0M1563 2453h0M1641 2318h0M1715 2353h0M1612 2382h0M1663 2349h0M1680 2308h0M1621 2459h0M1632 2450h0M1716 2447h0M1761 2286h0M1727 2409h0M1562 2316h0M1695 2285h0M1656 2315h0M1757 2326h0M1722 2390h0M1723 2481h0M1741 2330h0M1621 2360h0M1567 2356h0M1676 2340h0M1594 2316h0M1642 2383h0M1634 2354h0M1652 2472h0M1692 2285h0M1679 2425h0M1563 2385h0M1586 2399h0M1669 2314h0M1657 2426h0M1609 2471h0M1754 2401h0M1702 2330h0M1577 2470h0M1724 2378h0M1626 2483h0M1644 2330h0M1669 2311h0M1765 2365h0M1606 2345h0M1586 2481h0M1731 2335h0M1753 2294h0M1579 2415h0M1609 2478h0M1659 2353h0M1574 2443h0M1690 2474h0M1610 2452h0M1567 2451h0M1582 2439h0M1681 2388h0M1605 2434h0M1660 2474h0M1648 2381h0M1712 2367h0M1714 2402h0M1600 2414h0M1580 2390h0M1594 2390h0M1660 2330h0M1604 2479h0M1668 2417h0M1567 2388h0M1631 2327h0M1681 2297h0M1636 2321h0M1637 2286h0M1610 2351h0M1644 2308h0M1704 2411h0M1618 2440h0M1692 2391h0M1634 2390h0M1649 2459h0M1595 2379h0M1622 2400h0M1583 2470h0M1760 2306h0M1676 2462h0M1579 2383h0M1662 2353h0M1730 2369h0M1706 2341h0M1735 2366h0M1565 2450h0M1756 2395h0M1732 2312h0M1595 2354h0M1717 2437h0M1592 2314h0M1745 2415h0M1562 2375h0M1616 2293h0M1611 2387h0M1682 2365h0M1664 2285h0" stroke="#20ecec" stroke-width="2.2" stroke-linecap="square"/>
<path d="M1612 2388h0M1680 2423h0M1642 2279h0M1709 2329h0M1686 2316h0M1602 2440h0M1739 2388h0M1639 2428h0M1763 2485h0M1673 2355h0M1751 2412h0M1579 2382h0M1677 2308h0M1700 2324h0M1689 2391h0M1618 2398h0M1753 2389h0M1687 2478h0M1703 2354h0M1697 2375h0M1654 2424h0M1567 2409h0M1585 2356h0M1743 2437h0M1732 2457h0M1629 2439h0M1563 2327h0M1636 2358h0M1762 2322h0M1565 2425h0M1641 2300h0M1584 2467h0M1738 2359h0M1661 2326h0M1699 2350h0M1583 2398h0M1587 2460h0M1632 2405h0M1748 2345h0M1660 2365h0M1567 2282h0M1583 2462h0M1646 2298h0M1695 2409h0M1693 2319h0M1637 2393h0M1683 2480h0M1597 2338h0M1665 2452h0M1703 2279h0M1623 2319h0M1630 2286h0M1706 2417h0M1651 2312h0M1765 2413h0" stroke="#ffff00" stroke-width="2.2" stroke-linecap="square"/>
</g>
<clipPath id="c32"><rect x="1771.3" y="2277.3" width="209.7" height="209.4"/></clipPath>
<g clip-path="url(#c32)">
<rect x="1771.3" y="2277.3" width="209.7" height="209.4" fill="#000"/>
<rect x="1771.3" y="2277.3" width="209.7" height="209.4" filter="url(#tex)"/>
<g fill="#000" opacity="0.5" filter="url(#vb2)"></g><g stroke="#fff" opacity="0.12" filter="url(#vb)"><ellipse cx="1872" cy="2287.8" rx="18.8" ry="14.6" fill="none" stroke-width="6"/><ellipse cx="1953.7" cy="2388.3" rx="11.4" ry="11.4" fill="none" stroke-width="6"/><path d="M1960 2402.9 L1964.2 2444.8" fill="none" stroke-width="17.4" stroke-linecap="round" stroke-linejoin="round"/><path d="M1809 2350.6 L1813.2 2402.9" fill="none" stroke-width="17.4" stroke-linecap="round" stroke-linejoin="round"/><ellipse cx="1804.9" cy="2465.8" rx="12.5" ry="12.5" fill="none" stroke-width="6"/><ellipse cx="1876.2" cy="2434.3" rx="10.4" ry="10.4" fill="none" stroke-width="6"/></g><g fill="#000" filter="url(#vb)"><ellipse cx="1872" cy="2287.8" rx="16.8" ry="12.6"/><ellipse cx="1953.7" cy="2388.3" rx="9.4" ry="9.4"/><path d="M1960 2402.9 L1964.2 2444.8" fill="none" stroke="#000" stroke-width="8.4" stroke-linecap="round" stroke-linejoin="round"/><path d="M1809 2350.6 L1813.2 2402.9" fill="none" stroke="#000" stroke-width="8.4" stroke-linecap="round" stroke-linejoin="round"/><ellipse cx="1804.9" cy="2465.8" rx="10.5" ry="10.5"/><ellipse cx="1876.2" cy="2434.3" rx="8.4" ry="8.4"/></g>
<path d="M1890 2479h0M1861 2459h0M1813 2308h0M1845 2283h0M1865 2362h0M1892 2464h0M1799 2325h0M1877 2408h0M1842 2318h0M1832 2381h0M1929 2433h0M1957 2279h0M1789 2380h0M1820 2484h0M1879 2474h0M1945 2460h0M1782 2458h0M1931 2289h0M1934 2286h0M1940 2405h0M1893 2293h0M1946 2380h0M1962 2315h0M1860 2378h0M1812 2436h0M1971 2287h0M1901 2395h0M1901 2417h0M1918 2457h0M1896 2370h0M1891 2409h0M1797 2482h0M1890 2387h0M1896 2320h0M1823 2355h0M1884 2379h0M1928 2339h0M1960 2360h0M1790 2331h0M1971 2473h0M1829 2460h0M1977 2351h0M1773 2341h0M1874 2343h0M1943 2307h0M1978 2437h0M1825 2279h0M1784 2377h0M1843 2379h0M1841 2372h0M1948 2325h0M1792 2447h0M1974 2447h0M1965 2471h0M1940 2294h0M1792 2346h0M1879 2484h0M1904 2315h0M1838 2401h0M1823 2466h0M1919 2403h0M1918 2395h0M1879 2409h0M1879 2388h0M1872 2396h0M1829 2379h0M1828 2410h0M1918 2457h0M1874 2370h0M1787 2381h0M1872 2382h0M1877 2368h0M1940 2342h0M1788 2394h0M1955 2330h0M1933 2481h0M1927 2415h0M1806 2386h0M1978 2415h0M1830 2335h0M1977 2437h0M1781 2350h0M1968 2309h0M1968 2334h0M1825 2336h0M1861 2310h0M1973 2457h0M1843 2387h0M1819 2471h0M1954 2309h0M1933 2337h0M1925 2299h0M1816 2466h0M1949 2470h0M1858 2320h0M1851 2469h0M1878 2397h0M1786 2439h0M1941 2348h0M1834 2297h0M1843 2337h0M1853 2455h0M1820 2328h0M1914 2291h0M1942 2291h0M1913 2414h0M1928 2463h0M1876 2425h0M1841 2310h0M1850 2402h0M1888 2358h0M1927 2450h0M1888 2452h0M1846 2442h0M1853 2378h0M1930 2405h0M1941 2290h0M1789 2293h0M1842 2285h0M1890 2415h0M1841 2433h0M1884 2364h0M1790 2372h0M1867 2466h0M1952 2364h0M1899 2308h0M1818 2465h0M1801 2485h0M1940 2410h0M1820 2466h0M1777 2292h0M1942 2427h0M1968 2287h0M1782 2281h0M1909 2313h0M1895 2348h0M1782 2342h0M1878 2423h0M1943 2319h0M1868 2319h0M1877 2327h0M1824 2402h0M1976 2388h0M1882 2313h0M1922 2379h0M1914 2445h0M1954 2431h0M1938 2367h0M1909 2329h0M1900 2310h0M1809 2404h0M1849 2387h0M1904 2327h0M1852 2324h0M1819 2383h0M1823 2483h0M1972 2450h0M1930 2369h0M1795 2419h0M1891 2459h0M1922 2409h0M1839 2414h0M1795 2303h0M1931 2427h0M1906 2309h0M1829 2280h0M1808 2441h0M1809 2482h0M1925 2396h0M1805 2371h0M1862 2428h0M1836 2477h0M1798 2443h0M1858 2335h0M1836 2297h0M1883 2356h0M1922 2369h0M1864 2324h0M1863 2425h0M1948 2453h0M1887 2452h0M1873 2370h0M1900 2403h0M1936 2365h0M1937 2396h0M1803 2381h0M1847 2393h0M1886 2456h0M1848 2310h0M1943 2353h0M1835 2397h0M1949 2413h0M1853 2380h0M1825 2434h0M1934 2454h0M1887 2465h0M1806 2378h0M1834 2452h0M1864 2443h0M1820 2304h0M1884 2380h0M1970 2484h0M1806 2335h0M1806 2446h0M1908 2459h0M1918 2358h0M1917 2443h0M1885 2428h0M1927 2350h0M1934 2428h0M1929 2405h0M1892 2345h0M1921 2445h0M1956 2280h0M1884 2344h0M1781 2335h0M1886 2416h0M1953 2369h0M1781 2399h0M1880 2416h0M1830 2360h0M1894 2428h0M1909 2402h0M1949 2409h0M1964 2343h0M1797 2287h0M1903 2356h0M1897 2360h0M1783 2463h0M1915 2412h0M1902 2404h0M1837 2413h0M1908 2447h0M1874 2410h0M1965 2282h0M1918 2321h0M1842 2444h0M1840 2484h0M1886 2280h0M1802 2360h0M1969 2324h0M1832 2331h0M1812 2409h0M1803 2398h0M1952 2294h0M1949 2306h0M1913 2475h0M1776 2306h0M1886 2434h0M1785 2282h0M1900 2410h0M1828 2473h0M1820 2335h0M1955 2435h0M1865 2473h0M1961 2359h0M1793 2386h0M1779 2480h0M1844 2323h0M1930 2379h0M1835 2481h0M1782 2462h0M1831 2381h0M1805 2311h0M1863 2466h0M1788 2318h0M1915 2412h0M1922 2421h0M1784 2408h0M1824 2340h0M1828 2435h0M1842 2303h0M1966 2402h0M1947 2471h0M1935 2381h0M1777 2380h0M1979 2318h0M1967 2303h0M1924 2376h0M1779 2442h0M1883 2478h0M1897 2441h0M1809 2337h0M1847 2441h0M1824 2342h0M1789 2429h0M1905 2453h0M1913 2340h0M1931 2316h0M1824 2334h0M1824 2345h0M1828 2344h0M1964 2364h0M1946 2361h0M1943 2408h0M1898 2399h0M1889 2293h0M1874 2340h0M1825 2418h0M1863 2385h0M1876 2445h0M1954 2454h0M1865 2418h0M1911 2360h0M1901 2336h0M1773 2338h0M1830 2297h0M1943 2396h0M1839 2398h0M1910 2457h0M1817 2334h0M1973 2338h0M1899 2399h0M1973 2359h0M1884 2318h0M1778 2325h0M1834 2392h0M1806 2312h0M1788 2336h0M1853 2320h0M1797 2425h0M1802 2302h0M1824 2463h0M1852 2325h0M1884 2395h0M1943 2293h0M1972 2410h0M1932 2484h0M1827 2417h0M1885 2447h0M1893 2432h0M1820 2484h0M1952 2281h0M1921 2407h0M1836 2436h0M1922 2366h0M1825 2438h0M1861 2364h0M1801 2381h0M1825 2330h0M1945 2355h0M1807 2382h0M1875 2347h0M1777 2427h0M1827 2442h0M1915 2392h0M1786 2367h0M1796 2458h0M1797 2412h0M1905 2485h0M1866 2368h0M1884 2362h0M1929 2337h0M1893 2412h0M1971 2359h0M1968 2468h0M1928 2424h0M1897 2424h0M1963 2306h0M1781 2330h0M1829 2312h0M1850 2448h0M1890 2371h0M1840 2356h0M1878 2451h0M1783 2361h0M1920 2429h0M1938 2444h0M1844 2442h0M1796 2340h0M1910 2296h0M1923 2377h0M1845 2391h0M1866 2420h0M1939 2454h0M1926 2323h0M1872 2341h0M1973 2347h0M1920 2329h0M1877 2352h0" stroke="#ff2020" stroke-width="2.2" stroke-linecap="square"/>
<path d="M1924 2429h0M1801 2342h0M1885 2416h0M1958 2478h0M1839 2444h0M1859 2321h0M1779 2332h0M1925 2292h0M1859 2336h0M1804 2283h0M1808 2389h0M1896 2318h0M1928 2485h0M1978 2300h0M1829 2296h0M1934 2373h0M1848 2305h0M1975 2393h0M1807 2324h0M1968 2456h0M1816 2353h0M1775 2463h0M1827 2302h0M1891 2393h0M1896 2349h0M1849 2470h0M1855 2406h0M1935 2330h0M1823 2294h0M1835 2417h0M1975 2417h0M1805 2360h0M1833 2354h0M1900 2289h0M1793 2373h0M1933 2479h0M1972 2439h0M1966 2403h0M1885 2444h0M1832 2387h0M1973 2442h0M1922 2322h0M1911 2394h0M1802 2374h0M1854 2406h0M1793 2312h0M1957 2399h0M1847 2299h0M1813 2330h0M1809 2321h0M1776 2467h0M1783 2458h0M1868 2480h0M1828 2346h0M1887 2457h0M1902 2444h0M1825 2364h0M1912 2299h0M1819 2325h0M1806 2440h0M1915 2325h0M1876 2400h0M1968 2350h0M1883 2419h0M1826 2334h0M1862 2445h0M1891 2325h0M1850 2320h0M1788 2480h0M1800 2318h0M1926 2438h0M1913 2353h0M1934 2461h0M1776 2328h0M1789 2397h0M1791 2368h0M1811 2385h0M1925 2386h0M1799 2323h0M1842 2286h0M1937 2307h0M1902 2326h0M1972 2443h0M1884 2299h0M1895 2421h0M1844 2473h0M1915 2474h0M1927 2291h0M1914 2299h0M1976 2412h0M1914 2413h0M1955 2303h0M1912 2412h0M1943 2452h0M1917 2399h0M1867 2421h0M1945 2286h0M1854 2316h0M1907 2358h0M1873 2334h0M1967 2331h0M1822 2324h0M1920 2440h0M1919 2353h0M1847 2379h0M1908 2323h0M1826 2428h0M1955 2425h0M1966 2384h0M1801 2411h0M1779 2357h0M1938 2354h0M1966 2295h0M1816 2347h0M1847 2485h0M1939 2415h0M1829 2416h0M1968 2317h0M1785 2374h0M1949 2482h0M1843 2291h0M1880 2372h0M1863 2398h0M1950 2464h0M1831 2435h0M1928 2334h0M1785 2334h0M1949 2338h0M1935 2387h0M1790 2470h0M1910 2437h0M1877 2352h0M1871 2470h0M1800 2330h0M1790 2408h0M1833 2329h0M1901 2349h0M1802 2302h0M1832 2448h0M1950 2481h0M1775 2299h0M1890 2469h0M1953 2327h0M1929 2399h0M1801 2305h0M1848 2394h0M1946 2377h0M1974 2347h0M1804 2317h0M1804 2418h0M1883 2316h0M1971 2336h0M1978 2472h0M1775 2279h0M1852 2352h0M1883 2415h0M1876 2406h0M1784 2363h0M1954 2398h0M1843 2345h0M1943 2454h0M1880 2470h0M1871 2414h0M1923 2443h0M1795 2451h0M1892 2368h0M1903 2452h0M1971 2467h0M1972 2371h0M1827 2377h0M1866 2312h0M1956 2485h0M1785 2450h0M1812 2474h0M1887 2350h0M1923 2468h0M1866 2332h0M1951 2400h0M1914 2280h0M1781 2322h0M1774 2460h0M1802 2318h0M1873 2481h0M1895 2348h0M1926 2409h0M1961 2477h0M1798 2288h0M1897 2418h0M1822 2367h0M1928 2396h0M1862 2310h0M1945 2393h0M1817 2482h0M1881 2459h0M1806 2320h0M1973 2364h0M1851 2477h0M1789 2324h0M1790 2449h0M1956 2318h0M1963 2450h0M1805 2300h0M1934 2370h0M1857 2348h0M1846 2455h0M1975 2360h0M1948 2347h0M1905 2334h0M1932 2415h0M1856 2442h0M1978 2433h0M1972 2340h0M1871 2290h0M1878 2340h0M1963 2285h0M1970 2335h0M1789 2483h0M1789 2375h0M1922 2478h0M1973 2459h0M1820 2292h0M1893 2412h0M1963 2389h0M1973 2400h0M1955 2331h0M1778 2402h0M1938 2474h0M1850 2468h0M1933 2412h0M1822 2430h0M1962 2281h0M1903 2365h0M1785 2437h0M1947 2480h0M1933 2292h0M1965 2302h0M1834 2482h0M1972 2352h0M1827 2450h0M1959 2464h0M1798 2397h0M1850 2398h0M1861 2392h0M1846 2315h0M1893 2429h0M1918 2453h0M1943 2455h0M1943 2481h0M1886 2286h0M1956 2472h0M1932 2451h0M1938 2388h0M1972 2374h0M1859 2328h0M1857 2283h0M1957 2470h0M1902 2351h0M1790 2427h0M1849 2457h0M1861 2374h0M1915 2439h0M1968 2385h0M1795 2363h0M1824 2405h0M1967 2452h0M1965 2401h0M1824 2439h0M1868 2410h0M1969 2398h0M1802 2454h0M1775 2474h0M1886 2461h0M1830 2456h0M1914 2403h0M1967 2377h0M1822 2463h0M1893 2383h0M1893 2374h0M1926 2338h0M1847 2335h0M1889 2445h0M1970 2445h0M1859 2368h0M1807 2368h0M1976 2404h0M1871 2376h0M1810 2451h0M1845 2341h0M1969 2310h0M1948 2334h0M1806 2372h0M1863 2482h0M1919 2295h0M1933 2292h0M1808 2345h0M1783 2429h0M1856 2289h0M1876 2365h0M1782 2394h0M1905 2294h0M1809 2296h0M1874 2327h0M1975 2456h0M1900 2328h0M1826 2463h0M1948 2347h0M1938 2304h0M1857 2360h0M1836 2432h0M1891 2337h0M1910 2316h0M1837 2320h0M1881 2345h0M1780 2303h0M1837 2459h0M1865 2327h0M1975 2352h0M1908 2431h0M1807 2388h0M1840 2429h0M1831 2306h0M1831 2389h0M1801 2336h0M1888 2478h0M1921 2423h0M1948 2291h0M1826 2353h0M1913 2433h0M1899 2306h0M1851 2397h0M1854 2294h0M1854 2439h0M1887 2284h0M1825 2441h0M1783 2428h0M1790 2482h0M1889 2415h0M1865 2391h0M1900 2431h0M1916 2466h0M1885 2297h0M1780 2295h0M1839 2295h0M1813 2328h0M1881 2321h0M1802 2354h0M1952 2461h0M1897 2458h0M1905 2392h0M1834 2320h0" stroke="#20ecec" stroke-width="2.2" stroke-linecap="square"/>
<path d="M1887 2352h0M1976 2296h0M1884 2349h0M1825 2477h0M1841 2443h0M1955 2298h0M1783 2332h0M1853 2378h0M1959 2479h0M1825 2373h0M1872 2478h0M1780 2315h0M1787 2414h0M1975 2283h0M1978 2336h0M1909 2468h0M1804 2279h0M1823 2354h0M1870 2354h0M1885 2474h0M1787 2287h0M1977 2447h0M1928 2475h0M1979 2380h0M1886 2296h0M1918 2284h0M1895 2386h0M1853 2407h0M1899 2340h0M1828 2312h0M1944 2422h0M1871 2337h0M1977 2413h0M1908 2319h0M1792 2282h0M1950 2462h0M1976 2417h0M1887 2286h0M1909 2432h0M1918 2377h0M1878 2375h0M1974 2438h0M1905 2356h0M1886 2423h0M1935 2366h0" stroke="#ffff00" stroke-width="2.2" stroke-linecap="square"/>
</g>
<text x="1143.7" y="1634.6" font-size="29" fill="#ee22ee"><tspan font-style="italic">IL15</tspan> (ISS)</text>
<text x="1143.7" y="1845.5" font-size="29" fill="#ff2a2a" font-style="italic">IL15</text>
<text x="1143.7" y="2057.2" font-size="29" fill="#3ce2e2" font-style="italic">IL2RB</text>
<text x="1143.7" y="2270.6" font-size="29" fill="#f5f51a" font-style="italic">IL2RG</text>
<text x="1143.7" y="2483" font-size="29" fill="#fff">MERGE</text>
<text x="1940" y="2471.3" font-size="24" fill="#fff" text-anchor="middle">200 μm</text>
<line x1="1917" y1="2478.5" x2="1965.2" y2="2478.5" stroke="#fff" stroke-width="3.2"/>
<line x1="1127.2" y1="1643.5" x2="1127.2" y2="2491.5" stroke="#111" stroke-width="2"/>
<text transform="translate(1118 2015) rotate(-90)" font-size="27.3" fill="#4da9f0" text-anchor="middle">Stereo-seq (bin10)</text>
<text x="42.5" y="2216" font-size="25" font-weight="bold">G</text>
<defs><radialGradient id="ballO" cx="0.4" cy="0.35" r="0.65"><stop offset="0" stop-color="#ffffff"/><stop offset="0.35" stop-color="#f8b58a"/><stop offset="1" stop-color="#ea6a22"/></radialGradient><radialGradient id="ballP" cx="0.4" cy="0.35" r="0.65"><stop offset="0" stop-color="#ffffff"/><stop offset="0.4" stop-color="#e4ccd8"/><stop offset="1" stop-color="#b08aa0"/></radialGradient><linearGradient id="strG" x1="0" y1="0" x2="0" y2="1"><stop offset="0" stop-color="#f6bcd2"/><stop offset="1" stop-color="#e6609a"/></linearGradient><linearGradient id="arO" gradientUnits="userSpaceOnUse" x1="408" y1="2315" x2="300" y2="2246"><stop offset="0" stop-color="#fff2e8"/><stop offset="0.5" stop-color="#fbb482"/><stop offset="1" stop-color="#ff6a10"/></linearGradient><linearGradient id="arP" gradientUnits="userSpaceOnUse" x1="755" y1="2328" x2="890" y2="2291"><stop offset="0" stop-color="#fbe8f2"/><stop offset="0.5" stop-color="#dca6d0"/><stop offset="1" stop-color="#c070b0"/></linearGradient></defs>
<path d="M104.4 2428 L104.4 2449 Q134.6 2455 164.7 2449 L164.7 2428 Z" fill="#bee3f5"/>
<rect x="104.4" y="2273.5" width="60.3" height="164" rx="7" ry="7" fill="#f2c8d3" stroke="#e9b3c2" stroke-width="1"/>
<path d="M108.4 2285 Q110.4 2276 130.4 2278" fill="none" stroke="#fff" stroke-width="1.5" opacity="0.9"/>
<path d="M107.4 2280 L107.4 2410" stroke="#fff" stroke-width="1" opacity="0.6"/>
<path d="M166.3 2428 L166.3 2449 Q197.2 2455 228 2449 L228 2428 Z" fill="#bee3f5"/>
<rect x="166.3" y="2273.5" width="61.7" height="164" rx="16" ry="16" fill="#f2c8d3" stroke="#e9b3c2" stroke-width="1"/>
<path d="M170.3 2285 Q172.3 2276 192.3 2278" fill="none" stroke="#fff" stroke-width="1.5" opacity="0.9"/>
<path d="M169.3 2280 L169.3 2410" stroke="#fff" stroke-width="1" opacity="0.6"/>
<path d="M229.9 2428 L229.9 2449 Q260.4 2455 290.9 2449 L290.9 2428 Z" fill="#bee3f5"/>
<rect x="229.9" y="2273.5" width="61" height="164" rx="7" ry="7" fill="#f2c8d3" stroke="#e9b3c2" stroke-width="1"/>
<path d="M233.9 2285 Q235.9 2276 255.9 2278" fill="none" stroke="#fff" stroke-width="1.5" opacity="0.9"/>
<path d="M232.9 2280 L232.9 2410" stroke="#fff" stroke-width="1" opacity="0.6"/>
<ellipse cx="134.2" cy="2375.5" rx="17.7" ry="22.5" fill="#8e80aa"/>
<ellipse cx="194.9" cy="2375.5" rx="17.7" ry="22.5" fill="#8e80aa"/>
<ellipse cx="264.9" cy="2375.5" rx="17.7" ry="22.5" fill="#8e80aa"/>
<path d="M172 2256.5 L172 2279M176 2255.2 L176 2279M180 2253.9 L180 2279M184 2252.6 L184 2279M188 2251.3 L188 2279M192 2250 L192 2279M196 2251.3 L196 2279M200 2252.6 L200 2279M204 2253.9 L204 2279M208 2255.2 L208 2279M212 2256.5 L212 2279M216 2257.8 L216 2279M220 2259.1 L220 2279" stroke="#eba8bb" stroke-width="1"/>
<g fill="#f9a46c"><rect x="264" y="2258" width="7" height="17"/><circle cx="259" cy="2258" r="7"/><circle cx="276" cy="2258" r="7"/></g>
<circle cx="268" cy="2253" r="4.5" fill="#fff"/>
<circle cx="268.7" cy="2245.8" r="8.7" fill="url(#ballO)"/>
<text x="276.4" y="2231.4" font-size="21.7" fill="#f9a46c" text-anchor="middle">FGFR2</text>
<path d="M407.8 2314.9 C390 2285 360 2258 305 2247" fill="none" stroke="url(#arO)" stroke-width="4.5"/>
<path d="M282.5 2245.8 L313 2234.6 L304 2247 L309.8 2258.7 Z" fill="#ff6a10"/>
<text x="420" y="2337.3" font-size="21.5" fill="#f9a46c" text-anchor="middle">FGF2/FGF7</text>
<circle cx="423.2" cy="2351.1" r="8.7" fill="url(#ballO)"/>
<circle cx="449.5" cy="2369.4" r="5" fill="url(#ballO)"/>
<text x="209.3" y="2488.2" font-size="21.3" text-anchor="middle">Epithelium</text>
<path d="M428.6 2362.4 C428.6 2362.4 448.4 2376 457.2 2380.8 C466 2385.6 475.2 2389.3 481.7 2391 C488.2 2392.7 492.9 2392.7 496 2391 C499.1 2389.3 499.8 2384.6 500.1 2380.8 C500.5 2377.1 501.2 2373.9 498.1 2368.5 C495 2363.1 481.7 2348.1 481.7 2348.1 C481.7 2348.1 497.4 2357.6 506.3 2360.3 C515.2 2363 522 2364.9 534.9 2364.4 C547.8 2363.9 568.2 2357.8 583.9 2357.1 C599.6 2356.4 615.3 2357.7 628.9 2360.3 C642.5 2362.9 654.7 2369.2 665.6 2372.6 C676.5 2376 682.6 2379.1 694.2 2380.8 C705.8 2382.5 721.5 2382.1 735.1 2382.8 C748.7 2383.5 765.1 2383.1 776 2384.9 C786.9 2386.7 800.5 2393.8 800.5 2393.8 C800.5 2393.8 774.6 2389.8 759.6 2391 C744.6 2392.2 726.3 2398.1 710.6 2401.2 C694.9 2404.3 682 2406 665.6 2409.4 C649.2 2412.8 626.8 2419.2 612.5 2421.6 C598.2 2424 592.7 2424.4 579.8 2423.7 C566.9 2423 549.9 2419.3 534.9 2417.6 C519.9 2415.9 503.9 2413.2 489.9 2413.5 C475.9 2413.8 451.1 2419.6 451.1 2419.6 C451.1 2419.6 463.7 2409.7 465.4 2405.3 C467.1 2400.9 464.7 2397.8 461.3 2393 C457.9 2388.2 450.4 2381.8 445 2376.7 C439.6 2371.6 428.6 2362.4 428.6 2362.4Z" fill="url(#strG)"/>
<ellipse cx="600.2" cy="2391" rx="46" ry="19.6" transform="rotate(6 600.2 2391)" fill="#7e1b82"/>
<path d="M558 2398 Q600 2412 645 2394 Q640 2408 600 2411 Q570 2410 558 2398 Z" fill="#6a0f6e"/>
<text x="588" y="2489" font-size="21.6" text-anchor="middle">Stroma</text>
<text x="747" y="2344" font-size="20.6" fill="#b96ab8" text-anchor="middle">IL15</text>
<circle cx="717.5" cy="2357.5" r="10" fill="url(#ballP)"/>
<circle cx="712.6" cy="2380.8" r="5" fill="url(#ballP)"/>
<path d="M755.5 2327.6 C790 2300 830 2292 885 2290.9" fill="none" stroke="url(#arP)" stroke-width="4.5"/>
<path d="M908.8 2290.9 L880.2 2279.6 L886 2291.5 L884.3 2305.2 Z" fill="#c070b0"/>
<text x="927.2" y="2276.6" font-size="21.3" fill="#b96ab8" text-anchor="middle">IL2RB/IL2RG</text>
<ellipse cx="995.8" cy="2380.8" rx="81.7" ry="85.8" transform="rotate(-12 995.8 2380.8)" fill="#a9cbea"/>
<path d="M1004.8 2307.2 C1040 2305 1068 2335 1066.1 2372.6 C1064 2420 1035 2452 1000.7 2450.2 C975 2449 950 2435 947.6 2413.5 C946 2395 962 2390 959.9 2372.6 C958 2350 962 2335 968 2327.6 C978 2314 992 2308 1004.8 2307.2 Z" fill="#b98ba6"/>
<path d="M1010 2309 C1048 2312 1070 2345 1066 2380 C1062 2415 1045 2440 1030 2446 C1050 2420 1058 2395 1055 2370 C1052 2340 1035 2318 1010 2309 Z" fill="#c466b0"/>
<circle cx="945.6" cy="2344" r="4" fill="#8b3d8f"/>
<circle cx="933.3" cy="2357" r="3.3" fill="#8b3d8f"/>
<circle cx="949.7" cy="2356" r="3" fill="#8b3d8f"/>
<circle cx="943.5" cy="2372.6" r="5" fill="#8b3d8f"/>
<circle cx="925.2" cy="2393" r="4" fill="#8b3d8f"/>
<circle cx="941.5" cy="2391" r="3" fill="#8b3d8f"/>
<circle cx="930.4" cy="2408.6" r="5.7" fill="#8b3d8f"/>
<circle cx="950.9" cy="2438.8" r="3.3" fill="#8b3d8f"/>
<circle cx="968" cy="2452.3" r="5" fill="#8b3d8f"/>
<circle cx="1035.5" cy="2445.3" r="5" fill="#8b3d8f"/>
<circle cx="980.5" cy="2453" r="2" fill="#8b3d8f"/>
<circle cx="1009" cy="2458.5" r="1.8" fill="#8b3d8f"/>
<circle cx="1021" cy="2451" r="1.3" fill="#8b3d8f"/>
<circle cx="949.7" cy="2317.5" r="1.5" fill="#8b3d8f"/>
<circle cx="972" cy="2307" r="1.3" fill="#8b3d8f"/>
<circle cx="978" cy="2303" r="1.2" fill="#8b3d8f"/>
<circle cx="994.6" cy="2303" r="1.2" fill="#8b3d8f"/>
<circle cx="935.3" cy="2344" r="1.2" fill="#8b3d8f"/>
<circle cx="931" cy="2374.6" r="1.2" fill="#8b3d8f"/>
<circle cx="943.5" cy="2421.6" r="1.3" fill="#8b3d8f"/>
<circle cx="1048" cy="2432" r="1.2" fill="#8b3d8f"/>
<circle cx="951.7" cy="2331" r="1.5" fill="#8b3d8f"/>
<g fill="#c060a8"><circle cx="936" cy="2292" r="5.5"/><circle cx="931" cy="2305" r="5.5"/><circle cx="942" cy="2303" r="5"/><path d="M938 2302 L950 2313 L946 2316 L934 2306 Z"/></g>
<circle cx="923" cy="2293" r="9" fill="url(#ballP)"/>
<text x="1004" y="2489" font-size="21" text-anchor="middle">NK cells</text></svg></body></html>
